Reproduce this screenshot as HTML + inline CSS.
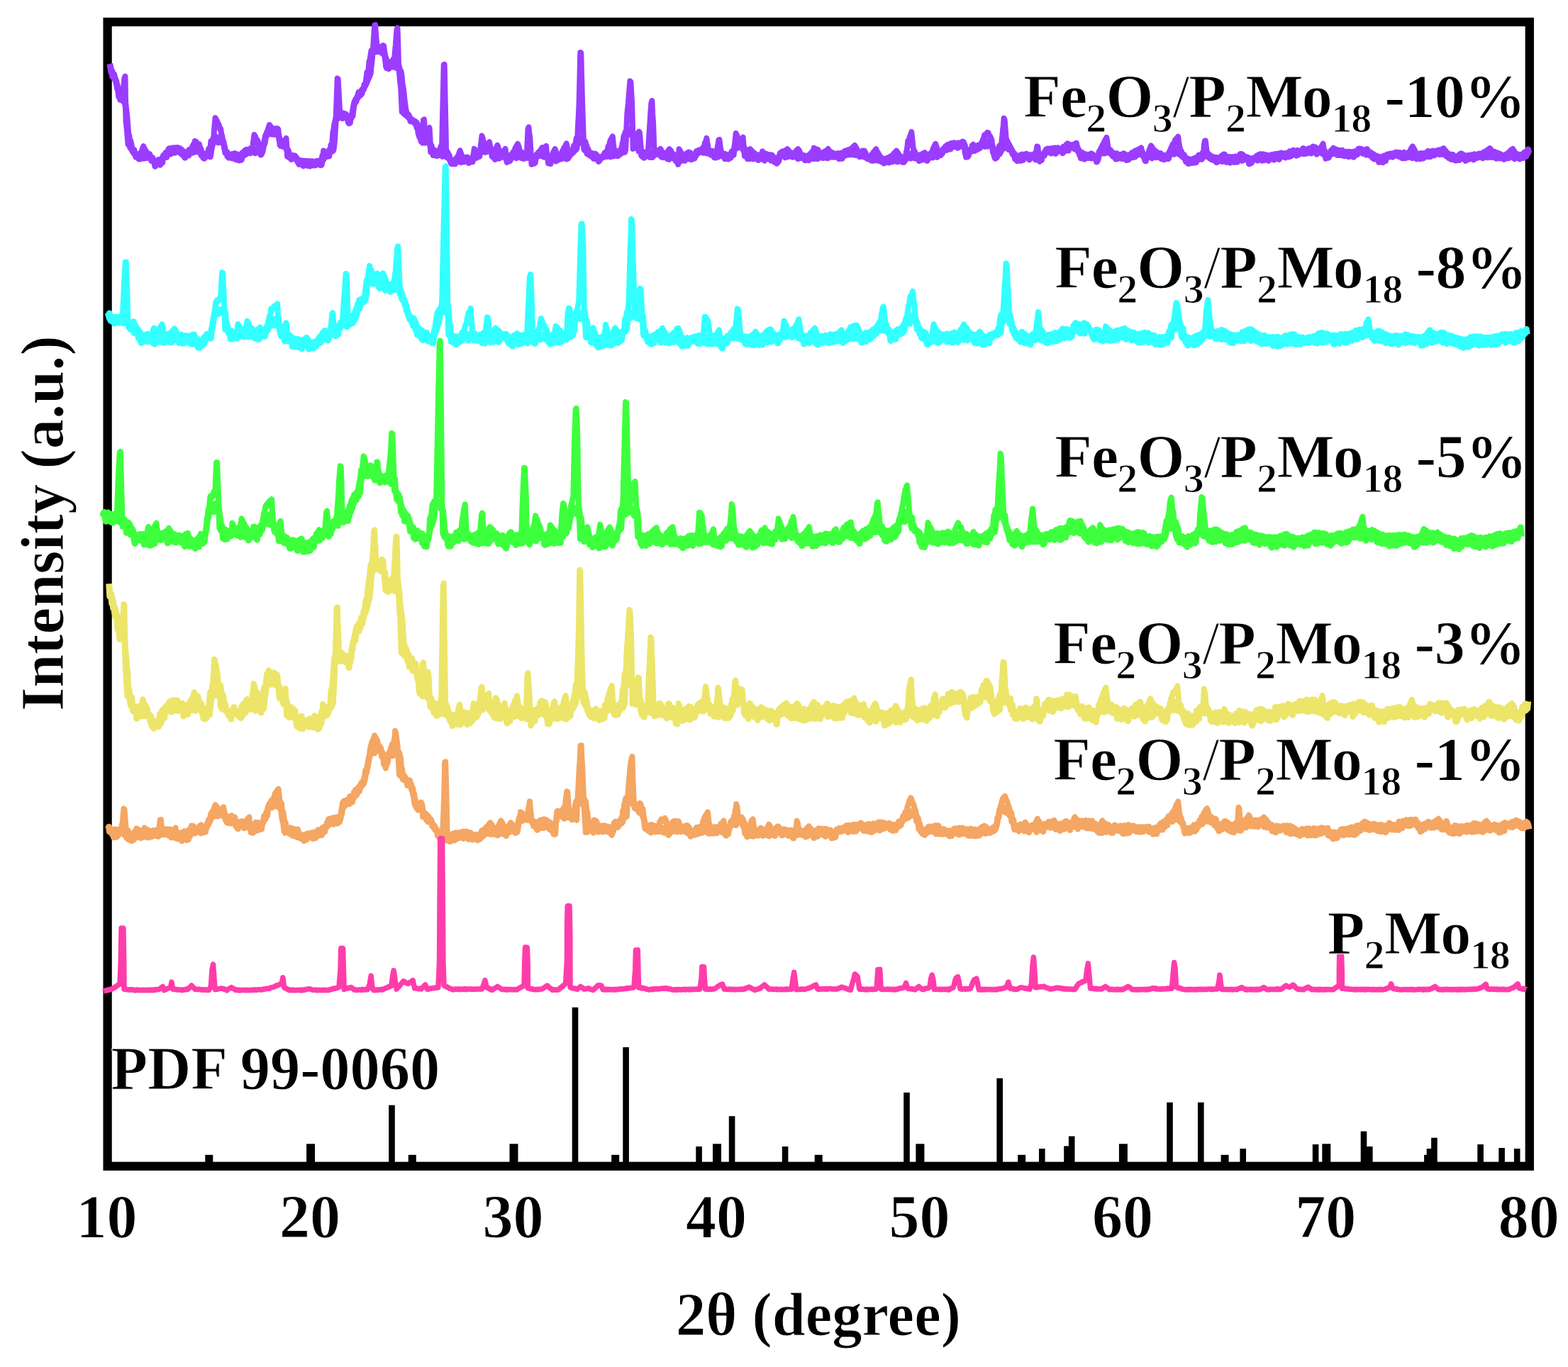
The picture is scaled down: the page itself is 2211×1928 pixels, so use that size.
<!DOCTYPE html>
<html lang="en"><head><meta charset="utf-8"><title>XRD patterns</title>
<style>html,body{margin:0;padding:0;background:#fff}svg{display:block}text{font-family:"Liberation Serif","DejaVu Serif",serif;font-weight:bold;fill:#000;stroke:#fff;stroke-width:1px;stroke-linejoin:round}.s{stroke-width:1.2px}</style></head><body>
<svg width="2211" height="1928" viewBox="0 0 2211 1928">
<rect x="0" y="0" width="2211" height="1928" fill="#fff"/>
<g fill="#000"><rect x="432.1" y="1613.3" width="12" height="30"/><rect x="718.5" y="1613.3" width="12" height="30"/><rect x="1005.0" y="1613.3" width="12" height="30"/><rect x="1291.4" y="1613.3" width="12" height="30"/><rect x="1577.9" y="1613.3" width="12" height="30"/><rect x="1864.3" y="1613.3" width="12" height="30"/><rect x="289.3" y="1628.8" width="11" height="14"/><rect x="575.8" y="1628.8" width="11" height="14"/><rect x="862.2" y="1628.8" width="11" height="14"/><rect x="1148.7" y="1628.8" width="11" height="14"/><rect x="1435.2" y="1628.8" width="11" height="14"/><rect x="1721.6" y="1628.8" width="11" height="14"/><rect x="2008.1" y="1628.8" width="11" height="14"/><rect x="548.2" y="1558.7" width="8.6" height="83.3"/><rect x="806.7" y="1420.8" width="8.6" height="221.2"/><rect x="878.3" y="1477.0" width="8.6" height="165.0"/><rect x="981.3" y="1617.0" width="8.6" height="25.0"/><rect x="1027.8" y="1574.2" width="8.6" height="67.8"/><rect x="1102.8" y="1617.0" width="8.6" height="25.0"/><rect x="1274.2" y="1540.9" width="8.6" height="101.1"/><rect x="1405.4" y="1520.7" width="8.6" height="121.3"/><rect x="1465.0" y="1620.0" width="8.6" height="22.0"/><rect x="1500.2" y="1616.4" width="8.6" height="25.6"/><rect x="1506.9" y="1602.5" width="8.6" height="39.5"/><rect x="1645.2" y="1554.8" width="8.6" height="87.2"/><rect x="1689.0" y="1554.8" width="8.6" height="87.2"/><rect x="1748.4" y="1620.0" width="8.6" height="22.0"/><rect x="1850.8" y="1614.0" width="8.6" height="28.0"/><rect x="1918.7" y="1595.6" width="8.6" height="46.4"/><rect x="1927.0" y="1617.0" width="8.6" height="25.0"/><rect x="2011.7" y="1620.0" width="8.6" height="22.0"/><rect x="2018.1" y="1604.7" width="8.6" height="37.3"/><rect x="2083.3" y="1614.0" width="8.6" height="28.0"/><rect x="2113.3" y="1619.0" width="8.6" height="23.0"/><rect x="2134.9" y="1620.0" width="8.6" height="22.0"/></g>
<rect x="151.6" y="31.0" width="2005.2" height="1613.8" fill="none" stroke="#000" stroke-width="12.3"/>
<polyline points="154.8,90.0 155.8,94.6 156.8,101.9 157.8,99.8 158.8,108.2 159.8,105.3 160.8,105.2 161.8,111.6 162.8,112.4 163.8,114.5 164.8,120.4 165.8,125.7 166.8,127.3 167.8,136.6 168.8,135.0 169.8,140.6 170.8,139.1 171.8,137.7 172.8,140.5 173.8,142.6 174.8,141.0 175.8,144.9 176.8,146.9 177.8,154.8 178.8,163.7 179.8,177.1 180.8,189.2 181.8,191.4 182.8,200.4 183.8,198.8 184.8,203.3 185.8,209.7 186.8,212.6 187.8,214.6 188.8,211.2 189.8,216.5 190.8,215.7 191.8,221.2 192.8,220.5 193.8,221.8 194.8,222.5 195.8,224.0 196.8,219.6 197.8,224.0 198.8,218.1 199.8,223.0 200.8,216.5 201.8,221.7 202.8,223.2 203.8,220.3 204.8,218.7 205.8,222.6 206.8,222.5 207.8,221.7 208.8,219.0 209.8,221.0 210.8,217.5 211.8,223.0 212.8,222.4 213.8,226.7 214.8,222.5 215.8,227.3 216.8,225.7 217.8,228.4 218.8,234.3 219.8,232.6 220.8,231.5 221.8,228.8 222.8,226.3 223.8,225.4 224.8,229.2 225.8,232.3 226.8,229.3 227.8,224.0 228.8,229.2 229.8,221.7 230.8,219.0 231.8,221.7 232.8,220.0 233.8,215.6 234.8,221.5 235.8,215.0 236.8,214.8 237.8,210.8 238.8,209.8 239.8,217.1 240.8,216.9 241.8,213.9 242.8,209.0 243.8,209.8 244.8,209.8 245.8,208.7 246.8,215.3 247.8,212.4 248.8,208.9 249.8,210.9 250.8,212.5 251.8,213.0 252.8,213.0 253.8,209.9 254.8,216.1 255.8,211.1 256.8,215.1 257.8,218.6 258.8,214.3 259.8,214.1 260.8,222.3 261.8,219.7 262.8,215.3 263.8,219.0 264.8,213.9 265.8,219.2 266.9,211.5 267.9,211.1 268.9,211.0 269.9,213.6 270.9,215.3 271.9,210.0 272.9,214.5 273.9,211.4 274.9,211.8 275.9,213.7 276.9,210.0 277.9,213.9 278.9,210.9 279.9,209.3 280.9,213.4 281.9,212.7 282.9,209.8 283.9,219.0 284.9,219.3 285.9,218.4 286.9,222.7 287.9,223.2 288.9,217.2 289.9,217.4 290.9,220.7 291.9,219.1 292.9,219.6 293.9,213.0 294.9,209.9 295.9,208.8 296.9,210.5 297.9,199.2 298.9,204.5 299.9,199.5 300.9,196.2 301.9,193.6 302.9,196.5 303.9,196.5 304.9,193.3 305.9,196.2 306.9,200.6 307.9,200.8 308.9,198.7 309.9,196.1 310.9,200.1 311.9,193.2 312.9,199.8 313.9,201.6 314.9,199.9 315.9,205.1 316.9,209.3 317.9,215.4 318.9,215.9 319.9,214.5 320.9,220.5 321.9,218.8 322.9,222.2 323.9,219.3 324.9,219.5 325.9,219.6 326.9,218.2 327.9,223.2 328.9,222.3 329.9,220.1 330.9,221.9 331.9,222.6 332.9,224.9 333.9,218.1 334.9,218.1 335.9,225.1 336.9,226.1 337.9,224.4 338.9,222.6 339.9,225.4 340.9,223.8 341.9,215.8 342.9,219.5 343.9,219.1 344.9,213.5 345.9,217.0 346.9,217.1 347.9,213.0 348.9,212.0 349.9,213.0 350.9,214.7 351.9,213.1 352.9,215.8 353.9,211.6 354.9,210.2 355.9,208.7 356.9,213.5 357.9,212.1 358.9,212.6 359.9,215.8 360.9,214.7 361.9,213.8 362.9,212.7 363.9,209.7 364.9,211.9 365.9,211.3 366.9,213.7 367.9,218.2 368.9,214.0 369.9,214.2 370.9,209.1 371.9,203.3 372.9,202.9 373.9,197.1 374.9,191.2 375.9,189.1 376.9,189.3 377.9,189.8 378.9,182.3 379.9,182.3 380.9,187.0 381.9,184.0 382.9,182.9 383.9,189.1 384.9,186.7 385.9,183.0 386.9,189.4 387.9,185.3 388.9,181.8 389.9,181.9 390.9,183.2 391.9,190.5 392.9,191.3 393.9,196.0 394.9,199.0 395.9,203.3 396.9,202.3 397.9,204.2 398.9,204.6 399.9,206.9 400.9,203.9 401.9,207.1 402.9,203.5 403.9,208.4 404.9,212.3 405.9,211.7 406.9,214.9 407.9,221.9 408.9,218.3 409.9,220.7 410.9,224.5 411.9,222.1 412.9,222.4 413.9,222.3 414.9,220.0 415.9,220.1 416.9,222.0 417.9,222.6 418.9,224.2 419.9,228.1 420.9,229.4 421.9,231.5 422.9,230.3 423.9,226.7 424.9,229.0 425.9,228.8 426.9,226.9 427.9,233.8 428.9,227.5 429.9,231.7 430.9,227.2 431.9,229.8 432.9,227.5 433.9,233.4 434.9,231.6 435.9,232.7 436.9,234.1 437.9,228.3 438.9,229.4 439.9,230.2 440.9,231.7 441.9,233.0 442.9,230.2 443.9,229.1 444.9,233.0 445.9,227.6 446.9,230.2 447.9,227.2 448.9,231.2 449.9,229.9 450.9,226.7 451.9,232.7 452.9,232.5 453.9,226.0 454.9,219.7 455.9,224.9 456.9,217.6 457.9,219.4 458.9,214.4 459.9,219.0 460.9,220.7 461.9,216.0 462.9,216.0 463.9,219.9 464.9,211.3 465.9,212.6 466.9,205.1 467.9,203.4 468.9,200.9 469.9,186.7 470.9,182.2 471.9,175.1 472.9,171.4 473.9,167.1 474.9,164.9 475.9,164.5 476.9,166.4 477.9,164.9 478.9,161.0 479.9,159.1 480.9,164.5 481.9,163.0 482.9,166.7 483.9,160.0 484.9,161.4 485.9,164.6 486.9,162.3 487.9,163.0 489.0,164.5 490.0,165.1 491.0,171.1 492.0,173.7 493.0,168.4 494.0,167.5 495.0,163.5 496.0,163.5 497.0,163.7 498.0,154.4 499.0,148.2 500.0,143.9 501.0,142.0 502.0,143.2 503.0,139.4 504.0,138.3 505.0,136.9 506.0,130.5 507.0,133.0 508.0,134.2 509.0,132.7 510.0,131.9 511.0,126.3 512.0,125.6 513.0,125.1 514.0,119.2 515.0,120.1 516.0,117.1 517.0,110.0 518.0,101.9 519.0,101.0 520.0,98.8 521.0,86.5 522.0,85.4 523.0,77.9 524.0,71.7 525.0,75.8 526.0,70.6 527.0,73.8 528.0,67.3 529.0,68.2 530.0,69.5 531.0,72.5 532.0,66.9 533.0,72.6 534.0,67.5 535.0,67.0 536.0,67.2 537.0,71.1 538.0,73.9 539.0,75.0 540.0,67.7 541.0,71.0 542.0,75.0 543.0,79.3 544.0,82.4 545.0,85.0 546.0,87.5 547.0,89.8 548.0,96.7 549.0,94.9 550.0,94.6 551.0,87.8 552.0,90.5 553.0,92.8 554.0,94.3 555.0,90.9 556.0,92.3 557.0,92.2 558.0,93.1 559.0,95.5 560.0,92.9 561.0,94.5 562.0,92.5 563.0,96.3 564.0,100.9 565.0,100.4 566.0,106.8 567.0,117.6 568.0,122.9 569.0,129.7 570.0,140.8 571.0,149.0 572.0,155.0 573.0,158.6 574.0,161.4 575.0,162.3 576.0,162.2 577.0,165.1 578.0,166.7 579.0,170.9 580.0,169.5 581.0,169.7 582.0,171.2 583.0,170.3 584.0,172.4 585.0,171.7 586.0,174.8 587.0,174.7 588.0,180.0 589.0,176.3 590.0,187.1 591.0,190.9 592.0,193.8 593.0,191.1 594.0,199.1 595.0,196.8 596.0,201.2 597.0,196.9 598.0,199.2 599.0,201.2 600.0,197.8 601.0,196.8 602.0,195.0 603.0,199.7 604.0,196.7 605.0,197.0 606.0,201.8 607.0,206.4 608.0,205.1 609.0,209.9 610.0,213.0 611.0,218.8 612.0,211.7 613.0,215.7 614.0,217.0 615.0,214.9 616.0,219.5 617.0,219.5 618.0,217.1 619.0,215.5 620.0,215.7 621.0,213.8 622.0,219.0 623.0,214.5 624.0,220.4 625.0,213.6 626.0,218.2 627.0,214.3 628.0,216.5 629.0,218.5 630.0,221.5 631.0,215.0 632.0,218.3 633.0,218.7 634.0,223.2 635.0,226.5 636.0,229.3 637.0,230.9 638.0,230.7 639.0,227.3 640.0,230.2 641.0,230.9 642.0,230.6 643.0,226.0 644.0,223.0 645.0,227.8 646.0,223.2 647.0,222.9 648.0,223.8 649.0,225.8 650.0,228.7 651.0,222.6 652.0,226.1 653.0,228.1 654.0,228.0 655.0,224.9 656.0,225.1 657.0,222.9 658.0,223.1 659.0,225.8 660.0,225.0 661.0,229.6 662.0,228.7 663.0,226.2 664.0,225.4 665.0,224.1 666.0,226.6 667.0,224.0 668.0,218.2 669.0,218.7 670.0,218.6 671.0,219.7 672.0,222.4 673.0,219.1 674.0,216.1 675.0,214.1 676.0,212.5 677.0,212.8 678.0,211.9 679.0,212.4 680.0,208.3 681.0,213.2 682.0,214.1 683.0,210.2 684.0,207.3 685.0,214.4 686.0,212.3 687.0,209.1 688.0,212.9 689.0,209.9 690.0,207.4 691.0,212.9 692.0,212.6 693.0,210.1 694.0,212.0 695.0,217.0 696.0,217.8 697.0,220.2 698.0,224.5 699.0,216.5 700.0,217.9 701.0,216.5 702.0,216.4 703.0,220.9 704.0,223.2 705.0,220.2 706.0,220.9 707.0,221.0 708.0,216.6 709.0,218.6 710.0,219.2 711.1,221.4 712.1,216.5 713.1,218.8 714.1,224.7 715.1,225.9 716.1,223.2 717.1,224.3 718.1,226.9 719.1,226.4 720.1,223.4 721.1,219.0 722.1,222.3 723.1,221.5 724.1,218.5 725.1,221.5 726.1,221.3 727.1,216.0 728.1,222.7 729.1,219.1 730.1,217.0 731.1,220.0 732.1,215.9 733.1,219.1 734.1,216.9 735.1,222.6 736.1,215.4 737.1,222.4 738.1,223.6 739.1,220.6 740.1,222.8 741.1,221.9 742.1,222.6 743.1,218.6 744.1,221.7 745.1,221.3 746.1,222.2 747.1,219.7 748.1,219.6 749.1,224.7 750.1,222.7 751.1,227.1 752.1,229.7 753.1,230.2 754.1,229.5 755.1,224.9 756.1,220.2 757.1,218.3 758.1,217.2 759.1,216.7 760.1,217.9 761.1,215.4 762.1,219.6 763.1,216.0 764.1,215.1 765.1,215.2 766.1,213.8 767.1,221.1 768.1,218.1 769.1,221.5 770.1,221.5 771.1,216.9 772.1,222.0 773.1,225.0 774.1,225.7 775.1,223.5 776.1,230.6 777.1,222.7 778.1,226.7 779.1,222.7 780.1,221.9 781.1,219.1 782.1,225.0 783.1,220.7 784.1,227.0 785.1,226.2 786.1,224.7 787.1,222.1 788.1,224.8 789.1,223.1 790.1,223.0 791.1,224.0 792.1,222.2 793.1,221.8 794.1,218.9 795.1,218.3 796.1,221.9 797.1,223.2 798.1,222.3 799.1,224.0 800.1,222.1 801.1,223.1 802.1,216.7 803.1,217.4 804.1,217.5 805.1,216.2 806.1,213.9 807.1,213.4 808.1,211.7 809.1,206.8 810.1,205.1 811.1,204.8 812.1,202.8 813.1,195.1 814.1,198.7 815.1,197.0 816.1,198.9 817.1,195.7 818.1,201.4 819.1,197.6 820.1,196.6 821.1,198.3 822.1,196.7 823.1,201.2 824.1,199.3 825.1,200.2 826.1,205.8 827.1,206.2 828.1,216.7 829.1,210.6 830.1,217.9 831.1,214.6 832.1,217.0 833.1,220.1 834.1,216.2 835.1,220.3 836.1,219.4 837.1,223.4 838.1,221.6 839.1,217.1 840.1,220.5 841.1,218.7 842.1,224.4 843.1,224.4 844.1,227.4 845.1,225.7 846.1,223.3 847.1,221.7 848.1,222.6 849.1,221.9 850.1,221.6 851.1,219.3 852.1,218.1 853.1,215.5 854.1,217.5 855.1,218.4 856.1,220.6 857.1,220.1 858.1,214.5 859.1,215.2 860.1,214.1 861.1,220.9 862.1,217.8 863.1,214.6 864.1,213.0 865.1,220.0 866.1,218.1 867.1,213.6 868.1,213.6 869.1,217.4 870.1,213.7 871.1,219.8 872.1,217.5 873.1,218.3 874.1,215.1 875.1,216.6 876.1,209.8 877.1,209.7 878.1,202.0 879.1,199.4 880.1,191.6 881.1,191.3 882.1,186.6 883.1,188.4 884.1,188.2 885.1,189.5 886.1,182.2 887.1,185.0 888.1,189.5 889.1,183.8 890.1,182.7 891.1,186.0 892.1,187.5 893.1,187.8 894.1,192.6 895.1,198.5 896.1,207.8 897.1,208.1 898.1,209.1 899.1,208.8 900.1,208.1 901.1,213.3 902.1,212.7 903.1,214.0 904.1,215.7 905.1,218.7 906.1,216.7 907.1,214.3 908.1,222.3 909.1,215.6 910.1,220.4 911.1,216.4 912.1,220.0 913.1,218.8 914.1,216.3 915.1,214.2 916.1,221.4 917.1,221.1 918.1,221.6 919.1,221.2 920.1,221.4 921.1,220.0 922.1,218.3 923.1,217.5 924.1,218.0 925.1,214.9 926.1,214.3 927.1,216.8 928.1,214.4 929.1,217.5 930.1,218.0 931.1,215.8 932.1,220.5 933.2,216.7 934.2,221.8 935.2,218.8 936.2,220.4 937.2,216.9 938.2,217.6 939.2,220.6 940.2,222.7 941.2,223.7 942.2,217.5 943.2,224.5 944.2,219.5 945.2,220.9 946.2,219.8 947.2,221.0 948.2,222.4 949.2,217.3 950.2,220.9 951.2,224.3 952.2,221.8 953.2,227.1 954.2,227.4 955.2,226.1 956.2,226.5 957.2,224.3 958.2,227.1 959.2,227.4 960.2,220.4 961.2,221.1 962.2,224.4 963.2,224.5 964.2,220.8 965.2,226.4 966.2,217.8 967.2,223.8 968.2,218.1 969.2,217.5 970.2,223.6 971.2,218.9 972.2,219.4 973.2,219.0 974.2,224.7 975.2,224.5 976.2,221.5 977.2,223.2 978.2,223.4 979.2,223.2 980.2,220.2 981.2,219.3 982.2,213.6 983.2,215.3 984.2,215.9 985.2,212.0 986.2,212.7 987.2,214.6 988.2,212.9 989.2,214.0 990.2,211.8 991.2,214.9 992.2,215.3 993.2,208.9 994.2,211.3 995.2,214.5 996.2,215.9 997.2,210.1 998.2,213.4 999.2,211.5 1000.2,215.6 1001.2,217.1 1002.2,218.1 1003.2,216.6 1004.2,213.2 1005.2,214.9 1006.2,219.8 1007.2,221.7 1008.2,218.0 1009.2,222.1 1010.2,220.2 1011.2,217.3 1012.2,221.2 1013.2,218.8 1014.2,216.7 1015.2,218.3 1016.2,215.5 1017.2,218.2 1018.2,220.0 1019.2,218.5 1020.2,216.9 1021.2,220.4 1022.2,223.7 1023.2,217.6 1024.2,221.0 1025.2,223.3 1026.2,222.6 1027.2,223.9 1028.2,220.5 1029.2,221.4 1030.2,222.2 1031.2,216.1 1032.2,213.7 1033.2,217.3 1034.2,215.4 1035.2,212.5 1036.2,206.8 1037.2,202.9 1038.2,208.6 1039.2,202.3 1040.2,208.2 1041.2,204.1 1042.2,202.3 1043.2,202.5 1044.2,205.2 1045.2,204.8 1046.2,204.5 1047.2,205.1 1048.2,211.6 1049.2,211.2 1050.2,209.7 1051.2,217.1 1052.2,219.7 1053.2,216.0 1054.2,223.7 1055.2,216.8 1056.2,222.3 1057.2,223.7 1058.2,217.5 1059.2,223.1 1060.2,223.0 1061.2,216.8 1062.2,223.9 1063.2,218.0 1064.2,223.4 1065.2,221.0 1066.2,223.0 1067.2,219.6 1068.2,219.9 1069.2,225.5 1070.2,222.7 1071.2,221.6 1072.2,218.2 1073.2,218.1 1074.2,224.1 1075.2,218.5 1076.2,224.4 1077.2,223.2 1078.2,226.2 1079.2,223.7 1080.2,220.9 1081.2,218.6 1082.2,219.5 1083.2,218.9 1084.2,224.1 1085.2,218.6 1086.2,221.9 1087.2,226.2 1088.2,219.0 1089.2,222.8 1090.2,221.3 1091.2,224.4 1092.2,228.5 1093.2,225.2 1094.2,224.5 1095.2,230.2 1096.2,226.0 1097.2,228.2 1098.2,225.7 1099.2,221.0 1100.2,216.7 1101.2,217.4 1102.2,218.9 1103.2,214.0 1104.2,217.6 1105.2,219.9 1106.2,218.3 1107.2,221.7 1108.2,221.2 1109.2,217.4 1110.2,220.0 1111.2,220.8 1112.2,213.8 1113.2,216.4 1114.2,217.8 1115.2,219.4 1116.2,216.0 1117.2,220.9 1118.2,216.3 1119.2,216.9 1120.2,218.0 1121.2,221.0 1122.2,217.4 1123.2,221.1 1124.2,216.9 1125.2,223.6 1126.2,218.5 1127.2,217.6 1128.2,222.6 1129.2,217.3 1130.2,222.4 1131.2,222.1 1132.2,220.4 1133.2,222.2 1134.2,219.9 1135.2,225.7 1136.2,225.8 1137.2,224.5 1138.2,222.5 1139.2,223.0 1140.2,225.8 1141.2,218.5 1142.2,221.4 1143.2,221.5 1144.2,220.9 1145.2,219.4 1146.2,223.8 1147.2,217.2 1148.2,218.5 1149.2,216.0 1150.2,223.5 1151.2,218.9 1152.2,222.6 1153.2,223.6 1154.2,216.1 1155.2,217.9 1156.3,221.4 1157.3,220.2 1158.3,217.9 1159.3,218.3 1160.3,222.6 1161.3,215.1 1162.3,221.8 1163.3,216.9 1164.3,222.4 1165.3,221.9 1166.3,218.3 1167.3,222.8 1168.3,219.9 1169.3,221.5 1170.3,218.6 1171.3,217.8 1172.3,217.2 1173.3,221.1 1174.3,215.8 1175.3,221.2 1176.3,221.3 1177.3,221.1 1178.3,217.9 1179.3,221.2 1180.3,218.2 1181.3,216.6 1182.3,220.2 1183.3,223.7 1184.3,219.8 1185.3,219.0 1186.3,215.9 1187.3,223.4 1188.3,219.7 1189.3,218.8 1190.3,217.8 1191.3,213.3 1192.3,219.0 1193.3,216.4 1194.3,214.1 1195.3,211.9 1196.3,217.7 1197.3,217.9 1198.3,211.8 1199.3,213.2 1200.3,214.7 1201.3,217.6 1202.3,212.7 1203.3,211.5 1204.3,214.0 1205.3,218.4 1206.3,215.3 1207.3,213.0 1208.3,211.6 1209.3,218.5 1210.3,219.4 1211.3,215.2 1212.3,220.8 1213.3,218.2 1214.3,218.2 1215.3,216.1 1216.3,216.9 1217.3,218.1 1218.3,220.9 1219.3,220.7 1220.3,219.3 1221.3,219.5 1222.3,222.7 1223.3,223.8 1224.3,220.9 1225.3,222.9 1226.3,221.0 1227.3,223.8 1228.3,226.0 1229.3,220.9 1230.3,226.4 1231.3,223.7 1232.3,220.0 1233.3,221.2 1234.3,226.1 1235.3,219.9 1236.3,221.6 1237.3,225.1 1238.3,223.0 1239.3,226.5 1240.3,220.1 1241.3,224.2 1242.3,227.6 1243.3,226.1 1244.3,226.2 1245.3,224.7 1246.3,229.9 1247.3,229.6 1248.3,228.1 1249.3,224.1 1250.3,224.5 1251.3,223.1 1252.3,228.3 1253.3,229.1 1254.3,223.2 1255.3,221.2 1256.3,221.7 1257.3,227.6 1258.3,227.9 1259.3,220.9 1260.3,221.4 1261.3,224.2 1262.3,223.4 1263.3,227.2 1264.3,222.3 1265.3,227.9 1266.3,219.8 1267.3,224.9 1268.3,226.7 1269.3,222.4 1270.3,223.7 1271.3,222.5 1272.3,228.3 1273.3,224.6 1274.3,228.6 1275.3,224.7 1276.3,226.2 1277.3,222.3 1278.3,219.1 1279.3,221.4 1280.3,216.9 1281.3,218.8 1282.3,222.4 1283.3,222.7 1284.3,223.1 1285.3,219.4 1286.3,216.4 1287.3,215.0 1288.3,215.4 1289.3,219.2 1290.3,223.1 1291.3,221.2 1292.3,219.0 1293.3,218.9 1294.3,221.4 1295.3,219.0 1296.3,226.8 1297.3,224.0 1298.3,218.6 1299.3,218.8 1300.3,225.2 1301.3,218.9 1302.3,221.5 1303.3,220.4 1304.3,224.8 1305.3,221.2 1306.3,225.0 1307.3,226.5 1308.3,219.0 1309.3,223.7 1310.3,217.8 1311.3,218.6 1312.3,216.5 1313.3,216.2 1314.3,214.7 1315.3,222.0 1316.3,219.6 1317.3,217.7 1318.3,215.3 1319.3,219.6 1320.3,215.5 1321.3,221.4 1322.3,217.0 1323.3,218.0 1324.3,213.7 1325.3,218.3 1326.3,218.8 1327.3,213.6 1328.3,216.6 1329.3,213.1 1330.3,212.8 1331.3,209.9 1332.3,211.3 1333.3,206.7 1334.3,211.6 1335.3,205.4 1336.3,204.6 1337.3,209.1 1338.3,210.3 1339.3,203.5 1340.3,209.8 1341.3,202.4 1342.3,203.8 1343.3,205.2 1344.3,206.5 1345.3,201.8 1346.3,206.6 1347.3,202.2 1348.3,205.8 1349.3,205.0 1350.3,208.3 1351.3,207.1 1352.3,207.1 1353.3,204.5 1354.3,205.8 1355.3,205.3 1356.3,201.7 1357.3,200.0 1358.3,200.7 1359.3,203.3 1360.3,205.2 1361.3,215.4 1362.3,217.7 1363.3,214.9 1364.3,220.8 1365.3,219.6 1366.3,215.5 1367.3,213.9 1368.3,212.6 1369.3,213.3 1370.3,213.1 1371.3,211.5 1372.3,205.3 1373.3,209.3 1374.3,212.5 1375.3,209.4 1376.3,209.6 1377.3,211.1 1378.4,209.0 1379.4,205.1 1380.4,206.8 1381.4,207.6 1382.4,204.3 1383.4,203.6 1384.4,202.1 1385.4,199.6 1386.4,199.3 1387.4,200.3 1388.4,206.4 1389.4,199.0 1390.4,202.8 1391.4,201.9 1392.4,206.3 1393.4,199.5 1394.4,204.6 1395.4,200.9 1396.4,205.4 1397.4,205.0 1398.4,205.4 1399.4,206.4 1400.4,214.6 1401.4,212.7 1402.4,219.0 1403.4,223.3 1404.4,221.4 1405.4,222.0 1406.4,215.7 1407.4,210.8 1408.4,210.0 1409.4,205.8 1410.4,206.7 1411.4,209.7 1412.4,208.6 1413.4,202.3 1414.4,209.6 1415.4,209.2 1416.4,203.9 1417.4,202.9 1418.4,207.7 1419.4,203.2 1420.4,207.7 1421.4,204.1 1422.4,210.7 1423.4,211.0 1424.4,211.3 1425.4,210.4 1426.4,212.2 1427.4,215.3 1428.4,217.8 1429.4,218.3 1430.4,216.9 1431.4,223.8 1432.4,223.8 1433.4,222.8 1434.4,226.8 1435.4,221.9 1436.4,220.2 1437.4,220.8 1438.4,219.2 1439.4,226.4 1440.4,218.6 1441.4,218.1 1442.4,225.6 1443.4,219.6 1444.4,220.8 1445.4,219.7 1446.4,218.7 1447.4,217.3 1448.4,220.2 1449.4,218.9 1450.4,221.5 1451.4,224.9 1452.4,223.3 1453.4,222.8 1454.4,220.5 1455.4,219.3 1456.4,219.9 1457.4,220.5 1458.4,219.2 1459.4,217.7 1460.4,224.9 1461.4,217.1 1462.4,222.8 1463.4,217.6 1464.4,221.6 1465.4,220.9 1466.4,223.9 1467.4,222.4 1468.4,225.8 1469.4,219.4 1470.4,220.3 1471.4,217.1 1472.4,219.3 1473.4,214.0 1474.4,215.3 1475.4,210.7 1476.4,212.2 1477.4,210.1 1478.4,214.6 1479.4,215.1 1480.4,210.0 1481.4,213.2 1482.4,216.1 1483.4,212.4 1484.4,212.5 1485.4,212.8 1486.4,209.1 1487.4,209.6 1488.4,216.4 1489.4,210.4 1490.4,213.4 1491.4,208.7 1492.4,211.2 1493.4,210.5 1494.4,212.9 1495.4,213.2 1496.4,213.9 1497.4,212.0 1498.4,215.7 1499.4,207.3 1500.4,207.0 1501.4,207.4 1502.4,212.5 1503.4,208.3 1504.4,207.0 1505.4,211.8 1506.4,211.9 1507.4,204.4 1508.4,206.3 1509.4,204.4 1510.4,208.0 1511.4,205.6 1512.4,207.4 1513.4,204.2 1514.4,207.1 1515.4,210.1 1516.4,207.2 1517.4,208.5 1518.4,210.8 1519.4,211.7 1520.4,213.7 1521.4,213.5 1522.4,217.9 1523.4,218.0 1524.4,223.0 1525.4,215.2 1526.4,222.8 1527.4,223.0 1528.4,221.9 1529.4,224.2 1530.4,217.6 1531.4,218.3 1532.4,222.4 1533.4,222.3 1534.4,222.4 1535.4,218.2 1536.4,220.1 1537.4,222.7 1538.4,222.8 1539.4,223.1 1540.4,217.9 1541.4,221.8 1542.4,220.4 1543.4,219.9 1544.4,221.6 1545.4,221.1 1546.4,228.1 1547.4,226.8 1548.4,223.5 1549.4,218.5 1550.4,213.4 1551.4,214.9 1552.4,214.2 1553.4,209.7 1554.4,211.5 1555.4,211.1 1556.4,216.1 1557.4,216.1 1558.4,214.9 1559.4,212.1 1560.4,212.4 1561.4,214.8 1562.4,210.8 1563.4,215.2 1564.4,214.6 1565.4,211.5 1566.4,216.7 1567.4,216.6 1568.4,214.9 1569.4,220.4 1570.4,217.4 1571.4,219.0 1572.4,220.5 1573.4,224.2 1574.4,216.8 1575.4,221.2 1576.4,223.4 1577.4,219.0 1578.4,221.0 1579.4,221.1 1580.4,218.7 1581.4,218.2 1582.4,223.8 1583.4,218.6 1584.4,218.2 1585.4,223.2 1586.4,219.7 1587.4,219.6 1588.4,225.5 1589.4,222.0 1590.4,220.6 1591.4,224.9 1592.4,218.4 1593.4,220.3 1594.4,221.6 1595.4,220.0 1596.4,215.5 1597.4,221.8 1598.4,217.8 1599.4,220.8 1600.5,221.0 1601.5,215.2 1602.5,219.1 1603.5,218.5 1604.5,215.8 1605.5,215.7 1606.5,214.5 1607.5,215.3 1608.5,214.1 1609.5,218.2 1610.5,215.7 1611.5,216.7 1612.5,220.8 1613.5,220.4 1614.5,225.4 1615.5,226.9 1616.5,218.6 1617.5,221.6 1618.5,217.6 1619.5,218.1 1620.5,219.2 1621.5,218.7 1622.5,221.6 1623.5,215.0 1624.5,222.9 1625.5,216.7 1626.5,215.3 1627.5,216.0 1628.5,220.8 1629.5,220.8 1630.5,221.8 1631.5,215.4 1632.5,216.4 1633.5,216.1 1634.5,217.3 1635.5,218.8 1636.5,216.6 1637.5,223.7 1638.5,218.9 1639.5,220.4 1640.5,223.9 1641.5,224.8 1642.5,219.3 1643.5,223.0 1644.5,222.3 1645.5,223.5 1646.5,221.4 1647.5,223.6 1648.5,215.6 1649.5,219.1 1650.5,211.5 1651.5,210.7 1652.5,210.8 1653.5,215.6 1654.5,210.6 1655.5,217.2 1656.5,212.4 1657.5,212.0 1658.5,210.7 1659.5,209.8 1660.5,215.4 1661.5,216.5 1662.5,217.2 1663.5,209.3 1664.5,214.1 1665.5,213.9 1666.5,217.3 1667.5,219.7 1668.5,221.8 1669.5,218.5 1670.5,221.1 1671.5,224.9 1672.5,227.9 1673.5,224.9 1674.5,226.6 1675.5,230.5 1676.5,225.5 1677.5,230.3 1678.5,227.9 1679.5,225.3 1680.5,227.4 1681.5,224.7 1682.5,229.5 1683.5,228.1 1684.5,223.4 1685.5,223.9 1686.5,228.9 1687.5,223.9 1688.5,224.4 1689.5,220.9 1690.5,219.0 1691.5,224.4 1692.5,219.7 1693.5,222.4 1694.5,224.3 1695.5,218.7 1696.5,220.4 1697.5,217.7 1698.5,218.4 1699.5,218.2 1700.5,220.4 1701.5,217.6 1702.5,216.2 1703.5,218.9 1704.5,218.0 1705.5,222.7 1706.5,221.2 1707.5,224.2 1708.5,224.7 1709.5,221.0 1710.5,221.7 1711.5,222.6 1712.5,225.7 1713.5,222.4 1714.5,227.4 1715.5,228.7 1716.5,222.6 1717.5,227.8 1718.5,222.6 1719.5,223.5 1720.5,225.4 1721.5,222.4 1722.5,225.2 1723.5,227.5 1724.5,223.1 1725.5,222.3 1726.5,224.9 1727.5,225.1 1728.5,221.5 1729.5,228.4 1730.5,221.6 1731.5,226.0 1732.5,226.1 1733.5,221.4 1734.5,229.2 1735.5,227.5 1736.5,222.3 1737.5,226.4 1738.5,221.6 1739.5,224.2 1740.5,228.6 1741.5,227.0 1742.5,221.0 1743.5,227.2 1744.5,228.2 1745.5,225.8 1746.5,225.4 1747.5,222.0 1748.5,224.4 1749.5,222.8 1750.5,225.6 1751.5,226.4 1752.5,221.7 1753.5,224.9 1754.5,220.3 1755.5,224.8 1756.5,222.3 1757.5,223.8 1758.5,221.7 1759.5,222.5 1760.5,223.1 1761.5,230.9 1762.5,223.5 1763.5,229.5 1764.5,229.5 1765.5,225.2 1766.5,223.6 1767.5,225.5 1768.5,223.7 1769.5,224.6 1770.5,222.6 1771.5,224.0 1772.5,222.4 1773.5,226.1 1774.5,221.5 1775.5,218.3 1776.5,222.5 1777.5,219.6 1778.5,220.7 1779.5,226.3 1780.5,225.0 1781.5,221.7 1782.5,225.8 1783.5,219.6 1784.5,223.8 1785.5,223.4 1786.5,219.1 1787.5,221.1 1788.5,226.4 1789.5,225.5 1790.5,221.1 1791.5,221.2 1792.5,218.7 1793.5,221.7 1794.5,218.4 1795.5,218.3 1796.5,225.1 1797.5,222.0 1798.5,217.5 1799.5,219.0 1800.5,221.7 1801.5,220.1 1802.5,216.9 1803.5,224.5 1804.5,218.8 1805.5,219.7 1806.5,215.9 1807.5,220.6 1808.5,216.7 1809.5,218.5 1810.5,217.3 1811.5,220.2 1812.5,222.0 1813.5,217.0 1814.5,217.0 1815.5,220.4 1816.5,218.0 1817.5,220.9 1818.5,213.8 1819.5,215.3 1820.5,219.9 1821.5,217.2 1822.6,217.2 1823.6,212.2 1824.6,216.2 1825.6,214.2 1826.6,216.7 1827.6,219.2 1828.6,217.4 1829.6,212.3 1830.6,218.1 1831.6,217.6 1832.6,216.2 1833.6,213.4 1834.6,214.9 1835.6,215.6 1836.6,212.4 1837.6,209.6 1838.6,216.8 1839.6,215.9 1840.6,212.7 1841.6,215.3 1842.6,216.2 1843.6,215.6 1844.6,210.8 1845.6,209.8 1846.6,211.1 1847.6,213.9 1848.6,216.1 1849.6,210.1 1850.6,214.3 1851.6,212.1 1852.6,211.3 1853.6,213.4 1854.6,211.3 1855.6,214.2 1856.6,217.2 1857.6,210.2 1858.6,211.4 1859.6,214.6 1860.6,214.6 1861.6,211.9 1862.6,212.6 1863.6,211.7 1864.6,216.4 1865.6,215.5 1866.6,217.8 1867.6,213.3 1868.6,214.3 1869.6,217.5 1870.6,220.4 1871.6,217.3 1872.6,216.9 1873.6,222.2 1874.6,217.2 1875.6,215.6 1876.6,214.3 1877.6,212.1 1878.6,216.9 1879.6,214.2 1880.6,212.8 1881.6,212.6 1882.6,212.9 1883.6,215.9 1884.6,215.6 1885.6,218.6 1886.6,217.8 1887.6,216.7 1888.6,212.4 1889.6,218.5 1890.6,213.5 1891.6,217.0 1892.6,212.2 1893.6,214.0 1894.6,219.6 1895.6,217.5 1896.6,219.8 1897.6,216.5 1898.6,218.6 1899.6,215.3 1900.6,215.7 1901.6,220.7 1902.6,214.2 1903.6,214.5 1904.6,220.0 1905.6,219.4 1906.6,215.4 1907.6,214.5 1908.6,221.2 1909.6,215.4 1910.6,214.0 1911.6,214.4 1912.6,218.1 1913.6,217.9 1914.6,212.8 1915.6,211.2 1916.6,210.4 1917.6,210.0 1918.6,213.4 1919.6,212.4 1920.6,213.0 1921.6,216.2 1922.6,213.8 1923.6,212.0 1924.6,216.1 1925.6,213.9 1926.6,218.2 1927.6,210.6 1928.6,216.9 1929.6,216.9 1930.6,215.4 1931.6,219.2 1932.6,215.1 1933.6,219.5 1934.6,217.7 1935.6,222.5 1936.6,219.5 1937.6,224.0 1938.6,219.5 1939.6,223.1 1940.6,224.3 1941.6,220.2 1942.6,224.8 1943.6,223.7 1944.6,228.5 1945.6,226.8 1946.6,221.6 1947.6,225.9 1948.6,224.4 1949.6,228.8 1950.6,221.3 1951.6,220.1 1952.6,219.8 1953.6,226.6 1954.6,219.2 1955.6,218.8 1956.6,217.9 1957.6,219.4 1958.6,219.3 1959.6,220.8 1960.6,217.0 1961.6,219.5 1962.6,217.2 1963.6,221.2 1964.6,217.8 1965.6,216.9 1966.6,219.2 1967.6,215.3 1968.6,215.1 1969.6,218.4 1970.6,215.9 1971.6,220.3 1972.6,219.5 1973.6,215.4 1974.6,219.5 1975.6,218.0 1976.6,222.5 1977.6,222.8 1978.6,219.8 1979.6,215.2 1980.6,215.8 1981.6,222.7 1982.6,222.2 1983.6,219.7 1984.6,218.1 1985.6,220.4 1986.6,221.6 1987.6,215.6 1988.6,221.5 1989.6,221.4 1990.6,215.3 1991.6,222.7 1992.6,219.8 1993.6,219.8 1994.6,219.8 1995.6,222.5 1996.6,217.9 1997.6,223.9 1998.6,220.4 1999.6,218.2 2000.6,221.9 2001.6,223.7 2002.6,220.4 2003.6,216.4 2004.6,222.4 2005.6,223.2 2006.6,220.7 2007.6,222.6 2008.6,218.0 2009.6,220.8 2010.6,218.6 2011.6,215.4 2012.6,214.6 2013.6,213.6 2014.6,220.8 2015.6,214.4 2016.6,216.9 2017.6,220.4 2018.6,213.7 2019.6,217.0 2020.6,213.0 2021.6,214.7 2022.6,218.9 2023.6,215.6 2024.6,213.7 2025.6,216.1 2026.6,214.8 2027.6,216.4 2028.6,212.3 2029.6,217.6 2030.6,217.4 2031.6,214.1 2032.6,212.6 2033.6,217.4 2034.6,211.0 2035.6,216.5 2036.6,216.9 2037.6,217.5 2038.6,213.3 2039.6,220.2 2040.6,218.4 2041.6,217.4 2042.6,222.0 2043.6,223.0 2044.7,217.9 2045.7,223.9 2046.7,224.4 2047.7,222.9 2048.7,218.5 2049.7,220.7 2050.7,225.2 2051.7,222.0 2052.7,226.1 2053.7,226.1 2054.7,222.7 2055.7,223.5 2056.7,219.4 2057.7,225.5 2058.7,219.5 2059.7,223.8 2060.7,221.0 2061.7,223.3 2062.7,223.5 2063.7,221.2 2064.7,219.8 2065.7,222.7 2066.7,226.5 2067.7,223.3 2068.7,222.5 2069.7,219.6 2070.7,224.6 2071.7,219.6 2072.7,219.5 2073.7,222.9 2074.7,218.7 2075.7,223.4 2076.7,218.7 2077.7,224.9 2078.7,217.8 2079.7,223.6 2080.7,219.5 2081.7,221.9 2082.7,217.9 2083.7,222.2 2084.7,220.0 2085.7,217.1 2086.7,221.0 2087.7,220.3 2088.7,217.0 2089.7,219.2 2090.7,222.8 2091.7,215.4 2092.7,214.7 2093.7,221.6 2094.7,217.3 2095.7,220.4 2096.7,220.5 2097.7,221.8 2098.7,221.0 2099.7,217.9 2100.7,221.1 2101.7,221.1 2102.7,221.6 2103.7,215.2 2104.7,218.7 2105.7,217.8 2106.7,221.6 2107.7,214.5 2108.7,216.8 2109.7,223.2 2110.7,218.6 2111.7,216.0 2112.7,220.6 2113.7,222.6 2114.7,222.9 2115.7,217.6 2116.7,219.7 2117.7,218.8 2118.7,220.8 2119.7,223.6 2120.7,224.4 2121.7,223.0 2122.7,220.3 2123.7,218.5 2124.7,218.1 2125.7,222.9 2126.7,218.4 2127.7,222.6 2128.7,217.4 2129.7,216.0 2130.7,218.7 2131.7,218.3 2132.7,217.5 2133.7,221.1 2134.7,221.8 2135.7,223.7 2136.7,216.9 2137.7,219.7 2138.7,221.2 2139.7,221.0 2140.7,218.0 2141.7,221.4 2142.7,224.0 2143.7,219.2 2144.7,218.2 2145.7,219.3 2146.7,222.6 2147.7,222.5 2148.7,217.5 2149.7,215.1 2150.7,220.0 2151.7,220.6 2152.7,215.5 2153.7,217.2 2154.7,210.9 2155.7,215.9" fill="none" stroke="#9a3dff" stroke-width="9.0" stroke-linejoin="round" stroke-linecap="butt"/>
<polyline points="154.8,92.5 155.6,95.4 156.4,98.2 157.1,99.7 157.9,101.5 158.7,102.1 159.4,105.2 160.2,105.9 161.0,106.0 161.8,109.7 162.6,110.5 163.4,116.0 164.2,118.4 165.0,118.6 165.8,120.8 166.7,124.8 167.5,125.1 168.3,127.3 169.1,129.7 169.9,132.6 170.7,135.9 171.5,139.4 172.3,139.1 173.1,133.9 173.9,124.6 174.7,118.1 175.5,109.9 176.5,107.6 177.5,170.6 178.2,176.9 179.0,184.6 179.8,194.1 180.5,203.6 181.3,204.0 182.1,203.8 182.9,207.3 183.6,208.8 184.4,207.5 185.2,209.4 186.0,211.3 186.8,213.4 187.6,211.8 188.4,214.5 189.2,217.1 189.9,217.0 190.7,218.5 191.5,219.9 192.3,220.1 193.1,218.9 194.0,219.6 194.8,219.0 195.6,217.9 196.5,219.3 197.3,217.1 198.1,215.7 199.0,214.7 199.8,212.8 200.6,210.8 201.5,208.4 202.3,206.2 203.1,208.1 203.9,209.8 204.6,211.0 205.4,212.7 206.2,213.4 206.9,214.8 207.7,216.5 208.5,216.3 209.3,219.3 210.2,221.0 211.0,219.5 211.8,222.7 212.7,223.6 213.5,222.5 214.3,223.3 215.2,226.3 216.0,226.0 216.8,227.3 217.7,229.5 218.5,230.6 219.3,230.7 220.2,229.8 221.0,228.7 221.8,227.2 222.7,227.3 223.5,227.3 224.3,228.2 225.2,228.7 226.0,226.6 226.8,226.3 227.6,227.3 228.3,224.4 229.1,224.6 229.9,223.3 230.7,222.6 231.5,221.0 232.2,220.3 233.0,219.9 233.8,217.0 234.6,218.4 235.4,217.7 236.2,213.8 236.9,213.4 237.7,212.6 238.5,211.1 239.3,211.0 240.2,212.6 241.0,210.4 241.8,209.9 242.7,212.8 243.5,210.6 244.3,210.8 245.2,210.3 246.0,209.5 246.8,209.8 247.7,208.7 248.5,210.0 249.4,208.6 250.2,208.1 251.1,208.2 251.9,208.8 252.8,210.5 253.6,209.2 254.4,212.0 255.3,211.4 256.1,212.3 256.9,215.4 257.8,215.0 258.6,219.4 259.4,217.1 260.3,216.5 261.1,216.3 261.9,216.3 262.8,218.4 263.6,218.5 264.4,216.8 265.3,215.5 266.1,214.5 266.9,213.3 267.7,212.6 268.5,212.4 269.3,210.9 270.1,210.2 270.8,208.6 271.6,205.5 272.4,205.1 273.2,202.8 274.0,202.4 274.8,199.0 275.6,202.4 276.4,199.6 277.2,202.4 278.0,202.1 278.7,204.3 279.5,202.6 280.3,205.9 281.1,203.3 281.9,208.4 282.8,210.8 283.6,212.6 284.4,213.9 285.3,217.2 286.1,219.9 286.9,219.1 287.7,218.9 288.6,221.3 289.4,220.3 290.2,219.3 291.0,220.6 291.9,220.6 292.7,218.8 293.5,220.4 294.3,220.4 295.2,218.7 296.0,219.4 296.8,221.4 297.6,216.4 298.3,211.1 299.1,207.7 299.8,204.0 300.6,200.8 301.4,192.9 302.1,182.1 302.9,174.0 303.6,166.3 304.4,167.6 305.3,169.4 306.1,170.9 306.9,172.5 307.8,175.7 308.6,175.8 309.4,179.2 310.3,182.5 311.1,181.3 311.9,187.3 312.7,190.4 313.4,192.7 314.2,199.2 315.0,202.2 315.8,204.7 316.5,210.2 317.3,211.2 318.1,214.7 318.9,215.7 319.7,214.0 320.5,217.8 321.2,218.3 322.0,219.7 322.8,218.4 323.6,221.0 324.4,220.8 325.3,219.0 326.1,217.6 326.9,217.2 327.8,218.7 328.6,218.6 329.4,216.8 330.3,218.3 331.1,216.0 331.9,218.1 332.8,218.7 333.6,218.2 334.4,218.2 335.3,221.8 336.1,222.2 336.9,221.8 337.8,220.4 338.6,222.7 339.4,223.2 340.3,221.3 341.1,219.9 341.9,216.5 342.8,217.3 343.6,215.0 344.4,216.6 345.3,212.0 346.1,211.6 346.9,213.8 347.7,210.8 348.5,211.3 349.3,211.1 350.1,212.9 350.9,212.1 351.6,212.7 352.4,209.8 353.2,209.2 354.0,210.0 354.8,211.3 355.6,210.5 356.4,206.7 357.1,200.7 357.9,194.4 358.6,190.0 359.4,191.4 360.3,193.0 361.1,195.6 361.9,196.6 362.8,199.4 363.6,198.4 364.4,204.5 365.3,204.7 366.1,209.7 366.9,213.0 367.8,213.0 368.6,217.8 369.4,215.6 370.3,208.3 371.1,206.3 371.9,202.3 372.8,198.4 373.6,194.0 374.4,191.6 375.2,189.6 376.0,187.1 376.8,185.1 377.5,184.2 378.3,181.7 379.1,178.4 379.9,176.0 380.7,177.1 381.4,179.1 382.2,178.9 383.0,181.1 383.8,180.5 384.6,182.4 385.3,182.8 386.1,185.5 386.9,184.3 387.7,185.5 388.5,184.2 389.2,183.5 390.0,181.8 390.8,184.4 391.6,181.3 392.4,182.6 393.1,191.9 393.9,198.6 394.6,204.6 395.4,205.7 396.2,202.4 397.1,202.7 397.9,201.7 398.7,201.2 399.5,199.1 400.3,198.5 401.1,197.5 402.0,197.5 402.8,196.2 403.6,195.0 404.4,208.3 405.1,220.5 405.9,219.2 406.7,220.1 407.6,218.7 408.4,219.1 409.2,218.6 410.0,218.6 410.8,220.5 411.6,221.3 412.4,221.3 413.3,219.1 414.1,221.7 414.9,219.5 415.7,221.9 416.4,222.6 417.2,223.3 418.0,225.2 418.8,227.0 419.6,227.4 420.3,227.8 421.1,230.2 421.9,229.8 422.7,228.4 423.4,230.6 424.2,228.6 425.0,227.2 425.8,230.6 426.6,230.5 427.4,229.0 428.1,229.8 428.9,229.6 429.7,227.5 430.5,230.0 431.3,229.4 432.0,230.6 432.8,228.8 433.6,228.1 434.4,229.9 435.2,229.1 435.9,230.2 436.7,227.3 437.5,229.6 438.3,230.4 439.1,227.8 439.9,227.4 440.6,228.9 441.4,229.5 442.2,229.4 443.0,229.0 443.8,228.3 444.5,229.7 445.3,230.7 446.1,228.9 446.9,228.6 447.6,230.8 448.4,228.1 449.2,229.6 450.0,230.7 450.7,230.6 451.5,230.6 452.3,230.4 453.1,229.7 453.8,231.7 454.6,228.3 455.4,221.1 456.2,212.4 457.0,214.0 457.8,213.1 458.5,213.4 459.3,214.9 460.1,216.2 460.8,216.5 461.6,218.3 462.4,217.5 463.2,215.9 463.9,216.7 464.7,215.2 465.5,213.2 466.3,213.8 467.0,212.1 467.8,213.3 468.6,213.6 469.4,212.3 470.1,212.4 470.9,208.8 471.7,201.3 472.4,191.0 473.2,179.2 474.0,157.1 474.9,133.1 475.7,110.6 476.7,111.4 477.5,127.2 478.4,143.4 479.2,160.9 480.0,160.9 480.8,159.1 481.6,161.0 482.4,161.9 483.2,159.5 483.9,162.2 484.7,159.8 485.5,161.5 486.3,161.6 487.1,160.5 487.9,160.9 488.7,163.2 489.5,163.4 490.4,166.0 491.2,166.4 492.0,169.7 492.9,172.5 493.7,173.5 494.5,168.5 495.4,167.0 496.2,161.2 497.0,157.4 497.9,154.3 498.7,152.7 499.5,146.9 500.4,143.0 501.2,140.3 502.0,138.9 502.9,137.7 503.7,135.9 504.5,134.1 505.4,131.4 506.2,129.9 507.0,131.5 507.8,129.5 508.5,130.1 509.3,128.3 510.1,126.8 510.8,127.8 511.6,128.0 512.4,127.2 513.2,124.6 514.0,122.5 514.8,120.2 515.6,120.6 516.4,118.0 517.2,117.2 517.9,115.4 518.7,113.1 519.5,111.3 520.3,109.7 521.1,107.9 521.9,105.6 522.7,103.9 523.5,94.5 524.2,89.3 525.0,81.4 525.7,73.6 526.5,61.3 527.4,48.4 528.2,35.3 529.2,35.1 530.0,48.2 530.9,57.6 531.7,70.5 532.5,71.1 533.3,68.3 534.1,67.5 534.9,67.7 535.7,67.7 536.5,67.5 537.2,66.1 538.0,65.7 538.8,65.0 539.6,65.7 540.4,64.1 541.2,64.5 542.0,71.3 542.7,80.5 543.5,87.9 544.2,94.0 545.0,96.0 545.8,92.6 546.6,94.0 547.4,90.9 548.2,91.1 549.0,90.3 549.8,89.4 550.6,87.8 551.4,88.5 552.2,87.1 553.0,86.1 553.8,84.9 554.6,83.4 555.4,83.0 556.2,83.3 557.0,72.6 557.9,63.0 558.7,51.4 559.5,41.8 560.5,39.4 561.4,66.7 562.2,96.8 563.0,102.3 563.7,110.3 564.5,118.9 565.2,123.8 566.0,140.0 566.7,157.5 567.5,157.2 568.3,157.4 569.1,160.4 569.9,160.6 570.7,160.9 571.5,162.3 572.3,161.8 573.1,162.8 574.0,163.3 574.8,165.1 575.6,165.1 576.4,166.2 577.2,166.8 578.0,167.6 578.8,166.4 579.6,169.7 580.4,170.9 581.2,168.6 582.0,171.5 582.9,171.5 583.7,172.6 584.5,170.6 585.4,171.2 586.2,173.6 587.0,174.2 587.9,173.1 588.7,176.1 589.5,176.8 590.3,182.8 591.1,185.5 592.0,188.4 592.8,192.0 593.6,193.1 594.4,197.4 595.2,198.4 596.1,186.0 597.0,169.0 598.0,168.5 598.9,183.5 599.7,193.5 600.5,193.1 601.3,191.8 602.1,187.7 602.9,185.3 603.7,183.5 604.5,181.0 605.5,180.1 606.4,194.7 607.2,214.3 608.0,213.9 608.8,213.4 609.7,214.6 610.5,213.5 611.3,213.9 612.1,213.7 612.9,215.4 613.7,216.5 614.6,215.3 615.4,216.0 616.2,217.2 617.0,214.4 617.8,215.9 618.5,212.2 619.3,213.5 620.1,210.9 620.9,208.6 621.6,206.3 622.4,207.0 623.2,203.5 624.0,166.1 624.9,130.2 625.7,91.2 626.7,90.8 627.5,132.8 628.4,175.5 629.2,218.5 630.0,220.1 630.8,218.4 631.5,222.4 632.3,223.8 633.1,223.5 633.9,223.7 634.6,223.8 635.4,225.9 636.2,225.9 637.0,228.0 637.9,227.4 638.7,227.6 639.5,227.8 640.4,225.5 641.2,226.8 642.0,226.5 642.9,225.6 643.7,223.5 644.5,224.3 645.4,221.1 646.2,218.8 647.0,217.5 647.9,214.2 648.7,212.3 649.5,214.9 650.4,217.2 651.2,218.9 652.0,221.1 652.9,224.0 653.7,226.3 654.5,225.3 655.3,225.3 656.1,224.2 656.9,222.6 657.6,224.6 658.4,221.6 659.2,221.7 660.0,222.9 660.8,222.7 661.6,225.2 662.4,223.8 663.2,225.1 664.1,224.6 664.9,227.6 665.7,226.5 666.5,228.4 667.3,222.6 668.0,215.8 668.8,209.9 669.6,211.7 670.5,211.6 671.3,214.1 672.1,213.7 673.0,215.4 673.8,216.6 674.6,217.6 675.5,219.3 676.3,220.7 677.1,213.9 677.9,204.8 678.7,199.0 679.5,191.5 680.5,194.3 681.3,198.6 682.2,206.0 683.0,209.1 683.8,209.7 684.6,208.0 685.3,206.2 686.1,204.7 686.9,204.8 687.7,204.2 688.4,202.3 689.2,201.2 690.0,200.3 690.8,204.3 691.5,208.8 692.3,214.8 693.0,216.6 693.8,220.9 694.6,221.2 695.5,218.6 696.3,218.2 697.1,215.0 698.0,212.3 698.8,211.3 699.6,208.9 700.5,207.2 701.3,204.9 702.1,206.5 702.8,209.5 703.6,211.5 704.4,211.6 705.2,213.2 706.0,217.5 706.7,219.0 707.5,219.9 708.3,219.7 709.2,217.9 710.0,216.0 710.8,214.3 711.7,212.2 712.5,209.8 713.3,216.2 714.0,220.4 714.8,229.0 715.6,227.8 716.3,226.0 717.1,224.4 717.9,224.3 718.6,221.9 719.4,222.3 720.2,222.3 721.0,217.9 721.7,218.2 722.5,218.7 723.3,214.8 724.2,213.7 725.0,213.7 725.8,211.1 726.7,208.7 727.5,207.4 728.3,205.7 729.2,204.3 730.0,202.9 730.8,204.8 731.7,207.2 732.5,211.2 733.3,212.6 734.2,215.6 735.0,218.9 735.8,216.4 736.6,216.9 737.3,217.1 738.1,217.4 738.9,217.3 739.7,218.2 740.5,220.8 741.2,221.0 742.0,220.5 742.8,220.2 743.6,201.0 744.5,181.7 745.5,179.3 746.4,188.4 747.3,193.8 748.0,206.8 748.8,219.4 749.5,231.9 750.3,229.0 751.1,228.3 751.9,226.1 752.7,225.4 753.5,225.6 754.3,222.2 755.1,221.1 755.9,220.7 756.7,217.9 757.5,219.0 758.3,216.0 759.1,215.0 759.9,214.1 760.6,213.7 761.4,212.7 762.2,211.6 763.0,210.7 763.8,209.0 764.6,208.2 765.4,210.8 766.2,210.4 767.0,209.7 767.7,208.5 768.5,209.9 769.3,206.6 770.1,206.0 770.9,214.8 771.6,219.0 772.4,224.6 773.1,230.2 773.9,229.2 774.7,227.4 775.5,226.0 776.3,223.5 777.1,222.7 777.9,220.5 778.6,219.2 779.4,217.3 780.2,214.5 781.0,213.4 781.8,211.9 782.6,210.2 783.4,212.1 784.3,214.5 785.1,217.4 785.9,217.5 786.8,219.7 787.6,221.9 788.4,220.1 789.3,220.5 790.1,219.2 790.9,219.4 791.8,216.5 792.6,214.2 793.4,212.1 794.1,212.3 794.9,209.2 795.7,207.8 796.5,207.2 797.2,206.2 798.0,203.9 798.8,202.5 799.5,206.2 800.3,212.6 801.0,216.8 801.8,220.2 802.6,217.9 803.4,220.4 804.2,218.5 804.9,218.2 805.7,217.4 806.5,216.3 807.3,215.1 808.1,215.7 808.9,212.6 809.7,212.6 810.5,213.0 811.2,212.0 812.0,211.4 812.8,211.0 813.6,208.7 814.4,192.7 815.1,175.8 815.9,161.9 816.6,145.6 817.5,108.3 818.3,73.9 819.3,74.4 820.2,111.1 821.1,146.0 821.8,165.6 822.6,188.3 823.3,210.4 824.1,211.8 824.8,210.2 825.6,210.9 826.4,213.6 827.2,213.9 828.0,213.1 828.7,213.6 829.5,214.9 830.3,214.1 831.0,216.8 831.8,218.0 832.6,216.6 833.4,219.2 834.3,219.4 835.1,216.8 835.9,219.6 836.8,220.0 837.6,219.6 838.4,218.6 839.3,219.7 840.1,221.7 840.9,221.1 841.6,223.0 842.4,223.1 843.2,223.0 844.0,224.4 844.8,223.7 845.5,223.2 846.3,225.3 847.1,223.2 848.0,222.7 848.8,221.1 849.6,221.9 850.5,221.9 851.3,221.9 852.1,220.2 853.0,219.2 853.8,218.5 854.6,214.4 855.4,213.6 856.2,212.5 857.0,209.4 857.7,206.3 858.5,205.3 859.3,203.7 860.1,199.8 860.8,197.6 861.6,196.6 862.3,196.1 863.1,193.7 863.8,192.4 864.6,201.0 865.3,206.0 866.1,213.7 866.9,216.5 867.7,216.3 868.5,217.4 869.4,217.9 870.2,215.5 871.0,217.8 871.8,216.5 872.6,218.2 873.4,215.6 874.2,217.7 875.0,215.3 875.8,216.5 876.6,215.4 877.4,215.7 878.1,214.3 878.9,212.6 879.7,213.1 880.5,212.6 881.3,214.8 882.1,211.0 882.9,196.1 883.6,176.3 884.4,159.5 885.1,153.4 885.9,145.3 886.6,135.9 887.5,125.5 888.4,114.3 889.4,115.5 890.2,130.1 891.1,144.9 891.9,175.8 892.6,209.9 893.4,207.5 894.3,203.8 895.1,202.8 895.9,198.8 896.8,197.2 897.6,193.8 898.4,192.1 899.2,188.6 900.1,187.8 900.9,185.5 901.9,186.7 902.7,196.1 903.6,207.0 904.4,219.8 905.2,220.7 905.9,218.7 906.7,221.1 907.5,218.4 908.2,219.6 909.0,217.4 909.8,218.9 910.5,219.4 911.3,218.2 912.1,217.2 912.8,218.1 913.6,219.4 914.4,204.9 915.1,194.7 915.9,182.1 916.6,171.9 917.5,156.1 918.4,145.1 919.4,142.1 920.2,161.0 921.1,173.5 921.9,195.7 922.6,216.6 923.4,216.1 924.2,217.6 925.0,214.5 925.8,215.1 926.6,214.5 927.4,212.4 928.2,213.4 929.0,213.0 929.8,211.5 930.6,210.5 931.4,210.0 932.2,211.4 933.0,213.4 933.7,214.4 934.5,214.5 935.3,215.2 936.0,218.4 936.8,218.8 937.6,219.5 938.4,220.0 939.2,216.9 940.0,217.2 940.8,215.8 941.5,214.5 942.3,212.2 943.1,211.3 943.9,210.3 944.7,211.1 945.5,211.9 946.2,212.9 947.0,215.5 947.8,216.3 948.5,218.4 949.3,220.4 950.1,220.4 950.9,221.1 951.6,224.0 952.4,224.5 953.1,223.5 953.9,225.5 954.6,228.0 955.4,227.8 956.1,231.9 956.9,218.9 957.6,210.3 958.4,212.1 959.2,213.0 960.0,214.5 960.8,216.6 961.5,217.1 962.3,221.3 963.1,221.6 963.9,222.7 964.7,220.9 965.6,221.2 966.4,220.5 967.2,220.1 968.1,219.3 968.9,218.4 969.7,215.3 970.6,215.9 971.4,214.7 972.2,216.7 973.1,215.2 973.9,216.1 974.7,216.5 975.6,217.2 976.4,220.0 977.2,220.4 978.1,221.3 978.9,219.6 979.7,219.0 980.5,216.6 981.3,217.8 982.0,216.2 982.8,214.9 983.6,215.8 984.4,215.3 985.2,213.2 986.0,213.2 986.8,212.7 987.5,212.8 988.3,211.6 989.1,212.6 989.9,209.6 990.6,210.9 991.4,210.0 992.2,206.9 993.1,205.8 993.9,201.4 994.7,200.9 995.6,198.0 996.4,194.9 997.1,200.1 997.9,203.4 998.6,209.0 999.4,211.0 1000.2,214.1 1000.9,214.2 1001.7,213.3 1002.5,213.6 1003.3,214.4 1004.0,213.4 1004.8,216.8 1005.6,215.5 1006.3,216.2 1007.1,216.4 1007.9,215.3 1008.7,217.6 1009.4,218.9 1010.2,219.4 1011.0,212.1 1011.8,206.8 1012.6,203.4 1013.4,197.3 1014.4,196.9 1015.2,203.2 1016.1,210.2 1016.9,214.4 1017.7,215.3 1018.6,216.0 1019.4,216.2 1020.2,218.5 1021.0,217.1 1021.9,220.0 1022.7,219.6 1023.5,220.8 1024.4,220.6 1025.2,223.8 1026.0,221.1 1026.8,220.1 1027.6,222.5 1028.4,219.3 1029.2,219.8 1030.0,221.9 1030.7,218.5 1031.5,219.4 1032.3,219.6 1033.1,218.6 1033.9,218.1 1034.7,218.5 1035.5,208.5 1036.2,202.1 1037.0,194.6 1037.7,187.9 1038.5,190.2 1039.4,191.2 1040.2,194.0 1041.0,196.7 1041.9,198.2 1042.7,201.0 1043.5,200.2 1044.4,196.8 1045.2,196.2 1046.0,195.8 1046.9,194.9 1047.7,193.7 1048.4,202.7 1049.2,211.5 1049.9,219.9 1050.7,217.9 1051.5,218.3 1052.2,217.6 1053.0,215.4 1053.8,216.4 1054.6,214.5 1055.4,213.9 1056.1,212.1 1056.9,211.4 1057.7,210.2 1058.5,211.5 1059.2,211.7 1060.0,212.7 1060.8,215.0 1061.6,214.0 1062.4,215.4 1063.1,215.8 1063.9,216.0 1064.7,219.9 1065.5,217.1 1066.3,219.7 1067.1,220.2 1067.8,222.0 1068.6,223.1 1069.4,222.8 1070.2,222.6 1071.0,222.8 1071.9,219.0 1072.7,219.3 1073.5,216.9 1074.4,217.9 1075.2,213.5 1076.0,216.0 1076.9,215.4 1077.7,218.4 1078.5,216.2 1079.4,218.7 1080.2,216.7 1081.0,218.1 1081.9,219.1 1082.7,220.6 1083.5,221.4 1084.4,220.5 1085.2,219.6 1086.0,220.6 1086.9,220.1 1087.7,223.0 1088.5,221.8 1089.4,222.2 1090.2,223.4 1091.0,223.9 1091.9,224.3 1092.7,224.8 1093.5,226.3 1094.4,225.1 1095.2,228.4 1096.0,225.1 1096.9,223.5 1097.7,221.0 1098.5,222.6 1099.4,219.0 1100.2,215.9 1101.0,218.7 1101.9,217.4 1102.7,216.9 1103.5,213.8 1104.4,213.6 1105.2,214.5 1106.0,213.4 1106.9,213.1 1107.7,212.3 1108.5,211.6 1109.4,211.1 1110.2,210.3 1111.0,211.4 1111.9,211.8 1112.7,213.5 1113.5,214.6 1114.4,215.5 1115.2,218.3 1116.0,218.0 1116.9,220.3 1117.7,221.5 1118.5,220.0 1119.4,216.4 1120.2,217.2 1121.0,215.2 1121.9,215.1 1122.7,212.6 1123.5,211.6 1124.4,211.4 1125.2,210.2 1126.0,211.5 1126.8,212.0 1127.6,214.2 1128.3,216.2 1129.1,217.5 1129.9,217.8 1130.7,218.3 1131.5,221.5 1132.3,221.9 1133.1,221.6 1133.9,220.6 1134.7,219.6 1135.5,220.9 1136.2,222.4 1137.0,220.7 1137.8,221.5 1138.6,221.6 1139.4,223.4 1140.2,221.9 1141.0,221.4 1141.9,219.0 1142.7,220.0 1143.5,216.0 1144.4,216.9 1145.2,213.9 1146.0,213.7 1146.9,213.1 1147.7,208.7 1148.5,209.4 1149.3,209.6 1150.1,210.0 1150.8,212.2 1151.6,210.9 1152.4,212.1 1153.2,210.9 1154.0,212.6 1154.7,213.4 1155.5,216.4 1156.2,216.6 1157.0,217.2 1157.7,220.0 1158.5,218.4 1159.4,216.7 1160.2,217.5 1161.0,217.2 1161.9,216.7 1162.7,215.7 1163.5,213.2 1164.4,213.2 1165.2,212.3 1166.0,212.2 1166.9,211.1 1167.7,210.0 1168.5,211.1 1169.3,212.5 1170.1,213.3 1170.8,214.2 1171.6,215.0 1172.4,217.5 1173.2,218.1 1174.0,217.4 1174.8,219.5 1175.7,219.3 1176.5,217.9 1177.3,218.2 1178.2,217.0 1179.0,220.0 1179.8,217.6 1180.7,218.6 1181.5,220.9 1182.3,221.2 1183.2,218.8 1184.0,220.3 1184.8,219.1 1185.7,220.1 1186.5,218.8 1187.3,219.0 1188.2,218.7 1189.0,219.4 1189.8,216.6 1190.7,215.0 1191.5,215.6 1192.3,214.2 1193.2,213.9 1194.0,213.4 1194.8,213.5 1195.6,214.0 1196.4,211.6 1197.2,212.0 1198.0,212.5 1198.8,211.0 1199.7,209.7 1200.5,209.9 1201.3,209.5 1202.1,208.7 1202.9,207.1 1203.7,206.8 1204.5,206.0 1205.3,205.0 1206.1,206.3 1206.8,208.5 1207.6,208.8 1208.4,210.1 1209.2,214.5 1210.0,214.6 1210.7,215.6 1211.5,217.6 1212.3,216.0 1213.2,215.3 1214.0,215.6 1214.8,216.2 1215.7,216.1 1216.5,212.6 1217.3,213.2 1218.2,214.1 1219.0,212.7 1219.8,215.6 1220.6,215.4 1221.4,217.9 1222.2,220.2 1222.9,220.4 1223.7,220.6 1224.5,221.9 1225.3,223.7 1226.1,224.2 1227.0,224.2 1227.8,220.2 1228.6,219.8 1229.5,217.5 1230.3,217.0 1231.1,215.8 1232.0,214.1 1232.8,214.2 1233.6,213.0 1234.5,211.2 1235.3,210.3 1236.1,212.1 1236.8,213.8 1237.6,215.1 1238.4,215.8 1239.2,218.9 1240.0,218.9 1240.7,222.8 1241.5,224.1 1242.3,222.3 1243.2,225.1 1244.0,222.8 1244.8,224.1 1245.7,224.9 1246.5,227.3 1247.3,227.3 1248.2,227.6 1249.0,228.5 1249.8,227.0 1250.7,225.7 1251.5,224.6 1252.3,226.3 1253.2,224.4 1254.0,224.0 1254.8,222.6 1255.7,224.9 1256.5,221.5 1257.3,219.7 1258.2,219.8 1259.0,218.4 1259.8,217.5 1260.7,216.0 1261.5,216.6 1262.3,214.8 1263.2,214.0 1264.0,212.7 1264.8,213.4 1265.6,215.6 1266.4,215.9 1267.2,218.4 1267.9,218.5 1268.7,219.4 1269.5,219.7 1270.3,221.1 1271.1,221.6 1271.8,223.3 1272.6,224.8 1273.4,222.4 1274.2,225.5 1275.0,223.9 1275.7,226.1 1276.5,224.5 1277.3,218.9 1278.0,214.0 1278.8,211.5 1279.5,206.2 1280.3,198.5 1281.1,197.7 1282.0,196.0 1282.8,193.2 1283.6,191.0 1284.5,188.8 1285.3,186.1 1286.1,193.4 1286.8,200.5 1287.6,208.5 1288.4,211.1 1289.2,213.1 1290.0,213.6 1290.8,216.9 1291.7,218.1 1292.5,219.6 1293.3,221.9 1294.1,224.4 1294.9,220.7 1295.8,223.0 1296.6,220.0 1297.4,220.6 1298.3,219.2 1299.1,220.0 1299.9,219.3 1300.8,216.9 1301.6,216.2 1302.4,216.4 1303.3,215.6 1304.1,215.2 1304.9,216.2 1305.6,217.5 1306.4,218.4 1307.2,219.3 1308.0,218.3 1308.8,220.7 1309.5,222.5 1310.3,223.2 1311.1,221.7 1311.9,219.3 1312.7,218.8 1313.5,215.9 1314.3,214.8 1315.1,212.6 1315.9,209.0 1316.7,208.8 1317.5,205.7 1318.3,204.6 1319.1,202.8 1319.9,204.8 1320.8,207.9 1321.6,210.3 1322.4,213.7 1323.3,216.2 1324.1,216.6 1324.9,215.5 1325.8,217.0 1326.6,213.7 1327.4,215.7 1328.3,211.7 1329.1,212.7 1329.9,212.8 1330.8,209.5 1331.6,209.9 1332.4,209.3 1333.3,207.8 1334.1,207.9 1334.9,206.2 1335.7,205.4 1336.4,205.6 1337.2,207.3 1338.0,207.4 1338.8,204.9 1339.6,203.8 1340.3,204.6 1341.1,205.3 1341.9,206.3 1342.7,203.6 1343.5,203.7 1344.3,204.6 1345.0,201.8 1345.8,204.4 1346.6,204.2 1347.4,203.8 1348.2,202.1 1348.9,203.3 1349.7,202.9 1350.5,203.2 1351.3,201.4 1352.1,203.3 1352.8,202.8 1353.6,201.7 1354.4,202.8 1355.2,201.2 1356.0,203.0 1356.8,202.7 1357.5,202.0 1358.3,201.7 1359.1,201.2 1359.8,207.2 1360.6,212.0 1361.3,216.9 1362.1,221.7 1362.9,221.3 1363.7,219.9 1364.5,218.1 1365.3,215.0 1366.1,213.6 1366.8,215.3 1367.6,214.0 1368.4,210.3 1369.2,210.7 1370.0,208.7 1370.8,205.2 1371.6,204.8 1372.4,203.8 1373.3,205.0 1374.1,206.1 1374.9,206.7 1375.8,207.4 1376.6,206.7 1377.4,208.2 1378.3,206.5 1379.1,207.3 1379.9,208.4 1380.8,206.6 1381.6,209.4 1382.4,204.3 1383.3,204.3 1384.1,201.8 1384.9,200.9 1385.8,197.6 1386.6,195.3 1387.4,194.0 1388.3,190.3 1389.1,191.5 1389.9,190.7 1390.6,190.0 1391.4,188.5 1392.1,186.9 1392.9,189.3 1393.7,187.3 1394.6,191.3 1395.4,191.8 1396.2,192.1 1397.1,195.3 1397.9,195.6 1398.6,198.4 1399.4,206.6 1400.1,211.7 1400.9,215.7 1401.6,219.2 1402.4,218.8 1403.2,218.7 1404.0,217.8 1404.8,218.1 1405.6,216.5 1406.4,218.0 1407.2,218.4 1408.0,216.1 1408.8,215.3 1409.6,217.5 1410.4,214.2 1411.2,214.8 1411.9,206.6 1412.7,196.8 1413.4,190.9 1414.1,183.0 1414.9,176.1 1415.6,166.8 1416.6,168.9 1417.3,177.4 1418.0,186.8 1418.7,195.1 1419.5,197.5 1420.4,198.8 1421.2,200.2 1422.1,204.4 1422.9,203.6 1423.7,205.5 1424.6,207.0 1425.4,208.5 1426.2,210.4 1427.0,214.0 1427.8,212.5 1428.6,215.9 1429.4,216.2 1430.1,216.4 1430.9,217.6 1431.7,219.5 1432.5,219.9 1433.3,223.2 1434.1,223.1 1434.9,220.7 1435.8,220.9 1436.6,223.3 1437.4,220.1 1438.3,220.2 1439.1,221.0 1439.9,222.7 1440.8,220.4 1441.6,220.3 1442.4,221.5 1443.3,220.9 1444.1,221.1 1444.9,219.5 1445.8,219.1 1446.6,221.3 1447.4,219.2 1448.3,220.9 1449.1,221.2 1449.9,219.5 1450.8,220.3 1451.6,219.2 1452.4,220.3 1453.2,218.2 1454.1,218.9 1454.9,219.5 1455.7,219.6 1456.5,219.0 1457.3,218.8 1458.1,218.6 1459.0,216.4 1459.8,218.9 1460.6,219.4 1461.5,212.2 1462.4,206.5 1463.4,206.8 1464.2,215.3 1465.1,226.8 1465.9,227.7 1466.7,223.1 1467.6,223.1 1468.4,221.3 1469.2,220.6 1470.0,218.9 1470.8,217.8 1471.6,217.9 1472.5,216.0 1473.3,214.8 1474.1,214.0 1474.9,212.7 1475.7,210.8 1476.5,212.3 1477.2,212.7 1478.0,210.1 1478.8,210.8 1479.6,212.8 1480.4,211.5 1481.2,210.2 1482.0,210.4 1482.8,210.9 1483.5,212.1 1484.3,209.0 1485.1,210.4 1485.9,209.2 1486.7,208.8 1487.5,208.6 1488.4,210.6 1489.2,210.3 1490.0,212.2 1490.9,209.7 1491.7,210.1 1492.5,210.6 1493.4,211.7 1494.2,211.6 1495.0,212.4 1495.9,213.3 1496.7,213.9 1497.5,212.1 1498.3,211.6 1499.1,210.9 1499.9,209.4 1500.7,209.6 1501.4,207.6 1502.2,207.9 1503.0,205.3 1503.8,203.5 1504.6,204.8 1505.4,202.3 1506.2,202.8 1507.0,204.0 1507.8,205.0 1508.6,205.1 1509.3,206.6 1510.1,206.1 1510.9,208.2 1511.7,206.6 1512.5,205.9 1513.2,207.9 1514.0,205.1 1514.8,204.3 1515.6,204.3 1516.4,202.1 1517.1,202.0 1517.9,201.8 1518.7,206.7 1519.6,207.6 1520.4,210.2 1521.2,211.0 1522.1,215.0 1522.9,217.9 1523.7,218.1 1524.5,216.6 1525.3,219.6 1526.1,219.2 1526.9,219.9 1527.7,218.0 1528.5,220.2 1529.3,218.0 1530.1,218.4 1530.9,220.0 1531.7,218.3 1532.5,220.8 1533.3,218.7 1534.1,220.1 1534.9,219.8 1535.7,220.6 1536.4,217.9 1537.2,220.3 1538.0,218.4 1538.8,216.4 1539.6,219.4 1540.4,217.9 1541.2,220.0 1542.0,219.8 1542.8,221.2 1543.6,221.3 1544.3,223.8 1545.1,224.3 1545.9,224.3 1546.7,225.5 1547.5,221.9 1548.4,219.7 1549.2,220.0 1550.0,215.5 1550.9,213.0 1551.7,211.0 1552.5,208.9 1553.4,208.3 1554.2,205.5 1555.0,204.2 1555.8,203.8 1556.5,201.0 1557.3,199.8 1558.1,198.1 1558.9,196.5 1559.6,195.6 1560.4,193.8 1561.2,198.9 1561.9,204.4 1562.7,208.7 1563.4,213.0 1564.2,213.5 1565.1,212.4 1565.9,213.7 1566.7,216.5 1567.6,216.8 1568.4,216.6 1569.2,216.1 1570.0,217.9 1570.9,216.4 1571.7,218.8 1572.5,220.5 1573.4,221.2 1574.2,221.3 1575.0,218.9 1575.9,219.6 1576.7,218.6 1577.5,220.8 1578.4,220.0 1579.2,220.6 1580.0,218.0 1580.9,218.2 1581.7,219.5 1582.5,218.2 1583.4,216.9 1584.2,216.2 1585.0,216.5 1585.9,216.9 1586.7,218.1 1587.5,219.2 1588.4,220.7 1589.2,222.7 1590.0,219.9 1590.9,220.4 1591.7,220.9 1592.5,222.7 1593.4,221.6 1594.2,219.7 1595.0,219.3 1595.9,219.7 1596.7,216.5 1597.5,218.2 1598.4,214.8 1599.2,216.1 1600.0,216.2 1600.9,212.7 1601.7,213.0 1602.5,212.8 1603.4,214.6 1604.2,211.3 1605.0,213.7 1605.9,211.8 1606.7,209.9 1607.5,212.0 1608.4,209.7 1609.2,208.4 1610.0,212.7 1610.8,213.7 1611.6,217.3 1612.3,219.2 1613.1,220.8 1613.9,219.7 1614.7,222.9 1615.5,226.6 1616.3,223.4 1617.2,220.6 1618.0,218.6 1618.8,217.5 1619.7,215.1 1620.5,211.5 1621.3,210.3 1622.2,207.4 1623.0,205.4 1623.8,206.3 1624.6,208.0 1625.4,208.9 1626.2,210.6 1627.0,210.9 1627.7,211.8 1628.5,213.3 1629.3,213.1 1630.1,217.1 1630.9,214.9 1631.7,217.5 1632.5,216.4 1633.4,219.3 1634.2,218.0 1635.0,218.6 1635.9,218.2 1636.7,220.3 1637.5,221.0 1638.4,221.4 1639.2,221.1 1640.0,219.3 1640.9,222.0 1641.7,220.2 1642.5,219.8 1643.4,220.5 1644.2,220.2 1645.0,221.3 1645.9,221.1 1646.7,221.8 1647.5,220.3 1648.4,217.2 1649.2,214.5 1650.0,214.6 1650.9,211.9 1651.7,207.8 1652.5,208.2 1653.4,203.8 1654.2,204.0 1655.0,202.9 1655.8,200.8 1656.5,199.7 1657.3,196.7 1658.1,196.4 1658.9,195.2 1659.6,195.2 1660.4,193.6 1661.2,192.7 1662.0,199.5 1662.8,203.7 1663.7,211.9 1664.5,217.3 1665.3,219.0 1666.1,220.3 1666.9,220.3 1667.7,221.0 1668.5,219.8 1669.3,220.4 1670.2,222.0 1671.0,223.5 1671.8,222.6 1672.6,224.8 1673.4,225.8 1674.2,226.6 1675.0,226.8 1675.9,223.9 1676.7,226.6 1677.5,226.4 1678.4,227.5 1679.2,227.2 1680.0,226.0 1680.9,228.9 1681.7,227.1 1682.5,228.5 1683.3,225.3 1684.1,226.5 1684.8,226.0 1685.6,222.8 1686.4,224.2 1687.2,222.3 1688.0,221.5 1688.8,221.5 1689.6,221.3 1690.5,221.2 1691.3,219.6 1692.1,219.8 1692.9,220.2 1693.7,218.4 1694.5,217.3 1695.4,215.8 1696.2,217.2 1697.0,215.9 1697.9,205.0 1698.8,198.8 1699.8,198.4 1700.6,205.1 1701.5,212.3 1702.3,215.8 1703.1,219.1 1703.9,219.0 1704.7,218.8 1705.5,218.3 1706.3,219.5 1707.0,220.3 1707.8,220.8 1708.6,221.9 1709.4,223.7 1710.2,225.5 1711.0,223.2 1711.8,224.6 1712.6,224.4 1713.4,225.1 1714.2,223.8 1715.0,223.7 1715.8,223.6 1716.5,223.3 1717.3,223.5 1718.1,225.1 1718.9,222.9 1719.7,223.3 1720.5,222.8 1721.3,222.0 1722.1,219.8 1722.9,221.2 1723.7,219.1 1724.4,218.8 1725.2,217.7 1726.0,218.7 1726.8,217.7 1727.6,219.1 1728.4,220.6 1729.2,220.3 1730.0,221.0 1730.8,221.0 1731.5,223.4 1732.3,221.9 1733.1,222.4 1733.9,224.8 1734.7,226.1 1735.5,224.5 1736.3,226.5 1737.2,225.2 1738.0,224.2 1738.8,224.6 1739.7,226.1 1740.5,223.4 1741.3,224.1 1742.2,224.4 1743.0,225.2 1743.8,222.5 1744.6,222.6 1745.4,222.3 1746.2,221.4 1746.9,221.0 1747.7,218.9 1748.5,217.2 1749.3,216.9 1750.1,217.0 1751.0,219.1 1751.8,217.5 1752.6,218.3 1753.5,219.5 1754.3,222.2 1755.1,222.1 1756.0,221.7 1756.8,224.0 1757.6,223.2 1758.5,223.5 1759.3,223.5 1760.1,224.3 1761.0,224.5 1761.8,226.7 1762.6,225.1 1763.5,227.4 1764.3,226.9 1765.1,226.6 1765.9,224.5 1766.7,226.6 1767.5,223.3 1768.3,224.1 1769.0,222.1 1769.8,224.1 1770.6,222.8 1771.4,221.0 1772.2,219.6 1773.0,220.2 1773.8,220.1 1774.7,220.9 1775.5,219.3 1776.3,219.4 1777.2,219.6 1778.0,217.2 1778.8,219.2 1779.7,218.5 1780.5,218.3 1781.3,217.4 1782.2,220.2 1783.0,217.9 1783.8,221.0 1784.7,221.9 1785.5,220.1 1786.3,222.5 1787.2,220.4 1788.0,223.8 1788.8,224.0 1789.6,221.4 1790.3,220.5 1791.1,222.6 1791.9,223.2 1792.7,221.9 1793.4,220.2 1794.2,221.8 1795.0,222.6 1795.8,219.5 1796.5,221.6 1797.3,219.5 1798.1,220.4 1798.9,219.2 1799.8,219.5 1800.6,219.3 1801.4,221.0 1802.3,220.0 1803.1,219.9 1803.9,218.5 1804.8,219.2 1805.6,220.1 1806.4,220.8 1807.3,218.5 1808.1,219.7 1808.9,219.3 1809.8,217.9 1810.6,216.6 1811.4,218.0 1812.3,219.0 1813.1,216.0 1813.9,217.4 1814.8,216.8 1815.6,217.3 1816.4,217.4 1817.3,215.6 1818.1,216.8 1818.9,215.3 1819.8,216.4 1820.6,217.3 1821.4,214.9 1822.3,213.7 1823.1,214.4 1823.9,215.8 1824.8,213.7 1825.6,214.0 1826.4,215.8 1827.3,215.0 1828.1,213.1 1828.9,214.0 1829.8,214.7 1830.6,214.8 1831.4,213.2 1832.3,214.7 1833.1,213.0 1833.9,214.6 1834.8,214.1 1835.6,212.6 1836.4,214.5 1837.3,214.3 1838.1,213.3 1838.9,212.7 1839.8,211.6 1840.6,210.8 1841.4,211.3 1842.3,212.9 1843.1,212.3 1843.9,210.5 1844.8,211.2 1845.6,213.1 1846.4,213.0 1847.3,211.1 1848.1,211.7 1848.9,211.5 1849.8,208.0 1850.6,208.9 1851.4,206.5 1852.3,207.6 1853.1,207.0 1853.9,207.4 1854.6,209.1 1855.4,207.8 1856.2,212.1 1857.0,211.2 1857.8,213.3 1858.5,213.5 1859.3,213.8 1860.1,215.2 1860.9,213.5 1861.7,210.8 1862.4,208.4 1863.2,206.7 1864.0,205.8 1864.8,204.2 1865.6,202.8 1866.3,207.2 1867.1,211.4 1867.8,215.6 1868.6,219.2 1869.3,223.7 1870.1,222.5 1871.0,220.9 1871.8,218.0 1872.6,217.5 1873.5,218.4 1874.3,218.0 1875.1,214.7 1876.0,214.6 1876.8,212.7 1877.6,211.4 1878.5,211.1 1879.3,210.6 1880.1,208.7 1880.9,211.4 1881.7,212.2 1882.5,210.6 1883.3,210.4 1884.1,212.7 1884.9,213.3 1885.7,211.1 1886.5,213.6 1887.3,212.2 1888.1,213.7 1888.9,213.7 1889.8,214.1 1890.6,215.7 1891.4,212.9 1892.3,213.0 1893.1,213.7 1893.9,213.6 1894.8,216.3 1895.6,214.5 1896.4,216.3 1897.3,216.6 1898.1,214.0 1898.9,214.6 1899.8,214.0 1900.6,214.9 1901.4,216.6 1902.3,215.3 1903.1,215.4 1903.9,217.2 1904.8,217.9 1905.6,218.6 1906.4,218.5 1907.3,216.8 1908.1,218.7 1908.9,216.4 1909.8,215.5 1910.6,214.5 1911.4,213.2 1912.3,214.5 1913.1,213.6 1913.9,212.3 1914.8,212.6 1915.6,209.9 1916.4,211.9 1917.3,212.2 1918.1,211.1 1918.9,210.5 1919.8,212.9 1920.6,210.4 1921.4,211.7 1922.3,212.3 1923.1,212.5 1923.9,212.0 1924.8,213.9 1925.6,213.0 1926.4,212.6 1927.3,214.0 1928.1,214.6 1928.9,213.6 1929.8,214.6 1930.6,215.8 1931.4,214.1 1932.3,216.4 1933.1,215.3 1933.9,216.0 1934.8,217.1 1935.6,219.0 1936.4,216.9 1937.3,217.7 1938.1,221.0 1938.9,221.2 1939.8,221.2 1940.6,220.4 1941.4,220.9 1942.3,221.6 1943.1,221.8 1943.9,223.2 1944.8,222.9 1945.6,223.7 1946.4,223.3 1947.3,225.1 1948.1,223.7 1948.9,223.2 1949.8,225.4 1950.6,224.9 1951.4,223.9 1952.3,223.0 1953.1,221.8 1953.9,220.4 1954.8,220.8 1955.6,220.1 1956.4,219.7 1957.3,220.4 1958.1,220.9 1958.9,221.2 1959.8,218.6 1960.6,217.7 1961.4,218.4 1962.3,217.6 1963.1,217.8 1963.9,218.0 1964.7,216.2 1965.4,216.5 1966.2,215.9 1967.0,216.2 1967.8,217.8 1968.6,218.4 1969.3,218.4 1970.1,216.0 1970.9,216.4 1971.7,216.6 1972.5,219.3 1973.3,217.4 1974.0,218.4 1974.8,217.5 1975.6,218.5 1976.4,217.5 1977.3,216.8 1978.1,215.9 1978.9,217.6 1979.8,218.8 1980.6,216.3 1981.4,219.0 1982.3,219.2 1983.1,215.9 1983.9,215.9 1984.8,216.9 1985.6,219.0 1986.4,217.6 1987.2,214.9 1988.0,212.6 1988.8,211.7 1989.5,210.4 1990.3,208.4 1991.1,208.1 1991.9,206.3 1992.7,208.6 1993.5,209.1 1994.3,210.6 1995.1,212.7 1995.8,214.3 1996.6,215.1 1997.4,216.9 1998.2,221.0 1999.0,220.8 1999.9,218.9 2000.7,219.5 2001.5,220.5 2002.4,218.4 2003.2,219.6 2004.0,218.8 2004.9,219.2 2005.7,217.3 2006.5,219.8 2007.4,216.9 2008.2,215.9 2009.0,218.8 2009.9,217.6 2010.7,217.9 2011.5,216.1 2012.4,215.2 2013.2,216.9 2014.0,216.7 2014.9,217.5 2015.7,214.8 2016.5,214.2 2017.4,213.8 2018.2,213.4 2019.0,213.3 2019.9,216.2 2020.7,213.4 2021.5,214.1 2022.4,215.7 2023.2,215.1 2024.0,213.7 2024.9,213.9 2025.7,215.4 2026.5,212.2 2027.4,213.6 2028.2,213.2 2029.0,211.3 2029.9,213.9 2030.7,211.7 2031.5,211.8 2032.4,212.7 2033.2,211.8 2034.0,210.2 2034.9,211.5 2035.7,209.2 2036.5,210.4 2037.4,213.8 2038.2,214.0 2039.0,214.8 2039.9,216.4 2040.7,215.4 2041.5,217.9 2042.4,217.7 2043.2,217.5 2044.0,218.9 2044.9,217.8 2045.7,220.2 2046.5,221.8 2047.4,218.9 2048.2,219.6 2049.0,220.6 2049.9,220.8 2050.7,222.8 2051.5,221.5 2052.4,224.0 2053.2,221.9 2054.0,222.5 2054.9,221.0 2055.7,221.1 2056.5,221.1 2057.4,219.9 2058.2,217.6 2059.0,217.0 2059.9,219.2 2060.7,216.3 2061.5,218.3 2062.4,217.8 2063.2,218.3 2064.0,218.3 2064.9,218.8 2065.7,221.5 2066.5,221.2 2067.4,222.5 2068.2,222.5 2069.0,221.7 2069.9,222.0 2070.7,222.7 2071.5,221.8 2072.4,221.0 2073.2,221.7 2074.0,220.9 2074.9,222.3 2075.7,222.2 2076.5,221.0 2077.4,220.9 2078.2,219.1 2079.0,220.7 2079.9,219.2 2080.7,218.9 2081.5,218.8 2082.4,220.2 2083.2,220.2 2084.0,221.5 2084.9,218.2 2085.7,221.2 2086.5,220.5 2087.4,218.7 2088.2,218.5 2089.0,219.6 2089.9,218.6 2090.7,218.6 2091.5,218.8 2092.4,216.5 2093.2,216.7 2094.0,216.1 2094.9,216.0 2095.7,213.3 2096.5,212.0 2097.4,211.6 2098.2,211.6 2099.0,210.7 2099.9,209.8 2100.7,209.1 2101.5,209.6 2102.4,211.3 2103.2,211.8 2104.0,213.6 2104.9,213.6 2105.7,215.8 2106.5,214.8 2107.4,218.3 2108.2,218.0 2109.0,216.4 2109.9,219.3 2110.7,217.4 2111.5,218.7 2112.4,217.5 2113.2,221.0 2114.0,219.5 2114.9,219.6 2115.7,221.4 2116.5,219.7 2117.4,222.5 2118.2,220.2 2119.0,219.7 2119.9,221.0 2120.7,221.2 2121.5,220.0 2122.4,218.6 2123.2,220.2 2124.0,217.2 2124.9,217.3 2125.7,217.6 2126.5,215.9 2127.4,214.7 2128.2,214.8 2129.0,213.8 2129.9,212.3 2130.7,212.9 2131.5,211.1 2132.4,210.6 2133.2,210.0 2134.0,211.6 2134.9,212.7 2135.7,214.5 2136.5,215.3 2137.4,216.3 2138.2,217.7 2139.0,219.4 2139.9,220.3 2140.7,221.3 2141.5,220.9 2142.4,221.6 2143.2,220.5 2144.0,221.4 2144.9,219.7 2145.7,220.6 2146.5,217.8 2147.4,219.3 2148.2,216.7 2149.0,218.9 2149.9,218.5 2150.7,214.6 2151.5,215.2 2152.4,213.8 2153.2,215.2 2154.0,214.2 2154.9,215.2 2155.7,213.8" fill="none" stroke="#9a3dff" stroke-width="8" stroke-linejoin="round" stroke-linecap="butt"/>
<polyline points="152.3,441.2 153.3,445.1 154.3,441.9 155.3,446.0 156.3,452.3 157.3,452.2 158.3,450.1 159.3,454.0 160.3,450.9 161.3,456.3 162.3,453.6 163.3,448.2 164.3,453.5 165.3,452.6 166.3,453.5 167.3,449.6 168.3,455.3 169.3,449.1 170.3,450.4 171.3,449.7 172.3,450.0 173.3,449.0 174.3,455.9 175.3,454.8 176.3,447.2 177.3,453.7 178.3,447.8 179.3,454.5 180.3,451.7 181.3,455.7 182.3,460.8 183.3,463.4 184.3,464.6 185.3,462.3 186.3,459.9 187.3,465.8 188.3,465.2 189.3,469.5 190.3,469.7 191.3,461.9 192.3,465.5 193.3,470.4 194.3,468.5 195.3,476.9 196.3,467.3 197.3,474.1 198.3,481.0 199.3,483.6 200.3,479.1 201.3,476.4 202.3,480.4 203.3,476.8 204.3,481.2 205.3,476.8 206.3,474.9 207.3,479.6 208.3,481.8 209.3,478.5 210.3,479.7 211.3,479.4 212.3,478.9 213.3,472.7 214.3,477.1 215.3,483.1 216.3,478.7 217.3,482.0 218.3,485.2 219.3,474.9 220.3,483.2 221.3,480.1 222.3,474.1 223.3,475.4 224.3,477.7 225.3,477.1 226.3,482.0 227.3,475.9 228.3,481.0 229.3,476.5 230.3,482.9 231.3,483.3 232.3,473.4 233.3,481.2 234.3,472.6 235.3,475.2 236.3,481.7 237.3,476.2 238.3,471.2 239.3,471.0 240.3,482.8 241.3,481.3 242.3,482.5 243.3,475.0 244.3,474.6 245.3,479.2 246.3,471.5 247.3,478.1 248.3,472.8 249.3,473.3 250.3,480.3 251.3,474.3 252.3,483.6 253.3,480.0 254.3,479.4 255.3,480.0 256.3,475.4 257.3,484.2 258.3,473.4 259.3,484.1 260.3,479.9 261.3,481.0 262.3,480.7 263.3,479.1 264.4,476.8 265.4,479.2 266.4,482.8 267.4,478.9 268.4,484.7 269.4,483.5 270.4,475.6 271.4,476.3 272.4,485.4 273.4,481.6 274.4,477.0 275.4,482.1 276.4,483.1 277.4,485.8 278.4,483.9 279.4,490.1 280.4,479.6 281.4,490.3 282.4,488.4 283.4,484.4 284.4,480.9 285.4,480.7 286.4,486.5 287.4,484.8 288.4,481.8 289.4,475.1 290.4,474.3 291.4,478.1 292.4,473.1 293.4,475.1 294.4,471.9 295.4,474.2 296.4,476.7 297.4,477.0 298.4,463.5 299.4,461.6 300.4,455.6 301.4,447.9 302.4,445.1 303.4,436.5 304.4,436.3 305.4,436.0 306.4,443.1 307.4,436.4 308.4,441.1 309.4,442.0 310.4,441.1 311.4,438.0 312.4,436.6 313.4,439.1 314.4,437.1 315.4,436.5 316.4,438.4 317.4,439.4 318.4,452.2 319.4,456.1 320.4,458.5 321.4,467.3 322.4,465.9 323.4,471.5 324.4,472.5 325.4,478.1 326.4,468.8 327.4,474.6 328.4,477.9 329.4,472.2 330.4,475.4 331.4,476.6 332.4,469.9 333.4,472.8 334.4,476.9 335.4,475.5 336.4,475.0 337.4,464.3 338.4,472.1 339.4,473.0 340.4,467.9 341.4,467.0 342.4,472.2 343.4,468.3 344.4,475.1 345.4,467.9 346.4,474.5 347.4,472.5 348.4,468.7 349.4,472.7 350.4,474.9 351.4,472.8 352.4,467.5 353.4,465.5 354.4,471.5 355.4,474.1 356.4,473.1 357.4,469.7 358.4,475.9 359.4,477.1 360.4,473.3 361.4,476.6 362.4,475.7 363.4,478.5 364.4,466.9 365.4,478.0 366.4,475.3 367.4,468.2 368.4,468.6 369.4,471.1 370.4,474.0 371.4,473.2 372.4,470.4 373.4,474.5 374.4,468.9 375.4,467.8 376.4,466.6 377.4,465.5 378.4,454.9 379.4,452.0 380.4,455.0 381.4,458.6 382.4,459.3 383.4,455.1 384.4,450.4 385.4,456.3 386.4,458.8 387.4,457.6 388.4,450.7 389.4,449.2 390.4,454.2 391.4,451.4 392.4,453.4 393.4,460.5 394.4,463.8 395.4,465.6 396.4,473.8 397.4,474.4 398.4,469.9 399.4,473.9 400.4,472.7 401.4,480.9 402.4,474.2 403.4,472.3 404.4,479.3 405.4,481.0 406.4,474.7 407.4,474.7 408.4,476.2 409.4,474.2 410.4,482.4 411.4,476.0 412.4,488.5 413.4,487.1 414.4,482.4 415.4,485.2 416.4,488.4 417.4,479.9 418.4,486.8 419.4,489.1 420.4,485.2 421.4,489.7 422.4,482.3 423.4,479.5 424.4,482.4 425.4,491.8 426.4,484.1 427.4,484.1 428.4,481.1 429.4,485.0 430.4,483.3 431.4,486.3 432.4,480.8 433.4,481.7 434.4,480.9 435.4,492.3 436.4,490.9 437.4,484.6 438.4,486.0 439.4,485.4 440.4,488.4 441.4,488.4 442.4,490.8 443.4,489.4 444.4,482.3 445.4,488.4 446.4,481.1 447.4,485.0 448.4,479.5 449.4,482.0 450.4,478.3 451.4,483.5 452.4,478.5 453.4,481.3 454.4,471.8 455.4,472.8 456.4,475.2 457.4,474.7 458.4,470.3 459.4,476.6 460.4,475.7 461.4,479.1 462.4,479.9 463.4,476.2 464.4,469.1 465.4,472.3 466.4,469.0 467.4,463.4 468.4,470.3 469.4,466.2 470.4,465.7 471.4,470.6 472.4,465.7 473.4,473.9 474.4,472.9 475.4,463.3 476.4,471.7 477.4,459.6 478.4,462.5 479.4,463.5 480.4,454.8 481.4,458.7 482.4,454.9 483.4,451.7 484.4,458.8 485.4,455.1 486.5,458.3 487.5,459.9 488.5,454.0 489.5,460.9 490.5,458.0 491.5,457.5 492.5,455.2 493.5,457.5 494.5,449.0 495.5,448.4 496.5,455.6 497.5,455.5 498.5,451.5 499.5,452.0 500.5,450.2 501.5,447.6 502.5,445.0 503.5,436.2 504.5,429.4 505.5,431.2 506.5,435.3 507.5,431.7 508.5,424.9 509.5,425.6 510.5,427.1 511.5,421.2 512.5,426.2 513.5,419.5 514.5,419.4 515.5,410.9 516.5,401.9 517.5,394.8 518.5,397.2 519.5,400.9 520.5,398.1 521.5,391.1 522.5,390.6 523.5,390.8 524.5,395.2 525.5,389.9 526.5,399.9 527.5,394.9 528.5,395.4 529.5,396.9 530.5,393.9 531.5,396.4 532.5,390.7 533.5,402.9 534.5,405.3 535.5,406.6 536.5,402.3 537.5,398.7 538.5,399.3 539.5,404.6 540.5,402.9 541.5,404.4 542.5,407.6 543.5,409.6 544.5,407.1 545.5,408.7 546.5,407.3 547.5,407.1 548.5,404.9 549.5,403.6 550.5,411.4 551.5,408.7 552.5,407.4 553.5,400.0 554.5,409.0 555.5,403.3 556.5,403.8 557.5,404.4 558.5,408.6 559.5,402.0 560.5,406.2 561.5,400.4 562.5,408.4 563.5,402.9 564.5,413.3 565.5,410.7 566.5,417.7 567.5,416.1 568.5,423.1 569.5,422.2 570.5,426.2 571.5,431.4 572.5,429.9 573.5,438.8 574.5,438.5 575.5,444.3 576.5,443.3 577.5,449.9 578.5,450.3 579.5,451.4 580.5,453.9 581.5,449.0 582.5,459.4 583.5,452.5 584.5,451.7 585.5,462.4 586.5,466.0 587.5,463.6 588.5,472.1 589.5,469.0 590.5,466.2 591.5,464.9 592.5,473.9 593.5,474.6 594.5,477.8 595.5,470.5 596.5,479.7 597.5,478.5 598.5,474.2 599.5,473.0 600.5,471.5 601.5,477.2 602.5,476.2 603.5,481.0 604.5,473.9 605.5,479.5 606.5,480.6 607.5,476.3 608.5,476.6 609.5,483.6 610.5,483.9 611.5,475.1 612.5,465.5 613.5,469.5 614.5,456.4 615.5,450.6 616.5,444.0 617.5,440.1 618.5,441.0 619.5,436.6 620.5,437.7 621.5,437.5 622.5,438.1 623.5,433.2 624.5,439.7 625.5,430.0 626.5,433.6 627.5,436.5 628.5,440.8 629.5,439.4 630.5,441.5 631.5,430.7 632.5,440.4 633.5,454.0 634.5,459.8 635.5,469.0 636.5,481.8 637.5,482.1 638.5,475.7 639.5,474.5 640.5,480.7 641.5,484.8 642.5,479.2 643.5,485.9 644.5,478.3 645.5,476.3 646.5,478.3 647.5,475.5 648.5,481.9 649.5,480.5 650.5,476.1 651.5,480.0 652.5,477.4 653.5,468.7 654.5,473.1 655.5,470.2 656.5,471.1 657.5,471.3 658.5,471.7 659.5,476.5 660.5,480.1 661.5,471.3 662.5,474.8 663.5,474.8 664.5,473.9 665.5,473.9 666.5,473.1 667.5,475.7 668.5,479.8 669.5,472.0 670.5,471.3 671.5,474.9 672.5,480.3 673.5,474.3 674.5,479.6 675.5,478.3 676.5,474.9 677.5,481.4 678.5,482.1 679.5,483.5 680.5,479.0 681.5,480.1 682.5,478.7 683.5,484.3 684.5,476.4 685.5,476.4 686.5,478.9 687.5,479.3 688.5,473.1 689.5,475.9 690.5,481.3 691.5,482.4 692.5,477.6 693.5,474.6 694.5,477.0 695.5,482.1 696.5,479.3 697.5,475.6 698.5,475.5 699.5,478.3 700.5,476.9 701.5,472.0 702.5,482.3 703.5,472.6 704.5,480.3 705.5,475.4 706.5,475.8 707.5,476.0 708.6,471.9 709.6,473.2 710.6,475.8 711.6,473.3 712.6,472.6 713.6,471.9 714.6,475.8 715.6,481.3 716.6,474.1 717.6,484.3 718.6,485.1 719.6,478.8 720.6,483.7 721.6,480.0 722.6,488.2 723.6,475.8 724.6,480.5 725.6,475.6 726.6,483.4 727.6,476.2 728.6,474.5 729.6,475.4 730.6,485.5 731.6,473.8 732.6,481.6 733.6,481.1 734.6,477.2 735.6,484.5 736.6,480.2 737.6,479.5 738.6,473.0 739.6,478.6 740.6,474.7 741.6,477.8 742.6,473.1 743.6,484.1 744.6,481.9 745.6,476.0 746.6,476.8 747.6,474.8 748.6,473.8 749.6,477.5 750.6,476.9 751.6,476.1 752.6,483.2 753.6,482.5 754.6,484.3 755.6,480.3 756.6,477.5 757.6,472.2 758.6,477.7 759.6,474.8 760.6,476.1 761.6,479.1 762.6,472.8 763.6,475.3 764.6,472.0 765.6,472.6 766.6,477.0 767.6,471.6 768.6,476.1 769.6,478.7 770.6,472.1 771.6,479.8 772.6,479.4 773.6,482.7 774.6,479.9 775.6,485.2 776.6,482.0 777.6,483.5 778.6,483.6 779.6,473.3 780.6,474.5 781.6,483.7 782.6,480.5 783.6,482.9 784.6,474.8 785.6,481.6 786.6,473.4 787.6,483.0 788.6,472.9 789.6,480.5 790.6,472.8 791.6,481.8 792.6,481.0 793.6,475.3 794.6,475.3 795.6,478.5 796.6,478.6 797.6,473.2 798.6,476.2 799.6,472.4 800.6,467.5 801.6,471.3 802.6,471.1 803.6,466.8 804.6,475.0 805.6,472.0 806.6,464.2 807.6,472.3 808.6,462.4 809.6,466.7 810.6,451.1 811.6,450.9 812.6,443.3 813.6,441.0 814.6,442.8 815.6,445.9 816.6,443.4 817.6,449.9 818.6,445.9 819.6,444.6 820.6,440.7 821.6,441.0 822.6,445.8 823.6,444.6 824.6,440.0 825.6,452.5 826.6,453.4 827.6,452.5 828.6,467.2 829.6,470.8 830.6,475.7 831.6,476.4 832.6,474.0 833.6,482.7 834.6,480.6 835.6,474.8 836.6,483.0 837.6,481.2 838.6,480.9 839.6,477.6 840.6,479.7 841.6,487.4 842.6,479.2 843.6,489.7 844.6,484.3 845.6,481.8 846.6,484.9 847.6,485.7 848.6,484.1 849.6,487.7 850.6,487.5 851.6,481.0 852.6,480.1 853.6,483.1 854.6,477.9 855.6,483.8 856.6,479.2 857.6,486.3 858.6,486.0 859.6,482.4 860.6,481.9 861.6,487.1 862.6,482.9 863.6,481.4 864.6,479.0 865.6,484.3 866.6,474.3 867.6,479.8 868.6,482.1 869.6,482.7 870.6,480.6 871.6,483.5 872.6,475.7 873.6,479.6 874.6,481.0 875.6,472.1 876.6,479.2 877.6,467.3 878.6,466.6 879.6,467.1 880.6,463.0 881.6,450.9 882.6,449.0 883.6,444.4 884.6,439.7 885.6,446.1 886.6,448.0 887.6,440.6 888.6,448.6 889.6,442.3 890.6,442.2 891.6,442.3 892.6,445.9 893.6,441.7 894.6,445.4 895.6,441.5 896.6,441.6 897.6,448.6 898.6,438.5 899.6,447.9 900.6,443.8 901.6,450.1 902.6,439.8 903.6,447.9 904.6,444.3 905.6,443.9 906.6,447.6 907.6,463.0 908.6,469.8 909.6,466.2 910.6,473.5 911.6,474.6 912.6,479.5 913.6,482.1 914.6,480.7 915.6,479.0 916.6,476.6 917.6,485.1 918.6,477.0 919.6,485.0 920.6,476.8 921.6,484.0 922.6,482.0 923.6,472.0 924.6,472.7 925.6,478.1 926.6,475.8 927.6,472.3 928.6,475.4 929.6,472.5 930.7,477.9 931.7,482.8 932.7,476.4 933.7,471.3 934.7,475.6 935.7,480.1 936.7,474.0 937.7,477.3 938.7,483.1 939.7,475.4 940.7,479.2 941.7,482.6 942.7,477.4 943.7,484.0 944.7,480.5 945.7,477.1 946.7,481.0 947.7,482.1 948.7,480.8 949.7,481.5 950.7,482.2 951.7,480.5 952.7,478.0 953.7,480.1 954.7,475.5 955.7,478.7 956.7,478.7 957.7,481.4 958.7,484.4 959.7,480.8 960.7,475.3 961.7,488.3 962.7,482.6 963.7,487.0 964.7,484.1 965.7,481.4 966.7,487.4 967.7,485.0 968.7,478.4 969.7,487.2 970.7,485.9 971.7,480.5 972.7,482.5 973.7,479.8 974.7,476.7 975.7,480.9 976.7,481.3 977.7,478.0 978.7,477.1 979.7,477.4 980.7,480.5 981.7,474.4 982.7,476.8 983.7,484.2 984.7,477.4 985.7,483.2 986.7,484.8 987.7,479.9 988.7,477.7 989.7,481.3 990.7,476.9 991.7,475.1 992.7,477.3 993.7,483.5 994.7,479.5 995.7,475.3 996.7,476.0 997.7,485.1 998.7,475.4 999.7,480.4 1000.7,484.2 1001.7,479.7 1002.7,485.1 1003.7,482.7 1004.7,482.8 1005.7,484.7 1006.7,475.3 1007.7,474.9 1008.7,475.4 1009.7,484.2 1010.7,483.8 1011.7,477.4 1012.7,481.2 1013.7,475.6 1014.7,486.4 1015.7,476.2 1016.7,483.7 1017.7,490.2 1018.7,491.2 1019.7,481.9 1020.7,481.8 1021.7,481.9 1022.7,482.5 1023.7,477.9 1024.7,483.9 1025.7,479.4 1026.7,480.6 1027.7,472.9 1028.7,473.9 1029.7,472.0 1030.7,471.3 1031.7,468.3 1032.7,474.1 1033.7,477.0 1034.7,469.9 1035.7,467.4 1036.7,469.8 1037.7,475.0 1038.7,467.5 1039.7,477.0 1040.7,471.8 1041.7,474.6 1042.7,472.6 1043.7,478.2 1044.7,471.6 1045.7,475.0 1046.7,479.7 1047.7,478.5 1048.7,477.7 1049.7,477.7 1050.7,484.3 1051.7,483.9 1052.7,485.5 1053.7,483.4 1054.7,482.5 1055.7,477.4 1056.7,484.9 1057.7,481.6 1058.7,478.0 1059.7,486.1 1060.7,478.7 1061.7,476.8 1062.7,486.8 1063.7,479.6 1064.7,481.9 1065.7,482.6 1066.7,485.2 1067.7,484.0 1068.7,482.7 1069.7,483.6 1070.7,486.5 1071.7,477.1 1072.7,477.4 1073.7,484.4 1074.7,486.3 1075.7,476.0 1076.7,474.7 1077.7,476.6 1078.7,481.2 1079.7,477.7 1080.7,480.7 1081.7,482.8 1082.7,478.0 1083.7,475.1 1084.7,480.1 1085.7,478.0 1086.7,477.3 1087.7,481.9 1088.7,474.4 1089.7,477.0 1090.7,471.7 1091.7,479.3 1092.7,478.7 1093.7,475.2 1094.7,476.7 1095.7,475.5 1096.7,483.9 1097.7,479.5 1098.7,475.7 1099.7,479.5 1100.7,477.0 1101.7,474.2 1102.7,474.3 1103.7,470.9 1104.7,468.1 1105.7,474.4 1106.7,472.5 1107.7,475.3 1108.7,475.0 1109.7,471.8 1110.7,468.7 1111.7,469.0 1112.7,473.5 1113.7,468.6 1114.7,473.1 1115.7,470.5 1116.7,475.4 1117.7,468.7 1118.7,466.5 1119.7,466.4 1120.7,470.6 1121.7,470.1 1122.7,467.5 1123.7,471.6 1124.7,471.5 1125.7,476.8 1126.7,471.5 1127.7,467.8 1128.7,470.0 1129.7,478.4 1130.7,477.3 1131.7,475.4 1132.7,477.8 1133.7,485.0 1134.7,478.8 1135.7,481.9 1136.7,476.6 1137.7,477.6 1138.7,474.4 1139.7,476.7 1140.7,483.7 1141.7,478.8 1142.7,480.5 1143.7,475.5 1144.7,479.8 1145.7,478.3 1146.7,481.5 1147.7,478.5 1148.7,476.2 1149.7,474.6 1150.7,484.5 1151.7,480.4 1152.8,486.2 1153.8,480.2 1154.8,480.5 1155.8,477.5 1156.8,478.4 1157.8,478.4 1158.8,482.6 1159.8,483.6 1160.8,476.9 1161.8,475.6 1162.8,482.1 1163.8,479.9 1164.8,476.6 1165.8,478.9 1166.8,480.2 1167.8,474.2 1168.8,483.8 1169.8,477.1 1170.8,480.4 1171.8,482.2 1172.8,475.9 1173.8,477.7 1174.8,473.1 1175.8,482.3 1176.8,475.5 1177.8,476.3 1178.8,480.4 1179.8,481.3 1180.8,478.4 1181.8,476.2 1182.8,477.0 1183.8,480.2 1184.8,473.1 1185.8,473.0 1186.8,478.4 1187.8,479.4 1188.8,483.4 1189.8,478.7 1190.8,476.1 1191.8,480.8 1192.8,474.5 1193.8,475.4 1194.8,470.4 1195.8,478.7 1196.8,471.6 1197.8,470.4 1198.8,466.9 1199.8,466.1 1200.8,466.2 1201.8,471.0 1202.8,478.0 1203.8,469.9 1204.8,470.0 1205.8,470.3 1206.8,466.7 1207.8,475.0 1208.8,477.4 1209.8,468.9 1210.8,474.7 1211.8,472.7 1212.8,477.8 1213.8,477.4 1214.8,482.9 1215.8,473.3 1216.8,475.2 1217.8,473.9 1218.8,475.2 1219.8,479.0 1220.8,481.8 1221.8,472.2 1222.8,470.1 1223.8,476.6 1224.8,469.9 1225.8,475.1 1226.8,478.5 1227.8,469.5 1228.8,474.8 1229.8,469.0 1230.8,474.1 1231.8,466.1 1232.8,472.7 1233.8,465.9 1234.8,470.5 1235.8,469.3 1236.8,460.5 1237.8,463.0 1238.8,462.1 1239.8,459.4 1240.8,459.1 1241.8,465.6 1242.8,460.8 1243.8,459.8 1244.8,459.3 1245.8,465.8 1246.8,466.6 1247.8,460.3 1248.8,459.4 1249.8,466.4 1250.8,467.0 1251.8,464.5 1252.8,470.3 1253.8,465.2 1254.8,469.2 1255.8,480.4 1256.8,471.8 1257.8,475.7 1258.8,474.6 1259.8,478.0 1260.8,471.9 1261.8,472.9 1262.8,478.3 1263.8,468.8 1264.8,471.0 1265.8,466.4 1266.8,472.2 1267.8,471.5 1268.8,467.5 1269.8,471.2 1270.8,463.5 1271.8,467.1 1272.8,469.2 1273.8,459.1 1274.8,466.6 1275.8,457.1 1276.8,458.9 1277.8,453.0 1278.8,454.4 1279.8,447.9 1280.8,452.4 1281.8,447.1 1282.8,456.3 1283.8,446.0 1284.8,445.1 1285.8,452.8 1286.8,450.0 1287.8,445.1 1288.8,451.1 1289.8,448.5 1290.8,451.5 1291.8,452.9 1292.8,454.1 1293.8,457.7 1294.8,461.5 1295.8,464.5 1296.8,470.6 1297.8,471.1 1298.8,473.4 1299.8,476.7 1300.8,469.4 1301.8,467.9 1302.8,477.7 1303.8,478.7 1304.8,476.2 1305.8,478.4 1306.8,484.3 1307.8,485.9 1308.8,479.9 1309.8,480.6 1310.8,478.2 1311.8,481.3 1312.8,477.3 1313.8,477.3 1314.8,481.6 1315.8,475.4 1316.8,474.2 1317.8,475.8 1318.8,478.1 1319.8,478.6 1320.8,474.0 1321.8,483.3 1322.8,483.2 1323.8,473.9 1324.8,482.1 1325.8,481.1 1326.8,476.7 1327.8,476.7 1328.8,473.0 1329.8,475.6 1330.8,473.8 1331.8,473.9 1332.8,475.3 1333.8,480.3 1334.8,472.0 1335.8,482.0 1336.8,471.3 1337.8,479.3 1338.8,479.7 1339.8,479.5 1340.8,480.6 1341.8,476.3 1342.8,483.1 1343.8,471.4 1344.8,481.6 1345.8,481.7 1346.8,475.0 1347.8,476.7 1348.8,475.5 1349.8,479.9 1350.8,482.5 1351.8,471.9 1352.8,473.7 1353.8,476.6 1354.8,475.6 1355.8,472.8 1356.8,475.4 1357.8,478.5 1358.8,479.2 1359.8,474.4 1360.8,470.4 1361.8,470.9 1362.8,479.1 1363.8,480.1 1364.8,471.3 1365.8,475.3 1366.8,473.0 1367.8,471.6 1368.8,471.1 1369.8,477.0 1370.8,476.2 1371.8,477.6 1372.8,480.5 1373.8,474.5 1374.8,483.8 1375.9,476.8 1376.9,476.1 1377.9,484.2 1378.9,480.0 1379.9,482.1 1380.9,474.0 1381.9,480.5 1382.9,477.1 1383.9,483.8 1384.9,482.2 1385.9,486.0 1386.9,477.7 1387.9,485.8 1388.9,478.3 1389.9,479.5 1390.9,475.9 1391.9,481.4 1392.9,478.5 1393.9,482.2 1394.9,483.9 1395.9,475.7 1396.9,477.2 1397.9,474.9 1398.9,476.1 1399.9,473.2 1400.9,471.4 1401.9,470.5 1402.9,471.6 1403.9,470.9 1404.9,472.8 1405.9,471.8 1406.9,472.4 1407.9,463.0 1408.9,463.6 1409.9,455.8 1410.9,447.4 1411.9,443.8 1412.9,452.2 1413.9,446.8 1414.9,442.3 1415.9,452.3 1416.9,447.6 1417.9,447.4 1418.9,448.7 1419.9,442.1 1420.9,446.9 1421.9,452.6 1422.9,451.0 1423.9,444.0 1424.9,452.1 1425.9,452.1 1426.9,461.8 1427.9,466.9 1428.9,462.7 1429.9,470.2 1430.9,472.4 1431.9,470.8 1432.9,476.5 1433.9,473.3 1434.9,477.3 1435.9,478.8 1436.9,473.6 1437.9,480.1 1438.9,482.0 1439.9,474.2 1440.9,479.6 1441.9,481.5 1442.9,482.0 1443.9,478.2 1444.9,483.7 1445.9,474.7 1446.9,481.3 1447.9,481.9 1448.9,478.4 1449.9,484.3 1450.9,475.5 1451.9,478.3 1452.9,486.0 1453.9,473.7 1454.9,474.0 1455.9,471.8 1456.9,476.0 1457.9,470.8 1458.9,479.9 1459.9,476.0 1460.9,470.5 1461.9,478.2 1462.9,474.8 1463.9,472.8 1464.9,472.9 1465.9,474.0 1466.9,475.0 1467.9,479.8 1468.9,474.4 1469.9,477.9 1470.9,479.3 1471.9,480.8 1472.9,474.6 1473.9,481.6 1474.9,482.8 1475.9,479.4 1476.9,483.8 1477.9,477.4 1478.9,482.7 1479.9,474.4 1480.9,478.0 1481.9,472.6 1482.9,480.5 1483.9,481.7 1484.9,482.1 1485.9,473.1 1486.9,472.5 1487.9,476.1 1488.9,478.0 1489.9,480.7 1490.9,478.6 1491.9,480.0 1492.9,469.7 1493.9,477.9 1494.9,478.3 1495.9,470.7 1496.9,473.4 1497.9,466.8 1498.9,469.7 1499.9,475.5 1500.9,476.7 1501.9,470.4 1502.9,471.9 1503.9,467.9 1504.9,473.3 1505.9,475.2 1506.9,472.0 1507.9,476.3 1508.9,466.8 1509.9,473.3 1510.9,474.7 1511.9,472.6 1512.9,463.5 1513.9,468.1 1514.9,464.6 1515.9,459.8 1516.9,462.1 1517.9,459.8 1518.9,461.5 1519.9,463.4 1520.9,467.1 1521.9,468.9 1522.9,470.0 1523.9,469.5 1524.9,460.4 1525.9,468.5 1526.9,459.6 1527.9,465.8 1528.9,470.2 1529.9,459.0 1530.9,464.8 1531.9,462.4 1532.9,464.6 1533.9,460.0 1534.9,464.0 1535.9,463.2 1536.9,466.2 1537.9,466.6 1538.9,469.0 1539.9,471.1 1540.9,475.5 1541.9,468.7 1542.9,478.6 1543.9,476.4 1544.9,477.1 1545.9,474.5 1546.9,475.8 1547.9,469.6 1548.9,470.4 1549.9,478.6 1550.9,479.6 1551.9,473.9 1552.9,476.8 1553.9,474.4 1554.9,480.8 1555.9,479.7 1556.9,473.8 1557.9,471.8 1558.9,470.8 1559.9,469.6 1560.9,469.9 1561.9,479.4 1562.9,473.4 1563.9,475.8 1564.9,472.6 1565.9,480.5 1566.9,471.5 1567.9,472.3 1568.9,471.5 1569.9,469.7 1570.9,479.7 1571.9,471.7 1572.9,472.3 1573.9,469.0 1574.9,474.1 1575.9,478.6 1576.9,476.1 1577.9,472.0 1578.9,468.2 1579.9,466.6 1580.9,472.1 1581.9,472.9 1582.9,474.3 1583.9,475.9 1584.9,471.9 1585.9,476.5 1586.9,473.6 1587.9,478.4 1588.9,472.3 1589.9,468.6 1590.9,472.0 1591.9,471.0 1592.9,473.0 1593.9,475.5 1594.9,471.2 1595.9,480.0 1596.9,476.8 1598.0,475.1 1599.0,473.3 1600.0,476.5 1601.0,475.6 1602.0,477.6 1603.0,480.3 1604.0,482.2 1605.0,471.6 1606.0,483.0 1607.0,473.6 1608.0,482.6 1609.0,474.4 1610.0,478.8 1611.0,482.5 1612.0,472.6 1613.0,476.5 1614.0,480.3 1615.0,471.7 1616.0,477.6 1617.0,473.7 1618.0,473.4 1619.0,476.2 1620.0,482.9 1621.0,472.6 1622.0,476.6 1623.0,475.0 1624.0,473.8 1625.0,481.9 1626.0,474.3 1627.0,480.7 1628.0,476.4 1629.0,485.5 1630.0,476.7 1631.0,480.6 1632.0,483.4 1633.0,484.3 1634.0,483.3 1635.0,485.2 1636.0,482.3 1637.0,482.0 1638.0,486.0 1639.0,483.0 1640.0,480.0 1641.0,482.3 1642.0,484.5 1643.0,475.4 1644.0,480.9 1645.0,482.2 1646.0,483.2 1647.0,477.7 1648.0,470.4 1649.0,466.8 1650.0,470.2 1651.0,462.7 1652.0,457.9 1653.0,462.1 1654.0,460.6 1655.0,461.9 1656.0,462.2 1657.0,460.3 1658.0,463.9 1659.0,458.2 1660.0,454.0 1661.0,460.6 1662.0,458.9 1663.0,458.0 1664.0,456.0 1665.0,460.5 1666.0,464.7 1667.0,463.2 1668.0,463.0 1669.0,474.8 1670.0,473.2 1671.0,479.0 1672.0,482.4 1673.0,483.8 1674.0,477.2 1675.0,486.9 1676.0,481.5 1677.0,482.5 1678.0,484.1 1679.0,480.2 1680.0,480.0 1681.0,478.7 1682.0,477.5 1683.0,481.3 1684.0,486.9 1685.0,485.4 1686.0,482.2 1687.0,474.4 1688.0,485.3 1689.0,476.9 1690.0,474.9 1691.0,479.4 1692.0,482.5 1693.0,476.7 1694.0,475.5 1695.0,478.6 1696.0,470.7 1697.0,474.5 1698.0,475.0 1699.0,470.5 1700.0,467.8 1701.0,472.1 1702.0,465.5 1703.0,463.5 1704.0,467.0 1705.0,469.8 1706.0,474.5 1707.0,473.6 1708.0,473.5 1709.0,466.9 1710.0,471.6 1711.0,467.1 1712.0,471.2 1713.0,474.3 1714.0,477.4 1715.0,477.6 1716.0,477.4 1717.0,470.7 1718.0,476.4 1719.0,476.5 1720.0,475.9 1721.0,471.0 1722.0,478.5 1723.0,470.2 1724.0,477.4 1725.0,475.7 1726.0,478.1 1727.0,477.7 1728.0,471.8 1729.0,478.7 1730.0,472.8 1731.0,471.3 1732.0,475.7 1733.0,477.0 1734.0,482.5 1735.0,477.2 1736.0,472.5 1737.0,483.4 1738.0,478.7 1739.0,483.8 1740.0,475.0 1741.0,480.3 1742.0,479.3 1743.0,480.4 1744.0,475.4 1745.0,475.7 1746.0,480.1 1747.0,477.0 1748.0,478.1 1749.0,480.7 1750.0,473.5 1751.0,476.9 1752.0,472.6 1753.0,479.2 1754.0,480.7 1755.0,470.8 1756.0,469.7 1757.0,475.8 1758.0,469.8 1759.0,469.1 1760.0,478.0 1761.0,472.2 1762.0,477.2 1763.0,473.3 1764.0,480.3 1765.0,472.9 1766.0,472.8 1767.0,473.8 1768.0,469.3 1769.0,476.5 1770.0,478.9 1771.0,476.8 1772.0,481.1 1773.0,473.0 1774.0,479.5 1775.0,482.5 1776.0,476.7 1777.0,473.6 1778.0,480.4 1779.0,484.9 1780.0,474.4 1781.0,479.1 1782.0,478.0 1783.0,479.7 1784.0,478.1 1785.0,484.6 1786.0,475.0 1787.0,477.4 1788.0,476.9 1789.0,478.6 1790.0,484.1 1791.0,478.2 1792.0,476.3 1793.0,483.3 1794.0,476.7 1795.0,487.4 1796.0,485.7 1797.0,477.2 1798.0,480.1 1799.0,480.9 1800.0,476.3 1801.0,488.0 1802.0,478.2 1803.0,479.2 1804.0,486.2 1805.0,485.3 1806.0,487.5 1807.0,478.2 1808.0,481.8 1809.0,481.7 1810.0,479.6 1811.0,475.6 1812.0,484.6 1813.0,484.0 1814.0,483.9 1815.0,485.2 1816.0,482.9 1817.0,479.6 1818.0,484.5 1819.0,483.3 1820.1,478.7 1821.1,483.6 1822.1,480.1 1823.1,477.8 1824.1,477.8 1825.1,485.2 1826.1,484.5 1827.1,485.4 1828.1,483.3 1829.1,479.0 1830.1,480.9 1831.1,479.9 1832.1,476.8 1833.1,482.4 1834.1,485.4 1835.1,476.6 1836.1,478.9 1837.1,478.8 1838.1,482.4 1839.1,483.0 1840.1,481.4 1841.1,479.6 1842.1,483.1 1843.1,477.0 1844.1,476.4 1845.1,483.4 1846.1,478.2 1847.1,477.8 1848.1,478.3 1849.1,478.0 1850.1,478.1 1851.1,477.7 1852.1,477.7 1853.1,477.8 1854.1,483.3 1855.1,475.5 1856.1,473.1 1857.1,484.0 1858.1,473.2 1859.1,477.7 1860.1,476.7 1861.1,474.8 1862.1,476.4 1863.1,473.2 1864.1,482.7 1865.1,474.9 1866.1,482.6 1867.1,478.6 1868.1,479.2 1869.1,481.9 1870.1,480.0 1871.1,481.8 1872.1,476.0 1873.1,478.6 1874.1,475.6 1875.1,476.2 1876.1,474.5 1877.1,478.3 1878.1,480.7 1879.1,476.6 1880.1,474.9 1881.1,485.4 1882.1,475.1 1883.1,480.7 1884.1,475.2 1885.1,482.9 1886.1,477.2 1887.1,481.8 1888.1,483.1 1889.1,484.2 1890.1,475.9 1891.1,480.0 1892.1,480.9 1893.1,473.3 1894.1,476.4 1895.1,477.4 1896.1,482.7 1897.1,483.3 1898.1,473.6 1899.1,483.2 1900.1,482.9 1901.1,480.7 1902.1,474.0 1903.1,472.4 1904.1,476.1 1905.1,471.1 1906.1,480.2 1907.1,473.9 1908.1,476.6 1909.1,476.4 1910.1,470.0 1911.1,475.0 1912.1,474.7 1913.1,478.5 1914.1,469.4 1915.1,474.8 1916.1,471.0 1917.1,474.8 1918.1,472.1 1919.1,470.2 1920.1,473.9 1921.1,475.4 1922.1,474.8 1923.1,467.4 1924.1,468.5 1925.1,465.6 1926.1,472.9 1927.1,472.0 1928.1,468.5 1929.1,469.9 1930.1,471.7 1931.1,469.4 1932.1,471.9 1933.1,470.1 1934.1,468.8 1935.1,476.9 1936.1,474.2 1937.1,470.0 1938.1,480.4 1939.1,478.3 1940.1,471.0 1941.1,478.9 1942.1,470.6 1943.1,469.7 1944.1,470.8 1945.1,477.0 1946.1,480.2 1947.1,476.1 1948.1,471.0 1949.1,480.9 1950.1,477.3 1951.1,474.8 1952.1,471.3 1953.1,480.0 1954.1,483.6 1955.1,473.1 1956.1,477.7 1957.1,478.5 1958.1,479.2 1959.1,476.6 1960.1,476.8 1961.1,483.5 1962.1,485.1 1963.1,475.0 1964.1,484.2 1965.1,475.5 1966.1,475.9 1967.1,481.0 1968.1,482.0 1969.1,482.0 1970.1,479.0 1971.1,483.8 1972.1,486.0 1973.1,484.3 1974.1,483.0 1975.1,478.5 1976.1,482.4 1977.1,481.7 1978.1,477.5 1979.1,474.9 1980.1,482.1 1981.1,481.4 1982.1,483.6 1983.1,478.0 1984.1,479.3 1985.1,481.6 1986.1,477.1 1987.1,475.0 1988.1,478.9 1989.1,482.2 1990.1,479.0 1991.1,482.4 1992.1,474.7 1993.1,480.2 1994.1,483.6 1995.1,475.9 1996.1,480.6 1997.1,476.1 1998.1,479.4 1999.1,477.9 2000.1,476.9 2001.1,478.4 2002.1,482.7 2003.1,482.0 2004.1,487.2 2005.1,481.5 2006.1,487.0 2007.1,480.9 2008.1,477.9 2009.1,485.9 2010.1,484.9 2011.1,485.0 2012.1,475.3 2013.1,475.7 2014.1,477.2 2015.1,476.7 2016.1,473.6 2017.1,482.0 2018.1,482.4 2019.1,481.5 2020.1,482.7 2021.1,479.7 2022.1,472.7 2023.1,480.6 2024.1,473.0 2025.1,475.0 2026.1,481.3 2027.1,477.3 2028.1,472.9 2029.1,475.8 2030.1,472.8 2031.1,476.5 2032.1,472.5 2033.1,476.5 2034.1,482.6 2035.1,483.2 2036.1,479.1 2037.1,482.1 2038.1,481.2 2039.1,481.5 2040.1,484.6 2041.1,483.4 2042.2,476.5 2043.2,477.8 2044.2,476.1 2045.2,479.5 2046.2,483.7 2047.2,477.8 2048.2,477.7 2049.2,475.6 2050.2,479.0 2051.2,485.4 2052.2,480.1 2053.2,482.7 2054.2,477.5 2055.2,482.5 2056.2,486.6 2057.2,482.8 2058.2,479.7 2059.2,488.4 2060.2,478.4 2061.2,480.8 2062.2,483.1 2063.2,490.2 2064.2,482.5 2065.2,480.2 2066.2,485.1 2067.2,489.4 2068.2,483.3 2069.2,484.8 2070.2,486.9 2071.2,489.0 2072.2,479.1 2073.2,478.9 2074.2,486.7 2075.2,482.1 2076.2,476.5 2077.2,485.2 2078.2,478.0 2079.2,478.7 2080.2,477.1 2081.2,483.4 2082.2,478.8 2083.2,481.5 2084.2,482.5 2085.2,487.1 2086.2,484.8 2087.2,481.6 2088.2,478.1 2089.2,482.6 2090.2,486.3 2091.2,477.1 2092.2,482.2 2093.2,485.4 2094.2,476.8 2095.2,486.3 2096.2,478.0 2097.2,484.2 2098.2,484.0 2099.2,484.9 2100.2,478.9 2101.2,482.6 2102.2,486.4 2103.2,485.6 2104.2,479.1 2105.2,482.6 2106.2,485.7 2107.2,482.1 2108.2,479.4 2109.2,475.5 2110.2,485.2 2111.2,480.3 2112.2,485.0 2113.2,484.4 2114.2,475.0 2115.2,474.1 2116.2,481.3 2117.2,479.2 2118.2,478.2 2119.2,475.9 2120.2,479.3 2121.2,475.5 2122.2,480.9 2123.2,483.2 2124.2,472.2 2125.2,481.1 2126.2,481.3 2127.2,478.2 2128.2,474.7 2129.2,472.5 2130.2,472.1 2131.2,480.2 2132.2,480.9 2133.2,473.2 2134.2,483.0 2135.2,478.5 2136.2,477.2 2137.2,482.2 2138.2,475.2 2139.2,473.6 2140.2,480.2 2141.2,480.6 2142.2,478.7 2143.2,471.3 2144.2,477.4 2145.2,467.2 2146.2,475.6 2147.2,467.9 2148.2,471.0 2149.2,471.5 2150.2,470.0 2151.2,469.3 2152.2,464.5 2153.2,471.5" fill="none" stroke="#33ffff" stroke-width="9.0" stroke-linejoin="round" stroke-linecap="butt"/>
<polyline points="152.3,446.8 153.1,445.2 153.9,449.1 154.7,449.1 155.5,447.2 156.3,448.3 157.0,446.4 157.8,446.7 158.6,447.2 159.4,449.4 160.2,447.3 161.0,451.2 161.8,446.8 162.6,447.3 163.4,446.7 164.1,449.8 164.9,447.8 165.7,448.2 166.5,447.5 167.3,448.9 168.1,447.7 168.9,446.6 169.7,447.6 170.4,446.9 171.2,445.9 172.0,449.2 172.8,448.5 173.5,432.6 174.3,417.8 175.0,399.6 175.9,384.5 176.8,369.7 177.8,369.6 178.5,392.2 179.2,410.2 179.9,436.2 180.7,460.3 181.5,458.9 182.3,456.8 183.0,459.6 183.8,455.7 184.6,457.9 185.4,455.4 186.2,454.4 186.9,454.6 187.7,453.5 188.5,453.4 189.3,457.2 190.1,458.7 190.9,458.2 191.7,460.8 192.4,461.2 193.2,462.6 194.0,465.7 194.8,464.2 195.6,468.5 196.5,469.4 197.3,471.0 198.1,469.4 199.0,471.4 199.8,472.9 200.6,474.1 201.5,476.7 202.3,476.1 203.1,475.6 204.0,471.9 204.8,474.4 205.6,474.5 206.5,474.4 207.3,474.0 208.1,470.9 208.9,471.1 209.6,474.0 210.4,473.7 211.2,474.5 211.9,472.3 212.7,474.5 213.5,470.9 214.3,472.8 215.0,470.2 215.8,466.1 216.5,463.8 217.3,462.6 218.2,472.0 219.2,479.4 220.0,475.8 220.8,474.8 221.6,475.2 222.4,469.6 223.2,471.5 224.0,466.0 224.8,463.7 225.5,461.7 226.3,464.1 227.0,461.8 227.8,458.8 228.5,457.3 229.3,463.0 230.0,469.4 230.8,470.3 231.6,473.1 232.4,474.1 233.3,472.1 234.1,472.5 234.9,473.5 235.7,470.7 236.5,470.7 237.3,472.5 238.2,471.9 239.0,471.7 239.8,470.6 240.6,472.6 241.4,468.5 242.1,469.4 242.9,469.1 243.7,466.4 244.4,464.8 245.2,464.4 246.0,463.6 246.8,464.8 247.7,465.8 248.6,467.7 249.4,469.1 250.2,470.9 251.1,473.4 251.9,473.6 252.8,473.8 253.6,472.4 254.4,474.0 255.3,473.6 256.1,471.7 256.9,473.8 257.8,472.9 258.6,474.7 259.4,475.3 260.3,473.2 261.1,474.4 261.9,474.8 262.8,474.3 263.6,473.4 264.4,473.7 265.3,478.5 266.1,477.6 266.9,475.5 267.7,475.9 268.4,473.4 269.2,474.9 270.0,475.4 270.8,474.0 271.5,471.9 272.3,473.7 273.1,474.5 273.9,471.5 274.7,474.2 275.5,475.5 276.2,475.8 277.0,478.5 277.8,477.3 278.6,481.3 279.4,482.0 280.2,478.3 280.9,481.5 281.7,479.6 282.5,481.6 283.2,482.0 284.0,483.5 284.8,482.8 285.6,479.5 286.4,480.3 287.2,476.4 288.0,478.0 288.7,475.5 289.5,473.7 290.3,472.4 291.1,471.2 291.9,474.0 292.7,470.7 293.4,471.3 294.2,471.1 295.0,471.0 295.8,473.7 296.5,473.0 297.3,473.4 298.1,469.5 298.8,462.4 299.6,455.4 300.3,451.1 301.1,447.7 301.8,444.1 302.6,440.6 303.3,434.2 304.1,428.3 304.8,425.5 305.6,426.6 306.4,423.0 307.2,425.3 308.1,424.5 308.9,422.3 309.7,421.3 310.5,418.9 311.3,418.2 312.2,399.7 313.1,384.3 314.1,384.8 315.0,404.3 315.8,420.6 316.6,445.0 317.3,464.6 318.1,463.6 318.9,463.4 319.7,464.8 320.5,466.2 321.3,468.6 322.1,465.5 322.9,465.4 323.7,468.0 324.5,466.6 325.3,467.7 326.1,465.9 326.9,469.9 327.8,470.7 328.6,470.5 329.4,471.9 330.3,469.6 331.1,468.7 331.9,470.6 332.8,474.0 333.6,472.5 334.6,464.0 335.6,457.3 336.4,458.5 337.3,460.4 338.1,463.9 339.0,465.4 339.8,466.3 340.6,466.3 341.4,463.6 342.2,466.4 343.1,463.8 343.9,465.2 344.7,462.9 345.5,467.0 346.3,463.3 347.1,461.4 347.8,457.2 348.6,452.7 349.4,454.6 350.3,455.6 351.1,458.7 351.9,461.3 352.8,461.5 353.6,464.9 354.4,465.4 355.2,462.7 356.0,466.7 356.8,465.0 357.5,468.9 358.3,468.6 359.1,472.0 359.9,469.2 360.7,472.4 361.4,467.0 362.2,466.0 363.0,464.6 363.8,464.1 364.6,467.1 365.3,465.3 366.1,464.6 366.9,461.7 367.7,464.8 368.5,465.9 369.2,466.2 370.0,464.6 370.8,468.6 371.6,468.1 372.4,468.5 373.2,464.9 374.1,463.8 374.9,463.8 375.7,461.0 376.6,459.2 377.4,459.6 378.2,453.9 379.1,452.7 379.9,445.4 380.7,444.4 381.6,442.0 382.4,435.3 383.2,437.7 384.0,435.0 384.8,435.8 385.6,434.9 386.4,432.2 387.1,434.3 387.9,431.3 388.7,430.4 389.5,430.3 390.3,429.1 391.1,428.5 391.9,440.4 392.6,448.2 393.4,457.0 394.1,465.3 394.9,469.9 395.7,470.2 396.5,469.0 397.3,464.4 398.1,462.8 398.9,464.4 399.6,463.2 400.4,461.6 401.2,459.7 402.0,457.8 402.8,457.0 403.6,455.3 404.4,461.6 405.1,468.7 405.9,470.5 406.7,474.4 407.4,474.3 408.2,472.2 409.0,473.9 409.8,476.8 410.5,476.5 411.3,477.3 412.1,476.6 412.8,478.6 413.6,480.7 414.4,481.3 415.3,479.4 416.1,480.4 416.9,477.5 417.8,477.8 418.6,480.0 419.4,481.4 420.3,478.1 421.1,478.4 421.9,480.2 422.8,479.5 423.6,478.8 424.4,479.0 425.3,480.5 426.1,482.4 426.9,479.5 427.8,482.7 428.6,479.4 429.4,479.4 430.1,480.7 430.9,476.8 431.6,477.5 432.4,475.9 433.2,477.4 434.1,481.6 434.9,479.1 435.7,482.9 436.6,484.8 437.4,482.7 438.2,485.5 439.0,482.8 439.8,484.9 440.6,483.8 441.4,482.6 442.1,485.0 442.9,484.0 443.7,482.1 444.5,483.2 445.3,481.7 446.1,481.6 446.9,483.8 447.7,483.0 448.5,478.1 449.2,480.8 450.0,478.9 450.8,474.6 451.6,474.2 452.4,474.8 453.2,475.5 453.9,473.9 454.7,469.4 455.4,468.8 456.2,469.6 457.0,466.4 457.8,466.1 458.6,467.8 459.4,469.3 460.2,470.4 460.9,470.7 461.7,466.7 462.5,467.7 463.3,467.7 464.1,470.1 464.9,469.4 465.7,472.1 466.5,461.5 467.4,452.3 468.2,443.5 469.2,441.2 470.0,452.0 470.9,459.3 471.7,466.6 472.5,465.9 473.2,462.5 474.0,461.3 474.8,462.3 475.6,463.5 476.3,460.4 477.1,463.1 477.9,462.5 478.6,461.2 479.4,459.7 480.2,457.5 481.0,460.2 481.7,456.6 482.5,457.6 483.2,448.2 484.0,437.0 484.8,424.5 485.5,416.9 486.2,404.6 487.0,395.5 487.7,386.0 488.7,387.3 489.4,403.5 490.0,425.8 490.7,450.0 491.5,451.0 492.3,448.5 493.1,448.9 493.9,450.3 494.7,445.5 495.5,448.5 496.3,446.4 497.1,445.1 497.9,444.5 498.7,443.7 499.5,444.5 500.4,439.2 501.2,440.7 502.0,436.3 502.9,433.0 503.7,433.1 504.5,429.9 505.4,429.2 506.2,423.4 507.0,425.8 507.8,422.4 508.6,423.0 509.4,423.9 510.2,423.2 511.0,422.8 511.9,424.0 512.7,424.6 513.5,422.8 514.3,423.1 515.1,424.2 515.9,421.3 516.6,416.9 517.4,404.1 518.1,397.6 518.9,391.7 519.7,383.9 520.4,379.6 521.2,374.9 522.0,378.4 522.9,381.1 523.7,381.1 524.5,385.3 525.4,385.9 526.2,387.8 527.0,388.4 527.8,390.4 528.5,389.3 529.3,387.8 530.1,388.9 530.9,386.2 531.6,387.2 532.4,385.7 533.2,393.3 533.9,395.4 534.7,401.1 535.6,396.8 536.4,394.7 537.3,392.9 538.2,389.5 539.0,387.7 539.9,385.3 540.7,386.7 541.5,388.8 542.3,390.3 543.0,393.8 543.8,394.3 544.6,398.3 545.4,398.8 546.2,402.7 547.0,401.3 547.8,403.3 548.6,403.4 549.4,403.9 550.2,401.3 551.0,403.1 551.8,402.7 552.6,400.0 553.4,402.9 554.2,402.5 555.0,398.5 555.8,396.3 556.5,391.0 557.2,385.7 558.0,381.1 558.7,368.6 559.5,360.8 560.2,349.9 561.2,347.3 562.0,366.7 562.8,381.2 563.4,396.7 564.0,415.4 564.8,416.8 565.6,420.0 566.4,421.2 567.2,423.0 568.0,423.6 568.8,421.2 569.6,422.0 570.4,422.3 571.2,424.6 572.0,428.1 572.9,431.2 573.7,436.6 574.5,439.0 575.4,443.2 576.2,446.8 577.0,446.9 577.9,446.3 578.7,446.3 579.5,447.5 580.4,447.7 581.2,449.2 582.0,450.7 582.9,450.4 583.7,448.9 584.5,452.5 585.4,454.1 586.2,454.5 587.0,456.5 587.9,460.3 588.7,464.7 589.5,464.4 590.4,462.1 591.2,467.1 592.0,467.0 592.9,467.3 593.7,465.2 594.5,467.0 595.4,467.4 596.2,468.5 597.0,467.1 597.9,469.8 598.7,470.0 599.5,470.5 600.4,470.1 601.2,470.7 602.0,468.9 602.9,472.7 603.7,473.2 604.5,474.2 605.3,474.9 606.1,473.4 606.9,474.8 607.6,474.7 608.4,479.3 609.2,480.7 610.0,482.2 610.8,478.3 611.6,476.9 612.4,474.8 613.2,469.0 614.0,466.5 614.8,468.1 615.5,466.2 616.3,462.7 617.1,459.9 617.9,456.5 618.7,456.4 619.5,451.4 620.3,448.0 621.0,444.7 621.8,434.2 622.5,430.5 623.3,423.3 624.0,388.2 624.8,357.2 625.5,323.9 626.2,296.9 627.0,267.2 627.7,235.5 628.7,234.6 629.4,279.9 630.0,324.7 630.6,375.6 631.2,427.2 632.3,471.7 633.1,471.2 633.8,473.7 634.6,473.0 635.4,474.8 636.1,474.6 636.9,474.3 637.7,475.9 638.5,473.1 639.2,476.2 640.0,473.6 640.8,475.3 641.5,476.0 642.3,476.2 643.1,474.5 643.9,476.5 644.7,475.9 645.4,476.2 646.2,477.2 647.0,476.1 647.9,474.0 648.7,475.2 649.5,475.2 650.4,474.2 651.2,469.4 652.0,468.5 652.9,468.3 653.7,468.1 654.5,465.7 655.3,462.4 656.1,459.1 656.9,458.7 657.6,455.8 658.4,452.2 659.2,446.7 660.0,446.4 660.8,440.9 661.5,443.0 662.3,439.7 663.0,437.9 663.8,435.0 664.5,447.3 665.3,457.3 666.0,472.1 666.8,469.0 667.6,468.7 668.5,470.4 669.3,472.7 670.1,472.6 670.9,474.3 671.7,474.2 672.5,475.1 673.4,476.3 674.2,472.6 675.0,473.2 675.8,473.7 676.6,472.5 677.4,474.1 678.2,474.5 679.0,471.5 679.8,472.6 680.5,471.0 681.3,469.4 682.1,470.2 682.9,469.8 683.7,471.4 684.5,472.4 685.3,460.5 686.2,455.1 687.0,447.4 688.0,448.2 688.8,455.1 689.7,468.1 690.5,474.0 691.3,474.2 692.2,472.2 693.0,471.6 693.8,471.7 694.6,469.3 695.5,467.1 696.3,467.5 697.1,464.5 698.0,464.4 698.8,462.7 699.6,463.2 700.4,465.3 701.2,466.2 702.0,466.3 702.8,468.2 703.5,466.5 704.3,468.0 705.1,469.8 705.9,472.9 706.7,471.1 707.5,475.0 708.3,473.0 709.2,473.6 710.0,474.0 710.8,470.8 711.7,474.6 712.5,473.0 713.3,470.8 714.2,470.9 715.0,474.0 715.8,473.8 716.6,476.5 717.4,477.1 718.1,476.6 718.9,476.9 719.7,479.5 720.5,481.5 721.3,479.2 722.1,478.9 722.8,475.8 723.6,474.2 724.4,473.0 725.2,473.2 726.0,473.2 726.7,473.1 727.5,471.3 728.3,472.9 729.2,470.0 730.0,473.5 730.8,471.5 731.7,472.3 732.5,473.6 733.3,476.4 734.2,474.4 735.0,473.0 735.8,474.2 736.6,474.9 737.4,475.2 738.2,472.4 739.0,472.8 739.8,472.0 740.6,473.4 741.4,472.6 742.2,472.0 743.0,472.6 743.8,458.0 744.5,441.5 745.3,426.2 746.1,406.5 747.0,390.8 748.0,387.0 748.9,404.9 749.8,423.2 750.8,480.0 751.6,477.8 752.4,475.7 753.2,473.4 754.0,475.6 754.8,470.7 755.6,472.0 756.5,472.1 757.3,467.2 758.1,467.4 758.9,467.4 759.7,463.8 760.5,464.6 761.4,455.9 762.2,453.7 763.1,449.1 763.9,450.8 764.7,453.6 765.5,456.3 766.4,458.1 767.2,458.6 768.0,461.6 768.8,464.4 769.6,465.3 770.5,464.6 771.3,467.4 772.1,471.5 773.0,471.2 773.8,473.5 774.6,477.1 775.4,474.6 776.1,476.7 776.9,475.7 777.7,475.2 778.5,473.2 779.3,472.1 780.0,471.0 780.8,471.5 781.6,472.6 782.3,468.9 783.1,463.3 783.8,460.1 784.6,460.8 785.4,462.8 786.2,462.3 787.0,465.1 787.7,465.4 788.5,467.8 789.3,465.6 790.1,466.5 790.9,468.7 791.7,468.7 792.5,471.5 793.3,474.3 794.1,473.4 794.8,472.9 795.6,473.4 796.4,477.3 797.2,477.6 798.0,476.6 798.8,479.5 799.5,464.0 800.3,445.7 801.2,438.1 802.1,434.8 803.1,434.9 803.9,438.5 804.7,447.5 805.5,457.5 806.3,464.3 807.1,460.4 808.0,459.9 808.8,457.0 809.6,451.7 810.5,450.7 811.3,445.5 812.1,442.4 813.0,438.5 813.8,436.5 814.6,433.7 815.5,428.4 816.3,425.0 817.3,389.0 818.3,351.7 819.0,334.6 819.6,315.9 820.6,315.7 821.5,333.1 822.3,347.9 823.0,393.1 823.8,436.9 824.6,448.3 825.3,460.9 826.1,475.8 826.9,476.0 827.7,471.8 828.5,473.3 829.2,470.8 830.0,468.2 830.8,471.0 831.6,467.0 832.4,467.4 833.2,465.2 833.9,465.0 834.7,464.3 835.5,463.4 836.3,462.6 837.1,465.5 837.9,467.2 838.7,469.0 839.5,472.6 840.2,473.3 841.0,476.7 841.8,477.7 842.6,481.3 843.4,477.7 844.1,477.7 844.9,479.8 845.7,479.6 846.5,477.3 847.2,475.4 848.0,477.7 848.8,474.9 849.6,475.8 850.4,477.4 851.1,477.0 851.9,476.6 852.6,468.2 853.4,466.2 854.1,457.8 855.1,462.4 856.0,467.9 857.0,474.7 857.9,481.8 858.7,480.2 859.5,478.4 860.3,477.8 861.1,472.3 861.9,471.1 862.8,472.1 863.6,468.7 864.4,469.2 865.2,466.8 866.0,465.9 866.8,463.6 867.6,462.6 868.4,464.5 869.2,466.2 870.0,466.4 870.8,467.9 871.5,471.9 872.3,473.4 873.1,473.6 873.9,472.8 874.7,475.2 875.5,474.4 876.3,472.9 877.1,473.5 877.9,470.9 878.7,470.8 879.5,467.2 880.3,466.4 881.1,468.7 881.9,467.9 882.7,462.6 883.5,464.2 884.3,463.5 885.1,450.6 885.8,437.1 886.6,424.4 887.3,402.1 888.1,373.4 888.8,348.1 889.5,331.9 890.1,309.0 891.1,310.7 892.0,343.5 893.0,376.0 893.9,406.4 894.8,440.8 895.6,437.5 896.4,434.9 897.1,429.8 897.9,428.7 898.7,423.0 899.5,421.8 900.3,415.9 901.0,414.2 901.8,408.7 902.6,406.9 903.6,407.5 904.3,418.8 905.1,436.8 905.8,448.1 906.5,464.0 907.3,473.4 908.1,473.9 908.9,474.2 909.7,474.0 910.5,475.6 911.3,474.4 912.1,476.6 912.9,474.5 913.7,476.4 914.5,474.2 915.3,475.2 916.1,475.5 916.9,474.4 917.7,476.5 918.5,475.7 919.3,475.4 920.1,475.9 920.9,473.2 921.8,473.1 922.6,475.2 923.4,473.8 924.3,472.2 925.1,474.2 925.9,473.3 926.8,471.7 927.6,468.3 928.4,469.0 929.2,468.3 930.0,468.5 930.8,466.6 931.5,466.8 932.3,468.2 933.1,463.9 933.9,463.1 934.7,466.4 935.5,465.1 936.3,467.9 937.1,468.4 937.9,472.1 938.6,470.4 939.4,473.2 940.2,476.0 941.0,476.2 941.8,475.9 942.6,476.1 943.4,478.9 944.3,477.2 945.1,476.0 945.9,473.1 946.8,472.2 947.6,474.4 948.4,473.4 949.3,472.5 950.1,469.2 950.9,470.2 951.7,469.7 952.5,469.0 953.2,467.1 954.0,464.1 954.8,463.5 955.6,463.2 956.4,462.8 957.2,464.6 958.0,466.0 958.7,469.1 959.5,470.1 960.3,473.2 961.0,476.7 961.8,477.9 962.6,480.3 963.4,480.0 964.2,481.9 964.9,481.6 965.7,479.4 966.5,477.3 967.3,479.9 968.0,477.0 968.8,476.2 969.6,476.4 970.4,477.9 971.1,479.7 971.9,477.8 972.7,478.9 973.5,477.5 974.4,478.3 975.2,477.1 976.0,477.9 976.9,475.9 977.7,475.2 978.5,477.6 979.4,477.3 980.2,477.1 981.0,476.4 981.9,476.7 982.7,475.5 983.5,475.9 984.3,476.0 985.2,474.6 986.0,472.9 986.8,476.9 987.6,476.9 988.4,474.3 989.2,474.8 990.1,473.2 990.9,477.2 991.7,473.1 992.4,464.8 993.2,452.8 993.9,446.8 994.7,447.0 995.4,448.4 996.2,448.5 996.9,450.0 997.7,452.0 998.4,453.1 999.2,459.0 999.9,463.2 1000.7,470.0 1001.4,473.0 1002.2,475.8 1003.1,475.6 1003.9,476.2 1004.7,476.7 1005.6,473.0 1006.4,472.9 1007.2,474.8 1008.1,475.2 1008.9,476.1 1009.7,472.6 1010.6,473.8 1011.4,470.2 1012.2,468.4 1013.1,467.1 1013.9,465.4 1014.7,471.6 1015.4,478.6 1016.2,481.1 1017.0,480.1 1017.8,479.2 1018.6,481.3 1019.3,481.4 1020.1,478.3 1020.9,479.6 1021.7,477.2 1022.5,478.4 1023.3,479.7 1024.0,478.6 1024.8,475.2 1025.6,473.6 1026.4,473.9 1027.2,474.3 1028.1,472.4 1028.9,472.0 1029.7,471.3 1030.6,472.3 1031.4,468.6 1032.2,467.9 1033.0,466.6 1033.9,466.7 1034.7,463.8 1035.5,464.6 1036.4,463.6 1037.2,464.0 1038.0,454.1 1038.9,447.2 1039.7,435.6 1040.7,436.3 1041.5,444.4 1042.4,451.5 1043.2,463.7 1043.9,467.7 1044.7,473.2 1045.4,472.9 1046.2,477.0 1047.0,476.7 1047.9,477.5 1048.7,474.1 1049.5,474.8 1050.3,477.2 1051.1,477.1 1052.0,474.5 1052.8,474.4 1053.6,479.0 1054.4,478.0 1055.2,476.5 1056.1,477.1 1056.9,475.8 1057.7,476.6 1058.5,478.7 1059.4,473.4 1060.2,476.3 1061.0,474.2 1061.9,471.6 1062.7,471.6 1063.5,469.9 1064.4,468.9 1065.2,467.7 1066.0,468.6 1066.9,470.7 1067.7,471.6 1068.5,471.7 1069.4,473.3 1070.2,473.3 1071.0,473.6 1071.9,475.4 1072.7,479.3 1073.5,475.5 1074.4,474.8 1075.2,472.9 1076.0,476.6 1076.9,472.3 1077.7,471.1 1078.5,472.8 1079.4,469.0 1080.2,471.6 1081.0,470.5 1081.8,466.6 1082.6,469.6 1083.3,466.2 1084.1,465.0 1084.9,467.6 1085.7,467.8 1086.5,464.4 1087.3,465.0 1088.1,466.9 1088.9,469.2 1089.7,471.0 1090.5,470.5 1091.2,470.0 1092.0,471.3 1092.8,474.1 1093.6,472.2 1094.4,473.6 1095.2,473.6 1096.0,476.9 1096.8,475.5 1097.6,472.3 1098.4,474.4 1099.2,474.7 1100.0,471.2 1100.8,470.8 1101.6,470.1 1102.4,472.3 1103.2,469.9 1104.0,465.9 1104.9,458.1 1105.7,452.8 1106.5,455.4 1107.4,456.9 1108.2,458.0 1109.0,462.7 1109.8,465.5 1110.7,465.0 1111.5,469.4 1112.3,469.7 1113.1,469.4 1113.9,468.8 1114.7,466.5 1115.5,465.6 1116.2,465.0 1117.0,464.8 1117.8,464.7 1118.6,463.9 1119.4,462.9 1120.2,464.2 1121.0,461.4 1121.8,462.6 1122.6,459.1 1123.3,459.4 1124.1,456.3 1124.9,453.3 1125.7,452.2 1126.5,450.2 1127.2,456.0 1128.0,460.7 1128.7,464.1 1129.5,468.5 1130.2,474.7 1131.0,474.3 1131.9,473.8 1132.7,476.5 1133.5,474.2 1134.4,475.2 1135.2,474.4 1136.0,475.8 1136.9,473.5 1137.7,474.4 1138.5,474.0 1139.4,475.5 1140.2,475.4 1141.0,475.7 1141.8,473.6 1142.6,469.3 1143.4,471.7 1144.2,470.8 1145.0,469.7 1145.8,466.4 1146.6,466.2 1147.4,464.3 1148.2,463.9 1149.0,462.8 1149.8,465.7 1150.7,467.7 1151.5,470.3 1152.3,471.7 1153.2,473.2 1154.0,477.2 1154.8,475.8 1155.6,478.0 1156.4,475.7 1157.2,476.1 1158.0,474.1 1158.7,475.3 1159.5,477.7 1160.3,473.9 1161.1,475.6 1161.9,476.5 1162.7,477.2 1163.5,475.6 1164.3,472.6 1165.1,475.8 1165.9,476.1 1166.7,475.9 1167.5,475.4 1168.3,474.9 1169.2,474.9 1170.0,473.2 1170.8,471.2 1171.6,471.8 1172.4,472.8 1173.2,472.8 1174.0,475.0 1174.8,472.0 1175.7,472.3 1176.5,473.8 1177.3,471.6 1178.2,472.0 1179.0,471.0 1179.8,472.5 1180.7,470.9 1181.5,473.1 1182.3,471.1 1183.2,468.7 1184.0,468.0 1184.8,467.8 1185.7,466.0 1186.5,465.4 1187.3,468.0 1188.2,469.0 1189.0,472.0 1189.8,472.3 1190.7,473.9 1191.5,479.0 1192.3,478.0 1193.2,473.0 1194.0,471.7 1194.8,471.5 1195.7,467.6 1196.5,466.2 1197.3,465.9 1198.2,464.0 1199.0,461.5 1199.8,462.1 1200.6,460.6 1201.4,460.8 1202.2,462.1 1203.0,460.8 1203.8,459.6 1204.6,459.2 1205.4,461.2 1206.2,460.8 1207.0,459.9 1207.8,458.8 1208.6,459.5 1209.3,462.1 1210.1,462.4 1210.9,468.5 1211.7,467.0 1212.5,468.7 1213.2,473.5 1214.0,473.2 1214.8,475.9 1215.7,473.3 1216.5,475.0 1217.3,473.7 1218.2,471.3 1219.0,472.7 1219.8,473.0 1220.7,469.4 1221.5,469.6 1222.3,470.3 1223.2,471.0 1224.0,469.7 1224.8,469.2 1225.7,470.1 1226.5,467.6 1227.3,467.5 1228.2,467.9 1229.0,469.7 1229.8,466.7 1230.7,464.7 1231.5,465.1 1232.3,466.0 1233.2,467.8 1234.0,465.8 1234.8,463.8 1235.7,460.8 1236.5,459.8 1237.3,460.9 1238.2,459.9 1239.0,455.5 1239.8,455.3 1240.6,454.0 1241.5,452.7 1242.3,449.1 1243.1,443.4 1244.0,438.7 1244.8,433.8 1245.8,432.6 1246.6,438.7 1247.5,450.0 1248.3,454.4 1249.1,456.8 1249.9,457.6 1250.8,462.5 1251.6,462.8 1252.4,465.6 1253.2,464.3 1254.0,468.6 1254.9,468.8 1255.7,469.6 1256.5,473.3 1257.3,470.1 1258.2,473.7 1259.0,469.2 1259.8,471.8 1260.7,469.5 1261.5,467.5 1262.3,470.0 1263.2,466.1 1264.0,469.1 1264.8,465.8 1265.6,465.6 1266.4,464.0 1267.2,463.8 1268.0,467.1 1268.8,466.3 1269.6,464.2 1270.4,465.5 1271.2,462.5 1272.0,462.7 1272.8,462.1 1273.6,459.7 1274.4,458.3 1275.2,456.0 1275.9,454.9 1276.7,452.9 1277.5,448.9 1278.3,447.0 1279.1,445.4 1279.8,439.3 1280.6,434.7 1281.3,430.4 1282.1,429.7 1282.8,422.6 1283.6,418.2 1284.5,419.1 1285.3,416.3 1286.2,413.4 1287.1,411.0 1288.0,421.1 1288.9,427.6 1289.8,435.8 1290.5,445.0 1291.3,448.8 1292.0,458.6 1292.8,464.5 1293.6,462.8 1294.4,465.0 1295.2,462.6 1296.0,465.6 1296.8,464.4 1297.6,464.3 1298.4,467.4 1299.3,469.0 1300.1,467.6 1300.9,469.3 1301.7,467.9 1302.5,468.3 1303.3,470.6 1304.1,470.9 1304.9,468.9 1305.7,471.0 1306.5,474.4 1307.3,474.7 1308.1,474.1 1308.8,476.2 1309.6,480.1 1310.4,477.4 1311.2,477.9 1312.0,479.4 1312.8,482.9 1313.6,479.8 1314.3,474.6 1315.1,467.8 1315.8,461.9 1316.6,457.3 1317.4,459.8 1318.3,461.5 1319.1,462.9 1319.9,465.8 1320.8,466.1 1321.6,468.7 1322.4,468.8 1323.3,468.5 1324.1,474.5 1324.9,472.4 1325.8,470.5 1326.6,474.1 1327.4,470.8 1328.3,471.5 1329.1,474.2 1329.9,473.5 1330.8,474.7 1331.6,474.4 1332.4,471.8 1333.3,472.0 1334.1,471.0 1334.9,473.8 1335.8,473.9 1336.6,471.6 1337.4,473.2 1338.3,473.9 1339.1,472.1 1339.9,471.1 1340.8,471.8 1341.6,470.9 1342.4,469.9 1343.3,470.3 1344.1,471.8 1344.9,469.3 1345.8,468.7 1346.6,473.1 1347.4,469.6 1348.3,470.0 1349.1,470.8 1349.9,474.3 1350.8,472.6 1351.6,474.2 1352.4,472.0 1353.3,470.8 1354.1,465.4 1354.9,464.4 1355.8,464.7 1356.6,463.3 1357.4,461.5 1358.3,459.1 1359.1,457.5 1359.9,459.5 1360.8,460.9 1361.6,461.3 1362.4,463.9 1363.3,462.9 1364.1,467.2 1364.9,466.3 1365.8,467.0 1366.6,470.6 1367.4,470.8 1368.3,471.6 1369.1,470.5 1369.9,474.0 1370.8,473.6 1371.6,471.2 1372.4,476.3 1373.3,473.3 1374.1,473.1 1374.9,475.3 1375.8,474.4 1376.6,471.6 1377.4,471.5 1378.3,471.7 1379.1,473.5 1379.9,469.6 1380.8,469.3 1381.6,467.8 1382.4,470.2 1383.3,469.7 1384.1,472.4 1384.9,473.2 1385.8,472.9 1386.6,474.4 1387.4,476.2 1388.3,477.7 1389.1,479.6 1389.9,475.4 1390.8,478.6 1391.6,476.0 1392.4,474.3 1393.3,474.7 1394.1,473.9 1394.9,476.4 1395.8,471.9 1396.6,472.5 1397.4,473.6 1398.3,471.7 1399.1,474.3 1399.9,470.3 1400.7,474.0 1401.4,472.5 1402.2,473.1 1403.0,471.0 1403.8,468.6 1404.6,471.9 1405.3,469.5 1406.1,470.1 1406.9,470.7 1407.7,467.4 1408.5,467.6 1409.3,467.7 1410.0,466.6 1410.8,469.7 1411.6,468.3 1412.3,459.3 1413.1,453.8 1413.8,446.4 1414.6,436.7 1415.4,426.3 1416.1,413.8 1416.9,401.5 1417.8,388.5 1418.6,371.5 1419.6,373.3 1420.5,392.8 1421.4,412.3 1422.1,429.1 1422.9,441.4 1423.6,457.0 1424.4,456.2 1425.2,457.8 1426.0,458.7 1426.8,461.9 1427.6,464.3 1428.4,465.4 1429.3,463.6 1430.1,466.6 1430.9,466.6 1431.7,469.5 1432.5,470.6 1433.3,472.2 1434.1,473.4 1434.9,472.8 1435.8,475.6 1436.6,470.5 1437.4,472.9 1438.3,472.0 1439.1,470.9 1439.9,468.5 1440.8,469.0 1441.6,467.9 1442.4,469.1 1443.3,470.7 1444.1,470.4 1444.9,473.0 1445.8,472.9 1446.6,472.1 1447.4,475.6 1448.3,474.6 1449.1,479.4 1449.9,478.3 1450.7,476.9 1451.5,478.2 1452.3,478.1 1453.1,474.6 1453.9,475.7 1454.8,476.2 1455.6,472.3 1456.4,472.8 1457.2,476.0 1458.0,473.2 1458.8,475.0 1459.6,472.7 1460.3,468.9 1461.1,463.3 1461.8,456.8 1462.6,451.7 1463.3,446.4 1464.1,440.1 1464.9,447.1 1465.6,456.3 1466.4,464.6 1467.2,465.5 1467.9,465.6 1468.7,465.4 1469.5,468.8 1470.2,467.1 1471.0,468.4 1471.8,472.4 1472.6,471.5 1473.3,475.2 1474.1,476.2 1474.9,474.0 1475.7,477.0 1476.4,473.2 1477.2,474.0 1478.0,475.1 1478.8,471.7 1479.5,473.6 1480.3,473.9 1481.1,475.3 1481.9,475.2 1482.6,471.5 1483.4,471.6 1484.2,471.8 1485.0,471.0 1485.9,469.9 1486.7,472.3 1487.5,472.5 1488.4,469.0 1489.2,472.9 1490.0,471.3 1490.9,471.3 1491.7,469.6 1492.5,471.3 1493.4,470.4 1494.2,467.9 1495.0,468.1 1495.9,469.2 1496.7,467.3 1497.5,464.1 1498.4,463.4 1499.2,466.8 1500.0,466.3 1500.9,465.4 1501.7,466.1 1502.5,465.7 1503.4,464.0 1504.2,467.2 1505.0,464.4 1505.9,465.5 1506.7,466.9 1507.5,466.7 1508.4,468.0 1509.2,469.1 1510.0,466.0 1510.9,464.9 1511.7,463.8 1512.5,462.9 1513.4,459.4 1514.2,458.5 1515.0,459.6 1515.9,455.8 1516.7,455.3 1517.5,457.4 1518.4,456.6 1519.2,458.8 1520.0,457.2 1520.9,456.9 1521.7,458.4 1522.5,458.7 1523.4,460.0 1524.2,462.1 1525.0,461.2 1525.9,458.7 1526.7,457.6 1527.5,455.9 1528.4,455.3 1529.2,458.3 1530.0,456.1 1530.9,456.5 1531.7,457.4 1532.5,457.1 1533.4,460.1 1534.2,459.9 1535.0,460.4 1535.9,464.6 1536.7,464.7 1537.5,465.2 1538.4,470.0 1539.2,472.1 1540.0,468.4 1540.9,470.2 1541.7,469.9 1542.5,467.9 1543.4,467.6 1544.2,469.5 1545.0,465.0 1545.9,465.7 1546.7,466.5 1547.5,464.6 1548.4,467.0 1549.2,467.3 1550.0,466.0 1550.8,467.7 1551.5,471.5 1552.3,471.3 1553.1,472.7 1553.9,473.1 1554.6,475.5 1555.4,475.8 1556.2,478.9 1557.0,471.4 1557.7,470.3 1558.5,464.7 1559.2,460.4 1560.0,461.2 1560.9,462.9 1561.7,463.1 1562.5,466.1 1563.4,464.3 1564.2,465.6 1565.0,470.0 1565.9,467.3 1566.7,468.4 1567.5,471.4 1568.4,471.4 1569.2,470.5 1570.0,468.1 1570.9,467.8 1571.7,469.8 1572.5,470.6 1573.4,466.6 1574.2,467.9 1575.0,465.8 1575.9,470.1 1576.7,465.6 1577.5,469.0 1578.4,468.0 1579.2,465.5 1580.0,466.5 1580.9,467.9 1581.7,466.0 1582.5,463.9 1583.4,467.4 1584.2,465.1 1585.0,463.5 1585.9,463.0 1586.7,465.3 1587.5,466.0 1588.4,465.0 1589.2,467.8 1590.0,467.5 1590.9,467.8 1591.7,466.8 1592.5,470.2 1593.4,470.2 1594.2,468.9 1595.0,468.2 1595.9,471.0 1596.7,471.0 1597.5,468.7 1598.4,472.0 1599.2,468.8 1600.0,471.4 1600.9,470.7 1601.7,473.2 1602.5,472.4 1603.4,473.5 1604.2,473.4 1605.0,471.8 1605.9,472.8 1606.7,471.0 1607.5,472.6 1608.4,470.9 1609.2,473.1 1610.0,469.9 1610.9,469.6 1611.7,473.1 1612.5,470.1 1613.4,468.9 1614.2,468.7 1615.0,471.6 1615.9,472.4 1616.7,469.5 1617.5,471.4 1618.4,472.9 1619.2,469.5 1620.0,472.1 1620.9,474.0 1621.7,474.2 1622.5,471.8 1623.4,473.0 1624.2,472.7 1625.0,474.8 1625.9,473.7 1626.7,477.2 1627.5,476.4 1628.4,473.2 1629.2,476.1 1630.0,476.6 1630.9,477.1 1631.7,476.1 1632.5,478.3 1633.4,476.4 1634.2,476.3 1635.0,474.9 1635.9,475.0 1636.7,477.6 1637.5,478.0 1638.3,477.6 1639.1,479.1 1639.9,475.2 1640.6,476.4 1641.4,476.2 1642.2,478.6 1643.0,476.8 1643.8,474.5 1644.6,477.2 1645.4,474.8 1646.2,474.2 1647.0,478.2 1647.8,474.5 1648.5,473.8 1649.3,477.1 1650.1,474.7 1650.9,475.1 1651.7,476.5 1652.5,471.3 1653.2,467.2 1654.0,462.2 1654.7,456.9 1655.5,448.8 1656.3,445.4 1657.1,436.8 1657.9,431.9 1658.7,427.0 1659.7,428.9 1660.5,430.9 1661.3,437.3 1662.2,446.2 1663.0,447.9 1663.8,457.3 1664.5,460.9 1665.2,470.7 1666.0,475.3 1666.8,476.7 1667.6,473.9 1668.3,475.9 1669.1,477.7 1669.9,474.9 1670.7,477.2 1671.4,478.0 1672.2,474.5 1673.0,478.7 1673.8,477.2 1674.5,475.3 1675.3,478.6 1676.1,476.3 1676.9,479.5 1677.6,477.3 1678.4,476.5 1679.2,476.8 1680.0,477.1 1680.8,478.0 1681.6,479.2 1682.4,476.0 1683.2,475.3 1684.0,475.4 1684.8,477.6 1685.6,474.3 1686.4,475.2 1687.2,473.2 1688.0,476.0 1688.8,475.5 1689.6,475.3 1690.4,472.3 1691.2,473.2 1692.0,471.6 1692.8,475.0 1693.7,473.2 1694.5,473.6 1695.3,473.6 1696.1,468.9 1696.9,472.4 1697.7,469.5 1698.5,467.9 1699.3,461.3 1700.0,452.2 1700.8,438.2 1701.7,434.5 1702.5,427.0 1703.5,423.2 1704.3,432.5 1705.2,442.0 1706.0,450.7 1706.8,454.4 1707.5,460.5 1708.2,464.6 1709.0,473.7 1709.8,471.0 1710.6,470.9 1711.3,472.7 1712.1,470.4 1712.9,468.6 1713.7,468.4 1714.4,469.2 1715.2,468.9 1716.0,469.4 1716.8,468.3 1717.6,466.6 1718.3,467.2 1719.1,467.8 1719.9,467.5 1720.7,466.4 1721.4,466.4 1722.2,465.0 1723.0,464.9 1723.8,466.0 1724.7,466.8 1725.5,466.4 1726.3,466.6 1727.2,467.5 1728.0,467.1 1728.8,468.6 1729.7,470.3 1730.5,469.3 1731.3,470.9 1732.2,471.9 1733.0,473.1 1733.8,470.6 1734.7,471.7 1735.5,474.1 1736.3,474.2 1737.2,474.2 1738.0,472.3 1738.8,472.5 1739.7,472.3 1740.5,473.4 1741.3,476.9 1742.2,472.7 1743.0,474.0 1743.8,475.8 1744.7,473.7 1745.5,472.5 1746.3,472.1 1747.2,472.4 1748.0,473.9 1748.8,472.9 1749.7,473.8 1750.5,472.9 1751.3,472.8 1752.2,468.1 1753.0,471.6 1753.8,471.7 1754.7,468.0 1755.5,466.9 1756.3,468.0 1757.2,466.5 1758.0,465.7 1758.8,469.2 1759.7,468.7 1760.5,464.5 1761.3,464.9 1762.2,465.9 1763.0,464.1 1763.8,465.9 1764.7,467.1 1765.5,465.0 1766.3,465.4 1767.2,467.4 1768.0,470.8 1768.8,467.3 1769.7,472.2 1770.5,472.2 1771.3,471.7 1772.2,469.6 1773.0,472.0 1773.8,471.7 1774.7,472.6 1775.5,471.4 1776.3,474.1 1777.2,472.8 1778.0,472.8 1778.8,473.3 1779.7,476.0 1780.5,474.2 1781.3,475.8 1782.2,473.6 1783.0,472.8 1783.8,476.5 1784.6,476.1 1785.3,475.4 1786.1,477.6 1786.9,475.0 1787.7,476.0 1788.4,477.2 1789.2,476.2 1790.0,477.5 1790.8,475.4 1791.5,477.3 1792.3,476.1 1793.1,478.0 1793.9,476.6 1794.8,475.2 1795.6,478.4 1796.4,478.8 1797.3,477.8 1798.1,475.8 1798.9,476.0 1799.8,475.2 1800.6,477.5 1801.4,476.9 1802.3,475.3 1803.1,477.8 1803.9,476.5 1804.8,477.7 1805.6,477.5 1806.4,477.5 1807.3,476.8 1808.1,476.0 1808.9,478.0 1809.8,475.4 1810.6,475.4 1811.4,477.4 1812.3,473.2 1813.1,473.9 1813.9,475.5 1814.8,473.2 1815.6,476.6 1816.4,475.9 1817.3,475.0 1818.1,474.9 1818.9,474.0 1819.8,471.4 1820.6,474.0 1821.4,472.4 1822.3,471.7 1823.1,471.1 1823.9,472.0 1824.8,474.9 1825.6,471.5 1826.4,474.6 1827.3,473.7 1828.1,474.8 1828.9,476.2 1829.8,478.1 1830.6,476.4 1831.4,475.3 1832.3,476.3 1833.1,479.4 1833.9,478.7 1834.8,478.1 1835.6,475.7 1836.4,475.3 1837.3,477.6 1838.1,476.8 1838.9,476.6 1839.8,479.1 1840.6,478.5 1841.4,478.5 1842.3,477.1 1843.1,479.2 1843.9,476.4 1844.8,478.6 1845.6,475.2 1846.4,479.1 1847.3,475.6 1848.1,477.8 1848.9,478.2 1849.8,474.8 1850.6,476.5 1851.4,475.7 1852.3,474.3 1853.1,476.4 1853.9,474.4 1854.8,476.3 1855.6,474.9 1856.4,473.9 1857.3,473.6 1858.1,473.2 1858.9,470.3 1859.8,472.9 1860.6,473.2 1861.4,469.8 1862.3,470.9 1863.1,470.1 1863.9,468.9 1864.8,472.6 1865.6,472.7 1866.4,472.1 1867.3,470.4 1868.1,473.3 1868.9,470.4 1869.8,471.3 1870.6,472.9 1871.4,470.3 1872.3,473.8 1873.1,473.8 1873.9,473.2 1874.8,475.0 1875.6,475.0 1876.4,472.5 1877.3,472.8 1878.1,473.3 1878.9,475.7 1879.8,473.9 1880.6,475.5 1881.4,472.6 1882.3,475.2 1883.1,472.7 1883.9,474.0 1884.8,475.8 1885.6,476.3 1886.4,474.3 1887.3,474.9 1888.1,472.7 1888.9,474.3 1889.8,471.9 1890.6,471.1 1891.4,475.0 1892.3,474.5 1893.1,472.4 1893.9,471.8 1894.8,474.9 1895.6,471.9 1896.4,471.1 1897.3,472.5 1898.1,471.2 1898.9,471.4 1899.8,473.4 1900.6,473.8 1901.4,470.8 1902.3,472.1 1903.1,473.6 1903.9,474.3 1904.8,469.9 1905.6,473.3 1906.4,469.2 1907.3,471.7 1908.1,469.3 1908.9,469.7 1909.8,471.0 1910.6,467.1 1911.4,466.1 1912.3,467.8 1913.1,466.4 1913.9,468.7 1914.8,468.3 1915.6,465.3 1916.4,464.8 1917.3,468.1 1918.1,464.8 1918.9,465.0 1919.8,467.1 1920.6,465.6 1921.4,465.5 1922.3,464.0 1923.1,464.3 1923.9,463.9 1924.7,463.2 1925.5,461.1 1926.2,458.6 1927.0,454.3 1927.8,453.9 1928.6,452.7 1929.4,450.4 1930.2,454.5 1930.9,459.3 1931.7,463.6 1932.4,471.3 1933.2,468.1 1934.0,469.2 1934.9,468.9 1935.7,470.0 1936.5,469.3 1937.3,471.3 1938.2,471.1 1939.0,470.4 1939.8,470.2 1940.6,469.7 1941.5,469.8 1942.3,467.2 1943.1,466.6 1943.9,469.9 1944.8,466.8 1945.6,468.2 1946.4,467.5 1947.3,468.8 1948.1,472.4 1948.9,468.4 1949.8,471.8 1950.6,472.4 1951.4,472.8 1952.3,472.7 1953.1,474.4 1953.9,470.8 1954.8,473.5 1955.6,472.7 1956.4,472.7 1957.3,472.5 1958.1,474.4 1958.9,476.3 1959.8,475.7 1960.6,474.6 1961.4,474.4 1962.3,473.5 1963.1,474.0 1963.9,474.2 1964.8,475.8 1965.6,475.3 1966.4,475.5 1967.3,475.6 1968.1,473.1 1968.9,474.2 1969.8,475.9 1970.6,475.0 1971.4,473.4 1972.3,473.6 1973.1,475.2 1973.9,476.3 1974.8,476.2 1975.6,474.0 1976.4,475.9 1977.3,473.8 1978.1,473.3 1978.9,475.2 1979.8,473.2 1980.6,472.4 1981.4,471.4 1982.3,472.0 1983.1,472.2 1983.9,472.7 1984.8,472.1 1985.6,473.8 1986.4,472.9 1987.3,475.6 1988.1,474.9 1988.9,475.7 1989.8,474.4 1990.6,473.9 1991.4,476.7 1992.3,475.5 1993.1,476.5 1993.9,475.6 1994.7,474.8 1995.4,476.6 1996.2,477.6 1997.0,476.3 1997.8,475.3 1998.5,477.5 1999.3,477.4 2000.1,478.2 2000.9,475.1 2001.6,476.2 2002.4,475.8 2003.2,477.0 2004.0,476.5 2004.9,477.3 2005.7,475.0 2006.5,477.7 2007.4,474.0 2008.2,477.9 2009.0,476.2 2009.9,476.5 2010.7,473.3 2011.5,471.4 2012.4,472.1 2013.2,468.4 2014.0,467.8 2014.9,466.9 2015.7,465.4 2016.5,465.3 2017.4,467.5 2018.2,468.8 2019.0,468.4 2019.9,470.2 2020.7,469.8 2021.5,469.5 2022.4,472.6 2023.2,470.9 2024.0,470.9 2024.9,473.1 2025.7,471.1 2026.5,471.0 2027.4,471.6 2028.2,471.6 2029.0,470.2 2029.9,470.6 2030.7,471.3 2031.5,468.7 2032.4,468.9 2033.2,472.1 2034.0,470.6 2034.9,471.1 2035.7,469.0 2036.5,473.0 2037.4,470.4 2038.2,474.0 2039.0,472.4 2039.9,474.3 2040.7,473.5 2041.5,472.1 2042.4,477.0 2043.2,476.6 2044.0,474.9 2044.9,475.9 2045.7,473.4 2046.5,476.4 2047.4,473.8 2048.2,474.3 2049.0,477.2 2049.9,475.1 2050.7,477.5 2051.5,476.0 2052.4,479.4 2053.2,476.0 2054.0,480.2 2054.9,477.7 2055.7,479.3 2056.5,480.3 2057.4,477.0 2058.2,480.0 2059.0,477.4 2059.9,480.0 2060.7,481.1 2061.5,479.7 2062.4,479.5 2063.2,478.8 2064.0,480.6 2064.9,480.7 2065.7,478.7 2066.5,480.7 2067.4,480.6 2068.2,478.9 2069.0,479.5 2069.9,478.0 2070.7,480.3 2071.5,479.3 2072.4,476.0 2073.2,477.8 2074.0,475.1 2074.9,476.5 2075.7,477.5 2076.5,474.8 2077.4,476.6 2078.2,476.4 2079.0,477.9 2079.9,474.3 2080.7,474.8 2081.5,477.2 2082.4,474.4 2083.2,477.0 2084.0,475.4 2084.9,476.8 2085.7,474.5 2086.5,474.7 2087.4,474.3 2088.2,475.0 2089.0,476.8 2089.9,478.0 2090.7,476.5 2091.5,479.4 2092.4,475.6 2093.2,477.2 2094.0,476.9 2094.9,478.6 2095.7,477.3 2096.5,479.3 2097.4,475.8 2098.2,475.7 2099.0,478.4 2099.9,476.7 2100.7,477.1 2101.5,476.5 2102.4,478.0 2103.2,475.3 2104.0,477.2 2104.9,478.1 2105.7,475.1 2106.5,475.1 2107.4,474.2 2108.2,476.8 2109.0,477.4 2109.9,474.4 2110.7,473.7 2111.5,476.6 2112.4,475.4 2113.2,476.3 2114.0,474.4 2114.9,474.2 2115.7,473.0 2116.5,476.4 2117.4,471.8 2118.2,474.0 2119.0,471.3 2119.9,471.9 2120.7,474.9 2121.5,473.1 2122.4,470.8 2123.2,472.7 2124.0,472.7 2124.9,473.8 2125.7,472.3 2126.5,473.1 2127.4,473.8 2128.2,473.1 2129.0,470.8 2129.9,472.2 2130.7,473.8 2131.5,471.4 2132.4,473.2 2133.2,471.6 2134.0,473.7 2134.9,473.2 2135.7,472.0 2136.5,471.6 2137.4,469.2 2138.2,470.4 2139.0,472.4 2139.9,472.7 2140.7,469.0 2141.5,472.3 2142.4,472.5 2143.2,471.0 2144.0,472.3 2144.9,471.8 2145.7,468.7 2146.5,469.5 2147.4,471.6 2148.2,470.6 2149.0,471.6 2149.9,468.1 2150.7,467.1 2151.5,469.1 2152.4,468.9 2153.2,468.9" fill="none" stroke="#33ffff" stroke-width="8" stroke-linejoin="round" stroke-linecap="butt"/>
<polyline points="144.3,728.6 145.3,727.6 146.3,724.9 147.3,722.4 148.3,730.3 149.3,735.3 150.3,727.8 151.3,734.8 152.3,723.1 153.3,730.9 154.3,726.3 155.3,731.0 156.3,732.9 157.3,736.7 158.3,731.9 159.3,737.0 160.3,728.8 161.3,725.7 162.3,730.7 163.3,734.5 164.3,734.4 165.3,724.3 166.3,727.5 167.3,727.6 168.3,730.8 169.3,736.7 170.3,727.8 171.3,724.4 172.3,737.2 173.3,739.6 174.3,740.8 175.3,732.6 176.3,738.7 177.3,740.2 178.3,751.3 179.3,739.4 180.3,739.5 181.3,740.9 182.3,749.7 183.3,741.5 184.3,754.3 185.3,745.6 186.3,752.7 187.3,747.9 188.3,751.5 189.3,762.4 190.3,766.4 191.3,756.5 192.3,759.1 193.3,755.1 194.3,757.0 195.3,759.6 196.3,761.4 197.3,762.0 198.3,758.6 199.3,755.7 200.3,761.7 201.3,758.6 202.3,758.5 203.3,767.9 204.3,762.2 205.3,753.6 206.3,767.7 207.3,767.9 208.3,759.2 209.3,768.1 210.3,756.3 211.3,769.3 212.3,758.1 213.3,768.3 214.3,765.2 215.3,767.9 216.3,757.0 217.3,762.0 218.3,766.3 219.3,754.1 220.3,755.0 221.3,760.5 222.3,754.2 223.3,753.0 224.3,752.3 225.3,757.2 226.3,761.6 227.3,758.7 228.3,760.7 229.3,751.9 230.3,753.0 231.3,760.0 232.3,753.9 233.3,751.7 234.3,752.4 235.3,761.3 236.3,765.9 237.3,758.9 238.3,751.6 239.3,754.4 240.3,761.7 241.3,763.5 242.3,754.9 243.3,759.1 244.3,752.9 245.3,760.8 246.3,764.2 247.3,760.5 248.3,765.0 249.3,757.0 250.3,763.7 251.3,761.1 252.3,763.4 253.3,755.9 254.3,762.0 255.3,764.8 256.4,759.4 257.4,764.4 258.4,756.6 259.4,762.6 260.4,770.5 261.4,766.1 262.4,764.0 263.4,769.4 264.4,766.8 265.4,764.0 266.4,762.2 267.4,770.2 268.4,766.4 269.4,766.2 270.4,765.4 271.4,763.0 272.4,764.1 273.4,770.6 274.4,769.9 275.4,773.5 276.4,768.2 277.4,766.6 278.4,768.0 279.4,762.0 280.4,771.1 281.4,764.6 282.4,758.4 283.4,760.4 284.4,765.1 285.4,766.5 286.4,762.7 287.4,765.3 288.4,762.6 289.4,752.9 290.4,749.0 291.4,743.6 292.4,730.0 293.4,730.8 294.4,724.4 295.4,723.6 296.4,714.1 297.4,722.3 298.4,718.7 299.4,716.3 300.4,711.0 301.4,721.6 302.4,717.9 303.4,717.1 304.4,710.5 305.4,710.6 306.4,710.6 307.4,721.4 308.4,715.6 309.4,724.9 310.4,732.0 311.4,741.1 312.4,740.7 313.4,745.6 314.4,759.2 315.4,747.4 316.4,760.7 317.4,752.3 318.4,747.3 319.4,752.3 320.4,760.1 321.4,755.6 322.4,752.4 323.4,751.1 324.4,749.5 325.4,756.0 326.4,751.3 327.4,754.4 328.4,745.5 329.4,747.9 330.4,751.9 331.4,748.5 332.4,754.0 333.4,747.5 334.4,754.9 335.4,753.6 336.4,749.8 337.4,754.2 338.4,748.8 339.4,757.4 340.4,754.7 341.4,747.9 342.4,756.4 343.4,753.0 344.4,756.6 345.4,754.3 346.4,757.6 347.4,752.7 348.4,750.7 349.4,757.9 350.4,762.0 351.4,756.7 352.4,759.5 353.4,757.5 354.4,752.7 355.4,750.0 356.4,755.9 357.4,749.0 358.4,753.2 359.4,758.1 360.4,752.2 361.4,753.0 362.4,761.0 363.4,754.9 364.4,753.2 365.4,746.6 366.4,753.1 367.4,745.1 368.4,747.6 369.4,747.9 370.4,743.3 371.4,731.9 372.4,740.6 373.4,735.8 374.4,728.4 375.4,726.4 376.4,729.5 377.4,734.6 378.4,733.1 379.4,725.9 380.4,740.0 381.4,726.8 382.4,738.4 383.4,733.2 384.4,738.9 385.4,741.4 386.4,743.2 387.4,743.1 388.4,749.9 389.4,748.8 390.4,752.1 391.4,749.7 392.4,754.8 393.4,762.9 394.4,760.2 395.4,750.3 396.4,754.5 397.4,756.5 398.4,758.6 399.4,759.4 400.4,765.6 401.4,757.5 402.4,765.4 403.4,766.6 404.4,758.2 405.4,761.0 406.4,761.2 407.4,769.1 408.4,772.9 409.4,773.4 410.4,773.0 411.4,768.8 412.4,770.1 413.4,770.9 414.4,765.6 415.4,768.6 416.4,763.6 417.4,766.7 418.4,767.5 419.4,776.5 420.4,765.4 421.4,769.7 422.4,763.3 423.4,763.3 424.4,770.1 425.4,771.2 426.4,770.5 427.4,778.0 428.4,770.9 429.4,773.6 430.4,777.9 431.4,766.8 432.4,776.2 433.4,766.5 434.4,777.5 435.4,775.6 436.4,775.6 437.4,776.3 438.4,763.4 439.4,763.0 440.4,766.8 441.4,760.1 442.4,771.4 443.4,758.9 444.4,758.0 445.4,763.7 446.4,753.0 447.4,763.1 448.4,754.8 449.4,757.3 450.4,761.8 451.4,750.4 452.4,753.1 453.4,755.0 454.4,759.0 455.4,751.4 456.4,751.9 457.4,747.3 458.4,751.6 459.4,748.6 460.4,752.0 461.4,742.4 462.4,750.7 463.4,756.5 464.4,745.9 465.4,745.5 466.4,752.9 467.4,742.5 468.4,746.5 469.4,742.1 470.4,735.6 471.4,735.5 472.4,740.4 473.4,736.1 474.4,730.1 475.4,735.2 476.4,741.3 477.4,728.7 478.5,737.3 479.5,728.4 480.5,730.2 481.5,728.2 482.5,735.1 483.5,736.0 484.5,736.5 485.5,734.1 486.5,733.5 487.5,726.4 488.5,726.6 489.5,723.4 490.5,734.5 491.5,719.0 492.5,727.8 493.5,717.9 494.5,721.9 495.5,712.6 496.5,717.2 497.5,711.7 498.5,710.4 499.5,698.1 500.5,706.7 501.5,696.5 502.5,704.6 503.5,699.4 504.5,692.4 505.5,692.6 506.5,684.0 507.5,679.0 508.5,675.3 509.5,663.3 510.5,665.7 511.5,663.6 512.5,670.9 513.5,671.3 514.5,661.3 515.5,662.7 516.5,664.1 517.5,662.0 518.5,671.5 519.5,670.2 520.5,659.9 521.5,669.7 522.5,669.9 523.5,670.5 524.5,664.8 525.5,660.6 526.5,672.8 527.5,667.2 528.5,677.1 529.5,669.1 530.5,676.1 531.5,669.0 532.5,676.5 533.5,671.1 534.5,668.5 535.5,680.7 536.5,680.0 537.5,679.1 538.5,675.2 539.5,676.5 540.5,678.9 541.5,673.3 542.5,679.9 543.5,671.0 544.5,671.7 545.5,673.8 546.5,676.9 547.5,678.2 548.5,680.0 549.5,677.9 550.5,675.7 551.5,682.3 552.5,677.2 553.5,676.6 554.5,672.6 555.5,681.3 556.5,675.0 557.5,690.6 558.5,693.3 559.5,703.4 560.5,705.7 561.5,702.5 562.5,707.6 563.5,706.2 564.5,708.4 565.5,722.1 566.5,718.5 567.5,726.9 568.5,719.1 569.5,722.5 570.5,735.0 571.5,732.7 572.5,735.1 573.5,733.8 574.5,728.2 575.5,734.7 576.5,737.0 577.5,740.2 578.5,749.2 579.5,743.7 580.5,749.8 581.5,751.0 582.5,744.2 583.5,758.5 584.5,751.2 585.5,760.3 586.5,759.7 587.5,751.8 588.5,756.7 589.5,758.0 590.5,759.3 591.5,753.1 592.5,752.3 593.5,753.0 594.5,756.0 595.5,765.8 596.5,758.8 597.5,763.6 598.5,770.3 599.5,759.3 600.5,763.6 601.5,770.9 602.5,759.5 603.5,761.2 604.5,755.3 605.5,751.4 606.5,731.5 607.5,728.8 608.5,730.0 609.5,716.7 610.5,710.8 611.5,717.0 612.5,707.2 613.5,714.1 614.5,716.2 615.5,715.7 616.5,714.9 617.5,708.5 618.5,712.8 619.5,713.1 620.5,708.3 621.5,715.8 622.5,717.6 623.5,718.7 624.5,719.1 625.5,731.7 626.5,745.3 627.5,749.1 628.5,756.5 629.5,758.3 630.5,755.2 631.5,767.7 632.5,770.3 633.5,764.0 634.5,768.3 635.5,770.2 636.5,757.8 637.5,762.7 638.5,764.7 639.5,764.9 640.5,756.8 641.5,759.7 642.5,756.5 643.5,751.0 644.5,760.1 645.5,760.1 646.5,762.6 647.5,758.3 648.5,760.3 649.5,758.2 650.5,751.5 651.5,753.1 652.5,751.2 653.5,756.0 654.5,760.4 655.5,756.6 656.5,748.8 657.5,749.7 658.5,759.0 659.5,758.6 660.5,759.0 661.5,755.0 662.5,754.7 663.5,763.0 664.5,756.9 665.5,760.3 666.5,765.1 667.5,755.6 668.5,765.5 669.5,757.1 670.5,766.1 671.5,765.0 672.5,764.2 673.5,767.0 674.5,767.4 675.5,765.4 676.5,755.9 677.5,765.4 678.5,754.9 679.5,756.1 680.5,765.9 681.5,758.9 682.5,765.2 683.5,756.9 684.5,755.0 685.5,753.8 686.5,766.1 687.5,765.3 688.5,766.6 689.5,759.8 690.5,763.7 691.5,757.9 692.5,754.4 693.5,755.9 694.5,760.5 695.5,760.0 696.5,753.1 697.5,759.7 698.5,757.6 699.5,752.5 700.6,753.0 701.6,757.6 702.6,767.0 703.6,763.4 704.6,756.8 705.6,761.4 706.6,767.2 707.6,760.8 708.6,755.3 709.6,768.0 710.6,767.4 711.6,770.7 712.6,771.2 713.6,773.3 714.6,769.7 715.6,760.7 716.6,756.4 717.6,758.7 718.6,761.2 719.6,759.0 720.6,761.9 721.6,758.8 722.6,764.6 723.6,758.6 724.6,761.8 725.6,756.3 726.6,763.5 727.6,768.6 728.6,766.2 729.6,758.9 730.6,766.2 731.6,765.6 732.6,759.7 733.6,766.4 734.6,754.9 735.6,754.9 736.6,765.9 737.6,757.9 738.6,755.7 739.6,764.0 740.6,757.9 741.6,754.8 742.6,758.2 743.6,759.2 744.6,763.8 745.6,756.7 746.6,767.7 747.6,761.2 748.6,754.7 749.6,755.9 750.6,762.1 751.6,749.0 752.6,753.0 753.6,751.7 754.6,757.4 755.6,763.0 756.6,756.3 757.6,756.6 758.6,749.2 759.6,758.7 760.6,750.1 761.6,751.5 762.6,758.6 763.6,758.7 764.6,753.6 765.6,756.2 766.6,755.0 767.6,768.0 768.6,768.5 769.6,760.1 770.6,764.2 771.6,766.9 772.6,767.0 773.6,753.1 774.6,755.7 775.6,764.4 776.6,765.6 777.6,757.4 778.6,753.8 779.6,757.8 780.6,761.2 781.6,766.5 782.6,753.5 783.6,758.1 784.6,756.7 785.6,757.5 786.6,761.0 787.6,765.6 788.6,756.5 789.6,750.2 790.6,759.3 791.6,742.7 792.6,746.6 793.6,756.8 794.6,748.8 795.6,745.8 796.6,752.6 797.6,747.6 798.6,751.5 799.6,745.5 800.6,743.5 801.6,744.3 802.6,738.7 803.6,731.9 804.6,729.0 805.6,720.5 806.6,718.9 807.6,717.2 808.6,720.0 809.6,723.9 810.6,717.3 811.6,716.1 812.6,721.2 813.6,721.2 814.6,721.6 815.6,727.0 816.6,718.4 817.6,728.4 818.6,728.8 819.6,733.2 820.6,751.3 821.6,750.5 822.6,757.3 823.6,763.7 824.6,755.9 825.6,763.3 826.6,754.3 827.6,759.0 828.6,760.2 829.6,760.0 830.6,755.2 831.6,768.2 832.6,758.8 833.6,767.8 834.6,759.8 835.6,771.7 836.6,769.0 837.6,763.3 838.6,765.4 839.6,767.1 840.6,759.0 841.6,765.8 842.6,762.2 843.6,764.2 844.6,773.0 845.6,759.7 846.6,764.2 847.6,760.4 848.6,771.1 849.6,766.0 850.6,764.9 851.6,770.0 852.6,770.2 853.6,770.9 854.6,769.3 855.6,756.8 856.6,761.8 857.6,762.4 858.6,765.1 859.6,758.9 860.6,756.8 861.6,761.7 862.6,767.5 863.6,769.2 864.6,764.5 865.6,753.9 866.6,762.6 867.6,757.4 868.6,760.9 869.6,760.2 870.6,751.1 871.6,750.4 872.6,743.3 873.6,739.7 874.6,733.3 875.6,719.7 876.6,717.5 877.6,725.3 878.6,726.2 879.6,716.8 880.6,726.2 881.6,720.4 882.6,713.1 883.6,724.5 884.6,723.5 885.6,723.2 886.6,720.4 887.6,716.7 888.6,715.7 889.6,719.1 890.6,718.0 891.6,720.5 892.6,717.7 893.6,725.2 894.6,727.4 895.6,723.2 896.6,722.2 897.6,717.7 898.6,722.1 899.6,731.7 900.6,749.7 901.6,757.9 902.6,757.0 903.6,766.5 904.6,767.0 905.6,769.6 906.6,765.5 907.6,768.1 908.6,760.6 909.6,756.7 910.6,769.4 911.6,756.3 912.6,754.5 913.6,760.3 914.6,766.3 915.6,767.0 916.6,759.1 917.6,755.4 918.6,754.8 919.6,763.6 920.6,758.1 921.6,754.5 922.7,758.7 923.7,755.8 924.7,765.4 925.7,766.0 926.7,766.1 927.7,761.5 928.7,762.5 929.7,756.5 930.7,762.5 931.7,757.5 932.7,757.2 933.7,767.7 934.7,761.8 935.7,763.0 936.7,760.0 937.7,761.0 938.7,757.2 939.7,764.4 940.7,758.0 941.7,755.0 942.7,760.6 943.7,760.3 944.7,759.0 945.7,767.4 946.7,763.0 947.7,762.1 948.7,756.6 949.7,758.9 950.7,767.6 951.7,757.6 952.7,765.2 953.7,761.7 954.7,762.2 955.7,767.8 956.7,767.0 957.7,764.8 958.7,769.3 959.7,764.5 960.7,759.8 961.7,763.2 962.7,772.8 963.7,762.8 964.7,763.5 965.7,765.3 966.7,765.0 967.7,769.6 968.7,763.7 969.7,760.5 970.7,769.0 971.7,760.4 972.7,759.5 973.7,756.0 974.7,762.1 975.7,756.4 976.7,769.4 977.7,765.0 978.7,761.3 979.7,756.9 980.7,755.3 981.7,761.0 982.7,761.3 983.7,759.2 984.7,760.7 985.7,767.1 986.7,761.0 987.7,763.9 988.7,766.4 989.7,757.8 990.7,757.0 991.7,763.2 992.7,755.9 993.7,763.9 994.7,762.4 995.7,764.5 996.7,762.6 997.7,756.2 998.7,763.0 999.7,764.0 1000.7,757.6 1001.7,759.8 1002.7,757.6 1003.7,765.9 1004.7,761.1 1005.7,767.8 1006.7,758.5 1007.7,762.7 1008.7,766.4 1009.7,769.0 1010.7,765.4 1011.7,768.3 1012.7,766.6 1013.7,770.1 1014.7,761.2 1015.7,771.0 1016.7,761.6 1017.7,769.5 1018.7,758.9 1019.7,762.5 1020.7,754.3 1021.7,753.8 1022.7,762.0 1023.7,762.4 1024.7,754.6 1025.7,747.3 1026.7,758.2 1027.7,756.1 1028.7,748.0 1029.7,747.3 1030.7,759.3 1031.7,746.5 1032.7,752.3 1033.7,750.3 1034.7,748.7 1035.7,747.0 1036.7,760.7 1037.7,754.5 1038.7,763.7 1039.7,762.3 1040.7,766.1 1041.7,768.3 1042.7,760.6 1043.7,760.0 1044.7,756.7 1045.7,767.9 1046.7,765.1 1047.7,757.7 1048.7,758.8 1049.7,760.9 1050.7,768.0 1051.7,771.1 1052.7,771.3 1053.7,767.2 1054.7,766.5 1055.7,767.5 1056.7,758.2 1057.7,765.0 1058.7,761.9 1059.7,767.8 1060.7,769.4 1061.7,772.1 1062.7,764.9 1063.7,763.6 1064.7,770.9 1065.7,768.5 1066.7,765.7 1067.7,768.3 1068.7,765.8 1069.7,756.7 1070.7,760.0 1071.7,762.3 1072.7,757.3 1073.7,760.3 1074.7,758.5 1075.7,753.9 1076.7,765.8 1077.7,759.7 1078.7,751.9 1079.7,764.8 1080.7,755.3 1081.7,754.9 1082.7,757.7 1083.7,753.3 1084.7,766.2 1085.7,761.2 1086.7,754.0 1087.7,763.3 1088.7,767.1 1089.7,755.6 1090.7,756.3 1091.7,751.9 1092.7,761.0 1093.7,749.5 1094.7,753.2 1095.7,754.1 1096.7,754.2 1097.7,755.5 1098.7,752.6 1099.7,755.6 1100.7,748.0 1101.7,756.4 1102.7,760.3 1103.7,752.7 1104.7,747.4 1105.7,758.0 1106.7,759.8 1107.7,750.5 1108.7,756.6 1109.7,753.8 1110.7,748.7 1111.7,751.4 1112.7,754.1 1113.7,745.1 1114.7,748.2 1115.7,750.0 1116.7,758.6 1117.7,755.7 1118.7,754.0 1119.7,746.1 1120.7,750.3 1121.7,752.0 1122.7,755.0 1123.7,757.1 1124.7,762.8 1125.7,762.1 1126.7,765.1 1127.7,763.2 1128.7,763.3 1129.7,755.7 1130.7,769.7 1131.7,769.3 1132.7,760.1 1133.7,763.1 1134.7,765.9 1135.7,757.1 1136.7,759.0 1137.7,766.1 1138.7,755.8 1139.7,765.9 1140.7,760.5 1141.7,757.9 1142.7,762.0 1143.7,764.7 1144.8,763.3 1145.8,770.3 1146.8,766.7 1147.8,764.3 1148.8,767.9 1149.8,757.4 1150.8,769.6 1151.8,768.5 1152.8,766.1 1153.8,760.2 1154.8,760.3 1155.8,765.5 1156.8,758.2 1157.8,761.2 1158.8,761.9 1159.8,760.2 1160.8,765.2 1161.8,760.2 1162.8,754.9 1163.8,766.0 1164.8,764.9 1165.8,759.1 1166.8,754.7 1167.8,759.4 1168.8,755.0 1169.8,759.5 1170.8,757.5 1171.8,761.4 1172.8,754.0 1173.8,765.6 1174.8,754.0 1175.8,755.6 1176.8,761.6 1177.8,760.0 1178.8,755.3 1179.8,756.2 1180.8,754.3 1181.8,764.1 1182.8,762.7 1183.8,764.3 1184.8,760.8 1185.8,756.2 1186.8,753.9 1187.8,759.8 1188.8,749.5 1189.8,746.5 1190.8,747.1 1191.8,756.4 1192.8,750.6 1193.8,751.5 1194.8,747.9 1195.8,752.7 1196.8,756.4 1197.8,753.8 1198.8,750.0 1199.8,758.4 1200.8,748.2 1201.8,747.5 1202.8,757.3 1203.8,749.4 1204.8,758.6 1205.8,752.8 1206.8,758.2 1207.8,761.9 1208.8,761.7 1209.8,761.2 1210.8,763.3 1211.8,766.5 1212.8,761.8 1213.8,755.0 1214.8,758.4 1215.8,752.4 1216.8,749.2 1217.8,756.2 1218.8,759.8 1219.8,760.0 1220.8,754.9 1221.8,747.1 1222.8,758.0 1223.8,748.8 1224.8,752.4 1225.8,748.3 1226.8,755.4 1227.8,748.6 1228.8,745.9 1229.8,748.4 1230.8,748.8 1231.8,737.6 1232.8,747.3 1233.8,750.6 1234.8,745.2 1235.8,738.4 1236.8,748.6 1237.8,736.6 1238.8,743.2 1239.8,750.8 1240.8,746.4 1241.8,742.8 1242.8,742.2 1243.8,743.2 1244.8,755.4 1245.8,746.6 1246.8,749.3 1247.8,762.4 1248.8,755.0 1249.8,763.4 1250.8,754.5 1251.8,752.6 1252.8,761.0 1253.8,758.3 1254.8,751.4 1255.8,760.7 1256.8,760.4 1257.8,753.9 1258.8,748.3 1259.8,745.1 1260.8,754.5 1261.8,757.0 1262.8,755.3 1263.8,741.7 1264.8,751.9 1265.8,750.1 1266.8,749.0 1267.8,733.5 1268.8,732.4 1269.8,733.0 1270.8,724.1 1271.8,722.3 1272.8,735.2 1273.8,725.3 1274.8,721.6 1275.8,735.8 1276.8,734.1 1277.8,732.8 1278.8,732.8 1279.8,728.6 1280.8,729.2 1281.8,727.1 1282.8,728.7 1283.8,728.9 1284.8,738.9 1285.8,730.3 1286.8,741.8 1287.8,740.2 1288.8,742.7 1289.8,746.8 1290.8,749.5 1291.8,750.0 1292.8,749.3 1293.8,751.8 1294.8,756.0 1295.8,754.2 1296.8,765.2 1297.8,760.5 1298.8,758.6 1299.8,770.9 1300.8,763.5 1301.8,761.7 1302.8,769.7 1303.8,771.6 1304.8,756.9 1305.8,755.0 1306.8,761.8 1307.8,761.2 1308.8,764.0 1309.8,752.4 1310.8,760.6 1311.8,763.1 1312.8,763.4 1313.8,760.1 1314.8,764.8 1315.8,752.4 1316.8,758.2 1317.8,754.3 1318.8,765.4 1319.8,760.3 1320.8,760.7 1321.8,756.0 1322.8,767.1 1323.8,764.1 1324.8,755.6 1325.8,764.7 1326.8,760.2 1327.8,762.0 1328.8,758.2 1329.8,761.9 1330.8,754.1 1331.8,764.9 1332.8,755.2 1333.8,757.1 1334.8,761.1 1335.8,756.9 1336.8,761.3 1337.8,757.2 1338.8,766.0 1339.8,752.2 1340.8,764.9 1341.8,754.5 1342.8,753.4 1343.8,765.7 1344.8,753.9 1345.8,759.8 1346.8,761.4 1347.8,763.5 1348.8,754.1 1349.8,752.5 1350.8,754.3 1351.8,753.3 1352.8,754.8 1353.8,761.4 1354.8,755.7 1355.8,759.4 1356.8,757.9 1357.8,757.9 1358.8,762.6 1359.8,763.1 1360.8,757.2 1361.8,756.6 1362.8,766.6 1363.8,766.8 1364.8,758.2 1365.8,760.5 1366.8,763.3 1367.9,760.1 1368.9,764.9 1369.9,764.7 1370.9,756.4 1371.9,766.8 1372.9,767.8 1373.9,765.7 1374.9,756.2 1375.9,759.9 1376.9,767.3 1377.9,768.0 1378.9,758.6 1379.9,769.2 1380.9,756.9 1381.9,757.9 1382.9,761.8 1383.9,761.2 1384.9,757.3 1385.9,763.3 1386.9,763.0 1387.9,762.4 1388.9,764.3 1389.9,759.2 1390.9,763.5 1391.9,764.7 1392.9,754.2 1393.9,753.5 1394.9,749.8 1395.9,759.5 1396.9,750.4 1397.9,746.2 1398.9,745.5 1399.9,747.9 1400.9,737.9 1401.9,726.7 1402.9,733.3 1403.9,718.8 1404.9,718.0 1405.9,726.0 1406.9,728.5 1407.9,729.0 1408.9,729.7 1409.9,727.4 1410.9,722.4 1411.9,725.3 1412.9,728.0 1413.9,718.5 1414.9,729.4 1415.9,728.2 1416.9,726.7 1417.9,739.2 1418.9,742.5 1419.9,747.1 1420.9,749.5 1421.9,752.1 1422.9,756.7 1423.9,761.8 1424.9,756.2 1425.9,754.7 1426.9,756.3 1427.9,767.5 1428.9,759.2 1429.9,767.2 1430.9,769.2 1431.9,759.4 1432.9,760.0 1433.9,756.2 1434.9,762.5 1435.9,757.3 1436.9,766.8 1437.9,755.6 1438.9,765.1 1439.9,759.6 1440.9,770.8 1441.9,761.3 1442.9,763.8 1443.9,760.6 1444.9,765.5 1445.9,760.2 1446.9,762.3 1447.9,756.4 1448.9,754.3 1449.9,760.7 1450.9,764.3 1451.9,763.8 1452.9,758.4 1453.9,751.8 1454.9,759.5 1455.9,763.9 1456.9,754.3 1457.9,755.2 1458.9,760.4 1459.9,764.1 1460.9,763.8 1461.9,760.1 1462.9,752.0 1463.9,763.5 1464.9,757.1 1465.9,759.7 1466.9,762.2 1467.9,756.8 1468.9,757.5 1469.9,759.5 1470.9,767.8 1471.9,757.5 1472.9,765.5 1473.9,757.4 1474.9,753.8 1475.9,756.1 1476.9,757.2 1477.9,759.2 1478.9,759.9 1479.9,760.7 1480.9,759.0 1481.9,756.7 1482.9,755.8 1483.9,757.5 1484.9,751.9 1485.9,753.9 1486.9,761.3 1487.9,753.8 1488.9,747.7 1489.9,756.1 1490.9,749.8 1491.9,750.9 1492.9,755.1 1493.9,750.6 1494.9,761.2 1495.9,760.9 1496.9,760.4 1497.9,747.5 1498.9,749.9 1499.9,751.1 1500.9,755.4 1501.9,746.9 1502.9,757.9 1503.9,747.4 1504.9,743.0 1505.9,746.1 1506.9,751.2 1507.9,748.5 1508.9,748.0 1509.9,742.6 1510.9,748.4 1511.9,746.0 1512.9,739.3 1513.9,751.6 1514.9,742.3 1515.9,745.1 1516.9,749.1 1517.9,750.2 1518.9,744.9 1519.9,742.9 1520.9,744.1 1521.9,740.5 1522.9,752.2 1523.9,746.0 1524.9,748.5 1525.9,751.5 1526.9,750.4 1527.9,749.2 1528.9,756.6 1529.9,757.9 1530.9,759.0 1531.9,752.0 1532.9,758.6 1533.9,761.5 1534.9,764.0 1535.9,758.9 1536.9,761.3 1537.9,762.2 1538.9,757.6 1539.9,751.4 1540.9,750.5 1541.9,762.5 1542.9,763.4 1543.9,764.8 1544.9,765.4 1545.9,759.0 1546.9,765.9 1547.9,761.9 1548.9,759.9 1549.9,756.0 1550.9,752.6 1551.9,764.1 1552.9,763.8 1553.9,760.9 1554.9,756.3 1555.9,755.7 1556.9,751.8 1557.9,756.1 1558.9,760.3 1559.9,760.0 1560.9,753.2 1561.9,759.8 1562.9,761.3 1563.9,760.3 1564.9,760.9 1565.9,752.3 1566.9,761.8 1567.9,755.6 1568.9,749.1 1569.9,755.2 1570.9,758.8 1571.9,755.5 1572.9,749.6 1573.9,749.2 1574.9,755.4 1575.9,760.8 1576.9,749.1 1577.9,759.1 1578.9,753.7 1579.9,751.5 1580.9,751.6 1581.9,748.7 1582.9,749.4 1583.9,751.3 1584.9,749.1 1585.9,751.1 1586.9,762.6 1587.9,761.8 1588.9,750.6 1590.0,759.2 1591.0,764.4 1592.0,764.3 1593.0,760.5 1594.0,754.9 1595.0,752.9 1596.0,755.5 1597.0,756.4 1598.0,765.7 1599.0,764.3 1600.0,765.4 1601.0,764.7 1602.0,759.5 1603.0,766.7 1604.0,763.3 1605.0,764.9 1606.0,766.3 1607.0,760.8 1608.0,766.7 1609.0,755.2 1610.0,763.6 1611.0,761.1 1612.0,763.5 1613.0,752.4 1614.0,766.3 1615.0,759.1 1616.0,758.9 1617.0,767.4 1618.0,766.1 1619.0,767.4 1620.0,761.4 1621.0,762.2 1622.0,759.8 1623.0,760.3 1624.0,770.1 1625.0,768.5 1626.0,760.9 1627.0,759.1 1628.0,763.8 1629.0,769.9 1630.0,764.8 1631.0,770.7 1632.0,757.1 1633.0,768.4 1634.0,765.3 1635.0,763.2 1636.0,758.7 1637.0,758.0 1638.0,763.9 1639.0,759.9 1640.0,755.9 1641.0,758.1 1642.0,754.8 1643.0,745.5 1644.0,741.6 1645.0,734.9 1646.0,745.1 1647.0,739.1 1648.0,741.3 1649.0,736.5 1650.0,735.1 1651.0,737.6 1652.0,745.6 1653.0,739.9 1654.0,732.0 1655.0,735.2 1656.0,743.0 1657.0,745.8 1658.0,736.4 1659.0,743.9 1660.0,742.6 1661.0,746.3 1662.0,758.6 1663.0,765.2 1664.0,764.5 1665.0,764.8 1666.0,756.7 1667.0,756.6 1668.0,764.5 1669.0,758.5 1670.0,767.4 1671.0,767.0 1672.0,758.4 1673.0,768.5 1674.0,771.2 1675.0,763.7 1676.0,763.1 1677.0,760.4 1678.0,768.2 1679.0,764.0 1680.0,757.7 1681.0,764.5 1682.0,763.6 1683.0,754.1 1684.0,762.9 1685.0,766.1 1686.0,764.4 1687.0,752.4 1688.0,750.2 1689.0,747.5 1690.0,745.8 1691.0,748.7 1692.0,751.1 1693.0,752.9 1694.0,745.6 1695.0,745.2 1696.0,752.0 1697.0,755.8 1698.0,744.8 1699.0,756.4 1700.0,751.9 1701.0,752.6 1702.0,756.2 1703.0,759.1 1704.0,749.1 1705.0,762.2 1706.0,762.5 1707.0,756.9 1708.0,752.1 1709.0,764.3 1710.0,757.0 1711.0,753.9 1712.0,750.7 1713.0,750.5 1714.0,763.8 1715.0,756.1 1716.0,750.0 1717.0,757.4 1718.0,753.9 1719.0,760.9 1720.0,762.2 1721.0,758.4 1722.0,755.3 1723.0,757.6 1724.0,757.9 1725.0,756.8 1726.0,759.6 1727.0,753.4 1728.0,765.7 1729.0,763.2 1730.0,755.9 1731.0,764.3 1732.0,767.8 1733.0,766.5 1734.0,764.2 1735.0,765.7 1736.0,761.2 1737.0,767.6 1738.0,757.9 1739.0,765.4 1740.0,764.5 1741.0,757.6 1742.0,765.1 1743.0,757.2 1744.0,751.9 1745.0,751.6 1746.0,764.1 1747.0,759.9 1748.0,753.7 1749.0,749.9 1750.0,754.2 1751.0,754.6 1752.0,761.8 1753.0,758.7 1754.0,753.6 1755.0,762.4 1756.0,752.1 1757.0,759.5 1758.0,752.3 1759.0,751.4 1760.0,759.3 1761.0,754.0 1762.0,760.9 1763.0,751.2 1764.0,759.0 1765.0,759.5 1766.0,758.6 1767.0,765.1 1768.0,760.8 1769.0,765.6 1770.0,754.2 1771.0,757.1 1772.0,761.0 1773.0,755.6 1774.0,757.6 1775.0,765.0 1776.0,768.1 1777.0,763.7 1778.0,757.7 1779.0,761.6 1780.0,764.5 1781.0,760.9 1782.0,762.8 1783.0,761.5 1784.0,766.7 1785.0,761.6 1786.0,758.8 1787.0,759.2 1788.0,763.8 1789.0,758.2 1790.0,757.4 1791.0,766.9 1792.0,770.8 1793.0,772.1 1794.0,762.2 1795.0,761.9 1796.0,770.6 1797.0,757.8 1798.0,763.8 1799.0,762.9 1800.0,771.2 1801.0,768.3 1802.0,762.0 1803.0,762.6 1804.0,767.9 1805.0,758.4 1806.0,768.0 1807.0,760.0 1808.0,757.0 1809.0,767.8 1810.0,755.9 1811.0,769.3 1812.1,765.2 1813.1,761.2 1814.1,763.3 1815.1,760.6 1816.1,763.5 1817.1,766.1 1818.1,768.7 1819.1,765.7 1820.1,761.6 1821.1,759.9 1822.1,758.5 1823.1,770.3 1824.1,771.3 1825.1,766.3 1826.1,765.9 1827.1,766.9 1828.1,767.8 1829.1,761.6 1830.1,759.9 1831.1,764.2 1832.1,762.8 1833.1,765.5 1834.1,768.0 1835.1,763.3 1836.1,766.1 1837.1,767.8 1838.1,767.6 1839.1,770.0 1840.1,763.2 1841.1,758.5 1842.1,762.9 1843.1,760.3 1844.1,769.3 1845.1,767.4 1846.1,759.8 1847.1,763.1 1848.1,755.0 1849.1,753.9 1850.1,753.5 1851.1,763.0 1852.1,755.5 1853.1,760.4 1854.1,760.6 1855.1,766.8 1856.1,756.8 1857.1,764.1 1858.1,766.3 1859.1,757.4 1860.1,758.2 1861.1,753.0 1862.1,758.5 1863.1,764.1 1864.1,765.2 1865.1,764.8 1866.1,752.6 1867.1,758.7 1868.1,758.7 1869.1,753.5 1870.1,764.8 1871.1,767.3 1872.1,758.5 1873.1,758.4 1874.1,758.3 1875.1,757.3 1876.1,769.2 1877.1,760.0 1878.1,764.3 1879.1,766.2 1880.1,764.0 1881.1,760.5 1882.1,762.0 1883.1,762.7 1884.1,756.4 1885.1,760.8 1886.1,761.6 1887.1,752.6 1888.1,763.7 1889.1,755.9 1890.1,752.2 1891.1,766.3 1892.1,758.4 1893.1,765.5 1894.1,759.5 1895.1,758.2 1896.1,755.6 1897.1,755.5 1898.1,760.5 1899.1,764.9 1900.1,762.5 1901.1,763.0 1902.1,761.4 1903.1,750.9 1904.1,755.0 1905.1,754.7 1906.1,751.0 1907.1,749.3 1908.1,757.4 1909.1,756.4 1910.1,750.7 1911.1,758.0 1912.1,756.0 1913.1,747.7 1914.1,753.6 1915.1,748.8 1916.1,752.7 1917.1,746.0 1918.1,759.4 1919.1,756.1 1920.1,751.2 1921.1,755.6 1922.1,748.8 1923.1,759.8 1924.1,755.9 1925.1,756.7 1926.1,762.2 1927.1,753.8 1928.1,751.7 1929.1,757.6 1930.1,749.6 1931.1,749.4 1932.1,756.8 1933.1,751.8 1934.1,760.7 1935.1,754.8 1936.1,757.5 1937.1,750.2 1938.1,760.5 1939.1,753.5 1940.1,761.4 1941.1,758.9 1942.1,764.6 1943.1,761.4 1944.1,756.1 1945.1,762.7 1946.1,760.1 1947.1,765.8 1948.1,757.0 1949.1,766.7 1950.1,764.0 1951.1,762.4 1952.1,760.5 1953.1,766.7 1954.1,755.8 1955.1,763.9 1956.1,763.2 1957.1,768.3 1958.1,765.4 1959.1,769.9 1960.1,762.6 1961.1,756.4 1962.1,761.6 1963.1,769.1 1964.1,755.6 1965.1,768.8 1966.1,765.2 1967.1,759.0 1968.1,769.4 1969.1,762.5 1970.1,769.0 1971.1,761.1 1972.1,767.2 1973.1,754.5 1974.1,764.9 1975.1,764.3 1976.1,766.4 1977.1,765.1 1978.1,758.5 1979.1,757.3 1980.1,765.1 1981.1,757.7 1982.1,760.4 1983.1,758.1 1984.1,756.0 1985.1,756.2 1986.1,758.5 1987.1,765.7 1988.1,758.9 1989.1,757.6 1990.1,761.3 1991.1,766.5 1992.1,767.4 1993.1,765.4 1994.1,771.1 1995.1,762.7 1996.1,765.0 1997.1,769.5 1998.1,768.1 1999.1,764.8 2000.1,764.0 2001.1,764.7 2002.1,761.5 2003.1,759.9 2004.1,764.7 2005.1,756.2 2006.1,762.9 2007.1,764.7 2008.1,762.1 2009.1,757.2 2010.1,759.7 2011.1,765.4 2012.1,764.0 2013.1,754.1 2014.1,755.8 2015.1,763.9 2016.1,757.5 2017.1,760.2 2018.1,760.2 2019.1,753.4 2020.1,757.7 2021.1,764.9 2022.1,753.2 2023.1,757.9 2024.1,753.3 2025.1,762.4 2026.1,759.3 2027.1,761.2 2028.1,761.8 2029.1,755.8 2030.1,757.1 2031.1,759.8 2032.1,758.0 2033.1,764.2 2034.2,758.5 2035.2,760.7 2036.2,757.2 2037.2,759.2 2038.2,759.3 2039.2,768.5 2040.2,759.8 2041.2,763.4 2042.2,767.8 2043.2,768.6 2044.2,769.7 2045.2,765.6 2046.2,764.3 2047.2,767.4 2048.2,767.0 2049.2,769.7 2050.2,773.6 2051.2,762.7 2052.2,767.7 2053.2,772.1 2054.2,769.1 2055.2,763.5 2056.2,767.7 2057.2,774.3 2058.2,766.4 2059.2,767.5 2060.2,765.3 2061.2,770.8 2062.2,765.7 2063.2,767.7 2064.2,762.7 2065.2,765.2 2066.2,760.6 2067.2,760.2 2068.2,767.0 2069.2,767.5 2070.2,759.6 2071.2,760.5 2072.2,758.3 2073.2,761.4 2074.2,757.1 2075.2,759.1 2076.2,768.9 2077.2,758.3 2078.2,757.5 2079.2,770.5 2080.2,767.2 2081.2,768.7 2082.2,763.5 2083.2,760.8 2084.2,771.5 2085.2,759.5 2086.2,772.4 2087.2,762.3 2088.2,761.1 2089.2,765.1 2090.2,763.3 2091.2,760.4 2092.2,768.0 2093.2,763.3 2094.2,764.5 2095.2,771.0 2096.2,769.9 2097.2,763.5 2098.2,765.4 2099.2,766.4 2100.2,763.7 2101.2,760.0 2102.2,768.6 2103.2,767.3 2104.2,770.2 2105.2,756.3 2106.2,762.5 2107.2,769.0 2108.2,765.6 2109.2,764.7 2110.2,767.9 2111.2,753.6 2112.2,759.7 2113.2,753.5 2114.2,764.7 2115.2,766.6 2116.2,761.6 2117.2,756.3 2118.2,755.4 2119.2,766.0 2120.2,765.9 2121.2,757.1 2122.2,757.8 2123.2,758.0 2124.2,762.1 2125.2,760.3 2126.2,760.7 2127.2,760.6 2128.2,751.6 2129.2,763.2 2130.2,755.1 2131.2,763.5 2132.2,752.1 2133.2,758.3 2134.2,759.7 2135.2,755.8 2136.2,759.7 2137.2,758.5 2138.2,754.7 2139.2,754.1 2140.2,758.6 2141.2,749.7 2142.2,748.2 2143.2,749.2 2144.2,743.9 2145.2,756.7" fill="none" stroke="#3dff3d" stroke-width="9.0" stroke-linejoin="round" stroke-linecap="butt"/>
<polyline points="144.3,722.6 145.1,725.5 145.9,723.3 146.7,726.6 147.5,726.3 148.3,725.3 149.0,726.8 149.8,726.8 150.6,724.2 151.4,727.1 152.2,727.9 153.0,727.6 153.8,729.5 154.6,728.6 155.4,726.5 156.1,725.6 156.9,724.9 157.7,728.6 158.5,727.9 159.3,727.3 160.1,726.3 160.9,726.5 161.7,724.8 162.4,726.5 163.2,724.2 164.0,726.8 164.8,726.7 165.5,708.8 166.3,688.2 167.0,669.1 167.9,653.2 168.8,638.0 169.8,637.0 170.5,662.7 171.2,685.3 171.9,712.5 172.7,742.7 173.5,738.0 174.3,737.6 175.0,739.2 175.8,738.8 176.6,737.1 177.4,737.2 178.2,736.0 178.9,736.7 179.7,737.4 180.5,736.4 181.3,736.8 182.1,737.3 182.9,741.4 183.7,740.1 184.4,742.5 185.2,745.3 186.0,745.7 186.8,745.5 187.6,749.4 188.5,750.5 189.3,754.2 190.1,754.5 191.0,755.9 191.8,760.3 192.6,757.4 193.5,756.4 194.3,759.1 195.1,758.8 196.0,754.2 196.8,753.3 197.6,757.3 198.5,757.2 199.3,754.1 200.1,753.3 200.8,755.7 201.6,757.2 202.4,753.1 203.2,754.4 203.9,755.6 204.7,753.1 205.5,754.2 206.2,752.7 207.0,754.6 207.8,749.4 208.5,745.7 209.3,743.1 210.2,751.8 211.2,761.3 212.0,759.0 212.8,758.0 213.6,755.0 214.4,754.8 215.2,750.6 216.0,747.1 216.8,744.4 217.5,743.2 218.3,743.9 219.0,739.9 219.8,739.1 220.5,737.8 221.3,744.3 222.0,748.8 222.8,756.6 223.6,755.4 224.4,752.9 225.3,752.1 226.1,752.4 226.9,755.7 227.7,753.4 228.5,755.8 229.3,756.4 230.2,756.0 231.0,753.3 231.8,750.6 232.6,751.1 233.4,749.7 234.1,750.9 234.9,749.9 235.7,749.4 236.4,747.4 237.2,746.6 238.0,744.8 238.8,746.3 239.7,749.1 240.6,748.7 241.4,752.9 242.2,754.3 243.1,756.8 243.9,752.4 244.8,753.3 245.6,757.7 246.4,753.4 247.3,755.3 248.1,756.3 248.9,755.8 249.8,758.2 250.6,758.8 251.4,755.6 252.3,754.8 253.1,759.5 253.9,757.2 254.8,756.4 255.6,756.1 256.4,755.7 257.3,759.2 258.1,757.9 258.9,758.7 259.7,760.1 260.4,756.9 261.2,758.8 262.0,753.1 262.8,756.3 263.5,755.5 264.3,756.0 265.1,752.0 265.9,755.9 266.7,757.5 267.5,759.0 268.2,759.5 269.0,759.6 269.8,764.4 270.6,765.5 271.4,764.7 272.2,766.3 272.9,764.3 273.7,761.8 274.5,765.4 275.2,762.3 276.0,766.1 276.8,765.7 277.6,762.0 278.4,760.4 279.2,758.7 280.0,758.0 280.7,761.2 281.5,755.7 282.3,758.1 283.1,752.7 283.9,753.8 284.7,754.5 285.4,753.9 286.2,757.3 287.0,753.2 287.8,754.6 288.5,753.0 289.3,752.5 290.1,750.0 290.8,742.3 291.6,737.4 292.3,732.8 293.1,723.7 293.8,718.3 294.6,716.7 295.3,713.2 296.1,702.6 296.8,699.8 297.6,702.2 298.4,700.5 299.2,700.7 300.1,697.4 300.9,699.2 301.7,693.3 302.5,695.0 303.3,696.3 304.2,672.9 305.1,652.3 306.1,652.3 307.0,672.8 307.8,696.2 308.6,722.9 309.3,744.6 310.1,745.4 310.9,748.3 311.7,748.3 312.5,748.9 313.3,748.4 314.1,750.0 314.9,749.9 315.7,749.0 316.5,747.3 317.3,746.4 318.1,751.0 318.9,751.6 319.8,752.5 320.6,749.6 321.4,752.9 322.3,754.6 323.1,751.2 323.9,750.8 324.8,752.2 325.6,753.1 326.6,746.9 327.6,737.8 328.4,739.9 329.3,741.6 330.1,745.0 331.0,747.0 331.8,745.8 332.6,748.5 333.4,747.3 334.2,744.7 335.1,746.6 335.9,744.3 336.7,745.5 337.5,747.9 338.3,743.4 339.1,741.5 339.8,736.3 340.6,731.5 341.4,732.8 342.3,735.6 343.1,736.7 343.9,737.2 344.8,740.7 345.6,744.2 346.4,742.1 347.2,747.3 348.0,744.7 348.8,748.1 349.5,748.8 350.3,752.9 351.1,754.3 351.9,754.7 352.7,751.0 353.4,749.9 354.2,751.4 355.0,748.4 355.8,747.8 356.6,747.0 357.3,742.7 358.1,742.6 358.9,746.5 359.7,743.7 360.5,747.3 361.2,744.2 362.0,744.1 362.8,747.6 363.6,747.1 364.4,749.5 365.2,748.6 366.1,742.6 366.9,743.2 367.7,740.6 368.6,741.7 369.4,739.4 370.2,735.8 371.1,731.2 371.9,725.1 372.7,722.8 373.6,718.6 374.4,713.8 375.2,712.4 376.0,713.5 376.8,714.0 377.6,709.5 378.4,709.3 379.1,707.6 379.9,707.6 380.7,706.9 381.5,705.4 382.3,705.5 383.1,704.3 383.9,718.0 384.6,727.5 385.4,737.9 386.1,746.9 386.9,750.0 387.7,749.6 388.5,751.4 389.3,746.6 390.1,744.7 390.9,742.5 391.6,743.8 392.4,740.3 393.2,740.3 394.0,737.9 394.8,735.7 395.6,735.0 396.4,742.5 397.1,749.3 397.9,755.3 398.7,756.9 399.4,758.7 400.2,755.2 401.0,756.2 401.8,759.8 402.5,758.6 403.3,762.5 404.1,762.4 404.8,761.4 405.6,760.1 406.4,762.8 407.3,762.9 408.1,762.9 408.9,764.2 409.8,762.7 410.6,765.1 411.4,763.6 412.3,761.3 413.1,765.2 413.9,761.7 414.8,766.0 415.6,766.3 416.4,762.4 417.3,762.6 418.1,765.5 418.9,764.3 419.8,764.0 420.6,766.3 421.4,763.1 422.1,761.1 422.9,762.5 423.6,763.5 424.4,763.1 425.2,759.5 426.1,764.3 426.9,763.1 427.7,767.9 428.6,765.9 429.4,765.5 430.2,766.6 431.0,767.5 431.8,765.5 432.6,768.7 433.4,766.1 434.1,768.2 434.9,765.2 435.7,766.6 436.5,767.4 437.3,764.7 438.1,765.0 438.9,767.0 439.7,763.5 440.5,762.1 441.2,762.6 442.0,761.9 442.8,761.8 443.6,759.0 444.4,759.6 445.2,758.1 445.9,756.6 446.7,754.8 447.4,751.8 448.2,750.1 449.0,748.6 449.8,747.3 450.6,752.1 451.4,749.5 452.2,749.3 452.9,750.7 453.7,752.1 454.5,752.8 455.3,749.0 456.1,753.0 456.9,754.1 457.7,754.6 458.5,743.8 459.4,731.2 460.2,722.4 461.2,720.7 462.0,730.8 462.9,740.2 463.7,745.4 464.5,743.4 465.2,746.3 466.0,746.7 466.8,745.9 467.6,742.8 468.3,742.1 469.1,739.7 469.9,743.2 470.6,739.3 471.4,737.8 472.2,737.1 473.0,741.1 473.7,737.6 474.5,739.1 475.2,722.9 476.0,712.9 476.8,702.2 477.5,690.1 478.2,675.8 479.0,666.4 479.7,657.3 480.7,657.8 481.4,675.5 482.0,700.6 482.7,731.1 483.5,729.0 484.3,729.3 485.1,726.0 485.9,726.5 486.7,723.3 487.5,727.1 488.3,725.2 489.1,722.5 489.9,726.2 490.7,721.5 491.5,717.9 492.4,719.2 493.2,713.1 494.0,713.8 494.9,708.3 495.7,705.1 496.5,706.5 497.4,703.3 498.2,701.0 499.0,701.0 499.8,700.8 500.6,697.6 501.4,698.7 502.2,699.4 503.0,700.7 503.9,699.2 504.7,698.1 505.5,699.7 506.3,699.6 507.1,696.0 507.9,695.4 508.6,685.1 509.4,680.6 510.1,667.6 510.9,660.3 511.8,651.4 512.7,643.5 513.7,645.1 514.5,649.2 515.4,652.3 516.2,659.5 517.0,657.8 517.8,658.7 518.7,660.4 519.5,659.6 520.3,659.2 521.1,660.2 521.9,660.7 522.8,656.2 523.6,658.4 524.4,657.8 525.2,659.2 525.9,669.4 526.7,670.8 527.5,669.5 528.3,664.1 529.0,662.3 529.8,657.7 530.6,659.6 531.4,651.5 532.4,651.7 533.2,660.4 534.0,664.6 534.9,668.2 535.7,676.7 536.5,675.1 537.3,673.5 538.1,674.8 538.9,675.8 539.7,675.3 540.5,672.2 541.4,674.3 542.2,671.0 543.0,671.8 543.8,675.0 544.6,673.3 545.4,671.2 546.2,671.8 547.0,671.0 547.8,666.8 548.5,660.0 549.2,653.9 550.0,647.9 550.7,638.5 551.5,626.1 552.2,611.0 553.2,611.8 554.0,632.6 554.8,649.7 555.4,670.5 556.0,692.2 556.8,690.8 557.6,693.8 558.4,695.7 559.2,695.0 560.0,695.8 560.8,696.8 561.6,698.7 562.4,697.6 563.2,701.9 564.0,701.5 564.9,709.3 565.7,711.7 566.5,714.0 567.4,717.9 568.2,721.8 569.0,721.9 569.9,727.1 570.7,723.8 571.5,723.3 572.4,727.2 573.2,729.6 574.0,726.4 574.9,726.8 575.7,729.4 576.5,730.3 577.4,733.4 578.2,736.5 579.0,741.2 579.9,740.1 580.7,742.4 581.5,745.3 582.4,745.5 583.2,748.2 584.0,746.7 584.9,748.8 585.7,749.1 586.5,749.9 587.4,749.7 588.2,748.2 589.0,748.4 589.9,750.3 590.7,754.0 591.5,751.6 592.4,751.9 593.2,752.0 594.0,754.2 594.9,752.2 595.7,752.8 596.5,753.7 597.3,756.3 598.1,757.0 598.9,759.0 599.6,762.1 600.4,760.0 601.2,762.8 602.0,766.2 602.8,762.1 603.6,760.0 604.4,757.2 605.2,751.1 606.0,750.9 606.8,746.6 607.5,744.0 608.3,740.1 609.1,741.1 609.9,739.2 610.7,736.2 611.5,731.2 612.3,731.2 613.0,722.7 613.8,713.7 614.5,706.8 615.3,698.8 616.0,657.1 616.8,623.1 617.5,585.8 618.2,550.2 619.0,518.7 619.7,484.3 620.7,480.7 621.4,533.4 622.0,582.2 622.6,641.8 623.2,697.9 624.3,751.9 625.1,753.9 625.8,756.5 626.6,753.8 627.4,758.5 628.1,754.4 628.9,758.3 629.7,755.4 630.5,759.1 631.2,757.3 632.0,759.5 632.8,757.7 633.5,757.1 634.3,760.8 635.1,756.4 635.9,757.3 636.7,757.8 637.4,760.5 638.2,762.0 639.0,758.3 639.8,759.3 640.7,760.0 641.5,754.4 642.3,757.9 643.1,753.5 644.0,752.1 644.8,753.9 645.6,752.5 646.4,751.7 647.2,752.2 648.1,747.9 648.9,750.4 649.7,747.0 650.5,746.3 651.2,738.5 652.0,731.9 652.7,728.4 653.5,722.6 654.3,717.0 655.0,716.2 655.8,711.5 656.5,726.1 657.3,739.9 658.0,753.7 658.8,755.0 659.6,751.8 660.5,753.8 661.3,754.4 662.1,755.2 662.9,756.4 663.7,757.0 664.5,756.9 665.4,757.1 666.2,757.3 667.0,755.6 667.8,755.8 668.6,754.5 669.4,756.7 670.2,756.3 671.0,753.7 671.8,754.1 672.5,756.3 673.3,751.9 674.1,753.5 674.9,752.9 675.7,752.2 676.5,750.7 677.3,745.8 678.2,735.0 679.0,726.0 680.0,723.6 680.8,733.9 681.7,746.9 682.5,756.3 683.3,757.2 684.2,755.9 685.0,750.8 685.8,751.2 686.6,749.6 687.5,749.5 688.3,747.7 689.1,746.9 690.0,743.9 690.8,743.2 691.6,744.6 692.4,744.6 693.2,745.1 694.0,747.2 694.8,747.4 695.5,747.4 696.3,752.3 697.1,752.9 697.9,753.6 698.7,755.7 699.5,756.0 700.3,754.4 701.2,756.2 702.0,757.1 702.8,757.2 703.7,756.8 704.5,756.3 705.3,757.3 706.2,757.2 707.0,755.4 707.8,755.3 708.6,758.0 709.4,760.6 710.1,756.8 710.9,759.8 711.7,759.2 712.5,760.1 713.3,763.8 714.1,760.2 714.8,758.3 715.6,759.5 716.4,758.0 717.2,756.2 718.0,752.1 718.7,751.3 719.5,752.1 720.3,750.1 721.2,751.0 722.0,752.9 722.8,756.9 723.7,756.6 724.5,757.9 725.3,757.9 726.2,754.7 727.0,758.8 727.8,758.3 728.6,759.4 729.4,754.3 730.2,754.6 731.0,754.1 731.8,755.4 732.6,754.7 733.4,754.0 734.2,756.5 735.0,757.1 735.8,739.0 736.5,715.9 737.3,698.2 738.1,679.0 739.0,659.9 740.0,659.9 740.9,681.1 741.8,698.0 742.8,763.7 743.6,759.2 744.4,761.1 745.2,760.2 746.0,755.6 746.8,754.3 747.6,750.9 748.5,753.7 749.3,749.0 750.1,747.0 750.9,745.9 751.7,743.0 752.5,745.9 753.4,740.3 754.2,732.9 755.1,727.4 755.9,729.7 756.7,733.2 757.5,732.5 758.4,735.1 759.2,739.7 760.0,739.9 760.8,743.2 761.6,743.3 762.5,747.6 763.3,752.8 764.1,753.9 765.0,755.7 765.8,759.6 766.6,755.5 767.4,758.2 768.1,759.3 768.9,755.7 769.7,753.4 770.5,756.5 771.3,757.9 772.0,753.1 772.8,753.7 773.6,755.8 774.3,750.1 775.1,746.7 775.8,740.4 776.6,741.2 777.4,742.2 778.2,743.6 779.0,745.9 779.7,747.1 780.5,746.5 781.3,747.2 782.1,749.6 782.9,748.5 783.7,751.5 784.5,752.1 785.3,751.5 786.1,756.6 786.8,754.5 787.6,757.0 788.4,760.0 789.2,762.8 790.0,762.9 790.8,766.0 791.5,740.6 792.3,724.8 793.2,717.2 794.1,709.9 795.1,711.3 795.9,715.6 796.7,725.1 797.5,739.3 798.3,748.3 799.1,740.1 800.0,738.2 800.8,736.7 801.6,731.3 802.5,724.3 803.3,721.5 804.1,721.1 805.0,713.5 805.8,710.4 806.6,709.6 807.5,702.2 808.3,700.6 809.3,655.2 810.3,612.0 811.0,595.4 811.6,578.0 812.6,575.8 813.5,593.7 814.3,615.1 815.0,665.4 815.8,711.8 816.6,729.8 817.3,743.4 818.1,760.3 818.9,757.1 819.7,756.0 820.5,751.9 821.2,753.1 822.0,749.8 822.8,749.5 823.6,749.9 824.4,750.0 825.2,749.0 825.9,747.3 826.7,745.4 827.5,744.2 828.3,743.4 829.1,746.9 829.8,749.6 830.6,756.5 831.3,761.9 832.1,765.6 832.9,763.8 833.7,764.3 834.5,760.6 835.2,760.4 836.0,763.5 836.8,761.2 837.6,759.2 838.4,761.1 839.2,761.2 840.0,761.7 840.8,757.0 841.5,757.6 842.3,758.4 843.1,759.9 843.9,760.3 844.6,749.6 845.4,745.2 846.1,739.9 847.1,742.8 848.0,748.9 849.0,754.7 849.9,763.8 850.7,760.0 851.5,762.1 852.3,757.9 853.1,757.0 853.9,756.4 854.8,753.4 855.6,750.0 856.4,749.5 857.2,747.0 858.0,746.4 858.8,745.6 859.6,743.4 860.4,745.8 861.2,745.9 862.0,749.2 862.8,751.6 863.5,751.9 864.3,755.8 865.1,753.6 865.9,759.9 866.7,759.1 867.5,753.7 868.3,751.9 869.1,755.2 869.9,752.5 870.7,753.7 871.5,750.1 872.3,747.2 873.1,746.3 873.9,747.4 874.7,744.5 875.5,747.0 876.3,744.7 877.1,729.3 877.8,716.5 878.6,701.8 879.3,670.7 880.1,643.2 880.8,613.5 881.5,589.0 882.1,567.0 883.1,567.9 884.0,603.3 885.0,644.7 885.9,680.0 886.8,716.0 887.6,711.2 888.4,710.6 889.1,705.3 889.9,703.9 890.7,698.6 891.5,691.8 892.3,692.8 893.0,688.4 893.8,681.6 894.6,680.2 895.6,679.2 896.3,693.1 897.1,710.6 897.8,727.9 898.5,743.6 899.3,757.6 900.1,758.0 900.9,755.0 901.7,756.8 902.5,755.5 903.3,756.9 904.1,760.4 904.9,755.4 905.7,754.9 906.5,757.1 907.3,756.9 908.1,755.3 908.9,759.6 909.7,759.3 910.5,759.4 911.3,758.4 912.1,757.7 912.9,757.3 913.8,754.5 914.6,753.0 915.4,757.6 916.3,756.7 917.1,752.6 917.9,753.3 918.8,750.4 919.6,753.7 920.4,753.4 921.2,753.1 922.0,747.4 922.8,751.7 923.5,746.1 924.3,749.0 925.1,749.4 925.9,744.3 926.7,747.9 927.5,750.4 928.3,751.7 929.1,753.1 929.9,753.6 930.6,754.0 931.4,755.5 932.2,758.0 933.0,759.3 933.8,760.1 934.6,762.6 935.4,758.3 936.3,757.7 937.1,757.1 937.9,755.3 938.8,756.9 939.6,752.0 940.4,756.3 941.3,750.9 942.1,752.8 942.9,752.2 943.7,748.5 944.5,746.3 945.2,749.6 946.0,747.9 946.8,745.4 947.6,743.8 948.4,743.2 949.1,747.5 949.9,749.9 950.6,755.9 951.4,760.5 952.1,761.8 952.9,762.4 953.7,762.4 954.5,761.6 955.2,762.3 956.0,760.4 956.8,761.4 957.6,764.2 958.4,762.9 959.2,761.5 960.0,759.5 960.8,760.5 961.6,762.4 962.3,760.9 963.1,762.3 963.9,761.8 964.7,760.5 965.5,761.3 966.4,760.0 967.2,758.9 968.0,762.3 968.9,760.6 969.7,758.4 970.5,756.1 971.4,758.4 972.2,757.4 973.0,760.2 973.9,760.4 974.7,758.8 975.5,755.0 976.3,758.6 977.2,755.9 978.0,757.9 978.8,759.4 979.6,755.2 980.4,760.2 981.2,759.5 982.1,757.2 982.9,757.8 983.7,756.7 984.4,748.0 985.2,737.2 985.9,722.9 986.7,725.9 987.4,723.2 988.2,724.6 988.9,730.1 989.7,727.1 990.4,736.0 991.2,741.7 991.9,743.7 992.7,753.8 993.4,757.9 994.2,757.6 995.1,758.8 995.9,757.1 996.7,759.7 997.6,758.0 998.4,759.1 999.2,757.2 1000.1,757.1 1000.9,756.7 1001.7,753.9 1002.6,755.7 1003.4,752.2 1004.2,751.3 1005.1,748.3 1005.9,746.3 1006.7,753.0 1007.4,759.5 1008.2,768.2 1009.0,763.4 1009.8,765.5 1010.6,761.5 1011.3,761.5 1012.1,765.6 1012.9,759.6 1013.7,763.3 1014.5,763.7 1015.3,761.4 1016.0,762.3 1016.8,757.0 1017.6,759.5 1018.4,758.2 1019.2,756.6 1019.9,753.2 1020.7,752.1 1021.5,755.2 1022.3,750.6 1023.0,752.5 1023.8,748.4 1024.6,750.2 1025.3,745.9 1026.1,749.9 1026.9,747.3 1027.7,743.7 1028.4,746.9 1029.2,741.3 1030.0,733.0 1030.9,723.6 1031.7,711.1 1032.7,714.2 1033.5,721.8 1034.4,734.9 1035.2,745.8 1035.9,750.4 1036.7,750.6 1037.4,757.5 1038.2,758.9 1039.0,755.4 1039.9,755.5 1040.7,759.9 1041.5,759.7 1042.3,757.0 1043.1,760.3 1044.0,760.9 1044.8,758.1 1045.6,759.8 1046.4,761.2 1047.2,757.5 1048.1,761.3 1048.9,762.9 1049.7,763.2 1050.5,762.0 1051.4,759.7 1052.2,759.0 1053.0,754.9 1053.9,753.3 1054.7,753.7 1055.5,750.9 1056.4,749.9 1057.2,749.1 1058.0,750.1 1058.9,752.6 1059.7,751.7 1060.5,753.5 1061.4,757.2 1062.2,755.6 1063.0,759.2 1063.9,759.3 1064.7,763.0 1065.5,757.6 1066.4,758.6 1067.2,756.6 1068.0,757.9 1068.9,758.2 1069.7,755.8 1070.5,756.4 1071.4,754.8 1072.2,751.7 1073.0,749.8 1073.8,747.9 1074.6,749.0 1075.3,748.1 1076.1,748.8 1076.9,750.2 1077.7,747.0 1078.5,744.4 1079.3,749.0 1080.1,747.4 1080.9,750.2 1081.7,751.2 1082.5,752.1 1083.2,750.1 1084.0,751.2 1084.8,755.8 1085.6,755.3 1086.4,757.4 1087.2,759.8 1088.0,756.1 1088.8,755.8 1089.6,757.2 1090.4,753.5 1091.2,754.8 1092.0,751.9 1092.8,755.1 1093.6,751.8 1094.4,750.9 1095.2,751.8 1096.0,746.7 1096.9,738.9 1097.7,731.6 1098.5,733.5 1099.4,736.5 1100.2,737.3 1101.0,741.5 1101.8,741.8 1102.7,747.5 1103.5,751.1 1104.3,748.0 1105.1,751.1 1105.9,748.8 1106.7,747.7 1107.5,748.0 1108.2,749.1 1109.0,748.5 1109.8,749.2 1110.6,749.0 1111.4,744.7 1112.2,748.3 1113.0,746.2 1113.8,741.0 1114.6,740.4 1115.3,737.3 1116.1,734.8 1116.9,733.1 1117.7,731.9 1118.5,728.8 1119.2,733.6 1120.0,741.5 1120.7,744.8 1121.5,749.2 1122.2,756.0 1123.0,755.9 1123.9,758.0 1124.7,755.4 1125.5,759.8 1126.4,758.8 1127.2,760.2 1128.0,759.9 1128.9,759.7 1129.7,760.1 1130.5,756.6 1131.4,759.6 1132.2,757.1 1133.0,758.7 1133.8,752.4 1134.6,754.4 1135.4,752.3 1136.2,752.7 1137.0,748.6 1137.8,749.1 1138.6,746.7 1139.4,746.8 1140.2,744.5 1141.0,743.1 1141.8,748.4 1142.5,752.5 1143.2,757.0 1144.0,761.4 1144.8,760.7 1145.6,761.4 1146.5,761.2 1147.3,760.8 1148.1,756.7 1148.9,760.1 1149.8,761.7 1150.6,759.9 1151.4,758.9 1152.2,756.1 1153.1,758.1 1153.9,757.5 1154.7,755.8 1155.5,756.3 1156.3,756.0 1157.1,754.3 1157.9,756.7 1158.7,758.2 1159.5,757.0 1160.3,758.6 1161.2,758.3 1162.0,756.5 1162.8,753.7 1163.6,752.7 1164.4,755.6 1165.2,752.6 1166.0,755.6 1166.8,756.7 1167.7,753.8 1168.5,753.4 1169.3,753.1 1170.2,757.4 1171.0,754.3 1171.8,753.8 1172.7,755.1 1173.5,755.7 1174.3,752.9 1175.2,752.4 1176.0,748.8 1176.8,747.9 1177.7,747.2 1178.5,746.2 1179.3,748.5 1180.2,750.3 1181.0,752.7 1181.8,753.2 1182.7,759.2 1183.5,762.5 1184.3,759.8 1185.2,758.1 1186.0,753.4 1186.8,751.8 1187.7,750.6 1188.5,747.0 1189.3,744.6 1190.2,746.9 1191.0,743.3 1191.8,744.6 1192.6,743.5 1193.4,741.1 1194.2,739.3 1195.0,739.3 1195.8,740.1 1196.6,740.4 1197.4,738.0 1198.2,737.7 1199.0,736.6 1199.8,736.6 1200.5,740.7 1201.3,745.5 1202.0,747.0 1202.8,755.2 1203.5,759.2 1204.3,757.8 1205.1,758.4 1205.8,756.9 1206.6,756.2 1207.4,758.0 1208.2,757.9 1209.0,757.5 1209.8,757.5 1210.5,753.4 1211.3,753.2 1212.1,755.2 1212.9,752.5 1213.7,752.6 1214.4,752.0 1215.2,753.9 1216.0,750.5 1216.8,748.7 1217.7,753.2 1218.5,751.0 1219.3,752.3 1220.2,748.1 1221.0,746.3 1221.8,746.0 1222.7,747.9 1223.5,746.6 1224.3,745.1 1225.2,749.0 1226.0,748.7 1226.8,742.9 1227.7,744.5 1228.5,743.5 1229.3,739.9 1230.2,736.0 1231.0,733.4 1231.8,733.1 1232.6,729.8 1233.5,732.9 1234.3,729.7 1235.1,723.4 1236.0,718.8 1236.8,709.4 1237.8,708.4 1238.6,719.7 1239.5,725.0 1240.3,734.2 1241.0,741.0 1241.8,745.3 1242.5,745.8 1243.3,749.9 1244.0,754.6 1244.8,753.4 1245.6,751.3 1246.4,751.4 1247.2,752.8 1248.0,752.5 1248.8,754.9 1249.6,749.9 1250.4,749.7 1251.2,748.6 1252.0,749.7 1252.8,748.3 1253.6,750.6 1254.4,748.8 1255.2,751.8 1256.0,747.7 1256.8,748.3 1257.6,747.6 1258.4,748.8 1259.2,745.4 1260.0,743.8 1260.8,747.4 1261.6,743.8 1262.4,745.7 1263.2,745.4 1264.0,744.1 1264.8,744.0 1265.6,739.5 1266.4,740.2 1267.2,734.3 1267.9,735.6 1268.7,729.7 1269.5,728.9 1270.3,725.5 1271.1,721.9 1271.8,716.6 1272.6,713.6 1273.3,711.5 1274.1,703.8 1274.8,700.7 1275.6,696.6 1276.5,690.6 1277.3,689.5 1278.2,685.8 1279.1,684.5 1280.0,695.1 1280.9,702.8 1281.8,716.8 1282.5,723.0 1283.3,729.3 1284.0,736.5 1284.8,743.4 1285.6,745.5 1286.4,743.9 1287.2,744.3 1288.0,744.9 1288.8,744.1 1289.6,749.1 1290.4,746.2 1291.3,746.2 1292.1,748.3 1292.9,748.1 1293.7,752.1 1294.5,748.7 1295.3,752.8 1296.1,752.6 1296.9,750.7 1297.7,753.4 1298.5,757.5 1299.3,757.7 1300.1,758.3 1300.8,760.7 1301.6,763.6 1302.4,764.9 1303.2,762.8 1304.0,763.3 1304.8,767.4 1305.6,760.7 1306.3,756.7 1307.1,750.4 1307.8,744.0 1308.6,737.1 1309.4,739.1 1310.3,742.2 1311.1,744.5 1311.9,743.6 1312.8,744.8 1313.6,751.4 1314.4,748.6 1315.3,754.0 1316.1,756.7 1316.9,755.8 1317.8,754.1 1318.6,754.5 1319.4,753.0 1320.3,752.2 1321.1,752.1 1321.9,752.5 1322.8,757.1 1323.6,752.5 1324.4,756.9 1325.3,753.5 1326.1,755.6 1326.9,755.4 1327.8,752.5 1328.6,751.4 1329.4,752.0 1330.3,754.9 1331.1,753.1 1331.9,751.4 1332.8,752.1 1333.6,752.5 1334.4,755.1 1335.3,752.1 1336.1,753.2 1336.9,749.5 1337.8,754.7 1338.6,752.9 1339.4,752.2 1340.3,755.5 1341.1,751.8 1341.9,751.6 1342.8,756.5 1343.6,756.9 1344.4,751.5 1345.3,749.8 1346.1,749.9 1346.9,746.0 1347.8,745.2 1348.6,742.2 1349.4,742.2 1350.3,739.0 1351.1,737.5 1351.9,739.6 1352.8,741.5 1353.6,742.8 1354.4,742.9 1355.3,743.6 1356.1,747.5 1356.9,749.1 1357.8,751.6 1358.6,751.9 1359.4,753.0 1360.3,753.7 1361.1,755.9 1361.9,756.5 1362.8,752.6 1363.6,758.0 1364.4,755.6 1365.3,755.0 1366.1,755.1 1366.9,755.6 1367.8,756.0 1368.6,755.2 1369.4,755.6 1370.3,756.3 1371.1,755.9 1371.9,751.2 1372.8,750.1 1373.6,753.1 1374.4,754.1 1375.3,755.1 1376.1,753.6 1376.9,755.1 1377.8,758.9 1378.6,757.3 1379.4,757.9 1380.3,760.0 1381.1,762.2 1381.9,758.8 1382.8,759.3 1383.6,760.9 1384.4,759.5 1385.3,755.9 1386.1,758.2 1386.9,757.0 1387.8,756.3 1388.6,756.5 1389.4,753.4 1390.3,756.3 1391.1,752.0 1391.9,752.9 1392.7,754.0 1393.4,751.6 1394.2,753.1 1395.0,750.4 1395.8,752.9 1396.6,754.9 1397.3,749.3 1398.1,754.2 1398.9,752.1 1399.7,752.2 1400.5,748.3 1401.3,748.4 1402.0,750.0 1402.8,750.8 1403.6,746.7 1404.3,737.8 1405.1,734.2 1405.8,724.6 1406.6,716.2 1407.4,697.3 1408.1,683.6 1408.9,672.0 1409.8,658.4 1410.6,639.6 1411.6,642.5 1412.5,664.6 1413.4,686.2 1414.1,702.5 1414.9,718.1 1415.6,734.9 1416.4,737.0 1417.2,737.1 1418.0,740.6 1418.8,743.8 1419.6,741.5 1420.4,743.3 1421.3,749.1 1422.1,750.4 1422.9,749.0 1423.7,750.7 1424.5,756.3 1425.3,754.2 1426.1,755.0 1426.9,754.6 1427.8,753.9 1428.6,757.4 1429.4,755.8 1430.3,752.6 1431.1,752.1 1431.9,752.0 1432.8,749.3 1433.6,748.8 1434.4,750.0 1435.3,752.4 1436.1,753.8 1436.9,755.5 1437.8,757.0 1438.6,754.4 1439.4,757.6 1440.3,758.4 1441.1,757.7 1441.9,762.7 1442.7,758.3 1443.5,757.3 1444.3,758.7 1445.1,755.7 1445.9,758.1 1446.8,757.4 1447.6,759.1 1448.4,755.7 1449.2,753.4 1450.0,755.5 1450.8,757.2 1451.6,755.6 1452.3,749.6 1453.1,741.6 1453.8,734.3 1454.6,728.5 1455.3,723.6 1456.1,717.5 1456.9,725.4 1457.6,735.8 1458.4,743.1 1459.2,746.7 1459.9,748.2 1460.7,747.4 1461.5,747.9 1462.2,750.7 1463.0,751.1 1463.8,753.9 1464.6,753.9 1465.3,754.5 1466.1,755.3 1466.9,755.7 1467.7,754.7 1468.4,756.2 1469.2,757.9 1470.0,754.6 1470.8,758.8 1471.5,756.0 1472.3,757.4 1473.1,758.3 1473.9,757.1 1474.6,755.9 1475.4,753.1 1476.2,754.9 1477.0,754.8 1477.9,755.3 1478.7,756.3 1479.5,752.4 1480.4,752.8 1481.2,755.2 1482.0,753.9 1482.9,750.1 1483.7,750.5 1484.5,751.8 1485.4,753.2 1486.2,750.7 1487.0,749.4 1487.9,750.9 1488.7,750.0 1489.5,749.8 1490.4,747.2 1491.2,747.0 1492.0,746.7 1492.9,745.7 1493.7,746.5 1494.5,744.8 1495.4,748.9 1496.2,748.9 1497.0,746.6 1497.9,745.3 1498.7,748.9 1499.5,747.1 1500.4,746.8 1501.2,746.5 1502.0,746.4 1502.9,743.4 1503.7,743.4 1504.5,744.5 1505.4,742.7 1506.2,741.4 1507.0,739.5 1507.9,735.9 1508.7,734.0 1509.5,737.6 1510.4,735.5 1511.2,737.1 1512.0,734.6 1512.9,738.2 1513.7,736.0 1514.5,740.3 1515.4,740.2 1516.2,740.6 1517.0,740.2 1517.9,738.4 1518.7,737.8 1519.5,735.7 1520.4,737.7 1521.2,738.9 1522.0,735.6 1522.9,736.6 1523.7,734.7 1524.5,736.6 1525.4,740.4 1526.2,739.8 1527.0,741.2 1527.9,746.8 1528.7,745.3 1529.5,747.5 1530.4,749.3 1531.2,751.3 1532.0,750.3 1532.9,751.6 1533.7,752.6 1534.5,752.0 1535.4,752.2 1536.2,751.7 1537.0,749.9 1537.9,746.8 1538.7,748.6 1539.5,747.2 1540.4,746.8 1541.2,744.2 1542.0,747.3 1542.8,748.6 1543.5,750.5 1544.3,753.6 1545.1,753.5 1545.9,754.6 1546.6,756.6 1547.4,759.8 1548.2,757.7 1549.0,753.7 1549.7,751.6 1550.5,744.6 1551.2,740.3 1552.0,741.7 1552.9,743.0 1553.7,744.8 1554.5,745.4 1555.4,746.7 1556.2,747.1 1557.0,748.0 1557.9,747.9 1558.7,749.5 1559.5,749.8 1560.4,748.6 1561.2,753.4 1562.0,752.2 1562.9,751.3 1563.7,750.4 1564.5,747.4 1565.4,748.1 1566.2,750.7 1567.0,750.9 1567.9,749.2 1568.7,750.8 1569.5,746.4 1570.4,748.7 1571.2,746.5 1572.0,749.3 1572.9,748.4 1573.7,747.2 1574.5,745.2 1575.4,744.8 1576.2,746.1 1577.0,745.7 1577.9,744.8 1578.7,744.9 1579.5,748.7 1580.4,748.3 1581.2,750.0 1582.0,749.4 1582.9,745.9 1583.7,747.1 1584.5,748.0 1585.4,749.1 1586.2,752.2 1587.0,750.6 1587.9,754.1 1588.7,752.8 1589.5,753.6 1590.4,753.9 1591.2,750.8 1592.0,754.7 1592.9,755.7 1593.7,752.8 1594.5,755.0 1595.4,756.4 1596.2,756.4 1597.0,754.4 1597.9,754.2 1598.7,756.0 1599.5,752.1 1600.4,752.7 1601.2,752.3 1602.0,753.4 1602.9,750.9 1603.7,755.3 1604.5,755.2 1605.4,750.1 1606.2,751.6 1607.0,751.1 1607.9,752.9 1608.7,751.0 1609.5,751.4 1610.4,752.2 1611.2,754.9 1612.0,751.1 1612.9,753.3 1613.7,753.1 1614.5,756.4 1615.4,758.0 1616.2,755.5 1617.0,756.4 1617.9,758.7 1618.7,758.6 1619.5,759.8 1620.4,757.2 1621.2,756.1 1622.0,759.1 1622.9,757.3 1623.7,761.4 1624.5,762.0 1625.4,758.0 1626.2,759.5 1627.0,757.2 1627.9,762.6 1628.7,761.8 1629.5,760.1 1630.3,761.1 1631.1,760.5 1631.9,760.1 1632.6,761.7 1633.4,761.3 1634.2,759.2 1635.0,757.4 1635.8,756.7 1636.6,758.6 1637.4,759.5 1638.2,757.9 1639.0,757.5 1639.8,759.6 1640.5,757.3 1641.3,756.8 1642.1,760.5 1642.9,755.4 1643.7,756.4 1644.5,752.6 1645.2,744.8 1646.0,742.7 1646.7,733.4 1647.5,727.4 1648.3,722.0 1649.1,715.6 1649.9,707.4 1650.7,703.3 1651.7,701.7 1652.5,710.5 1653.3,718.6 1654.2,720.6 1655.0,728.0 1655.8,737.9 1656.5,742.1 1657.2,750.4 1658.0,756.2 1658.8,757.1 1659.6,760.6 1660.3,757.5 1661.1,756.5 1661.9,758.4 1662.7,756.3 1663.4,759.6 1664.2,760.5 1665.0,756.5 1665.8,758.2 1666.5,757.2 1667.3,757.2 1668.1,757.3 1668.9,758.3 1669.6,758.6 1670.4,759.2 1671.2,758.6 1672.0,759.4 1672.8,759.2 1673.6,762.0 1674.4,762.0 1675.2,761.9 1676.0,756.1 1676.8,756.8 1677.6,758.9 1678.4,760.5 1679.2,760.5 1680.0,759.9 1680.8,755.1 1681.6,754.6 1682.4,755.0 1683.2,757.8 1684.0,757.1 1684.8,755.7 1685.7,754.7 1686.5,752.9 1687.3,751.4 1688.1,753.7 1688.9,753.2 1689.7,753.6 1690.5,749.8 1691.3,742.0 1692.0,726.3 1692.8,718.4 1693.7,708.0 1694.5,701.0 1695.5,702.2 1696.3,710.9 1697.2,720.6 1698.0,730.1 1698.8,734.9 1699.5,740.8 1700.2,749.5 1701.0,752.2 1701.8,756.1 1702.6,751.6 1703.3,753.3 1704.1,754.5 1704.9,751.2 1705.7,753.5 1706.4,751.5 1707.2,749.2 1708.0,749.8 1708.8,751.0 1709.6,747.8 1710.3,748.5 1711.1,749.4 1711.9,747.0 1712.7,747.7 1713.4,746.4 1714.2,747.1 1715.0,746.4 1715.8,746.6 1716.7,746.9 1717.5,748.5 1718.3,750.0 1719.2,749.8 1720.0,749.2 1720.8,750.1 1721.7,752.0 1722.5,751.0 1723.3,751.4 1724.2,753.3 1725.0,752.6 1725.8,754.0 1726.7,754.5 1727.5,755.1 1728.3,756.2 1729.2,753.2 1730.0,757.2 1730.8,753.6 1731.7,755.6 1732.5,757.9 1733.3,757.9 1734.2,755.6 1735.0,755.9 1735.8,758.8 1736.7,757.2 1737.5,754.1 1738.3,755.3 1739.2,754.3 1740.0,756.2 1740.8,755.9 1741.7,752.7 1742.5,753.0 1743.3,750.1 1744.2,754.0 1745.0,750.3 1745.8,750.5 1746.7,748.9 1747.5,749.5 1748.3,751.3 1749.2,750.9 1750.0,748.5 1750.8,746.7 1751.7,750.8 1752.5,746.0 1753.3,745.0 1754.2,748.2 1755.0,745.3 1755.8,744.4 1756.7,746.5 1757.5,750.1 1758.3,751.8 1759.2,751.6 1760.0,752.7 1760.8,753.8 1761.7,752.8 1762.5,753.3 1763.3,750.7 1764.2,752.9 1765.0,755.8 1765.8,753.5 1766.7,754.5 1767.5,752.8 1768.3,755.5 1769.2,758.4 1770.0,755.6 1770.8,758.4 1771.7,754.3 1772.5,754.3 1773.3,755.0 1774.2,756.3 1775.0,758.0 1775.8,757.1 1776.6,758.9 1777.3,755.2 1778.1,756.9 1778.9,757.5 1779.7,760.4 1780.4,755.6 1781.2,758.5 1782.0,757.6 1782.8,759.1 1783.5,758.6 1784.3,756.9 1785.1,757.2 1785.9,760.4 1786.8,757.5 1787.6,760.1 1788.4,758.4 1789.3,761.4 1790.1,758.0 1790.9,761.0 1791.8,759.8 1792.6,759.9 1793.4,761.4 1794.3,758.4 1795.1,763.2 1795.9,762.5 1796.8,759.9 1797.6,760.3 1798.4,762.3 1799.3,758.0 1800.1,759.5 1800.9,759.0 1801.8,757.6 1802.6,759.1 1803.4,756.7 1804.3,760.5 1805.1,758.7 1805.9,755.5 1806.8,758.3 1807.6,759.1 1808.4,757.5 1809.3,755.4 1810.1,757.2 1810.9,753.5 1811.8,754.9 1812.6,754.5 1813.4,757.7 1814.3,752.9 1815.1,753.2 1815.9,754.0 1816.8,758.4 1817.6,757.9 1818.4,758.3 1819.3,756.5 1820.1,759.8 1820.9,757.3 1821.8,757.3 1822.6,756.9 1823.4,758.7 1824.3,757.6 1825.1,762.6 1825.9,761.4 1826.8,761.8 1827.6,760.0 1828.4,759.7 1829.3,759.0 1830.1,762.4 1830.9,762.8 1831.8,758.7 1832.6,763.0 1833.4,759.6 1834.3,762.8 1835.1,762.2 1835.9,761.2 1836.8,757.6 1837.6,758.9 1838.4,760.6 1839.3,760.0 1840.1,761.0 1840.9,760.3 1841.8,757.2 1842.6,758.2 1843.4,755.9 1844.3,755.3 1845.1,757.6 1845.9,759.4 1846.8,757.7 1847.6,758.2 1848.4,757.7 1849.3,754.4 1850.1,754.7 1850.9,754.6 1851.8,754.1 1852.6,753.3 1853.4,750.6 1854.3,753.3 1855.1,750.5 1855.9,754.8 1856.8,752.3 1857.6,751.4 1858.4,751.4 1859.3,754.7 1860.1,751.1 1860.9,751.4 1861.8,756.0 1862.6,755.9 1863.4,756.4 1864.3,756.8 1865.1,757.3 1865.9,753.1 1866.8,755.0 1867.6,752.7 1868.4,757.1 1869.3,758.7 1870.1,755.2 1870.9,754.5 1871.8,757.0 1872.6,757.1 1873.4,756.8 1874.3,759.7 1875.1,759.8 1875.9,758.3 1876.8,756.5 1877.6,754.8 1878.4,758.2 1879.3,755.0 1880.1,756.5 1880.9,755.4 1881.8,755.9 1882.6,755.7 1883.4,753.8 1884.3,756.6 1885.1,753.2 1885.9,753.6 1886.8,756.8 1887.6,756.5 1888.4,756.0 1889.3,756.4 1890.1,753.5 1890.9,755.0 1891.8,756.4 1892.6,755.2 1893.4,753.0 1894.3,757.2 1895.1,752.9 1895.9,754.8 1896.8,753.2 1897.6,752.3 1898.4,750.4 1899.3,751.6 1900.1,753.6 1900.9,749.8 1901.8,750.8 1902.6,749.2 1903.4,750.3 1904.3,750.4 1905.1,750.6 1905.9,749.3 1906.8,750.4 1907.6,746.7 1908.4,750.3 1909.3,746.8 1910.1,750.1 1910.9,748.0 1911.8,747.9 1912.6,747.6 1913.4,745.3 1914.3,749.0 1915.1,748.0 1915.9,742.9 1916.7,741.4 1917.5,740.3 1918.2,738.3 1919.0,734.8 1919.8,734.1 1920.6,730.3 1921.4,728.8 1922.2,735.7 1922.9,742.0 1923.7,743.9 1924.4,754.3 1925.2,753.1 1926.0,749.1 1926.9,751.5 1927.7,748.7 1928.5,753.3 1929.3,748.4 1930.2,753.0 1931.0,751.4 1931.8,749.6 1932.6,751.5 1933.5,750.2 1934.3,750.9 1935.1,747.1 1935.9,751.4 1936.8,750.5 1937.6,748.0 1938.4,751.6 1939.3,752.5 1940.1,754.6 1940.9,750.3 1941.8,752.3 1942.6,753.6 1943.4,751.5 1944.3,753.1 1945.1,756.3 1945.9,755.4 1946.8,755.9 1947.6,755.7 1948.4,757.3 1949.3,753.3 1950.1,756.2 1950.9,756.7 1951.8,757.7 1952.6,756.9 1953.4,756.3 1954.3,758.4 1955.1,759.7 1955.9,757.1 1956.8,756.4 1957.6,757.3 1958.4,758.4 1959.3,754.9 1960.1,758.1 1960.9,757.4 1961.8,757.7 1962.6,758.8 1963.4,759.4 1964.3,755.2 1965.1,755.5 1965.9,756.8 1966.8,757.4 1967.6,755.1 1968.4,758.7 1969.3,757.7 1970.1,758.7 1970.9,754.4 1971.8,754.3 1972.6,756.4 1973.4,755.6 1974.3,756.4 1975.1,755.1 1975.9,757.3 1976.8,755.6 1977.6,755.4 1978.4,754.2 1979.3,755.0 1980.1,755.6 1980.9,753.9 1981.8,756.7 1982.6,757.1 1983.4,754.8 1984.3,758.9 1985.1,759.1 1985.9,756.3 1986.7,755.3 1987.4,761.0 1988.2,756.6 1989.0,760.2 1989.8,761.3 1990.5,760.5 1991.3,758.7 1992.1,757.1 1992.9,760.4 1993.6,761.2 1994.4,759.2 1995.2,761.5 1996.0,761.3 1996.9,757.3 1997.7,756.9 1998.5,761.0 1999.4,761.2 2000.2,758.8 2001.0,757.2 2001.9,760.5 2002.7,757.8 2003.5,754.5 2004.4,755.7 2005.2,754.0 2006.0,750.1 2006.9,747.8 2007.7,746.0 2008.5,747.0 2009.4,748.7 2010.2,747.6 2011.0,750.5 2011.9,748.8 2012.7,749.5 2013.5,752.2 2014.4,755.3 2015.2,753.8 2016.0,755.2 2016.9,752.9 2017.7,751.3 2018.5,754.3 2019.4,751.4 2020.2,755.6 2021.0,754.9 2021.9,751.4 2022.7,754.4 2023.5,754.6 2024.4,752.0 2025.2,753.0 2026.0,751.4 2026.9,750.5 2027.7,753.6 2028.5,755.2 2029.4,753.5 2030.2,753.1 2031.0,754.7 2031.9,756.3 2032.7,754.7 2033.5,756.9 2034.4,756.2 2035.2,760.2 2036.0,759.7 2036.9,759.8 2037.7,759.8 2038.5,759.1 2039.4,757.7 2040.2,761.6 2041.0,761.3 2041.9,760.9 2042.7,760.8 2043.5,758.0 2044.4,759.8 2045.2,759.5 2046.0,762.4 2046.9,760.8 2047.7,759.9 2048.5,759.4 2049.4,759.7 2050.2,762.4 2051.0,759.7 2051.9,764.9 2052.7,764.6 2053.5,763.9 2054.4,763.9 2055.2,761.7 2056.0,765.1 2056.9,763.3 2057.7,763.2 2058.5,761.6 2059.4,761.9 2060.2,759.2 2061.0,763.7 2061.9,760.2 2062.7,763.7 2063.5,760.1 2064.4,758.7 2065.2,759.0 2066.0,759.6 2066.9,759.9 2067.7,759.6 2068.5,757.9 2069.4,757.4 2070.2,757.9 2071.0,757.4 2071.9,756.9 2072.7,760.3 2073.5,756.9 2074.4,755.2 2075.2,756.3 2076.0,755.3 2076.9,755.6 2077.7,757.8 2078.5,758.7 2079.4,761.0 2080.2,757.2 2081.0,758.2 2081.9,760.8 2082.7,761.4 2083.5,758.6 2084.4,758.5 2085.2,759.5 2086.0,761.9 2086.9,760.6 2087.7,763.2 2088.5,757.9 2089.4,763.2 2090.2,760.7 2091.0,759.3 2091.9,763.1 2092.7,759.7 2093.5,758.7 2094.4,758.1 2095.2,757.8 2096.0,760.6 2096.9,762.4 2097.7,759.9 2098.5,760.5 2099.4,757.7 2100.2,756.3 2101.0,761.4 2101.9,759.8 2102.7,759.8 2103.5,757.7 2104.4,757.3 2105.2,757.3 2106.0,756.1 2106.9,755.7 2107.7,755.7 2108.5,754.3 2109.4,756.9 2110.2,758.2 2111.0,755.1 2111.9,753.5 2112.7,754.7 2113.5,757.8 2114.4,755.5 2115.2,752.2 2116.0,754.8 2116.9,754.2 2117.7,754.3 2118.5,754.5 2119.4,755.0 2120.2,753.7 2121.0,754.1 2121.9,755.2 2122.7,753.1 2123.5,752.1 2124.4,753.8 2125.2,756.1 2126.0,755.5 2126.9,754.7 2127.7,751.8 2128.5,754.6 2129.4,755.9 2130.2,753.7 2131.0,754.6 2131.9,751.6 2132.7,752.2 2133.5,750.4 2134.4,749.7 2135.2,751.3 2136.0,753.1 2136.9,750.6 2137.7,752.9 2138.5,749.0 2139.4,753.8 2140.2,750.1 2141.0,753.0 2141.9,751.2 2142.7,751.2 2143.5,750.2 2144.4,752.6 2145.2,750.5" fill="none" stroke="#3dff3d" stroke-width="8" stroke-linejoin="round" stroke-linecap="butt"/>
<polyline points="153.8,823.2 154.8,841.3 155.8,841.1 156.8,837.8 157.8,851.3 158.8,850.8 159.8,857.8 160.8,857.8 161.8,864.0 162.8,869.6 163.8,867.0 164.8,867.7 165.8,887.4 166.8,878.5 167.8,890.6 168.8,901.5 169.8,892.0 170.8,891.4 171.8,893.5 172.8,890.3 173.8,900.2 174.8,895.7 175.8,900.5 176.8,920.6 177.8,927.0 178.8,939.9 179.8,949.4 180.8,972.8 181.8,971.9 182.8,982.0 183.8,984.7 184.8,995.3 185.8,983.6 186.8,996.6 187.8,1002.9 188.8,995.7 189.8,1000.9 190.8,1000.8 191.8,1001.6 192.8,1013.3 193.8,1000.3 194.8,1009.2 195.8,996.6 196.8,1009.9 197.8,997.2 198.8,1010.0 199.8,997.0 200.8,999.7 201.8,1000.5 202.8,1000.9 203.8,1009.8 204.8,1004.9 205.8,996.6 206.8,999.2 207.8,1003.9 208.8,1010.0 209.8,1009.9 210.8,1008.5 211.8,1016.1 212.8,1020.3 213.8,1022.1 214.8,1024.6 215.8,1024.9 216.8,1027.3 217.8,1023.1 218.8,1022.9 219.8,1020.8 220.8,1016.9 221.8,1024.4 222.8,1015.8 223.8,1024.5 224.8,1015.3 225.8,1006.6 226.8,1020.1 227.8,1011.9 228.8,1001.6 229.8,1014.6 230.8,1012.5 231.8,1012.3 232.8,1003.2 233.8,996.2 234.8,995.4 235.8,999.6 236.8,1000.7 237.8,997.5 238.8,991.1 239.8,989.0 240.8,1003.7 241.8,1004.0 242.8,1003.0 243.8,995.4 244.8,987.4 245.8,990.0 246.8,996.0 247.8,1001.7 248.8,998.6 249.8,988.0 250.8,1002.5 251.8,997.6 252.8,994.0 253.8,1000.9 254.8,995.7 255.8,999.6 256.8,991.9 257.8,994.1 258.8,1010.1 259.8,1001.2 260.8,1007.6 261.8,999.8 262.8,999.9 263.8,994.2 264.8,1007.3 265.9,994.2 266.9,1002.0 267.9,989.9 268.9,991.2 269.9,986.8 270.9,997.7 271.9,1001.7 272.9,996.5 273.9,996.8 274.9,989.7 275.9,1002.3 276.9,987.2 277.9,989.7 278.9,995.4 279.9,996.7 280.9,991.0 281.9,997.8 282.9,991.5 283.9,992.8 284.9,1002.1 285.9,1006.7 286.9,1013.2 287.9,1005.9 288.9,1014.3 289.9,1010.8 290.9,1013.1 291.9,1006.1 292.9,997.9 293.9,997.7 294.9,994.2 295.9,981.8 296.9,975.9 297.9,975.0 298.9,976.3 299.9,965.7 300.9,970.6 301.9,966.8 302.9,981.0 303.9,972.3 304.9,974.4 305.9,966.7 306.9,972.3 307.9,981.5 308.9,979.2 309.9,980.6 310.9,967.1 311.9,981.0 312.9,982.7 313.9,979.0 314.9,983.2 315.9,998.5 316.9,991.6 317.9,994.0 318.9,1002.9 319.9,1002.1 320.9,1002.4 321.9,1003.4 322.9,1009.5 323.9,1010.2 324.9,1005.5 325.9,1014.3 326.9,1002.2 327.9,1002.4 328.9,1004.4 329.9,997.4 330.9,1006.5 331.9,1006.0 332.9,1002.4 333.9,1006.2 334.9,1007.2 335.9,1009.7 336.9,1009.3 337.9,1005.3 338.9,1004.8 339.9,1012.4 340.9,996.1 341.9,1009.1 342.9,993.6 343.9,992.7 344.9,996.0 345.9,1004.9 346.9,990.3 347.9,986.7 348.9,999.1 349.9,994.2 350.9,987.1 351.9,1000.6 352.9,995.0 353.9,996.7 354.9,986.5 355.9,995.5 356.9,985.3 357.9,989.1 358.9,994.7 359.9,1002.3 360.9,1001.2 361.9,987.9 362.9,1000.8 363.9,1000.9 364.9,987.7 365.9,988.5 366.9,991.5 367.9,1004.9 368.9,989.1 369.9,989.5 370.9,985.6 371.9,975.5 372.9,968.8 373.9,968.0 374.9,968.6 375.9,955.5 376.9,950.3 377.9,956.8 378.9,965.8 379.9,964.0 380.9,950.0 381.9,961.7 382.9,964.9 383.9,963.6 384.9,949.1 385.9,948.8 386.9,956.8 387.9,965.7 388.9,965.0 389.9,954.2 390.9,967.9 391.9,969.0 392.9,967.3 393.9,968.3 394.9,972.5 395.9,979.8 396.9,976.7 397.9,984.3 398.9,986.2 399.9,992.8 400.9,976.6 401.9,978.1 402.9,991.2 403.9,987.6 404.9,992.0 405.9,1004.3 406.9,1009.5 407.9,1011.4 408.9,1004.1 409.9,1000.0 410.9,997.7 411.9,1011.7 412.9,1011.0 413.9,1000.2 414.9,1010.2 415.9,1002.4 416.9,1011.7 417.9,1020.4 418.9,1024.5 419.9,1018.8 420.9,1024.7 421.9,1018.5 422.9,1027.1 423.9,1013.9 424.9,1010.0 425.9,1018.4 426.9,1027.5 427.9,1021.2 428.9,1022.0 429.9,1023.7 430.9,1022.4 431.9,1023.0 432.9,1015.9 433.9,1015.8 434.9,1025.3 435.9,1014.3 436.9,1019.1 437.9,1013.9 438.9,1021.4 439.9,1018.1 440.9,1025.9 441.9,1015.4 442.9,1012.9 443.9,1009.9 444.9,1010.2 445.9,1014.5 446.9,1025.1 447.9,1028.3 448.9,1012.9 449.9,1027.3 450.9,1011.9 451.9,1022.2 452.9,1011.8 453.9,1003.1 454.9,1003.2 455.9,1011.4 456.9,1007.0 457.9,1004.4 458.9,1006.8 459.9,1009.1 460.9,1001.7 461.9,1007.6 462.9,1005.5 463.9,1000.8 464.9,995.1 465.9,996.5 466.9,975.3 467.9,970.8 468.9,967.8 469.9,953.7 470.9,938.9 471.9,926.8 472.9,931.5 473.9,919.0 474.9,931.1 475.9,929.0 476.9,918.1 477.9,922.6 478.9,932.6 479.9,925.2 480.9,929.8 481.9,928.0 482.9,922.7 483.9,928.2 484.9,927.0 485.9,932.2 486.9,933.7 488.0,925.9 489.0,925.0 490.0,934.5 491.0,928.6 492.0,941.6 493.0,934.9 494.0,925.6 495.0,928.8 496.0,914.3 497.0,915.1 498.0,905.0 499.0,904.6 500.0,904.6 501.0,903.1 502.0,890.3 503.0,883.9 504.0,885.7 505.0,888.2 506.0,890.0 507.0,884.2 508.0,886.4 509.0,877.8 510.0,870.7 511.0,879.1 512.0,871.3 513.0,863.0 514.0,860.0 515.0,855.9 516.0,846.6 517.0,844.7 518.0,841.6 519.0,829.9 520.0,821.5 521.0,816.5 522.0,807.8 523.0,796.7 524.0,802.2 525.0,790.1 526.0,805.3 527.0,803.2 528.0,790.9 529.0,800.4 530.0,797.4 531.0,799.6 532.0,797.9 533.0,803.0 534.0,797.2 535.0,803.6 536.0,804.9 537.0,791.2 538.0,790.3 539.0,791.5 540.0,793.5 541.0,807.8 542.0,809.4 543.0,808.1 544.0,821.2 545.0,826.3 546.0,833.9 547.0,834.4 548.0,823.7 549.0,824.6 550.0,818.5 551.0,832.7 552.0,824.8 553.0,827.7 554.0,818.6 555.0,825.7 556.0,828.2 557.0,833.8 558.0,821.2 559.0,829.9 560.0,828.4 561.0,819.7 562.0,828.9 563.0,835.8 564.0,851.8 565.0,860.0 566.0,866.9 567.0,873.3 568.0,890.7 569.0,905.8 570.0,909.3 571.0,922.0 572.0,913.9 573.0,917.0 574.0,923.8 575.0,932.6 576.0,923.3 577.0,940.3 578.0,939.1 579.0,927.8 580.0,928.3 581.0,929.3 582.0,946.1 583.0,943.4 584.0,935.8 585.0,938.9 586.0,936.1 587.0,942.1 588.0,953.0 589.0,958.4 590.0,955.8 591.0,973.2 592.0,978.2 593.0,967.3 594.0,976.4 595.0,972.0 596.0,982.0 597.0,972.5 598.0,980.5 599.0,975.3 600.0,979.7 601.0,979.9 602.0,978.2 603.0,984.5 604.0,976.5 605.0,979.8 606.0,989.5 607.0,987.2 608.0,984.9 609.0,991.5 610.0,999.4 611.0,993.2 612.0,1005.3 613.0,1002.1 614.0,992.3 615.0,1007.8 616.0,1009.8 617.0,993.3 618.0,1007.5 619.0,1004.1 620.0,1006.1 621.0,1003.9 622.0,1004.5 623.0,1006.7 624.0,1004.7 625.0,996.5 626.0,1005.2 627.0,995.4 628.0,1007.7 629.0,994.1 630.0,995.6 631.0,998.7 632.0,1002.4 633.0,1009.7 634.0,1014.9 635.0,1007.3 636.0,1015.4 637.0,1017.3 638.0,1023.6 639.0,1014.6 640.0,1020.4 641.0,1010.4 642.0,1008.1 643.0,1008.8 644.0,1007.3 645.0,1021.6 646.0,1020.6 647.0,1013.9 648.0,1004.2 649.0,1022.1 650.0,1020.4 651.0,1018.7 652.0,1013.5 653.0,1019.1 654.0,1004.6 655.0,1012.5 656.0,1008.6 657.0,1012.4 658.0,1007.1 659.0,1021.7 660.0,1019.1 661.0,1020.2 662.0,1020.2 663.0,1005.4 664.0,1007.5 665.0,1017.5 666.0,1010.5 667.0,1014.7 668.0,996.7 669.0,996.3 670.0,1006.9 671.0,999.0 672.0,1011.3 673.0,1008.8 674.0,996.6 675.0,1004.6 676.0,989.8 677.0,997.5 678.0,987.5 679.0,991.0 680.0,996.9 681.0,1000.7 682.0,986.6 683.0,984.8 684.0,984.1 685.0,992.3 686.0,987.7 687.0,990.8 688.0,998.1 689.0,992.7 690.0,1001.3 691.0,1000.6 692.0,992.7 693.0,1004.7 694.0,999.3 695.0,1005.0 696.0,999.7 697.0,1011.7 698.0,1005.3 699.0,1006.6 700.0,1012.8 701.0,999.9 702.0,999.1 703.0,1003.3 704.0,1013.1 705.0,1013.9 706.0,1001.9 707.0,1009.0 708.0,1010.9 709.0,1003.6 710.1,1002.6 711.1,1009.2 712.1,999.3 713.1,1010.3 714.1,1014.7 715.1,1020.0 716.1,1014.8 717.1,1009.5 718.1,1017.3 719.1,1016.9 720.1,1001.7 721.1,1007.9 722.1,1001.4 723.1,997.7 724.1,996.1 725.1,1010.6 726.1,996.1 727.1,997.0 728.1,999.7 729.1,1005.1 730.1,1004.2 731.1,997.9 732.1,1010.4 733.1,1002.6 734.1,998.2 735.1,1012.8 736.1,1001.2 737.1,1008.8 738.1,1003.0 739.1,1011.7 740.1,1003.0 741.1,1011.6 742.1,1010.4 743.1,1014.0 744.1,1000.8 745.1,1003.8 746.1,998.9 747.1,997.9 748.1,999.9 749.1,1015.4 750.1,1008.6 751.1,1007.7 752.1,1011.1 753.1,1011.5 754.1,1017.0 755.1,1002.0 756.1,1006.8 757.1,1003.8 758.1,1004.5 759.1,1008.5 760.1,1007.7 761.1,996.0 762.1,1001.9 763.1,1002.8 764.1,1003.9 765.1,1004.2 766.1,1002.6 767.1,1007.8 768.1,1005.0 769.1,1001.2 770.1,1010.8 771.1,1005.2 772.1,1002.5 773.1,1012.5 774.1,1021.1 775.1,1018.8 776.1,1009.2 777.1,1007.4 778.1,1009.6 779.1,1004.3 780.1,1001.0 781.1,1007.9 782.1,1013.4 783.1,1010.8 784.1,1012.2 785.1,1006.0 786.1,1013.6 787.1,1001.0 788.1,1012.3 789.1,1012.2 790.1,1000.0 791.1,1010.1 792.1,1004.3 793.1,1008.6 794.1,1008.2 795.1,1012.9 796.1,1006.1 797.1,1008.6 798.1,1014.3 799.1,997.4 800.1,1002.9 801.1,1001.3 802.1,1011.2 803.1,1010.0 804.1,1009.7 805.1,1002.9 806.1,993.2 807.1,999.4 808.1,987.5 809.1,991.6 810.1,979.8 811.1,980.1 812.1,965.8 813.1,978.5 814.1,972.4 815.1,972.1 816.1,979.6 817.1,968.9 818.1,979.7 819.1,978.0 820.1,982.4 821.1,974.1 822.1,982.5 823.1,975.5 824.1,976.2 825.1,980.3 826.1,987.9 827.1,987.9 828.1,999.5 829.1,1003.5 830.1,1002.9 831.1,1008.1 832.1,1006.2 833.1,1010.6 834.1,1004.5 835.1,1004.2 836.1,1011.9 837.1,1012.7 838.1,1005.4 839.1,1001.6 840.1,999.9 841.1,1004.0 842.1,1004.6 843.1,1013.5 844.1,1009.2 845.1,1015.6 846.1,1003.1 847.1,1005.3 848.1,1008.0 849.1,1009.7 850.1,1013.7 851.1,1003.5 852.1,1012.5 853.1,994.8 854.1,994.3 855.1,1002.6 856.1,1001.5 857.1,1002.2 858.1,996.8 859.1,992.9 860.1,996.8 861.1,997.0 862.1,993.4 863.1,999.8 864.1,1002.8 865.1,999.3 866.1,1007.4 867.1,997.2 868.1,1008.6 869.1,995.3 870.1,1006.6 871.1,1007.8 872.1,994.4 873.1,996.9 874.1,995.0 875.1,992.9 876.1,989.2 877.1,987.2 878.1,974.9 879.1,969.9 880.1,967.1 881.1,950.2 882.1,957.7 883.1,956.8 884.1,963.5 885.1,957.3 886.1,965.0 887.1,956.0 888.1,962.1 889.1,952.7 890.1,963.5 891.1,956.4 892.1,968.5 893.1,969.3 894.1,979.8 895.1,984.3 896.1,993.4 897.1,990.1 898.1,993.5 899.1,986.5 900.1,984.7 901.1,989.5 902.1,991.5 903.1,987.4 904.1,1001.4 905.1,1007.9 906.1,995.4 907.1,1002.0 908.1,1011.2 909.1,996.3 910.1,1000.7 911.1,1002.7 912.1,997.5 913.1,1004.6 914.1,1002.2 915.1,1004.2 916.1,994.3 917.1,1001.5 918.1,1005.2 919.1,996.5 920.1,999.8 921.1,1004.1 922.1,1004.9 923.1,1009.9 924.1,995.6 925.1,1009.1 926.1,1004.4 927.1,1000.2 928.1,1003.2 929.1,1007.0 930.1,999.6 931.1,1008.1 932.2,995.2 933.2,1000.5 934.2,1002.8 935.2,1005.8 936.2,1005.7 937.2,1000.2 938.2,1010.6 939.2,1005.3 940.2,1013.0 941.2,1004.8 942.2,1009.5 943.2,998.1 944.2,1010.0 945.2,1008.9 946.2,1000.6 947.2,1007.4 948.2,998.2 949.2,1012.5 950.2,1005.7 951.2,1013.7 952.2,1008.4 953.2,1020.5 954.2,1008.6 955.2,1006.8 956.2,1004.5 957.2,1015.3 958.2,1002.7 959.2,1000.7 960.2,1001.9 961.2,1016.7 962.2,1009.2 963.2,1013.3 964.2,1004.9 965.2,1015.2 966.2,1004.6 967.2,1000.3 968.2,999.0 969.2,1005.5 970.2,999.6 971.2,1000.2 972.2,1014.5 973.2,1014.9 974.2,997.5 975.2,1001.6 976.2,1000.9 977.2,1012.1 978.2,1005.0 979.2,1011.8 980.2,1008.4 981.2,1000.7 982.2,1004.8 983.2,997.5 984.2,993.5 985.2,1001.8 986.2,994.3 987.2,997.6 988.2,993.0 989.2,990.1 990.2,999.2 991.2,1003.2 992.2,990.1 993.2,997.8 994.2,998.0 995.2,997.7 996.2,990.4 997.2,991.7 998.2,1000.9 999.2,993.8 1000.2,993.9 1001.2,1000.4 1002.2,1006.6 1003.2,999.1 1004.2,1004.8 1005.2,1007.7 1006.2,1003.4 1007.2,1010.5 1008.2,1009.5 1009.2,1006.1 1010.2,996.8 1011.2,1003.9 1012.2,1006.8 1013.2,1011.5 1014.2,993.8 1015.2,998.1 1016.2,996.4 1017.2,1009.8 1018.2,997.0 1019.2,1001.2 1020.2,1000.2 1021.2,1008.7 1022.2,1012.8 1023.2,999.2 1024.2,1005.3 1025.2,1007.4 1026.2,1010.6 1027.2,1012.4 1028.2,999.4 1029.2,1010.2 1030.2,1006.2 1031.2,994.6 1032.2,990.9 1033.2,985.6 1034.2,989.8 1035.2,985.7 1036.2,983.3 1037.2,994.1 1038.2,980.1 1039.2,994.2 1040.2,982.0 1041.2,990.2 1042.2,985.0 1043.2,988.8 1044.2,979.6 1045.2,990.4 1046.2,981.9 1047.2,988.2 1048.2,994.6 1049.2,996.5 1050.2,996.5 1051.2,1009.0 1052.2,997.0 1053.2,1000.6 1054.2,996.3 1055.2,1013.5 1056.2,1001.5 1057.2,999.2 1058.2,1004.9 1059.2,1001.4 1060.2,1007.8 1061.2,997.8 1062.2,999.3 1063.2,1010.7 1064.2,1008.6 1065.2,1000.7 1066.2,1005.4 1067.2,1006.2 1068.2,1015.6 1069.2,1013.1 1070.2,1000.2 1071.2,1004.4 1072.2,1003.0 1073.2,1008.9 1074.2,1010.7 1075.2,1005.2 1076.2,1007.5 1077.2,1004.3 1078.2,1004.0 1079.2,1010.5 1080.2,1009.9 1081.2,1002.0 1082.2,1013.9 1083.2,1012.8 1084.2,1014.1 1085.2,1015.8 1086.2,1009.4 1087.2,1002.8 1088.2,1003.7 1089.2,1010.8 1090.2,1010.0 1091.2,1005.8 1092.2,1008.4 1093.2,1006.1 1094.2,1010.2 1095.2,1021.6 1096.2,1012.1 1097.2,1010.5 1098.2,1001.9 1099.2,999.7 1100.2,1008.0 1101.2,998.7 1102.2,1003.4 1103.2,999.2 1104.2,1000.8 1105.2,994.6 1106.2,1006.5 1107.2,997.7 1108.2,993.3 1109.2,1003.3 1110.2,1002.1 1111.2,1009.0 1112.2,1007.8 1113.2,1005.2 1114.2,1007.2 1115.2,1012.7 1116.2,997.6 1117.2,1010.4 1118.2,1009.0 1119.2,1005.1 1120.2,1012.6 1121.2,1003.3 1122.2,1005.4 1123.2,999.6 1124.2,1007.0 1125.2,1010.4 1126.2,1013.5 1127.2,1000.9 1128.2,1014.3 1129.2,1001.5 1130.2,1009.0 1131.2,1010.8 1132.2,1016.1 1133.2,1000.1 1134.2,1013.7 1135.2,1005.1 1136.2,1015.4 1137.2,1009.8 1138.2,1010.2 1139.2,1005.5 1140.2,1001.8 1141.2,999.7 1142.2,1013.8 1143.2,1010.7 1144.2,1009.7 1145.2,1006.9 1146.2,1007.0 1147.2,1005.2 1148.2,1000.8 1149.2,1013.8 1150.2,1012.3 1151.2,1005.2 1152.2,1003.1 1153.2,1011.4 1154.2,1005.9 1155.3,1001.4 1156.3,1013.7 1157.3,998.8 1158.3,1008.9 1159.3,1001.0 1160.3,1000.0 1161.3,1002.1 1162.3,1003.5 1163.3,1005.0 1164.3,999.5 1165.3,1006.5 1166.3,1007.6 1167.3,1010.8 1168.3,1007.0 1169.3,1008.6 1170.3,1000.8 1171.3,1000.1 1172.3,1007.9 1173.3,1008.5 1174.3,1010.7 1175.3,995.6 1176.3,1008.7 1177.3,1013.3 1178.3,996.6 1179.3,1000.3 1180.3,1002.4 1181.3,1012.9 1182.3,997.7 1183.3,999.3 1184.3,997.8 1185.3,1008.0 1186.3,999.9 1187.3,1012.3 1188.3,995.4 1189.3,1005.7 1190.3,1005.6 1191.3,992.5 1192.3,996.3 1193.3,995.2 1194.3,989.9 1195.3,990.7 1196.3,1000.0 1197.3,989.5 1198.3,1000.3 1199.3,996.3 1200.3,1005.6 1201.3,995.0 1202.3,992.0 1203.3,998.5 1204.3,1002.7 1205.3,1006.4 1206.3,995.7 1207.3,1003.7 1208.3,1001.9 1209.3,1006.5 1210.3,1008.5 1211.3,994.8 1212.3,1003.6 1213.3,1007.9 1214.3,996.6 1215.3,1003.4 1216.3,1002.5 1217.3,998.0 1218.3,1006.9 1219.3,1011.8 1220.3,1012.3 1221.3,1004.2 1222.3,1011.4 1223.3,1015.7 1224.3,1004.2 1225.3,1008.4 1226.3,1019.0 1227.3,1013.8 1228.3,1003.3 1229.3,1011.9 1230.3,1004.7 1231.3,1009.3 1232.3,1002.2 1233.3,1003.3 1234.3,1008.1 1235.3,1017.4 1236.3,1011.6 1237.3,1002.9 1238.3,1006.8 1239.3,1005.6 1240.3,1011.8 1241.3,1008.7 1242.3,1012.4 1243.3,1004.8 1244.3,1006.6 1245.3,1014.9 1246.3,1013.9 1247.3,1022.9 1248.3,1021.9 1249.3,1022.1 1250.3,1006.0 1251.3,1012.2 1252.3,1020.1 1253.3,1020.3 1254.3,1019.0 1255.3,1009.7 1256.3,1002.2 1257.3,1007.3 1258.3,1008.1 1259.3,1013.2 1260.3,1005.4 1261.3,1008.0 1262.3,1017.8 1263.3,1018.8 1264.3,1010.3 1265.3,1011.5 1266.3,1006.4 1267.3,1011.1 1268.3,1004.5 1269.3,1018.7 1270.3,1009.0 1271.3,1013.9 1272.3,1009.4 1273.3,1009.1 1274.3,1006.3 1275.3,1015.0 1276.3,1007.9 1277.3,1003.0 1278.3,1007.5 1279.3,1000.9 1280.3,1002.0 1281.3,999.9 1282.3,1008.8 1283.3,1005.5 1284.3,1008.9 1285.3,1006.3 1286.3,997.9 1287.3,998.7 1288.3,1011.7 1289.3,1000.6 1290.3,999.4 1291.3,1006.2 1292.3,1006.3 1293.3,1015.7 1294.3,1002.0 1295.3,1004.1 1296.3,1008.0 1297.3,1004.1 1298.3,1013.5 1299.3,1014.4 1300.3,999.9 1301.3,1003.5 1302.3,1003.6 1303.3,1005.3 1304.3,1011.8 1305.3,1011.2 1306.3,1016.3 1307.3,1006.0 1308.3,1008.8 1309.3,1009.0 1310.3,1012.7 1311.3,997.8 1312.3,995.7 1313.3,1003.8 1314.3,997.5 1315.3,1005.9 1316.3,1007.5 1317.3,1006.3 1318.3,997.5 1319.3,1002.7 1320.3,994.5 1321.3,1010.0 1322.3,994.1 1323.3,996.1 1324.3,1004.3 1325.3,997.3 1326.3,995.6 1327.3,996.9 1328.3,990.2 1329.3,985.9 1330.3,988.9 1331.3,997.1 1332.3,998.1 1333.3,992.9 1334.3,995.5 1335.3,985.8 1336.3,987.2 1337.3,978.8 1338.3,988.5 1339.3,982.2 1340.3,992.2 1341.3,979.1 1342.3,976.3 1343.3,978.1 1344.3,989.5 1345.3,983.0 1346.3,989.7 1347.3,984.4 1348.3,988.0 1349.3,979.3 1350.3,989.2 1351.3,977.9 1352.3,989.6 1353.3,977.7 1354.3,976.1 1355.3,988.4 1356.3,978.3 1357.3,979.3 1358.3,990.5 1359.3,991.9 1360.3,1001.4 1361.3,993.4 1362.3,1008.6 1363.3,1011.9 1364.3,997.8 1365.3,994.4 1366.3,998.0 1367.3,996.5 1368.3,985.1 1369.3,983.9 1370.3,998.3 1371.3,993.5 1372.3,989.6 1373.3,985.4 1374.3,995.4 1375.3,986.5 1376.3,985.3 1377.4,983.2 1378.4,993.1 1379.4,987.0 1380.4,985.9 1381.4,985.4 1382.4,989.6 1383.4,982.5 1384.4,972.6 1385.4,975.5 1386.4,977.9 1387.4,980.1 1388.4,971.5 1389.4,982.0 1390.4,983.6 1391.4,976.2 1392.4,981.6 1393.4,982.2 1394.4,974.6 1395.4,976.4 1396.4,989.2 1397.4,986.6 1398.4,988.7 1399.4,988.7 1400.4,994.2 1401.4,998.4 1402.4,997.3 1403.4,1002.6 1404.4,1004.7 1405.4,996.3 1406.4,992.3 1407.4,986.6 1408.4,990.0 1409.4,981.7 1410.4,979.1 1411.4,989.4 1412.4,981.0 1413.4,990.7 1414.4,982.6 1415.4,986.7 1416.4,990.5 1417.4,977.9 1418.4,982.5 1419.4,982.2 1420.4,988.7 1421.4,985.1 1422.4,990.6 1423.4,988.7 1424.4,985.2 1425.4,1001.5 1426.4,1001.9 1427.4,994.2 1428.4,1008.1 1429.4,1004.0 1430.4,1002.8 1431.4,1013.3 1432.4,1012.2 1433.4,1007.5 1434.4,1013.6 1435.4,1011.8 1436.4,1008.1 1437.4,1010.7 1438.4,999.5 1439.4,1010.1 1440.4,1008.4 1441.4,1011.2 1442.4,1013.5 1443.4,1008.7 1444.4,1004.9 1445.4,1006.2 1446.4,997.9 1447.4,1011.6 1448.4,999.4 1449.4,1005.3 1450.4,1006.2 1451.4,1008.5 1452.4,1005.1 1453.4,1010.1 1454.4,1001.1 1455.4,1014.2 1456.4,1009.1 1457.4,997.6 1458.4,1005.5 1459.4,1009.5 1460.4,998.0 1461.4,1008.3 1462.4,1006.8 1463.4,1014.8 1464.4,1011.4 1465.4,1014.7 1466.4,1017.3 1467.4,1008.9 1468.4,1007.9 1469.4,1001.6 1470.4,1009.7 1471.4,1003.3 1472.4,998.9 1473.4,999.8 1474.4,1000.1 1475.4,999.7 1476.4,1000.7 1477.4,991.4 1478.4,987.1 1479.4,998.6 1480.4,1002.2 1481.4,997.3 1482.4,988.2 1483.4,990.0 1484.4,1003.5 1485.4,992.0 1486.4,999.2 1487.4,998.5 1488.4,998.1 1489.4,988.2 1490.4,998.1 1491.4,994.4 1492.4,996.0 1493.4,987.6 1494.4,995.8 1495.4,994.9 1496.4,998.9 1497.4,994.5 1498.4,985.8 1499.4,987.4 1500.4,987.4 1501.4,996.0 1502.4,990.9 1503.4,988.4 1504.4,994.6 1505.4,994.2 1506.4,996.9 1507.4,980.3 1508.4,983.4 1509.4,983.2 1510.4,987.3 1511.4,982.3 1512.4,990.5 1513.4,994.8 1514.4,994.8 1515.4,985.9 1516.4,985.5 1517.4,995.4 1518.4,998.0 1519.4,998.6 1520.4,998.5 1521.4,1001.3 1522.4,998.0 1523.4,1006.6 1524.4,1000.9 1525.4,996.2 1526.4,1008.1 1527.4,999.4 1528.4,998.7 1529.4,1013.2 1530.4,1008.0 1531.4,999.1 1532.4,999.7 1533.4,1013.0 1534.4,1007.9 1535.4,997.9 1536.4,1004.8 1537.4,1011.8 1538.4,1008.0 1539.4,1006.4 1540.4,1015.6 1541.4,1007.0 1542.4,1008.1 1543.4,1011.6 1544.4,1012.0 1545.4,1018.4 1546.4,1006.7 1547.4,1009.0 1548.4,1004.0 1549.4,994.6 1550.4,996.4 1551.4,993.0 1552.4,1001.2 1553.4,998.0 1554.4,996.8 1555.4,990.3 1556.4,1004.4 1557.4,995.5 1558.4,993.3 1559.4,1001.0 1560.4,1000.3 1561.4,1000.2 1562.4,1002.9 1563.4,996.0 1564.4,997.5 1565.4,994.4 1566.4,999.2 1567.4,994.1 1568.4,1005.4 1569.4,1000.2 1570.4,997.5 1571.4,1005.9 1572.4,1002.6 1573.4,1006.0 1574.4,997.6 1575.4,1013.5 1576.4,1012.0 1577.4,1008.1 1578.4,1006.8 1579.4,1007.8 1580.4,1012.0 1581.4,1014.5 1582.4,1007.0 1583.4,1003.9 1584.4,999.5 1585.4,1003.0 1586.4,999.7 1587.4,1009.6 1588.4,1014.7 1589.4,1008.8 1590.4,1017.0 1591.4,1014.5 1592.4,1004.5 1593.4,1007.7 1594.4,1006.9 1595.4,1000.3 1596.4,999.9 1597.4,1005.2 1598.4,1007.9 1599.5,1010.4 1600.5,1003.2 1601.5,1003.6 1602.5,1005.7 1603.5,1008.6 1604.5,995.7 1605.5,1001.1 1606.5,998.4 1607.5,998.0 1608.5,1005.0 1609.5,1002.9 1610.5,996.8 1611.5,1012.6 1612.5,1012.5 1613.5,1014.7 1614.5,1017.2 1615.5,1007.6 1616.5,1012.0 1617.5,1004.3 1618.5,1012.5 1619.5,1012.2 1620.5,1008.4 1621.5,1000.3 1622.5,1011.0 1623.5,1008.3 1624.5,1011.4 1625.5,1003.3 1626.5,1007.2 1627.5,1007.7 1628.5,996.6 1629.5,1003.2 1630.5,1004.2 1631.5,997.0 1632.5,999.6 1633.5,999.6 1634.5,1001.2 1635.5,1007.6 1636.5,999.4 1637.5,1003.4 1638.5,1014.6 1639.5,1015.7 1640.5,1010.4 1641.5,1012.3 1642.5,1013.3 1643.5,1017.9 1644.5,1007.7 1645.5,1015.1 1646.5,1000.5 1647.5,1005.2 1648.5,1001.2 1649.5,999.7 1650.5,990.1 1651.5,988.7 1652.5,993.1 1653.5,997.4 1654.5,1001.8 1655.5,991.5 1656.5,990.0 1657.5,993.9 1658.5,990.0 1659.5,1000.3 1660.5,1002.2 1661.5,995.3 1662.5,995.4 1663.5,997.1 1664.5,994.8 1665.5,999.5 1666.5,1006.5 1667.5,1006.9 1668.5,1002.8 1669.5,1012.7 1670.5,1016.2 1671.5,1010.7 1672.5,1020.7 1673.5,1011.5 1674.5,1006.5 1675.5,1022.5 1676.5,1015.0 1677.5,1012.7 1678.5,1009.4 1679.5,1017.1 1680.5,1022.2 1681.5,1022.1 1682.5,1021.4 1683.5,1015.1 1684.5,1009.2 1685.5,1008.6 1686.5,1017.7 1687.5,1002.5 1688.5,1005.7 1689.5,1005.7 1690.5,1013.6 1691.5,999.7 1692.5,997.2 1693.5,1002.3 1694.5,1001.2 1695.5,997.5 1696.5,997.3 1697.5,1002.2 1698.5,1006.0 1699.5,1000.1 1700.5,998.1 1701.5,997.3 1702.5,1000.6 1703.5,1000.0 1704.5,1006.9 1705.5,1004.9 1706.5,1006.0 1707.5,1016.6 1708.5,1017.0 1709.5,1017.8 1710.5,1007.0 1711.5,1007.5 1712.5,1017.9 1713.5,1005.1 1714.5,1008.8 1715.5,1010.6 1716.5,1019.6 1717.5,1011.3 1718.5,1004.8 1719.5,1010.1 1720.5,1007.5 1721.5,1010.4 1722.5,1017.2 1723.5,1017.1 1724.5,1018.1 1725.5,1003.5 1726.5,1005.3 1727.5,1011.1 1728.5,1017.4 1729.5,1006.9 1730.5,1015.4 1731.5,1014.8 1732.5,1019.6 1733.5,1008.5 1734.5,1010.5 1735.5,1016.8 1736.5,1012.1 1737.5,1010.7 1738.5,1011.1 1739.5,1011.3 1740.5,1016.5 1741.5,1019.6 1742.5,1007.4 1743.5,1017.4 1744.5,1009.8 1745.5,1016.0 1746.5,1015.4 1747.5,1018.5 1748.5,1013.1 1749.5,1004.4 1750.5,1009.2 1751.5,1015.7 1752.5,1011.4 1753.5,1017.9 1754.5,1019.0 1755.5,1004.3 1756.5,1010.1 1757.5,1012.6 1758.5,1014.8 1759.5,1007.6 1760.5,1010.6 1761.5,1007.2 1762.5,1016.8 1763.5,1008.9 1764.5,1019.9 1765.5,1023.2 1766.5,1022.0 1767.5,1013.8 1768.5,1011.5 1769.5,1010.0 1770.5,1015.6 1771.5,1009.2 1772.5,1001.4 1773.5,1009.6 1774.5,1008.5 1775.5,1012.8 1776.5,999.9 1777.5,1016.9 1778.5,1016.5 1779.5,1011.3 1780.5,1010.0 1781.5,1010.0 1782.5,1010.2 1783.5,1010.5 1784.5,1007.9 1785.5,1004.1 1786.5,1009.1 1787.5,1015.7 1788.5,1004.1 1789.5,1015.7 1790.5,1010.9 1791.5,1016.7 1792.5,1009.5 1793.5,1013.8 1794.5,1010.0 1795.5,1005.1 1796.5,1004.2 1797.5,1005.5 1798.5,997.5 1799.5,1015.0 1800.5,1012.8 1801.5,1007.6 1802.5,1009.3 1803.5,997.2 1804.5,1006.4 1805.5,1005.0 1806.5,1006.7 1807.5,1005.7 1808.5,995.7 1809.5,1003.4 1810.5,1011.0 1811.5,1004.2 1812.5,1008.4 1813.5,997.2 1814.5,1004.3 1815.5,1005.4 1816.5,993.1 1817.5,996.4 1818.5,995.0 1819.5,1005.6 1820.5,996.5 1821.6,999.6 1822.6,1008.2 1823.6,995.6 1824.6,995.1 1825.6,993.6 1826.6,999.0 1827.6,994.9 1828.6,994.8 1829.6,1001.9 1830.6,1003.0 1831.6,1001.7 1832.6,988.9 1833.6,998.7 1834.6,1002.0 1835.6,994.9 1836.6,999.7 1837.6,989.6 1838.6,997.5 1839.6,989.6 1840.6,1002.8 1841.6,991.5 1842.6,987.1 1843.6,988.4 1844.6,1003.7 1845.6,1003.5 1846.6,1001.2 1847.6,997.5 1848.6,992.4 1849.6,987.2 1850.6,987.0 1851.6,1002.5 1852.6,997.3 1853.6,986.9 1854.6,1003.5 1855.6,999.3 1856.6,996.2 1857.6,995.7 1858.6,1004.3 1859.6,997.3 1860.6,990.5 1861.6,989.9 1862.6,1006.0 1863.6,995.9 1864.6,1004.2 1865.6,1005.6 1866.6,993.7 1867.6,1008.6 1868.6,1006.2 1869.6,1003.6 1870.6,1001.7 1871.6,1012.3 1872.6,1004.9 1873.6,1001.6 1874.6,993.4 1875.6,1006.9 1876.6,1006.3 1877.6,992.1 1878.6,997.0 1879.6,1000.8 1880.6,990.5 1881.6,1003.5 1882.6,998.2 1883.6,994.9 1884.6,997.7 1885.6,1004.4 1886.6,1000.2 1887.6,1001.2 1888.6,1001.5 1889.6,1006.1 1890.6,1004.9 1891.6,999.8 1892.6,1005.4 1893.6,1004.2 1894.6,998.4 1895.6,1006.7 1896.6,1008.5 1897.6,998.9 1898.6,997.3 1899.6,998.4 1900.6,995.5 1901.6,1000.5 1902.6,998.9 1903.6,994.4 1904.6,999.3 1905.6,1005.1 1906.6,1002.8 1907.6,1010.6 1908.6,993.1 1909.6,994.5 1910.6,1006.2 1911.6,998.3 1912.6,997.4 1913.6,1001.0 1914.6,1002.4 1915.6,1001.6 1916.6,997.3 1917.6,990.6 1918.6,990.0 1919.6,1001.8 1920.6,1001.8 1921.6,991.0 1922.6,1004.8 1923.6,993.3 1924.6,993.4 1925.6,997.1 1926.6,1003.4 1927.6,1002.8 1928.6,1004.1 1929.6,1001.9 1930.6,1007.8 1931.6,995.9 1932.6,1008.2 1933.6,995.6 1934.6,994.9 1935.6,998.7 1936.6,1004.8 1937.6,1002.4 1938.6,1012.5 1939.6,1007.5 1940.6,1009.7 1941.6,1011.4 1942.6,1002.6 1943.6,1003.9 1944.6,1018.3 1945.6,1004.6 1946.6,1005.1 1947.6,1004.0 1948.6,1015.0 1949.6,1013.1 1950.6,1003.7 1951.6,1017.7 1952.6,1011.8 1953.6,1013.7 1954.6,1002.7 1955.6,1008.8 1956.6,1000.1 1957.6,1012.3 1958.6,1008.0 1959.6,1004.3 1960.6,1000.3 1961.6,1002.8 1962.6,1003.0 1963.6,1003.9 1964.6,999.0 1965.6,1011.6 1966.6,1009.2 1967.6,1010.9 1968.6,1000.8 1969.6,998.9 1970.6,997.8 1971.6,1009.5 1972.6,1001.2 1973.6,997.3 1974.6,1004.4 1975.6,998.9 1976.6,1010.0 1977.6,1008.0 1978.6,1003.2 1979.6,1004.3 1980.6,1012.0 1981.6,1010.2 1982.6,1008.6 1983.6,1002.4 1984.6,1001.7 1985.6,1011.5 1986.6,1006.7 1987.6,996.0 1988.6,1002.9 1989.6,999.8 1990.6,995.2 1991.6,1002.7 1992.6,997.2 1993.6,994.7 1994.6,1011.6 1995.6,1008.9 1996.6,1005.9 1997.6,997.7 1998.6,1007.3 1999.6,1010.5 2000.6,1004.9 2001.6,1005.4 2002.6,1009.1 2003.6,999.3 2004.6,1004.6 2005.6,999.8 2006.6,1000.7 2007.6,1010.0 2008.6,1011.2 2009.6,1000.0 2010.6,1000.8 2011.6,1006.6 2012.6,1001.0 2013.6,1005.2 2014.6,1006.7 2015.6,998.3 2016.6,993.0 2017.6,995.3 2018.6,1000.3 2019.6,1000.4 2020.6,994.7 2021.6,997.6 2022.6,995.7 2023.6,1002.9 2024.6,1002.6 2025.6,1000.2 2026.6,995.4 2027.6,1002.5 2028.6,991.8 2029.6,992.8 2030.6,996.4 2031.6,993.6 2032.6,1005.5 2033.6,1004.1 2034.6,1000.1 2035.6,997.6 2036.6,995.8 2037.6,995.9 2038.6,992.3 2039.6,991.9 2040.6,999.9 2041.6,1011.3 2042.6,996.7 2043.7,1001.2 2044.7,1001.3 2045.7,1005.4 2046.7,1001.5 2047.7,1002.4 2048.7,1006.3 2049.7,1004.9 2050.7,1006.6 2051.7,1011.8 2052.7,1017.7 2053.7,1017.9 2054.7,1016.9 2055.7,1001.6 2056.7,1006.0 2057.7,1009.3 2058.7,1008.3 2059.7,1002.1 2060.7,1003.4 2061.7,1007.3 2062.7,1004.4 2063.7,1000.3 2064.7,999.9 2065.7,1005.1 2066.7,1003.1 2067.7,1007.9 2068.7,1014.8 2069.7,1012.5 2070.7,1010.4 2071.7,1002.7 2072.7,1007.3 2073.7,1009.5 2074.7,1012.8 2075.7,1007.5 2076.7,1001.1 2077.7,1003.1 2078.7,1000.4 2079.7,1008.8 2080.7,1009.2 2081.7,1002.0 2082.7,1007.8 2083.7,1008.4 2084.7,1008.2 2085.7,1011.0 2086.7,1013.3 2087.7,1004.0 2088.7,1006.9 2089.7,998.4 2090.7,1001.7 2091.7,1008.7 2092.7,1010.8 2093.7,995.9 2094.7,1006.5 2095.7,999.7 2096.7,998.0 2097.7,999.3 2098.7,1001.9 2099.7,995.1 2100.7,1005.9 2101.7,997.2 2102.7,1009.5 2103.7,1004.7 2104.7,1000.4 2105.7,999.0 2106.7,998.6 2107.7,996.7 2108.7,998.4 2109.7,1010.4 2110.7,1005.2 2111.7,998.3 2112.7,1012.7 2113.7,998.0 2114.7,1003.5 2115.7,1009.5 2116.7,998.9 2117.7,1005.8 2118.7,1004.9 2119.7,1004.2 2120.7,1014.3 2121.7,1004.8 2122.7,1009.9 2123.7,1007.3 2124.7,1011.1 2125.7,997.3 2126.7,1001.4 2127.7,998.0 2128.7,1005.3 2129.7,997.6 2130.7,999.1 2131.7,1010.1 2132.7,998.0 2133.7,1001.6 2134.7,1000.3 2135.7,1005.2 2136.7,1007.6 2137.7,1015.0 2138.7,1011.8 2139.7,1012.4 2140.7,1015.4 2141.7,1016.3 2142.7,1008.6 2143.7,1008.6 2144.7,1010.8 2145.7,1009.2 2146.7,997.0 2147.7,998.6 2148.7,998.4 2149.7,1002.6 2150.7,992.9 2151.7,1001.5 2152.7,993.3 2153.7,999.2 2154.7,989.2" fill="none" stroke="#ece56a" stroke-width="9.0" stroke-linejoin="round" stroke-linecap="butt"/>
<polyline points="153.8,833.7 154.6,832.7 155.4,836.8 156.1,839.2 156.9,838.3 157.7,839.8 158.4,845.5 159.2,844.8 160.0,848.8 160.8,855.3 161.6,858.4 162.4,856.8 163.2,859.8 164.0,863.9 164.8,871.0 165.7,869.1 166.5,873.6 167.3,876.1 168.1,879.4 168.9,885.2 169.7,886.2 170.5,890.9 171.3,896.2 172.1,885.3 172.9,872.5 173.7,864.1 174.5,851.9 175.5,853.5 176.5,934.7 177.2,946.7 178.0,959.3 178.8,972.9 179.5,982.1 180.3,982.8 181.1,982.9 181.9,984.7 182.6,985.9 183.4,992.5 184.2,993.5 185.0,995.1 185.8,994.4 186.6,997.2 187.4,996.1 188.2,998.9 188.9,998.4 189.7,1001.8 190.5,1002.3 191.3,1002.9 192.1,1007.8 192.9,1002.2 193.6,1006.4 194.4,1005.3 195.2,1001.0 196.0,1003.1 196.7,1006.0 197.5,1005.6 198.3,1002.5 199.1,999.9 199.8,995.3 200.6,989.7 201.3,986.4 202.1,988.5 202.9,990.0 203.6,993.5 204.4,994.0 205.2,997.7 205.9,995.4 206.7,999.8 207.5,999.2 208.3,1004.5 209.2,1007.4 210.0,1006.7 210.8,1008.3 211.7,1010.1 212.5,1009.0 213.3,1011.5 214.2,1014.1 215.0,1016.0 215.8,1015.7 216.7,1017.8 217.5,1018.3 218.3,1019.4 219.2,1019.7 220.0,1017.1 220.8,1019.0 221.7,1019.7 222.5,1017.3 223.3,1019.8 224.2,1015.1 225.0,1018.6 225.8,1012.6 226.6,1012.4 227.3,1014.0 228.1,1007.7 228.9,1010.1 229.7,1010.5 230.5,1009.6 231.2,1006.7 232.0,1003.2 232.8,1001.8 233.6,1002.4 234.4,997.5 235.2,996.0 235.9,1000.1 236.7,997.2 237.5,992.9 238.3,994.3 239.2,993.0 240.0,996.3 240.8,992.2 241.7,994.6 242.5,994.4 243.3,991.3 244.2,990.5 245.0,991.8 245.8,990.9 246.7,991.9 247.5,990.0 248.4,992.8 249.2,990.2 250.1,988.2 250.9,992.1 251.8,992.6 252.6,991.1 253.4,992.2 254.3,996.3 255.1,998.8 255.9,994.9 256.8,1000.0 257.6,999.0 258.4,1000.8 259.3,1000.0 260.1,1001.3 260.9,1002.4 261.8,1003.4 262.6,999.4 263.4,997.6 264.3,1003.7 265.1,1002.1 265.9,998.6 266.7,993.7 267.5,991.3 268.3,994.9 269.1,990.3 269.8,990.3 270.6,987.8 271.4,985.5 272.2,983.8 273.0,978.3 273.8,976.2 274.6,978.2 275.4,981.2 276.2,982.3 277.0,982.9 277.7,982.6 278.5,982.8 279.3,981.9 280.1,985.8 280.9,989.1 281.8,991.7 282.6,996.6 283.4,1001.6 284.3,1004.9 285.1,1003.0 285.9,1004.1 286.7,1006.2 287.6,1006.7 288.4,1004.1 289.2,1008.3 290.0,1005.2 290.9,1007.2 291.7,1002.6 292.5,1004.1 293.3,1002.4 294.2,1007.4 295.0,1005.6 295.8,1008.4 296.6,1000.6 297.3,993.3 298.1,988.0 298.8,982.5 299.6,975.9 300.4,959.7 301.3,947.6 302.1,929.8 303.1,930.7 303.9,936.9 304.7,938.6 305.5,944.2 306.3,948.0 307.1,952.5 307.8,963.0 308.6,967.6 309.3,977.9 310.1,984.3 310.8,996.2 311.6,994.5 312.4,999.5 313.2,997.1 313.9,998.9 314.7,998.7 315.5,1001.3 316.3,1001.2 317.1,1001.5 317.9,998.3 318.7,999.7 319.5,1004.3 320.2,1002.9 321.0,1007.2 321.8,1005.7 322.6,1007.6 323.4,1006.7 324.3,1007.7 325.1,1005.4 325.9,1006.8 326.8,1003.1 327.6,1001.7 328.4,1000.4 329.3,1000.9 330.1,1004.6 330.9,1003.9 331.8,1000.7 332.6,1001.4 333.4,1004.9 334.3,1006.2 335.1,1005.8 335.9,1004.4 336.8,1006.7 337.6,1011.4 338.4,1008.9 339.3,1007.9 340.1,1002.9 340.9,1003.9 341.8,999.3 342.6,998.5 343.4,1001.1 344.3,994.8 345.1,993.8 345.9,993.0 346.7,996.9 347.5,995.4 348.3,994.5 349.1,995.9 349.9,993.2 350.6,995.8 351.4,994.6 352.2,991.3 353.0,990.6 353.8,992.2 354.6,991.4 355.4,986.6 356.1,978.6 356.9,971.6 357.6,964.1 358.4,965.8 359.3,969.5 360.1,973.2 360.9,974.0 361.8,976.9 362.6,976.1 363.4,977.4 364.2,981.5 365.0,984.5 365.8,987.4 366.6,987.8 367.4,990.2 368.1,989.3 368.9,991.1 369.7,993.6 370.5,996.9 371.3,998.4 372.1,999.8 372.9,993.3 373.6,985.5 374.4,980.8 375.1,973.7 375.9,968.9 376.6,961.8 377.4,953.3 378.1,949.4 378.9,945.4 379.7,946.8 380.4,949.0 381.2,948.3 382.0,949.7 382.8,950.1 383.6,954.1 384.3,954.6 385.1,956.8 385.9,954.3 386.7,953.1 387.5,955.0 388.2,958.0 389.0,955.9 389.8,954.9 390.6,951.2 391.4,953.2 392.1,963.1 392.9,975.2 393.6,984.1 394.4,985.4 395.2,980.7 396.1,982.4 396.9,976.8 397.7,976.6 398.5,978.5 399.3,977.3 400.1,974.1 401.0,972.7 401.8,972.9 402.6,971.0 403.4,986.2 404.1,1008.6 404.9,1005.9 405.7,1004.2 406.6,1005.5 407.4,1004.7 408.2,1006.0 409.0,1004.9 409.8,1004.7 410.6,1007.0 411.4,1004.3 412.3,1007.6 413.1,1007.1 413.9,1008.3 414.7,1004.8 415.4,1010.9 416.2,1011.4 417.0,1009.6 417.8,1015.8 418.6,1014.7 419.3,1014.1 420.1,1015.8 420.9,1020.9 421.7,1019.6 422.4,1016.0 423.2,1020.2 424.0,1014.7 424.8,1019.0 425.6,1018.6 426.4,1020.1 427.1,1020.3 427.9,1019.2 428.7,1019.9 429.5,1017.5 430.3,1020.5 431.0,1017.3 431.8,1019.2 432.6,1019.3 433.4,1017.1 434.2,1019.7 434.9,1019.1 435.7,1015.5 436.5,1018.3 437.3,1017.6 438.1,1018.3 438.9,1014.7 439.6,1019.0 440.4,1017.0 441.2,1019.2 442.0,1016.0 442.8,1014.6 443.5,1017.5 444.3,1018.6 445.1,1019.5 445.9,1018.1 446.6,1020.4 447.4,1016.0 448.2,1015.9 449.0,1017.9 449.7,1019.6 450.5,1020.5 451.3,1016.2 452.1,1019.7 452.8,1018.3 453.6,1019.6 454.4,1004.7 455.2,992.9 456.0,996.9 456.8,995.8 457.5,1000.8 458.3,998.6 459.1,998.5 459.8,998.3 460.6,1001.4 461.4,1002.2 462.2,999.6 462.9,1003.2 463.7,999.3 464.5,1000.1 465.3,998.6 466.0,998.6 466.8,992.9 467.6,997.5 468.4,994.2 469.1,990.5 469.9,992.3 470.7,975.0 471.4,963.5 472.2,947.5 473.0,915.4 473.9,886.2 474.7,857.0 475.7,856.5 476.5,880.1 477.4,901.7 478.2,923.2 479.0,923.3 479.8,925.9 480.6,920.9 481.4,923.7 482.2,924.1 482.9,921.0 483.7,926.8 484.5,925.9 485.3,924.0 486.1,927.2 486.9,925.5 487.7,927.3 488.5,928.5 489.4,932.8 490.2,932.8 491.0,932.5 491.9,939.1 492.7,938.0 493.5,935.2 494.4,932.5 495.2,926.1 496.0,916.9 496.9,916.9 497.7,912.7 498.5,904.5 499.4,898.1 500.2,894.5 501.0,892.6 501.9,887.2 502.7,890.0 503.5,886.4 504.4,882.6 505.2,882.9 506.0,878.4 506.8,882.5 507.5,881.9 508.3,879.0 509.1,876.2 509.8,877.9 510.6,875.3 511.4,877.7 512.2,872.4 513.0,872.2 513.8,868.8 514.6,865.6 515.4,864.5 516.2,861.6 516.9,861.1 517.7,855.6 518.5,853.8 519.3,852.1 520.1,845.8 520.9,845.5 521.7,840.6 522.5,832.2 523.2,821.9 524.0,814.1 524.7,804.1 525.5,782.6 526.4,768.8 527.2,748.4 528.2,747.6 529.0,766.0 529.9,780.2 530.7,800.5 531.5,799.6 532.3,793.5 533.1,799.0 533.9,797.8 534.7,792.4 535.5,795.2 536.2,793.9 537.0,790.8 537.8,793.7 538.6,788.7 539.4,790.3 540.2,790.7 541.0,803.0 541.7,810.9 542.5,820.5 543.2,832.1 544.0,831.4 544.8,829.3 545.6,826.2 546.4,829.8 547.2,824.6 548.0,823.3 548.8,822.4 549.6,826.0 550.4,819.2 551.2,821.5 552.0,820.0 552.8,816.6 553.6,819.0 554.4,814.0 555.2,812.4 556.0,797.2 556.9,786.5 557.7,767.9 558.5,756.8 559.5,757.1 560.4,791.7 561.2,835.3 562.0,840.4 562.7,852.0 563.5,865.4 564.2,872.4 565.0,898.2 565.7,920.3 566.5,921.6 567.3,920.1 568.1,920.4 568.9,922.7 569.7,924.6 570.5,921.7 571.3,923.1 572.1,925.2 573.0,924.8 573.8,930.2 574.6,932.6 575.4,930.6 576.2,930.4 577.0,932.0 577.8,935.8 578.6,935.8 579.4,935.7 580.2,937.2 581.0,939.7 581.9,938.6 582.7,936.7 583.5,941.9 584.4,937.2 585.2,938.6 586.0,939.7 586.9,941.7 587.7,943.7 588.5,949.6 589.3,950.3 590.1,958.6 591.0,963.7 591.8,967.2 592.6,971.2 593.4,973.9 594.2,977.5 595.1,954.9 596.0,935.6 597.0,934.5 597.9,952.7 598.7,968.1 599.5,970.4 600.3,963.4 601.1,957.9 601.9,954.6 602.7,953.2 603.5,947.4 604.5,951.2 605.4,971.4 606.2,996.0 607.0,994.5 607.8,995.3 608.6,998.9 609.5,996.6 610.3,999.9 611.1,998.9 611.9,999.7 612.7,1000.1 613.5,999.4 614.3,998.3 615.1,1001.1 616.0,997.4 616.8,999.2 617.6,1003.2 618.4,1003.9 619.2,999.0 620.0,999.6 620.7,993.1 621.5,987.2 622.2,987.4 623.0,932.1 623.9,876.8 624.7,828.0 625.7,822.5 626.5,885.6 627.4,944.6 628.2,1003.6 629.0,1003.5 629.8,1003.9 630.5,1004.9 631.3,1009.9 632.1,1009.8 632.9,1008.3 633.6,1014.1 634.4,1015.8 635.2,1017.8 636.0,1015.5 636.8,1016.5 637.6,1015.7 638.4,1016.6 639.2,1013.0 640.0,1012.3 640.7,1016.0 641.5,1012.0 642.3,1010.2 643.1,1014.1 643.9,1014.5 644.7,1014.7 645.5,1009.7 646.4,998.1 647.2,997.9 648.2,993.7 649.0,998.5 649.9,1005.2 650.7,1009.8 651.5,1008.9 652.4,1009.5 653.2,1011.7 654.0,1008.2 654.9,1012.4 655.7,1007.2 656.5,1008.2 657.3,1007.5 658.2,1006.9 659.0,1005.8 659.8,1009.9 660.6,1008.0 661.4,1009.1 662.2,1009.3 663.1,1015.4 663.9,1012.0 664.7,1014.5 665.5,1017.7 666.3,1005.7 667.0,999.3 667.8,992.0 668.6,993.5 669.5,993.8 670.3,996.4 671.1,999.3 672.0,999.6 672.8,999.5 673.6,1000.6 674.5,1006.6 675.3,1004.8 676.1,994.0 676.9,985.0 677.7,977.5 678.5,969.7 679.5,968.4 680.3,976.2 681.2,982.6 682.0,990.0 682.8,991.3 683.6,987.7 684.3,985.8 685.1,986.8 685.9,985.8 686.7,983.7 687.4,979.9 688.2,979.8 689.0,977.8 689.8,983.0 690.5,991.5 691.3,996.8 692.0,1002.6 692.8,1006.2 693.6,1006.7 694.4,1003.5 695.1,1003.0 695.9,1000.8 696.7,993.1 697.5,995.4 698.2,989.4 699.0,984.3 699.8,986.3 700.8,986.7 701.6,991.8 702.4,992.9 703.2,1001.8 704.0,1008.3 704.8,1006.9 705.7,1001.5 706.5,1003.0 707.3,997.3 708.2,999.5 709.0,996.6 709.8,995.2 710.7,993.7 711.5,991.5 712.3,998.8 713.0,1005.2 713.8,1017.3 714.6,1011.5 715.3,1010.1 716.1,1012.7 716.9,1010.4 717.6,1012.2 718.4,1005.3 719.2,1006.4 720.0,1002.9 720.7,1005.4 721.5,1005.0 722.3,1002.8 723.2,995.0 724.0,996.6 724.8,993.1 725.7,988.8 726.5,988.0 727.3,986.5 728.2,984.0 729.0,981.3 729.8,985.3 730.5,991.1 731.2,995.8 732.0,1001.1 732.8,1005.3 733.6,1003.4 734.5,1003.8 735.3,1000.0 736.1,1002.5 736.9,1005.5 737.7,1001.9 738.5,1001.3 739.3,1003.3 740.2,1002.6 741.0,1005.7 741.8,1004.4 742.6,979.9 743.5,951.9 744.5,949.3 745.4,963.2 746.3,973.3 747.0,990.5 747.8,1007.4 748.5,1023.7 749.3,1022.1 750.1,1017.1 750.9,1018.6 751.7,1012.1 752.5,1012.7 753.3,1006.7 754.1,1011.0 754.9,1007.1 755.7,1001.1 756.5,1005.1 757.3,1001.7 758.1,998.9 758.9,998.2 759.6,999.9 760.4,998.3 761.2,991.9 762.0,991.3 762.8,989.6 763.6,988.3 764.4,988.5 765.2,990.9 766.0,990.9 766.7,991.3 767.5,991.2 768.3,989.9 769.1,991.0 769.9,992.9 770.6,1006.8 771.4,1011.2 772.1,1021.1 772.9,1017.5 773.7,1016.1 774.6,1012.9 775.4,1007.1 776.2,1007.0 777.0,1001.4 777.8,1004.2 778.6,1000.8 779.5,995.5 780.3,993.1 781.1,990.6 782.1,989.3 782.9,997.7 783.8,1004.5 784.6,1008.0 785.4,1007.4 786.2,1009.0 786.9,1006.8 787.7,1002.1 788.5,1001.5 789.3,1004.6 790.0,1001.8 790.8,997.5 791.6,998.4 792.4,995.6 793.1,995.0 793.9,994.2 794.7,991.4 795.5,987.0 796.2,984.9 797.0,982.7 797.8,981.1 798.5,987.8 799.3,994.2 800.0,999.6 800.8,1007.1 801.6,1002.0 802.4,1001.5 803.2,1000.6 803.9,1003.2 804.7,1001.9 805.5,999.2 806.3,1001.4 807.1,996.7 807.9,999.9 808.7,998.9 809.5,993.3 810.2,995.6 811.0,994.4 811.8,991.0 812.6,990.1 813.4,966.8 814.1,946.0 814.9,925.9 815.6,900.6 816.5,854.9 817.3,803.7 818.3,805.8 819.2,852.1 820.1,902.3 820.8,932.6 821.6,961.6 822.3,990.3 823.1,989.9 823.8,991.3 824.6,994.8 825.4,995.3 826.2,993.2 827.0,998.2 827.7,995.1 828.5,996.4 829.3,1001.9 830.0,999.8 830.8,1000.7 831.6,1003.0 832.4,1002.4 833.3,1001.7 834.1,1006.2 834.9,1004.6 835.8,1004.0 836.6,1004.0 837.4,1005.3 838.3,1007.2 839.1,1004.8 839.9,1004.6 840.6,1004.7 841.4,1010.6 842.2,1012.1 843.0,1011.8 843.8,1011.3 844.5,1012.5 845.3,1013.3 846.1,1008.4 847.0,1008.9 847.8,1008.2 848.6,1005.9 849.5,1006.9 850.3,1008.3 851.1,1006.1 852.0,1002.3 852.8,1001.8 853.6,1001.6 854.4,996.4 855.2,991.6 856.0,990.7 856.7,984.8 857.5,985.8 858.3,980.1 859.1,977.0 859.8,977.7 860.6,971.7 861.3,971.5 862.1,968.5 862.8,967.3 863.6,977.3 864.3,991.1 865.1,1000.2 865.9,997.2 866.7,997.2 867.5,997.8 868.4,1000.0 869.2,1001.8 870.0,1003.8 870.8,1001.6 871.6,999.9 872.4,998.8 873.2,1001.5 874.0,1001.6 874.8,1001.9 875.6,996.9 876.4,995.9 877.1,995.5 877.9,997.4 878.7,998.7 879.5,995.3 880.3,994.0 881.1,992.8 881.9,970.8 882.6,945.2 883.4,923.4 884.1,911.8 884.9,902.6 885.6,889.1 886.5,876.1 887.4,860.1 888.4,861.1 889.2,879.3 890.1,899.4 890.9,944.7 891.6,992.6 892.4,990.7 893.3,985.0 894.1,981.5 894.9,977.9 895.8,977.1 896.6,969.8 897.4,964.4 898.2,963.0 899.1,959.1 899.9,955.1 900.9,956.1 901.7,974.5 902.6,992.5 903.4,1002.3 904.2,1003.0 904.9,1003.2 905.7,1006.2 906.5,1003.1 907.2,1002.9 908.0,1004.2 908.8,1001.5 909.5,1003.3 910.3,999.9 911.1,1001.2 911.8,1004.7 912.6,1002.2 913.4,986.5 914.1,967.8 914.9,950.5 915.6,938.4 916.5,918.0 917.4,898.7 918.4,900.3 919.2,923.3 920.1,944.7 920.9,971.0 921.6,1004.7 922.4,1000.5 923.2,999.1 924.0,996.8 924.8,1001.0 925.6,997.6 926.4,996.7 927.2,997.1 928.0,993.2 928.8,993.1 929.6,991.9 930.4,991.7 931.2,992.5 932.0,996.4 932.7,996.9 933.5,1000.2 934.3,1002.4 935.0,1004.7 935.8,1002.5 936.6,1006.4 937.4,1004.8 938.2,1004.8 939.0,999.1 939.8,999.4 940.5,998.0 941.3,995.3 942.1,992.6 942.9,992.0 943.7,992.5 944.5,994.9 945.2,996.1 946.0,998.3 946.8,1002.6 947.5,1005.0 948.3,1006.3 949.1,1007.7 949.9,1004.2 950.6,1009.5 951.4,1011.0 952.1,1013.5 952.9,1013.8 953.6,1017.8 954.4,1014.8 955.1,1021.4 955.9,1007.4 956.6,991.7 957.4,994.0 958.2,994.7 959.0,999.4 959.8,1001.9 960.5,1000.2 961.3,1004.7 962.1,1004.6 962.9,1012.0 963.7,1009.4 964.6,1009.0 965.4,1005.8 966.2,1006.3 967.1,1001.5 967.9,1001.9 968.7,1001.6 969.6,1002.1 970.4,997.6 971.2,996.3 972.1,1000.0 972.9,999.2 973.7,999.7 974.6,1000.6 975.4,1005.5 976.2,1003.5 977.1,1003.7 977.9,1004.3 978.7,1004.8 979.5,1002.9 980.3,1002.6 981.0,1002.1 981.8,1001.2 982.6,996.8 983.4,996.5 984.2,997.2 985.0,996.3 985.8,992.1 986.7,994.2 987.5,993.0 988.3,994.2 989.1,991.5 989.9,993.5 990.8,992.7 991.6,992.8 992.4,992.8 993.2,983.8 994.1,976.3 994.9,968.2 995.9,971.9 996.7,981.4 997.6,985.2 998.4,994.3 999.2,993.3 999.9,998.5 1000.7,997.8 1001.5,1000.0 1002.3,997.5 1003.0,996.6 1003.8,998.7 1004.6,998.0 1005.3,998.8 1006.1,1001.7 1006.9,1000.8 1007.7,999.1 1008.4,1000.5 1009.2,1004.1 1010.0,995.4 1010.8,989.6 1011.6,981.8 1012.4,969.7 1013.4,971.4 1014.2,982.5 1015.1,989.1 1015.9,998.3 1016.7,1001.1 1017.6,999.1 1018.4,998.9 1019.2,1000.8 1020.0,1003.1 1020.9,1005.3 1021.7,1002.9 1022.5,1004.5 1023.4,1009.2 1024.2,1010.6 1025.0,1009.1 1025.8,1009.0 1026.6,1006.6 1027.4,1009.3 1028.2,1003.8 1029.0,1007.5 1029.7,1006.3 1030.5,1006.1 1031.3,1006.8 1032.1,1001.8 1032.9,1001.7 1033.7,1001.9 1034.5,986.3 1035.4,974.0 1036.2,960.5 1037.2,959.5 1038.0,968.3 1038.9,970.3 1039.7,979.2 1040.5,978.3 1041.3,975.5 1042.0,978.1 1042.8,977.1 1043.6,971.3 1044.4,971.8 1045.1,972.8 1045.9,973.8 1046.7,972.4 1047.4,983.5 1048.2,995.3 1048.9,1005.6 1049.7,1006.7 1050.5,1000.0 1051.2,1002.3 1052.0,1000.2 1052.8,998.7 1053.6,995.3 1054.4,994.5 1055.1,995.0 1055.9,993.3 1056.7,991.7 1057.5,993.1 1058.2,992.9 1059.0,995.8 1059.8,999.2 1060.6,998.9 1061.4,1002.2 1062.1,997.6 1062.9,1004.8 1063.7,1002.9 1064.5,1004.2 1065.3,1006.8 1066.1,1004.0 1066.8,1007.4 1067.6,1009.1 1068.4,1011.0 1069.2,1009.3 1070.0,1006.1 1070.9,1003.7 1071.7,1000.7 1072.5,1000.3 1073.4,997.2 1074.2,1001.3 1075.0,1001.0 1075.9,1003.3 1076.7,1001.9 1077.5,1000.0 1078.4,1000.6 1079.2,1005.3 1080.0,1006.2 1080.9,1002.3 1081.7,1006.7 1082.5,1004.9 1083.4,1003.7 1084.2,1004.8 1085.0,1006.4 1085.9,1004.9 1086.7,1010.2 1087.5,1010.3 1088.4,1009.1 1089.2,1007.0 1090.0,1011.5 1090.9,1011.7 1091.7,1014.1 1092.5,1016.4 1093.4,1016.6 1094.2,1017.9 1095.0,1015.4 1095.9,1013.3 1096.7,1007.0 1097.5,1007.3 1098.4,1003.9 1099.2,999.9 1100.0,1002.0 1100.9,1002.4 1101.7,1000.8 1102.5,996.2 1103.4,996.4 1104.2,998.9 1105.0,994.4 1105.9,994.9 1106.7,993.5 1107.5,992.7 1108.4,993.0 1109.2,991.3 1110.0,993.8 1110.9,994.4 1111.7,996.7 1112.5,996.8 1113.4,1000.6 1114.2,1000.8 1115.0,1004.2 1115.9,1004.6 1116.7,1008.0 1117.5,1003.5 1118.4,1000.6 1119.2,998.1 1120.0,999.8 1120.9,998.6 1121.7,996.6 1122.5,993.4 1123.4,993.6 1124.2,992.1 1125.0,993.3 1125.8,994.8 1126.6,995.1 1127.3,1000.9 1128.1,999.5 1128.9,998.9 1129.7,1002.1 1130.5,1003.2 1131.3,1008.7 1132.1,1008.3 1132.9,1009.0 1133.7,1005.0 1134.5,1004.3 1135.2,1005.8 1136.0,1008.9 1136.8,1006.4 1137.6,1007.5 1138.4,1009.5 1139.2,1008.7 1140.0,1004.6 1140.9,1003.8 1141.7,1001.6 1142.5,1001.5 1143.4,996.6 1144.2,995.5 1145.0,993.4 1145.9,992.0 1146.7,990.8 1147.5,989.9 1148.3,991.0 1149.1,993.0 1149.8,993.5 1150.6,996.1 1151.4,997.0 1152.2,993.4 1153.0,993.8 1153.7,997.7 1154.5,997.6 1155.2,998.8 1156.0,1005.9 1156.7,1002.4 1157.5,1002.0 1158.4,1005.6 1159.2,1003.4 1160.0,1002.2 1160.9,999.7 1161.7,998.9 1162.5,998.3 1163.4,996.3 1164.2,996.5 1165.0,994.7 1165.9,992.5 1166.7,992.1 1167.5,993.0 1168.3,994.0 1169.1,995.9 1169.8,999.3 1170.6,999.6 1171.4,999.1 1172.2,1001.0 1173.0,1001.2 1173.8,1004.3 1174.7,1001.6 1175.5,1005.0 1176.3,1002.4 1177.2,1006.5 1178.0,1005.8 1178.8,1001.9 1179.7,1003.1 1180.5,1004.2 1181.3,1004.7 1182.2,1005.5 1183.0,1005.9 1183.8,1006.8 1184.7,1003.9 1185.5,1001.3 1186.3,1004.7 1187.2,999.5 1188.0,1001.2 1188.8,998.3 1189.7,1003.8 1190.5,1001.1 1191.3,998.8 1192.2,999.0 1193.0,996.2 1193.8,994.8 1194.6,994.2 1195.4,992.8 1196.2,993.7 1197.0,993.4 1197.8,993.7 1198.7,991.3 1199.5,992.5 1200.3,988.6 1201.1,987.7 1201.9,987.9 1202.7,986.9 1203.5,985.5 1204.3,984.4 1205.1,987.6 1205.8,988.2 1206.6,990.4 1207.4,994.6 1208.2,998.4 1209.0,998.0 1209.7,1000.9 1210.5,1001.3 1211.3,999.1 1212.2,1003.3 1213.0,1001.2 1213.8,999.1 1214.7,1001.2 1215.5,997.7 1216.3,996.1 1217.2,994.1 1218.0,993.0 1218.8,999.0 1219.6,1002.2 1220.4,999.3 1221.2,1001.4 1221.9,1007.9 1222.7,1005.6 1223.5,1010.9 1224.3,1015.4 1225.1,1008.0 1226.0,1006.4 1226.8,1009.1 1227.6,1003.7 1228.5,1003.3 1229.3,1003.7 1230.1,1000.2 1231.0,997.0 1231.8,998.3 1232.6,995.4 1233.5,992.6 1234.3,992.1 1235.1,993.4 1235.8,995.7 1236.6,999.8 1237.4,1001.8 1238.2,1005.2 1239.0,1005.6 1239.7,1009.9 1240.5,1006.7 1241.3,1010.6 1242.2,1010.7 1243.0,1011.3 1243.8,1014.2 1244.7,1015.4 1245.5,1011.1 1246.3,1015.4 1247.2,1014.0 1248.0,1014.2 1248.8,1014.7 1249.7,1012.7 1250.5,1016.3 1251.3,1014.5 1252.2,1014.6 1253.0,1009.7 1253.8,1010.3 1254.7,1008.8 1255.5,1010.5 1256.3,1006.1 1257.2,1007.5 1258.0,1005.1 1258.8,1002.4 1259.7,1003.1 1260.5,1000.6 1261.3,999.5 1262.2,997.0 1263.0,995.5 1263.8,996.3 1264.6,1000.0 1265.4,999.7 1266.2,1003.6 1266.9,1002.6 1267.7,1006.2 1268.5,1006.4 1269.3,1011.3 1270.1,1012.4 1270.9,1007.5 1271.7,1012.8 1272.5,1013.0 1273.3,1013.3 1274.2,1009.1 1275.0,1009.0 1275.8,1013.3 1276.6,1011.7 1277.4,1012.6 1278.2,1014.1 1279.0,1010.9 1279.8,1002.4 1280.5,989.6 1281.3,977.8 1282.1,968.8 1283.0,966.0 1283.8,961.5 1284.8,958.4 1285.7,978.3 1286.6,988.9 1287.3,995.7 1288.1,1003.2 1288.8,1004.6 1289.6,1007.1 1290.4,1008.2 1291.2,1010.0 1292.0,1007.0 1292.8,1009.5 1293.6,1004.8 1294.4,1003.8 1295.2,1007.4 1296.0,1006.5 1296.7,1003.4 1297.5,1001.5 1298.3,1003.6 1299.1,1000.3 1299.9,1002.4 1300.7,999.5 1301.5,999.4 1302.3,999.8 1303.1,998.2 1303.9,999.0 1304.7,999.7 1305.5,1002.4 1306.3,1002.1 1307.1,1003.9 1307.9,1002.8 1308.8,1006.1 1309.6,1007.3 1310.4,1005.3 1311.2,1007.9 1312.0,1010.6 1312.8,1009.1 1313.6,1005.5 1314.4,997.1 1315.2,996.1 1316.0,992.5 1316.8,984.3 1317.6,983.9 1318.6,979.4 1319.4,985.1 1320.3,993.0 1321.1,999.2 1321.9,1003.1 1322.7,1000.5 1323.5,1000.0 1324.3,1000.6 1325.1,994.5 1325.9,996.0 1326.7,994.2 1327.5,994.4 1328.3,992.8 1329.1,989.8 1329.9,989.7 1330.7,988.8 1331.5,992.1 1332.3,986.7 1333.1,988.1 1333.9,987.7 1334.7,987.5 1335.4,984.3 1336.2,985.4 1337.0,988.8 1337.8,985.0 1338.6,985.3 1339.3,985.0 1340.1,983.5 1340.9,981.2 1341.7,983.9 1342.5,985.9 1343.3,985.0 1344.0,981.1 1344.8,981.7 1345.6,979.5 1346.4,981.5 1347.2,982.8 1347.9,981.4 1348.7,978.7 1349.5,979.6 1350.3,977.6 1351.1,979.8 1351.8,979.1 1352.6,977.4 1353.4,981.3 1354.2,980.4 1355.0,979.0 1355.8,978.7 1356.5,977.2 1357.3,980.0 1358.1,979.9 1358.8,986.3 1359.6,992.7 1360.3,1002.0 1361.1,1008.4 1361.9,1008.5 1362.7,1002.0 1363.5,1005.6 1364.3,1003.5 1365.1,1002.1 1365.8,994.1 1366.6,995.0 1367.4,991.8 1368.2,989.9 1369.0,989.5 1369.8,989.1 1370.6,985.2 1371.4,986.8 1372.3,987.7 1373.1,984.5 1373.9,982.9 1374.8,985.2 1375.6,986.6 1376.4,984.2 1377.3,988.0 1378.1,987.5 1378.9,987.7 1379.8,985.3 1380.6,991.3 1381.4,982.5 1382.3,980.6 1383.1,982.5 1383.9,980.2 1384.8,976.8 1385.6,974.5 1386.4,966.5 1387.3,969.7 1388.1,966.5 1388.9,964.1 1389.6,964.4 1390.4,960.3 1391.1,961.8 1391.9,960.1 1392.7,962.8 1393.6,963.5 1394.4,968.5 1395.2,966.8 1396.1,968.2 1396.9,971.3 1397.6,979.6 1398.4,982.4 1399.1,991.7 1399.9,1001.7 1400.6,1003.8 1401.4,1004.9 1402.2,1007.3 1403.0,1005.7 1403.8,1003.7 1404.6,1003.1 1405.4,999.5 1406.2,998.4 1407.0,1004.1 1407.8,999.9 1408.6,998.2 1409.4,998.2 1410.2,1001.1 1410.9,986.7 1411.7,977.0 1412.4,961.1 1413.1,955.5 1413.9,942.6 1414.6,933.7 1415.6,934.3 1416.3,943.0 1417.0,959.2 1417.7,970.4 1418.5,975.5 1419.2,980.3 1420.0,988.8 1420.7,988.5 1421.5,992.3 1422.4,991.3 1423.2,995.3 1424.0,994.2 1424.8,997.5 1425.7,1001.5 1426.5,1002.1 1427.3,998.6 1428.1,1001.6 1429.0,1000.6 1429.8,1002.5 1430.6,1007.2 1431.4,1007.0 1432.3,1006.0 1433.1,1009.2 1433.9,1011.1 1434.8,1006.6 1435.6,1008.2 1436.4,1007.8 1437.3,1004.4 1438.1,1010.1 1438.9,1004.7 1439.8,1004.8 1440.6,1004.2 1441.4,1007.5 1442.3,1006.7 1443.1,1003.4 1443.9,1002.7 1444.8,1005.6 1445.6,1003.5 1446.4,1006.8 1447.3,1002.5 1448.1,1003.3 1448.9,1004.3 1449.8,1006.0 1450.6,1007.9 1451.4,1007.6 1452.2,1005.1 1453.1,1003.7 1453.9,1004.4 1454.7,1001.3 1455.5,1004.7 1456.3,1003.2 1457.1,1002.5 1458.0,1003.4 1458.8,1004.5 1459.6,999.5 1460.5,994.6 1461.4,985.2 1462.4,986.8 1463.2,998.5 1464.1,1015.8 1464.9,1016.1 1465.7,1011.6 1466.6,1010.3 1467.4,1011.3 1468.2,1007.8 1469.0,1001.8 1469.8,1005.8 1470.6,1003.8 1471.5,999.1 1472.3,998.8 1473.1,992.8 1473.9,996.3 1474.7,997.0 1475.5,996.2 1476.2,991.8 1477.0,993.5 1477.8,996.8 1478.6,995.1 1479.4,994.0 1480.2,993.0 1481.0,993.3 1481.8,991.7 1482.5,994.5 1483.3,991.2 1484.1,994.3 1484.9,991.7 1485.7,993.4 1486.5,991.4 1487.4,990.7 1488.2,989.9 1489.0,994.2 1489.9,990.9 1490.7,993.6 1491.5,996.5 1492.4,995.2 1493.2,996.9 1494.0,996.2 1494.9,992.5 1495.7,994.5 1496.5,996.4 1497.3,990.0 1498.1,990.3 1498.9,990.1 1499.7,988.9 1500.4,988.9 1501.2,986.9 1502.0,987.1 1502.8,986.8 1503.6,985.5 1504.4,979.5 1505.2,980.7 1506.0,980.9 1506.8,984.9 1507.6,986.9 1508.3,987.6 1509.1,988.4 1509.9,985.0 1510.7,988.8 1511.5,984.7 1512.2,987.6 1513.0,983.7 1513.8,986.3 1514.6,983.2 1515.4,983.6 1516.1,983.0 1516.9,982.0 1517.7,989.6 1518.4,990.7 1519.2,997.6 1519.9,1001.6 1520.7,1001.0 1521.6,1002.4 1522.4,1004.3 1523.2,1001.8 1524.1,1003.0 1524.9,1001.5 1525.7,1001.5 1526.5,1001.6 1527.4,1001.4 1528.2,1004.1 1529.0,1007.9 1529.9,1003.7 1530.7,1006.4 1531.5,1004.5 1532.3,1002.2 1533.1,1002.9 1533.9,1006.7 1534.7,1005.7 1535.4,1003.2 1536.2,1003.0 1537.0,999.9 1537.8,1001.7 1538.6,1005.1 1539.4,1002.0 1540.2,1005.6 1541.0,1001.9 1541.8,1003.0 1542.6,1008.2 1543.3,1005.6 1544.1,1012.8 1544.9,1013.5 1545.7,1013.2 1546.5,1012.1 1547.4,1007.1 1548.2,1004.4 1549.0,998.9 1549.9,997.8 1550.7,991.1 1551.5,993.1 1552.4,985.8 1553.2,986.8 1554.0,981.9 1554.8,981.6 1555.5,978.1 1556.3,976.1 1557.1,975.2 1557.9,972.4 1558.6,971.4 1559.4,969.6 1560.2,976.5 1560.9,983.3 1561.7,986.4 1562.4,993.7 1563.2,994.2 1564.1,994.0 1564.9,996.2 1565.7,997.9 1566.6,999.4 1567.4,1001.5 1568.2,999.7 1569.0,1001.6 1569.9,1004.6 1570.7,1002.6 1571.5,1005.0 1572.4,1006.6 1573.2,1005.9 1574.0,1008.1 1574.9,1002.5 1575.7,1004.2 1576.5,1005.1 1577.4,1005.4 1578.2,1002.1 1579.0,1006.3 1579.9,1006.3 1580.7,1001.1 1581.5,1001.5 1582.4,1003.8 1583.2,1000.2 1584.0,1004.4 1584.9,1005.5 1585.7,1004.0 1586.5,1004.2 1587.4,1007.6 1588.2,1005.7 1589.0,1008.6 1589.9,1011.1 1590.7,1011.6 1591.5,1005.5 1592.4,1009.9 1593.2,1002.7 1594.0,1006.4 1594.9,1005.8 1595.7,999.9 1596.5,999.1 1597.4,1002.0 1598.2,997.9 1599.0,997.5 1599.9,996.5 1600.7,999.9 1601.5,993.5 1602.4,998.2 1603.2,995.4 1604.0,992.3 1604.9,993.4 1605.7,994.9 1606.5,994.9 1607.4,989.8 1608.2,990.0 1609.0,996.4 1609.7,1002.0 1610.5,1004.6 1611.2,1009.8 1612.0,1014.7 1612.8,1007.0 1613.7,1010.7 1614.5,1002.6 1615.3,1003.3 1616.2,1000.5 1617.0,998.1 1617.8,997.2 1618.7,993.9 1619.5,991.6 1620.3,990.1 1621.2,987.0 1622.0,985.1 1622.8,987.0 1623.6,988.1 1624.4,990.3 1625.2,991.0 1626.0,994.4 1626.7,993.2 1627.5,993.9 1628.3,999.7 1629.1,999.2 1629.9,997.8 1630.7,1000.3 1631.5,1004.4 1632.4,1001.7 1633.2,1004.1 1634.0,1005.8 1634.9,1001.3 1635.7,1003.0 1636.5,1003.7 1637.4,1002.9 1638.2,1002.3 1639.0,1003.5 1639.9,1009.2 1640.7,1004.1 1641.5,1007.9 1642.4,1006.1 1643.2,1010.0 1644.0,1006.5 1644.9,1007.5 1645.7,1009.0 1646.5,1006.7 1647.4,999.7 1648.2,998.0 1649.0,995.2 1649.9,990.5 1650.7,990.1 1651.5,984.3 1652.4,983.4 1653.2,979.4 1654.0,976.6 1654.8,976.9 1655.5,978.1 1656.3,975.3 1657.1,974.3 1657.9,971.8 1658.6,971.3 1659.4,969.3 1660.2,967.7 1661.0,974.8 1661.8,984.2 1662.7,994.3 1663.5,1002.4 1664.3,1000.2 1665.1,1002.0 1665.9,1003.1 1666.7,1004.6 1667.5,1005.2 1668.3,1009.7 1669.2,1010.5 1670.0,1006.5 1670.8,1012.7 1671.6,1011.6 1672.4,1011.0 1673.2,1012.3 1674.0,1013.4 1674.9,1016.1 1675.7,1013.2 1676.5,1012.5 1677.4,1013.4 1678.2,1017.0 1679.0,1013.7 1679.9,1014.1 1680.7,1014.9 1681.5,1017.0 1682.3,1016.3 1683.1,1011.8 1683.8,1010.0 1684.6,1009.6 1685.4,1012.1 1686.2,1008.8 1687.0,1012.0 1687.8,1011.0 1688.6,1005.2 1689.5,1003.3 1690.3,1003.1 1691.1,1003.4 1691.9,1001.4 1692.7,1002.2 1693.5,1000.4 1694.4,998.6 1695.2,1000.1 1696.0,998.2 1696.9,987.8 1697.8,971.5 1698.8,975.9 1699.6,980.4 1700.5,993.2 1701.3,999.6 1702.1,1001.9 1702.9,1004.9 1703.7,1002.9 1704.5,1007.8 1705.3,1007.9 1706.0,1006.0 1706.8,1010.8 1707.6,1011.9 1708.4,1007.0 1709.2,1010.6 1710.0,1008.8 1710.8,1013.9 1711.6,1013.1 1712.4,1013.5 1713.2,1013.1 1714.0,1010.1 1714.8,1011.7 1715.5,1012.2 1716.3,1011.6 1717.1,1009.4 1717.9,1012.6 1718.7,1011.8 1719.5,1011.4 1720.3,1008.0 1721.1,1007.3 1721.9,1007.1 1722.7,1004.2 1723.4,1006.0 1724.2,1006.8 1725.0,1005.8 1725.8,1003.0 1726.6,999.9 1727.4,1002.4 1728.2,1006.4 1729.0,1006.6 1729.8,1009.1 1730.5,1008.3 1731.3,1006.8 1732.1,1009.5 1732.9,1013.3 1733.7,1014.4 1734.5,1015.2 1735.3,1009.4 1736.2,1011.0 1737.0,1012.9 1737.8,1014.7 1738.7,1009.6 1739.5,1013.5 1740.3,1010.9 1741.2,1012.7 1742.0,1009.9 1742.8,1012.2 1743.6,1006.2 1744.4,1005.4 1745.2,1005.7 1745.9,1006.5 1746.7,1006.1 1747.5,1002.0 1748.3,1003.2 1749.1,1004.7 1750.0,1004.4 1750.8,1007.0 1751.6,1006.9 1752.5,1003.5 1753.3,1009.0 1754.1,1010.0 1755.0,1006.3 1755.8,1006.4 1756.6,1012.0 1757.5,1008.1 1758.3,1013.6 1759.1,1010.4 1760.0,1013.6 1760.8,1015.7 1761.6,1012.1 1762.5,1015.6 1763.3,1015.9 1764.1,1015.6 1764.9,1015.7 1765.7,1016.1 1766.5,1015.3 1767.3,1009.4 1768.0,1012.9 1768.8,1010.7 1769.6,1005.3 1770.4,1008.1 1771.2,1009.6 1772.0,1005.9 1772.8,1005.0 1773.7,1006.1 1774.5,1002.8 1775.3,1000.8 1776.2,1001.8 1777.0,1002.2 1777.8,1001.9 1778.7,1004.8 1779.5,1003.8 1780.3,1000.1 1781.2,1001.6 1782.0,1002.1 1782.8,1005.9 1783.7,1007.7 1784.5,1004.0 1785.3,1005.2 1786.2,1010.5 1787.0,1011.1 1787.8,1006.9 1788.6,1006.2 1789.3,1008.5 1790.1,1008.2 1790.9,1006.3 1791.7,1004.4 1792.4,1009.0 1793.2,1006.9 1794.0,1006.7 1794.8,1005.0 1795.5,1004.3 1796.3,1006.5 1797.1,1003.9 1797.9,1004.0 1798.8,1008.1 1799.6,1004.2 1800.4,1006.2 1801.3,1004.2 1802.1,1004.1 1802.9,1004.0 1803.8,1003.8 1804.6,1005.1 1805.4,1006.9 1806.3,1004.3 1807.1,1006.7 1807.9,1003.1 1808.8,1000.2 1809.6,1003.3 1810.4,1004.8 1811.3,1003.4 1812.1,1000.7 1812.9,1000.8 1813.8,1003.1 1814.6,1003.7 1815.4,998.3 1816.3,998.3 1817.1,1003.4 1817.9,1000.9 1818.8,997.2 1819.6,998.1 1820.4,996.3 1821.3,999.2 1822.1,995.4 1822.9,997.7 1823.8,996.6 1824.6,999.6 1825.4,996.8 1826.3,996.5 1827.1,997.9 1827.9,997.2 1828.8,994.5 1829.6,997.5 1830.4,993.9 1831.3,997.5 1832.1,992.8 1832.9,995.9 1833.8,995.3 1834.6,993.0 1835.4,995.7 1836.3,997.8 1837.1,992.1 1837.9,992.5 1838.8,996.4 1839.6,997.5 1840.4,995.5 1841.3,993.6 1842.1,995.3 1842.9,996.2 1843.8,997.0 1844.6,994.3 1845.4,992.9 1846.3,994.4 1847.1,996.0 1847.9,995.0 1848.8,990.7 1849.6,989.9 1850.4,991.8 1851.3,987.3 1852.1,989.1 1852.9,989.5 1853.6,990.3 1854.4,993.3 1855.2,990.5 1856.0,995.6 1856.8,995.3 1857.5,994.1 1858.3,997.5 1859.1,999.3 1859.9,996.2 1860.7,991.6 1861.4,988.5 1862.2,987.0 1863.0,984.8 1863.8,984.2 1864.6,981.0 1865.3,985.8 1866.1,991.4 1866.8,1000.0 1867.6,1001.3 1868.3,1009.5 1869.1,1005.3 1870.0,1004.8 1870.8,1006.6 1871.6,1005.9 1872.5,1000.5 1873.3,1003.0 1874.1,997.5 1875.0,999.9 1875.8,998.9 1876.6,997.2 1877.5,990.9 1878.3,991.6 1879.1,991.0 1879.9,994.7 1880.7,995.5 1881.5,992.0 1882.3,996.5 1883.1,991.3 1883.9,998.1 1884.7,996.5 1885.5,995.0 1886.3,997.4 1887.1,995.2 1887.9,1000.1 1888.8,997.7 1889.6,999.8 1890.4,995.2 1891.3,995.6 1892.1,998.4 1892.9,998.1 1893.8,995.8 1894.6,997.8 1895.4,996.7 1896.3,997.6 1897.1,996.4 1897.9,999.1 1898.8,997.6 1899.6,999.0 1900.4,997.9 1901.3,1001.8 1902.1,1000.2 1902.9,999.9 1903.8,1003.2 1904.6,1002.2 1905.4,1003.5 1906.3,1003.1 1907.1,1002.7 1907.9,1000.1 1908.8,997.7 1909.6,1000.6 1910.4,994.3 1911.3,995.1 1912.1,992.5 1912.9,993.2 1913.8,993.1 1914.6,992.4 1915.4,994.4 1916.3,989.6 1917.1,991.9 1917.9,990.9 1918.8,992.5 1919.6,990.5 1920.4,995.7 1921.3,993.9 1922.1,994.2 1922.9,992.0 1923.8,991.7 1924.6,996.7 1925.4,993.8 1926.3,997.3 1927.1,996.3 1927.9,997.2 1928.8,999.8 1929.6,995.5 1930.4,1001.0 1931.3,1000.0 1932.1,998.9 1932.9,1001.3 1933.8,999.4 1934.6,1002.1 1935.4,999.8 1936.3,1005.7 1937.1,1006.9 1937.9,1006.2 1938.8,1006.2 1939.6,1005.7 1940.4,1007.3 1941.3,1010.1 1942.1,1007.5 1942.9,1010.4 1943.8,1010.3 1944.6,1013.4 1945.4,1009.1 1946.3,1012.8 1947.1,1008.6 1947.9,1009.6 1948.8,1013.3 1949.6,1010.2 1950.4,1009.7 1951.3,1009.9 1952.1,1007.0 1952.9,1009.6 1953.8,1005.3 1954.6,1008.0 1955.4,1009.4 1956.3,1004.3 1957.1,1008.4 1957.9,1003.4 1958.8,1003.0 1959.6,1006.2 1960.4,1005.2 1961.3,1000.7 1962.1,1004.6 1962.9,1001.0 1963.7,1003.3 1964.4,999.6 1965.2,1002.2 1966.0,1002.7 1966.8,1003.5 1967.6,1004.1 1968.3,998.9 1969.1,1001.9 1969.9,1000.1 1970.7,1004.2 1971.5,999.0 1972.3,1003.0 1973.0,1005.2 1973.8,1004.5 1974.6,1003.1 1975.4,1002.1 1976.3,1002.0 1977.1,1003.8 1977.9,1004.8 1978.8,1003.6 1979.6,1005.2 1980.4,1000.1 1981.3,1004.0 1982.1,1000.4 1982.9,1002.5 1983.8,999.0 1984.6,1004.6 1985.4,1002.2 1986.2,999.5 1987.0,995.9 1987.8,996.6 1988.5,991.5 1989.3,990.4 1990.1,988.3 1990.9,986.7 1991.7,989.8 1992.4,994.9 1993.2,998.2 1993.9,1001.5 1994.7,1006.8 1995.5,1008.4 1996.3,1003.6 1997.0,1005.4 1997.8,1007.7 1998.6,1007.1 1999.4,1005.9 2000.2,1005.7 2001.0,1005.6 2001.7,1002.6 2002.5,1005.3 2003.3,1000.6 2004.1,1003.3 2004.9,1000.1 2005.6,1001.0 2006.4,1002.1 2007.2,1004.2 2008.0,999.6 2008.9,998.3 2009.7,998.7 2010.5,999.1 2011.4,999.1 2012.2,998.1 2013.0,1002.7 2013.9,1003.0 2014.7,997.1 2015.5,999.4 2016.4,1000.3 2017.2,999.0 2018.0,998.3 2018.9,996.3 2019.7,999.6 2020.5,1000.1 2021.4,998.2 2022.2,997.9 2023.0,998.1 2023.9,995.8 2024.7,994.9 2025.5,996.5 2026.4,994.6 2027.2,998.3 2028.0,992.5 2028.9,995.2 2029.7,992.4 2030.5,996.2 2031.4,993.7 2032.2,992.9 2033.0,991.1 2033.9,994.4 2034.7,993.7 2035.5,994.5 2036.4,995.1 2037.2,993.5 2038.0,995.3 2038.9,997.5 2039.7,996.8 2040.5,1000.0 2041.4,999.9 2042.2,1003.3 2043.0,1005.6 2043.9,1004.4 2044.7,1002.7 2045.5,1005.2 2046.4,1002.7 2047.2,1004.5 2048.0,1007.9 2048.9,1009.2 2049.7,1008.0 2050.5,1010.7 2051.4,1006.6 2052.2,1008.6 2053.0,1006.9 2053.9,1005.2 2054.7,1008.2 2055.5,1006.8 2056.4,1006.9 2057.2,1007.4 2058.0,1006.6 2058.9,1000.7 2059.7,1002.2 2060.5,1005.2 2061.4,1000.8 2062.2,1004.9 2063.0,1001.3 2063.9,1007.5 2064.7,1003.7 2065.5,1005.6 2066.4,1005.8 2067.2,1008.3 2068.0,1010.1 2068.9,1010.8 2069.7,1009.3 2070.5,1010.9 2071.4,1010.2 2072.2,1006.9 2073.0,1009.4 2073.9,1010.2 2074.7,1008.9 2075.5,1008.3 2076.4,1008.7 2077.2,1003.6 2078.0,1007.6 2078.9,1004.8 2079.7,1007.9 2080.5,1008.1 2081.4,1004.4 2082.2,1004.6 2083.0,1006.8 2083.9,1002.2 2084.7,1007.1 2085.5,1002.6 2086.4,1004.9 2087.2,1006.0 2088.0,1002.7 2088.9,1002.4 2089.7,1003.2 2090.5,1004.1 2091.4,999.4 2092.2,1003.4 2093.0,997.5 2093.9,1000.3 2094.7,997.9 2095.5,995.9 2096.4,995.1 2097.2,994.6 2098.0,991.9 2098.9,991.7 2099.7,989.5 2100.5,990.7 2101.4,992.1 2102.2,992.8 2103.0,997.1 2103.9,995.3 2104.7,998.1 2105.5,999.4 2106.4,1000.7 2107.2,1004.4 2108.0,1004.3 2108.9,1005.2 2109.7,1001.5 2110.5,1005.8 2111.4,1002.3 2112.2,1002.7 2113.0,1007.1 2113.9,1004.0 2114.7,1003.1 2115.5,1005.0 2116.4,1006.4 2117.2,1008.8 2118.0,1006.1 2118.9,1005.3 2119.7,1005.3 2120.5,1005.3 2121.4,1004.8 2122.2,1002.5 2123.0,1000.9 2123.9,1005.5 2124.7,1004.1 2125.5,998.0 2126.4,1000.2 2127.2,996.0 2128.0,1000.1 2128.9,996.1 2129.7,993.7 2130.5,995.0 2131.4,993.5 2132.2,992.0 2133.0,993.1 2133.9,994.9 2134.7,996.1 2135.5,997.6 2136.4,1002.9 2137.2,1005.7 2138.0,1007.1 2138.9,1006.8 2139.7,1006.1 2140.5,1009.8 2141.4,1008.9 2142.2,1004.6 2143.0,1004.8 2143.9,1003.5 2144.7,1003.9 2145.5,1002.5 2146.4,1005.9 2147.2,1002.2 2148.0,1003.3 2148.9,1003.1 2149.7,1002.0 2150.5,997.2 2151.4,999.2 2152.2,996.6 2153.0,999.0 2153.9,995.6 2154.7,996.8" fill="none" stroke="#ece56a" stroke-width="8" stroke-linejoin="round" stroke-linecap="butt"/>
<polyline points="152.5,1168.9 153.5,1166.3 154.5,1173.0 155.5,1168.6 156.5,1173.4 157.5,1172.3 158.5,1177.1 159.5,1171.3 160.5,1180.8 161.5,1170.2 162.5,1170.0 163.5,1176.7 164.5,1180.1 165.5,1178.6 166.5,1178.1 167.5,1170.2 168.5,1170.8 169.5,1171.9 170.5,1171.2 171.5,1170.4 172.5,1172.0 173.5,1172.8 174.5,1172.2 175.5,1177.8 176.5,1178.1 177.5,1170.0 178.5,1174.9 179.5,1178.7 180.5,1172.0 181.5,1183.9 182.5,1180.9 183.5,1180.5 184.5,1180.0 185.5,1185.8 186.5,1181.0 187.5,1179.2 188.5,1184.1 189.5,1174.1 190.5,1176.3 191.5,1181.1 192.5,1179.8 193.5,1179.1 194.5,1180.0 195.5,1171.8 196.5,1177.9 197.5,1175.9 198.5,1181.7 199.5,1181.4 200.5,1174.7 201.5,1179.4 202.5,1174.3 203.5,1174.8 204.5,1178.4 205.5,1180.3 206.5,1179.1 207.5,1172.3 208.5,1170.8 209.5,1181.0 210.5,1176.1 211.5,1176.4 212.5,1177.6 213.5,1180.1 214.5,1177.2 215.5,1175.6 216.5,1173.5 217.5,1176.0 218.5,1176.4 219.5,1174.4 220.5,1179.0 221.5,1172.1 222.5,1178.2 223.5,1179.4 224.5,1176.4 225.5,1172.5 226.5,1173.9 227.5,1172.1 228.5,1177.1 229.5,1176.7 230.5,1169.9 231.5,1172.2 232.5,1176.6 233.5,1169.7 234.5,1176.5 235.5,1174.3 236.5,1169.8 237.5,1172.3 238.5,1178.7 239.5,1169.9 240.5,1174.5 241.5,1180.8 242.5,1173.1 243.5,1179.1 244.5,1174.8 245.5,1181.0 246.5,1181.1 247.5,1178.9 248.5,1173.1 249.5,1182.5 250.5,1176.5 251.5,1182.7 252.5,1181.9 253.5,1181.7 254.5,1179.0 255.5,1183.3 256.5,1185.8 257.5,1184.5 258.5,1184.1 259.5,1177.4 260.5,1177.3 261.5,1183.1 262.5,1179.8 263.5,1184.7 264.5,1179.5 265.5,1183.6 266.5,1170.7 267.5,1179.5 268.5,1170.3 269.5,1174.4 270.5,1172.0 271.5,1172.5 272.5,1170.3 273.5,1174.0 274.5,1175.1 275.5,1169.3 276.5,1173.5 277.5,1171.4 278.5,1172.9 279.5,1171.1 280.5,1173.0 281.5,1167.1 282.5,1169.9 283.5,1175.0 284.5,1167.3 285.5,1174.1 286.5,1171.3 287.5,1171.5 288.5,1168.6 289.5,1173.3 290.5,1165.3 291.5,1165.7 292.5,1160.9 293.5,1163.0 294.5,1156.2 295.5,1159.1 296.5,1156.3 297.5,1149.2 298.5,1146.3 299.5,1147.5 300.5,1152.1 301.5,1146.2 302.5,1146.9 303.5,1142.1 304.5,1148.7 305.5,1140.7 306.5,1151.1 307.5,1146.8 308.5,1144.5 309.5,1149.9 310.5,1142.0 311.5,1144.0 312.5,1149.1 313.5,1149.9 314.5,1143.3 315.5,1142.7 316.5,1150.1 317.5,1149.1 318.5,1155.9 319.5,1158.6 320.5,1159.9 321.5,1156.5 322.5,1160.6 323.5,1158.1 324.5,1152.6 325.5,1161.1 326.5,1150.7 327.5,1156.5 328.5,1152.9 329.5,1157.8 330.5,1157.0 331.5,1159.3 332.5,1163.8 333.5,1160.5 334.5,1163.2 335.5,1168.7 336.5,1162.2 337.5,1159.7 338.5,1163.1 339.5,1162.5 340.5,1163.4 341.5,1163.6 342.5,1161.4 343.5,1162.1 344.5,1167.8 345.5,1164.5 346.5,1166.9 347.5,1158.5 348.5,1164.1 349.5,1158.8 350.5,1159.5 351.5,1165.4 352.5,1167.8 353.6,1168.4 354.6,1167.3 355.6,1165.9 356.6,1174.4 357.6,1170.3 358.6,1162.3 359.6,1171.6 360.6,1161.2 361.6,1160.7 362.6,1164.8 363.6,1170.9 364.6,1163.9 365.6,1163.1 366.6,1168.0 367.6,1166.8 368.6,1169.3 369.6,1162.0 370.6,1159.3 371.6,1159.0 372.6,1151.2 373.6,1151.2 374.6,1154.6 375.6,1145.9 376.6,1150.3 377.6,1141.6 378.6,1137.1 379.6,1135.6 380.6,1133.0 381.6,1133.7 382.6,1136.0 383.6,1138.8 384.6,1132.2 385.6,1132.5 386.6,1136.2 387.6,1131.1 388.6,1130.8 389.6,1135.8 390.6,1128.4 391.6,1137.7 392.6,1129.1 393.6,1130.6 394.6,1134.4 395.6,1132.0 396.6,1133.3 397.6,1146.1 398.6,1144.7 399.6,1149.9 400.6,1158.2 401.6,1159.1 402.6,1162.6 403.6,1166.6 404.6,1172.6 405.6,1174.2 406.6,1169.0 407.6,1175.2 408.6,1170.4 409.6,1167.8 410.6,1171.8 411.6,1177.7 412.6,1170.7 413.6,1178.7 414.6,1178.1 415.6,1177.8 416.6,1174.1 417.6,1170.6 418.6,1180.5 419.6,1169.9 420.6,1179.6 421.6,1181.1 422.6,1178.1 423.6,1182.2 424.6,1180.5 425.6,1179.1 426.6,1183.3 427.6,1181.7 428.6,1185.5 429.6,1181.3 430.6,1179.7 431.6,1184.6 432.6,1182.0 433.6,1175.8 434.6,1179.5 435.6,1180.2 436.6,1178.2 437.6,1177.8 438.6,1181.3 439.6,1179.2 440.6,1174.4 441.6,1182.5 442.6,1180.9 443.6,1174.2 444.6,1181.6 445.6,1181.0 446.6,1173.8 447.6,1178.2 448.6,1170.8 449.6,1178.1 450.6,1174.8 451.6,1174.6 452.6,1176.2 453.6,1177.7 454.6,1168.3 455.6,1167.3 456.6,1173.2 457.6,1173.2 458.6,1166.2 459.6,1166.4 460.6,1163.3 461.6,1160.2 462.6,1164.2 463.6,1155.6 464.6,1155.4 465.6,1156.9 466.6,1162.2 467.6,1161.3 468.6,1158.4 469.6,1153.7 470.6,1162.2 471.6,1156.8 472.6,1159.4 473.6,1153.1 474.6,1160.8 475.6,1160.9 476.6,1156.7 477.6,1156.4 478.6,1151.6 479.6,1156.1 480.6,1150.3 481.6,1148.1 482.6,1140.3 483.6,1132.4 484.6,1138.5 485.6,1135.2 486.6,1136.0 487.6,1131.4 488.6,1130.9 489.6,1128.3 490.6,1128.0 491.6,1133.7 492.6,1133.5 493.6,1123.5 494.6,1127.7 495.6,1129.9 496.6,1131.1 497.6,1124.3 498.6,1125.3 499.6,1117.7 500.6,1120.5 501.6,1114.0 502.6,1121.3 503.6,1113.3 504.6,1117.3 505.6,1110.7 506.6,1115.6 507.6,1112.0 508.6,1109.7 509.6,1104.6 510.6,1107.4 511.6,1102.4 512.6,1105.4 513.6,1101.7 514.6,1097.6 515.6,1086.8 516.6,1090.1 517.6,1083.4 518.6,1078.9 519.6,1073.2 520.6,1068.1 521.6,1064.7 522.6,1063.6 523.6,1060.4 524.6,1052.4 525.6,1054.4 526.6,1054.8 527.6,1062.1 528.6,1055.1 529.6,1060.2 530.6,1052.7 531.6,1052.0 532.6,1057.2 533.6,1057.0 534.6,1053.5 535.6,1053.6 536.6,1056.6 537.6,1060.2 538.6,1066.7 539.6,1066.8 540.6,1065.0 541.6,1078.2 542.6,1073.7 543.6,1079.3 544.6,1078.4 545.6,1076.6 546.6,1074.0 547.6,1063.3 548.6,1067.0 549.6,1062.9 550.6,1062.2 551.6,1058.4 552.6,1060.8 553.6,1065.7 554.6,1064.8 555.6,1064.4 556.6,1062.7 557.6,1063.6 558.6,1057.0 559.6,1060.6 560.6,1062.9 561.6,1065.4 562.6,1061.4 563.6,1064.9 564.6,1070.1 565.6,1085.4 566.6,1084.4 567.6,1092.9 568.6,1099.5 569.6,1093.8 570.6,1095.9 571.6,1097.7 572.6,1101.7 573.6,1100.6 574.6,1107.6 575.6,1100.8 576.6,1107.6 577.6,1100.9 578.6,1105.5 579.6,1106.7 580.6,1113.8 581.6,1111.1 582.6,1120.6 583.6,1119.0 584.6,1131.1 585.6,1135.8 586.6,1132.3 587.6,1139.4 588.6,1139.6 589.6,1142.2 590.6,1136.3 591.6,1136.1 592.6,1138.0 593.6,1133.0 594.6,1134.5 595.6,1139.9 596.6,1146.0 597.6,1146.2 598.6,1150.9 599.6,1150.0 600.6,1148.0 601.6,1156.4 602.6,1153.4 603.6,1158.9 604.6,1153.3 605.6,1156.9 606.6,1157.7 607.6,1156.1 608.6,1159.9 609.6,1163.1 610.6,1165.6 611.6,1164.1 612.6,1165.0 613.6,1170.0 614.6,1169.1 615.6,1171.4 616.6,1171.6 617.6,1178.8 618.6,1175.5 619.6,1177.2 620.6,1184.0 621.6,1178.3 622.6,1176.5 623.6,1178.9 624.6,1177.8 625.6,1178.7 626.6,1174.8 627.6,1179.9 628.6,1184.6 629.6,1177.1 630.6,1185.3 631.6,1181.3 632.6,1178.0 633.6,1182.1 634.6,1186.7 635.6,1179.0 636.6,1184.8 637.6,1180.7 638.6,1175.9 639.6,1184.9 640.6,1185.0 641.6,1175.8 642.6,1174.7 643.6,1182.9 644.6,1176.9 645.6,1182.1 646.6,1180.2 647.6,1181.5 648.6,1180.4 649.6,1177.5 650.6,1180.4 651.6,1178.5 652.6,1173.2 653.6,1182.4 654.6,1179.8 655.6,1180.5 656.6,1173.3 657.6,1172.9 658.6,1175.2 659.6,1180.2 660.6,1183.3 661.6,1183.6 662.6,1182.8 663.6,1174.8 664.6,1176.4 665.6,1182.9 666.6,1184.1 667.6,1180.3 668.6,1178.7 669.6,1179.7 670.6,1181.1 671.6,1177.3 672.6,1179.0 673.6,1184.9 674.6,1181.3 675.6,1182.3 676.6,1183.3 677.6,1178.9 678.6,1181.1 679.6,1171.7 680.6,1176.5 681.6,1178.7 682.6,1176.6 683.6,1176.5 684.6,1168.2 685.6,1170.9 686.6,1167.1 687.6,1175.4 688.6,1175.9 689.6,1176.0 690.6,1170.6 691.6,1172.3 692.6,1176.4 693.6,1175.7 694.6,1175.0 695.6,1167.6 696.6,1173.1 697.6,1176.6 698.6,1169.2 699.6,1172.3 700.6,1175.6 701.6,1177.9 702.6,1176.8 703.6,1176.7 704.6,1173.9 705.6,1171.4 706.6,1170.7 707.6,1172.8 708.6,1175.8 709.6,1168.5 710.6,1174.7 711.6,1173.0 712.6,1167.1 713.6,1178.5 714.6,1171.8 715.6,1175.3 716.6,1169.9 717.6,1173.3 718.6,1173.2 719.6,1167.2 720.6,1171.6 721.6,1169.0 722.6,1168.4 723.6,1170.6 724.6,1167.8 725.6,1166.9 726.6,1174.5 727.6,1170.8 728.6,1168.7 729.6,1165.2 730.6,1161.3 731.6,1157.2 732.6,1153.0 733.6,1156.8 734.6,1150.5 735.6,1155.1 736.6,1157.5 737.6,1151.2 738.6,1151.4 739.6,1152.8 740.6,1154.1 741.6,1154.0 742.6,1150.4 743.6,1156.4 744.6,1149.9 745.6,1155.4 746.6,1150.6 747.6,1151.4 748.6,1154.3 749.6,1158.9 750.6,1158.7 751.6,1160.7 752.6,1160.4 753.7,1159.0 754.7,1163.9 755.7,1161.4 756.7,1166.1 757.7,1170.3 758.7,1167.0 759.7,1158.8 760.7,1163.6 761.7,1166.4 762.7,1163.8 763.7,1167.6 764.7,1166.5 765.7,1163.6 766.7,1167.7 767.7,1164.9 768.7,1160.9 769.7,1166.7 770.7,1159.0 771.7,1159.7 772.7,1162.7 773.7,1166.4 774.7,1159.6 775.7,1170.0 776.7,1164.3 777.7,1164.4 778.7,1170.6 779.7,1169.7 780.7,1176.0 781.7,1168.7 782.7,1169.4 783.7,1159.0 784.7,1156.7 785.7,1148.9 786.7,1151.6 787.7,1146.4 788.7,1149.9 789.7,1149.9 790.7,1144.2 791.7,1144.9 792.7,1148.0 793.7,1152.6 794.7,1151.5 795.7,1154.3 796.7,1146.0 797.7,1144.8 798.7,1147.4 799.7,1152.1 800.7,1152.7 801.7,1149.6 802.7,1145.5 803.7,1148.0 804.7,1144.0 805.7,1150.3 806.7,1155.7 807.7,1149.6 808.7,1148.6 809.7,1148.3 810.7,1141.2 811.7,1134.8 812.7,1130.3 813.7,1134.8 814.7,1132.5 815.7,1131.0 816.7,1126.6 817.7,1125.7 818.7,1124.6 819.7,1125.9 820.7,1130.7 821.7,1134.6 822.7,1123.8 823.7,1134.8 824.7,1129.0 825.7,1131.1 826.7,1142.0 827.7,1144.8 828.7,1154.3 829.7,1170.1 830.7,1165.3 831.7,1170.8 832.7,1166.4 833.7,1165.1 834.7,1169.9 835.7,1170.2 836.7,1174.2 837.7,1167.9 838.7,1167.8 839.7,1170.0 840.7,1164.8 841.7,1165.6 842.7,1171.2 843.7,1173.2 844.7,1168.5 845.7,1166.9 846.7,1171.1 847.7,1167.6 848.7,1170.9 849.7,1173.1 850.7,1170.9 851.7,1168.9 852.7,1167.0 853.7,1165.5 854.7,1168.9 855.7,1172.7 856.7,1166.2 857.7,1166.4 858.7,1168.2 859.7,1173.5 860.7,1172.6 861.7,1175.9 862.7,1170.9 863.7,1166.7 864.7,1171.5 865.7,1163.1 866.7,1160.4 867.7,1166.1 868.7,1163.8 869.7,1166.0 870.7,1166.7 871.7,1162.0 872.7,1163.0 873.7,1157.7 874.7,1157.9 875.7,1159.8 876.7,1153.2 877.7,1158.9 878.7,1143.1 879.7,1146.4 880.7,1134.3 881.7,1131.9 882.7,1126.0 883.7,1128.2 884.7,1126.6 885.7,1128.0 886.7,1129.0 887.7,1132.4 888.7,1127.5 889.7,1125.8 890.7,1125.1 891.7,1125.0 892.7,1134.3 893.7,1134.8 894.7,1136.6 895.7,1134.3 896.7,1137.5 897.7,1140.8 898.7,1137.9 899.7,1141.6 900.7,1144.2 901.7,1146.1 902.7,1136.1 903.7,1137.1 904.7,1146.3 905.7,1148.7 906.7,1152.3 907.7,1153.8 908.7,1159.3 909.7,1168.3 910.7,1169.0 911.7,1167.0 912.7,1167.8 913.7,1164.0 914.7,1171.8 915.7,1171.8 916.7,1171.6 917.7,1174.1 918.7,1168.4 919.7,1168.9 920.7,1165.1 921.7,1170.3 922.7,1166.4 923.7,1173.1 924.7,1170.0 925.7,1171.9 926.7,1172.6 927.7,1171.6 928.7,1171.7 929.7,1172.6 930.7,1171.5 931.7,1170.1 932.7,1167.4 933.7,1173.1 934.7,1168.4 935.7,1173.6 936.7,1174.2 937.7,1170.6 938.7,1167.6 939.7,1171.6 940.7,1175.2 941.7,1167.3 942.7,1177.6 943.7,1175.8 944.7,1166.4 945.7,1166.6 946.7,1172.9 947.7,1164.8 948.7,1172.7 949.7,1163.2 950.7,1170.6 951.7,1169.0 952.7,1166.0 953.7,1163.8 954.7,1173.0 955.7,1172.2 956.7,1171.5 957.7,1164.8 958.7,1164.5 959.7,1166.2 960.7,1172.7 961.7,1171.2 962.7,1172.0 963.7,1166.1 964.7,1168.2 965.7,1166.1 966.7,1167.2 967.7,1173.6 968.7,1174.5 969.7,1167.4 970.7,1170.1 971.7,1167.6 972.7,1170.4 973.7,1179.3 974.7,1172.1 975.7,1174.8 976.7,1177.0 977.7,1172.5 978.7,1176.5 979.7,1177.3 980.7,1175.9 981.7,1174.3 982.7,1171.6 983.7,1176.1 984.7,1172.0 985.7,1175.4 986.7,1170.0 987.7,1166.0 988.7,1166.3 989.7,1174.3 990.7,1169.1 991.7,1172.5 992.7,1165.7 993.7,1172.4 994.7,1171.2 995.7,1173.3 996.7,1167.0 997.7,1167.1 998.7,1174.8 999.7,1175.2 1000.7,1175.5 1001.7,1165.4 1002.7,1170.7 1003.7,1174.8 1004.7,1168.7 1005.7,1175.2 1006.7,1170.7 1007.7,1173.8 1008.7,1166.6 1009.7,1168.9 1010.7,1174.7 1011.7,1168.4 1012.7,1171.5 1013.7,1166.7 1014.7,1170.6 1015.7,1167.9 1016.7,1165.4 1017.7,1168.0 1018.7,1173.9 1019.7,1170.7 1020.7,1174.5 1021.7,1170.0 1022.7,1171.8 1023.7,1178.2 1024.7,1168.3 1025.7,1167.0 1026.7,1176.1 1027.7,1166.8 1028.7,1167.7 1029.7,1164.2 1030.7,1158.9 1031.7,1163.5 1032.7,1160.3 1033.7,1157.3 1034.7,1159.9 1035.7,1154.8 1036.7,1154.2 1037.7,1163.7 1038.7,1155.6 1039.7,1158.0 1040.7,1158.4 1041.7,1160.0 1042.7,1159.4 1043.7,1160.6 1044.7,1158.0 1045.7,1153.1 1046.7,1157.2 1047.7,1163.6 1048.7,1166.7 1049.7,1160.7 1050.7,1166.8 1051.7,1168.6 1052.7,1177.2 1053.7,1179.9 1054.7,1179.5 1055.7,1172.9 1056.7,1175.8 1057.7,1174.9 1058.7,1170.6 1059.7,1178.0 1060.7,1179.1 1061.7,1179.2 1062.7,1174.5 1063.7,1171.0 1064.7,1172.8 1065.7,1175.9 1066.7,1174.6 1067.7,1171.2 1068.7,1178.3 1069.7,1171.2 1070.7,1176.0 1071.7,1170.5 1072.7,1168.1 1073.7,1174.9 1074.7,1173.6 1075.7,1178.4 1076.7,1173.4 1077.7,1174.7 1078.7,1170.2 1079.7,1177.4 1080.7,1173.6 1081.7,1171.9 1082.7,1172.1 1083.7,1177.9 1084.7,1179.1 1085.7,1171.5 1086.7,1175.9 1087.7,1168.9 1088.7,1176.1 1089.7,1174.1 1090.7,1171.1 1091.7,1178.0 1092.7,1178.6 1093.7,1176.1 1094.7,1174.2 1095.7,1170.4 1096.7,1174.5 1097.7,1173.1 1098.7,1168.1 1099.7,1172.4 1100.7,1172.0 1101.7,1174.8 1102.7,1177.8 1103.7,1177.6 1104.7,1170.0 1105.7,1169.8 1106.7,1175.0 1107.7,1172.5 1108.7,1174.4 1109.7,1175.4 1110.7,1176.2 1111.7,1178.6 1112.7,1172.1 1113.7,1174.2 1114.7,1178.8 1115.7,1171.1 1116.7,1175.2 1117.7,1181.3 1118.7,1182.1 1119.7,1177.2 1120.7,1178.2 1121.7,1172.7 1122.7,1176.4 1123.7,1174.1 1124.7,1177.5 1125.7,1174.6 1126.7,1175.4 1127.7,1170.6 1128.7,1175.5 1129.7,1177.2 1130.7,1173.8 1131.7,1176.1 1132.7,1175.9 1133.7,1174.5 1134.7,1171.9 1135.7,1180.0 1136.7,1170.2 1137.7,1171.2 1138.7,1179.3 1139.7,1176.0 1140.7,1170.7 1141.7,1172.8 1142.7,1176.6 1143.7,1176.0 1144.7,1170.7 1145.7,1178.5 1146.7,1173.3 1147.7,1181.6 1148.7,1180.4 1149.7,1179.9 1150.7,1171.5 1151.7,1172.0 1152.7,1179.5 1153.7,1177.2 1154.8,1172.4 1155.8,1175.7 1156.8,1174.8 1157.8,1169.3 1158.8,1172.0 1159.8,1177.2 1160.8,1176.4 1161.8,1175.4 1162.8,1174.0 1163.8,1179.5 1164.8,1169.4 1165.8,1176.0 1166.8,1173.8 1167.8,1175.4 1168.8,1171.6 1169.8,1171.1 1170.8,1171.1 1171.8,1175.1 1172.8,1181.8 1173.8,1180.0 1174.8,1181.5 1175.8,1175.5 1176.8,1179.9 1177.8,1180.4 1178.8,1174.9 1179.8,1170.3 1180.8,1171.4 1181.8,1170.2 1182.8,1168.6 1183.8,1171.1 1184.8,1168.5 1185.8,1172.8 1186.8,1170.7 1187.8,1170.2 1188.8,1167.6 1189.8,1171.1 1190.8,1170.0 1191.8,1166.2 1192.8,1166.6 1193.8,1164.4 1194.8,1169.8 1195.8,1173.7 1196.8,1168.9 1197.8,1164.3 1198.8,1170.6 1199.8,1166.0 1200.8,1167.3 1201.8,1164.5 1202.8,1172.4 1203.8,1163.2 1204.8,1167.5 1205.8,1166.2 1206.8,1172.3 1207.8,1168.5 1208.8,1170.2 1209.8,1164.7 1210.8,1167.6 1211.8,1166.6 1212.8,1167.1 1213.8,1161.0 1214.8,1163.6 1215.8,1164.7 1216.8,1167.7 1217.8,1171.4 1218.8,1171.6 1219.8,1164.7 1220.8,1169.4 1221.8,1166.5 1222.8,1171.2 1223.8,1172.2 1224.8,1162.2 1225.8,1164.2 1226.8,1167.1 1227.8,1166.1 1228.8,1173.6 1229.8,1164.6 1230.8,1172.2 1231.8,1161.7 1232.8,1164.3 1233.8,1170.7 1234.8,1166.3 1235.8,1162.6 1236.8,1162.7 1237.8,1165.8 1238.8,1160.0 1239.8,1171.0 1240.8,1159.9 1241.8,1164.3 1242.8,1162.4 1243.8,1160.2 1244.8,1169.0 1245.8,1160.8 1246.8,1166.5 1247.8,1162.2 1248.8,1167.6 1249.8,1165.0 1250.8,1165.6 1251.8,1163.0 1252.8,1162.3 1253.8,1161.2 1254.8,1168.3 1255.8,1170.0 1256.8,1166.4 1257.8,1163.5 1258.8,1171.5 1259.8,1170.7 1260.8,1163.6 1261.8,1168.2 1262.8,1170.8 1263.8,1166.1 1264.8,1164.0 1265.8,1165.0 1266.8,1165.9 1267.8,1158.7 1268.8,1162.0 1269.8,1164.0 1270.8,1160.2 1271.8,1159.8 1272.8,1155.1 1273.8,1151.1 1274.8,1151.9 1275.8,1154.9 1276.8,1145.7 1277.8,1154.6 1278.8,1151.2 1279.8,1148.2 1280.8,1153.0 1281.8,1149.5 1282.8,1147.1 1283.8,1150.6 1284.8,1147.2 1285.8,1144.1 1286.8,1149.4 1287.8,1149.8 1288.8,1146.3 1289.8,1143.8 1290.8,1146.7 1291.8,1153.2 1292.8,1158.5 1293.8,1153.1 1294.8,1156.5 1295.8,1169.0 1296.8,1162.5 1297.8,1167.6 1298.8,1170.3 1299.8,1170.9 1300.8,1175.7 1301.8,1175.3 1302.8,1173.3 1303.8,1177.5 1304.8,1176.0 1305.8,1171.0 1306.8,1174.2 1307.8,1174.1 1308.8,1171.0 1309.8,1166.0 1310.8,1171.8 1311.8,1171.9 1312.8,1166.5 1313.8,1172.5 1314.8,1165.8 1315.8,1169.0 1316.8,1167.9 1317.8,1169.2 1318.8,1164.7 1319.8,1175.9 1320.8,1169.8 1321.8,1171.6 1322.8,1164.7 1323.8,1170.6 1324.8,1176.3 1325.8,1174.6 1326.8,1175.4 1327.8,1169.5 1328.8,1171.3 1329.8,1176.4 1330.8,1169.8 1331.8,1175.7 1332.8,1175.1 1333.8,1174.3 1334.8,1171.4 1335.8,1172.2 1336.8,1177.2 1337.8,1173.8 1338.8,1179.0 1339.8,1173.0 1340.8,1171.7 1341.8,1178.7 1342.8,1174.3 1343.8,1173.4 1344.8,1170.8 1345.8,1168.7 1346.8,1172.3 1347.8,1173.7 1348.8,1175.2 1349.8,1168.8 1350.8,1171.8 1351.8,1177.0 1352.8,1167.9 1353.8,1174.1 1354.8,1169.1 1355.8,1176.0 1356.8,1175.5 1357.8,1168.1 1358.8,1172.1 1359.8,1175.3 1360.8,1173.9 1361.8,1175.1 1362.8,1175.6 1363.8,1177.3 1364.8,1171.7 1365.8,1178.5 1366.8,1170.2 1367.8,1169.9 1368.8,1169.0 1369.8,1173.6 1370.8,1178.4 1371.8,1174.0 1372.8,1178.4 1373.8,1170.8 1374.8,1170.1 1375.8,1179.0 1376.8,1176.5 1377.8,1176.5 1378.8,1175.0 1379.8,1176.2 1380.8,1178.3 1381.8,1170.4 1382.8,1174.7 1383.8,1175.5 1384.8,1169.6 1385.8,1168.0 1386.8,1172.6 1387.8,1172.7 1388.8,1167.3 1389.8,1175.4 1390.8,1174.5 1391.8,1174.1 1392.8,1170.7 1393.8,1170.6 1394.8,1173.1 1395.8,1174.5 1396.8,1173.8 1397.8,1172.3 1398.8,1170.8 1399.8,1168.0 1400.8,1167.0 1401.8,1171.5 1402.8,1167.0 1403.8,1166.8 1404.8,1164.0 1405.8,1161.4 1406.8,1153.6 1407.8,1153.5 1408.8,1148.4 1409.8,1141.8 1410.8,1141.1 1411.8,1141.4 1412.8,1139.4 1413.8,1143.9 1414.8,1141.2 1415.8,1139.3 1416.8,1139.2 1417.8,1139.6 1418.8,1146.1 1419.8,1140.6 1420.8,1143.0 1421.8,1142.1 1422.8,1142.1 1423.8,1150.2 1424.8,1145.7 1425.8,1146.8 1426.8,1158.5 1427.8,1157.3 1428.8,1156.7 1429.8,1164.3 1430.8,1169.9 1431.8,1165.0 1432.8,1165.2 1433.8,1168.4 1434.8,1166.0 1435.8,1169.0 1436.8,1172.1 1437.8,1166.1 1438.8,1163.0 1439.8,1163.7 1440.8,1162.9 1441.8,1169.4 1442.8,1168.9 1443.8,1167.6 1444.8,1172.1 1445.8,1162.8 1446.8,1171.2 1447.8,1170.4 1448.8,1170.8 1449.8,1165.4 1450.8,1173.8 1451.8,1167.3 1452.8,1169.7 1453.8,1168.3 1454.8,1164.3 1455.8,1169.4 1456.8,1164.0 1457.8,1166.8 1458.8,1164.4 1459.8,1169.1 1460.8,1166.8 1461.8,1173.3 1462.8,1168.8 1463.8,1169.9 1464.8,1166.5 1465.8,1170.5 1466.8,1163.0 1467.8,1165.3 1468.8,1169.7 1469.8,1168.3 1470.8,1172.5 1471.8,1163.2 1472.8,1162.5 1473.8,1162.4 1474.8,1166.8 1475.8,1164.1 1476.8,1163.4 1477.8,1161.2 1478.8,1159.2 1479.8,1166.3 1480.8,1161.2 1481.8,1167.3 1482.8,1165.4 1483.8,1163.7 1484.8,1161.2 1485.8,1159.9 1486.8,1160.8 1487.8,1162.6 1488.8,1169.5 1489.8,1168.6 1490.8,1164.3 1491.8,1169.3 1492.8,1163.1 1493.8,1162.9 1494.8,1171.4 1495.8,1162.0 1496.8,1166.4 1497.8,1165.2 1498.8,1163.7 1499.8,1162.8 1500.8,1169.0 1501.8,1163.6 1502.8,1163.6 1503.8,1161.8 1504.8,1164.5 1505.8,1163.6 1506.8,1160.5 1507.8,1162.3 1508.8,1170.5 1509.8,1162.4 1510.8,1163.3 1511.8,1164.0 1512.8,1166.0 1513.8,1161.2 1514.8,1158.3 1515.8,1163.4 1516.8,1165.6 1517.8,1160.5 1518.8,1165.6 1519.8,1168.9 1520.8,1158.6 1521.8,1164.5 1522.8,1165.3 1523.8,1161.7 1524.8,1162.2 1525.8,1158.1 1526.8,1158.2 1527.8,1166.0 1528.8,1161.5 1529.8,1163.5 1530.8,1157.5 1531.8,1158.4 1532.8,1167.9 1533.8,1158.9 1534.8,1157.9 1535.8,1166.4 1536.8,1168.0 1537.8,1162.6 1538.8,1160.5 1539.8,1158.0 1540.8,1160.5 1541.8,1169.1 1542.8,1163.5 1543.8,1161.7 1544.8,1163.0 1545.8,1166.5 1546.8,1167.3 1547.8,1172.8 1548.8,1165.5 1549.8,1174.5 1550.8,1169.7 1551.8,1166.0 1552.8,1172.5 1553.8,1174.4 1554.8,1168.3 1555.9,1167.6 1556.9,1165.2 1557.9,1172.8 1558.9,1171.3 1559.9,1173.5 1560.9,1172.4 1561.9,1164.8 1562.9,1163.8 1563.9,1167.0 1564.9,1165.5 1565.9,1169.0 1566.9,1174.3 1567.9,1166.6 1568.9,1174.3 1569.9,1166.7 1570.9,1166.1 1571.9,1164.1 1572.9,1169.9 1573.9,1167.1 1574.9,1166.1 1575.9,1171.6 1576.9,1170.9 1577.9,1166.0 1578.9,1166.2 1579.9,1164.9 1580.9,1172.4 1581.9,1170.8 1582.9,1175.1 1583.9,1175.7 1584.9,1164.8 1585.9,1174.9 1586.9,1171.1 1587.9,1175.2 1588.9,1174.4 1589.9,1167.0 1590.9,1166.5 1591.9,1174.4 1592.9,1167.2 1593.9,1170.7 1594.9,1171.2 1595.9,1165.3 1596.9,1170.2 1597.9,1164.9 1598.9,1165.2 1599.9,1167.7 1600.9,1167.5 1601.9,1166.8 1602.9,1172.8 1603.9,1172.6 1604.9,1171.4 1605.9,1172.1 1606.9,1172.4 1607.9,1173.2 1608.9,1168.9 1609.9,1170.3 1610.9,1171.3 1611.9,1172.8 1612.9,1169.5 1613.9,1170.9 1614.9,1167.8 1615.9,1167.7 1616.9,1171.1 1617.9,1171.5 1618.9,1170.8 1619.9,1166.2 1620.9,1173.1 1621.9,1173.0 1622.9,1168.6 1623.9,1170.9 1624.9,1170.6 1625.9,1176.3 1626.9,1169.5 1627.9,1167.8 1628.9,1170.4 1629.9,1169.3 1630.9,1175.9 1631.9,1168.6 1632.9,1171.8 1633.9,1169.3 1634.9,1164.0 1635.9,1164.8 1636.9,1161.4 1637.9,1161.2 1638.9,1170.1 1639.9,1164.5 1640.9,1159.0 1641.9,1165.2 1642.9,1165.8 1643.9,1163.0 1644.9,1155.8 1645.9,1163.6 1646.9,1158.7 1647.9,1151.6 1648.9,1157.9 1649.9,1150.7 1650.9,1156.5 1651.9,1156.4 1652.9,1158.6 1653.9,1157.6 1654.9,1152.6 1655.9,1156.5 1656.9,1153.7 1657.9,1150.8 1658.9,1154.0 1659.9,1155.6 1660.9,1155.1 1661.9,1152.1 1662.9,1148.2 1663.9,1158.8 1664.9,1153.0 1665.9,1156.8 1666.9,1161.7 1667.9,1161.0 1668.9,1166.8 1669.9,1169.2 1670.9,1175.1 1671.9,1173.9 1672.9,1171.1 1673.9,1171.8 1674.9,1170.7 1675.9,1168.5 1676.9,1174.7 1677.9,1174.4 1678.9,1171.3 1679.9,1167.4 1680.9,1166.7 1681.9,1172.2 1682.9,1170.4 1683.9,1163.7 1684.9,1172.2 1685.9,1163.6 1686.9,1169.8 1687.9,1164.5 1688.9,1161.6 1689.9,1165.4 1690.9,1160.6 1691.9,1157.0 1692.9,1156.5 1693.9,1156.6 1694.9,1162.3 1695.9,1156.5 1696.9,1160.2 1697.9,1156.0 1698.9,1158.2 1699.9,1155.6 1700.9,1154.9 1701.9,1158.0 1702.9,1156.1 1703.9,1153.3 1704.9,1157.5 1705.9,1159.1 1706.9,1158.3 1707.9,1152.8 1708.9,1160.5 1709.9,1160.2 1710.9,1157.5 1711.9,1157.3 1712.9,1163.9 1713.9,1155.1 1714.9,1158.5 1715.9,1167.1 1716.9,1167.9 1717.9,1162.9 1718.9,1171.9 1719.9,1169.6 1720.9,1165.4 1721.9,1170.2 1722.9,1162.0 1723.9,1163.4 1724.9,1165.5 1725.9,1165.2 1726.9,1165.1 1727.9,1162.4 1728.9,1167.5 1729.9,1169.2 1730.9,1169.1 1731.9,1170.6 1732.9,1165.2 1733.9,1169.5 1734.9,1166.2 1735.9,1172.8 1736.9,1170.7 1737.9,1163.4 1738.9,1168.1 1739.9,1173.7 1740.9,1169.7 1741.9,1171.4 1742.9,1161.0 1743.9,1170.3 1744.9,1166.3 1745.9,1166.6 1746.9,1161.3 1747.9,1171.0 1748.9,1169.3 1749.9,1171.3 1750.9,1162.8 1751.9,1161.6 1752.9,1161.1 1753.9,1162.2 1754.9,1158.4 1755.9,1156.3 1756.9,1166.8 1757.9,1162.0 1758.9,1157.3 1759.9,1156.7 1760.9,1164.0 1761.9,1158.8 1762.9,1162.8 1763.9,1165.1 1764.9,1157.4 1765.9,1162.7 1766.9,1161.1 1767.9,1159.3 1768.9,1165.2 1769.9,1163.8 1770.9,1165.3 1771.9,1161.3 1772.9,1161.5 1773.9,1165.8 1774.9,1162.6 1775.9,1161.8 1776.9,1156.6 1777.9,1158.4 1778.9,1158.2 1779.9,1155.2 1780.9,1155.6 1781.9,1160.5 1782.9,1166.2 1783.9,1158.2 1784.9,1155.7 1785.9,1163.4 1786.9,1167.0 1787.9,1159.6 1788.9,1162.8 1789.9,1166.8 1790.9,1163.9 1791.9,1163.7 1792.9,1163.6 1793.9,1172.0 1794.9,1166.2 1795.9,1167.8 1796.9,1166.3 1797.9,1167.9 1798.9,1173.7 1799.9,1164.9 1800.9,1168.2 1801.9,1167.6 1802.9,1165.6 1803.9,1169.2 1804.9,1171.0 1805.9,1166.8 1806.9,1166.7 1807.9,1165.8 1808.9,1168.0 1809.9,1165.1 1810.9,1169.0 1811.9,1167.5 1812.9,1167.1 1813.9,1173.5 1814.9,1166.1 1815.9,1170.9 1816.9,1174.2 1817.9,1167.8 1818.9,1164.9 1819.9,1175.8 1820.9,1171.7 1821.9,1166.3 1822.9,1172.9 1823.9,1175.1 1824.9,1167.9 1825.9,1169.9 1826.9,1171.2 1827.9,1172.4 1828.9,1176.6 1829.9,1174.5 1830.9,1175.4 1831.9,1172.0 1832.9,1178.5 1833.9,1173.0 1834.9,1173.4 1835.9,1169.4 1836.9,1170.7 1837.9,1176.4 1838.9,1169.9 1839.9,1175.3 1840.9,1170.1 1841.9,1169.0 1842.9,1169.3 1843.9,1178.1 1844.9,1169.9 1845.9,1168.8 1846.9,1170.5 1847.9,1170.0 1848.9,1177.8 1849.9,1173.7 1850.9,1174.4 1851.9,1172.9 1852.9,1168.3 1853.9,1177.9 1854.9,1175.9 1855.9,1170.8 1856.9,1177.5 1857.9,1173.6 1858.9,1174.0 1859.9,1168.8 1860.9,1168.4 1861.9,1175.8 1862.9,1169.5 1863.9,1167.7 1864.9,1174.4 1865.9,1170.5 1866.9,1171.8 1867.9,1168.9 1868.9,1168.9 1869.9,1170.7 1870.9,1172.1 1871.9,1168.2 1872.9,1177.9 1873.9,1173.9 1874.9,1177.0 1875.9,1176.9 1876.9,1180.1 1877.9,1180.6 1878.9,1179.0 1879.9,1183.0 1880.9,1177.8 1881.9,1174.0 1882.9,1178.5 1883.9,1179.2 1884.9,1181.9 1885.9,1175.2 1886.9,1179.6 1887.9,1174.2 1888.9,1175.7 1889.9,1176.7 1890.9,1170.2 1891.9,1173.7 1892.9,1169.5 1893.9,1174.5 1894.9,1177.7 1895.9,1169.5 1896.9,1176.9 1897.9,1173.4 1898.9,1173.1 1899.9,1176.6 1900.9,1171.9 1901.9,1168.2 1902.9,1176.9 1903.9,1169.4 1904.9,1167.5 1905.9,1166.9 1906.9,1168.8 1907.9,1177.0 1908.9,1176.5 1909.9,1177.4 1910.9,1167.4 1911.9,1165.5 1912.9,1175.2 1913.9,1164.8 1914.9,1165.4 1915.9,1166.7 1916.9,1164.9 1917.9,1171.6 1918.9,1170.9 1919.9,1164.0 1920.9,1167.3 1921.9,1161.0 1922.9,1161.4 1923.9,1161.6 1924.9,1167.6 1925.9,1169.2 1926.9,1161.0 1927.9,1165.5 1928.9,1162.6 1929.9,1162.1 1930.9,1170.5 1931.9,1168.9 1932.9,1163.1 1933.9,1167.5 1934.9,1169.4 1935.9,1169.8 1936.9,1162.3 1937.9,1166.8 1938.9,1169.6 1939.9,1164.7 1940.9,1163.6 1941.9,1171.4 1942.9,1166.7 1943.9,1166.1 1944.9,1169.8 1945.9,1172.6 1946.9,1163.2 1947.9,1165.8 1948.9,1164.2 1949.9,1172.5 1950.9,1166.6 1951.9,1169.3 1952.9,1165.1 1953.9,1173.6 1954.9,1164.4 1956.0,1170.4 1957.0,1166.1 1958.0,1166.0 1959.0,1161.1 1960.0,1169.3 1961.0,1164.3 1962.0,1169.8 1963.0,1165.0 1964.0,1164.1 1965.0,1167.3 1966.0,1170.3 1967.0,1168.2 1968.0,1169.1 1969.0,1169.9 1970.0,1166.7 1971.0,1163.7 1972.0,1170.5 1973.0,1159.0 1974.0,1159.3 1975.0,1167.6 1976.0,1168.0 1977.0,1167.8 1978.0,1158.2 1979.0,1158.5 1980.0,1160.4 1981.0,1163.6 1982.0,1158.4 1983.0,1156.6 1984.0,1159.7 1985.0,1157.4 1986.0,1164.8 1987.0,1158.7 1988.0,1164.5 1989.0,1156.2 1990.0,1163.8 1991.0,1157.9 1992.0,1156.5 1993.0,1162.1 1994.0,1161.2 1995.0,1160.4 1996.0,1156.1 1997.0,1163.9 1998.0,1161.8 1999.0,1162.4 2000.0,1167.8 2001.0,1163.2 2002.0,1167.8 2003.0,1172.7 2004.0,1169.4 2005.0,1169.6 2006.0,1170.4 2007.0,1167.5 2008.0,1162.4 2009.0,1169.1 2010.0,1168.6 2011.0,1164.2 2012.0,1162.2 2013.0,1160.7 2014.0,1159.2 2015.0,1162.6 2016.0,1164.2 2017.0,1161.9 2018.0,1167.3 2019.0,1166.4 2020.0,1165.9 2021.0,1160.1 2022.0,1167.0 2023.0,1164.2 2024.0,1163.6 2025.0,1162.5 2026.0,1158.9 2027.0,1165.7 2028.0,1164.8 2029.0,1160.9 2030.0,1164.8 2031.0,1167.5 2032.0,1160.7 2033.0,1169.4 2034.0,1163.8 2035.0,1169.8 2036.0,1161.8 2037.0,1163.1 2038.0,1166.5 2039.0,1162.0 2040.0,1165.1 2041.0,1171.2 2042.0,1164.7 2043.0,1168.9 2044.0,1174.2 2045.0,1174.6 2046.0,1168.7 2047.0,1168.5 2048.0,1168.3 2049.0,1175.6 2050.0,1166.4 2051.0,1175.2 2052.0,1166.4 2053.0,1166.9 2054.0,1166.8 2055.0,1168.1 2056.0,1174.8 2057.0,1168.2 2058.0,1175.5 2059.0,1167.6 2060.0,1165.6 2061.0,1169.8 2062.0,1170.2 2063.0,1172.4 2064.0,1170.1 2065.0,1165.4 2066.0,1166.0 2067.0,1171.7 2068.0,1173.2 2069.0,1164.2 2070.0,1169.9 2071.0,1165.9 2072.0,1166.6 2073.0,1170.9 2074.0,1171.9 2075.0,1173.3 2076.0,1165.2 2077.0,1173.1 2078.0,1165.8 2079.0,1164.9 2080.0,1164.6 2081.0,1172.4 2082.0,1167.5 2083.0,1163.7 2084.0,1171.9 2085.0,1165.7 2086.0,1163.1 2087.0,1172.0 2088.0,1172.4 2089.0,1165.8 2090.0,1171.9 2091.0,1173.3 2092.0,1165.2 2093.0,1163.0 2094.0,1166.0 2095.0,1162.5 2096.0,1170.3 2097.0,1165.0 2098.0,1164.1 2099.0,1162.6 2100.0,1166.5 2101.0,1171.2 2102.0,1164.4 2103.0,1168.2 2104.0,1169.9 2105.0,1166.2 2106.0,1167.0 2107.0,1163.1 2108.0,1165.8 2109.0,1167.7 2110.0,1171.0 2111.0,1167.6 2112.0,1168.7 2113.0,1168.1 2114.0,1174.1 2115.0,1165.7 2116.0,1173.6 2117.0,1164.7 2118.0,1170.3 2119.0,1162.2 2120.0,1163.5 2121.0,1171.7 2122.0,1160.4 2123.0,1162.4 2124.0,1162.3 2125.0,1163.2 2126.0,1163.2 2127.0,1163.6 2128.0,1164.6 2129.0,1162.0 2130.0,1166.4 2131.0,1161.8 2132.0,1166.2 2133.0,1166.5 2134.0,1164.6 2135.0,1163.0 2136.0,1161.4 2137.0,1164.3 2138.0,1157.1 2139.0,1159.6 2140.0,1161.3 2141.0,1160.3 2142.0,1159.0 2143.0,1165.9 2144.0,1162.6 2145.0,1163.6 2146.0,1167.8 2147.0,1162.9 2148.0,1166.9 2149.0,1167.7 2150.0,1165.2 2151.0,1163.3 2152.0,1159.1 2153.0,1164.1 2154.0,1160.8 2155.0,1163.8 2156.0,1169.5" fill="none" stroke="#f4a662" stroke-width="9.0" stroke-linejoin="round" stroke-linecap="butt"/>
<polyline points="152.5,1172.3 153.3,1172.4 154.2,1172.3 155.0,1170.5 155.8,1171.5 156.7,1173.9 157.5,1174.9 158.3,1171.7 159.2,1172.9 160.0,1177.0 160.8,1173.1 161.6,1175.5 162.4,1173.7 163.2,1175.0 164.0,1175.9 164.8,1174.3 165.7,1173.2 166.5,1172.7 167.3,1174.0 168.1,1173.8 168.9,1172.6 169.7,1172.6 170.5,1172.8 171.3,1167.3 172.0,1162.7 172.8,1160.4 173.7,1148.2 174.5,1140.6 175.5,1141.5 176.4,1154.2 177.3,1163.9 178.1,1172.2 178.8,1182.1 179.6,1179.4 180.4,1182.5 181.2,1178.7 182.0,1181.7 182.8,1177.9 183.5,1180.9 184.3,1181.6 185.1,1180.3 185.9,1180.7 186.7,1182.1 187.5,1182.5 188.3,1176.9 189.2,1176.9 190.0,1172.9 190.8,1172.9 191.7,1170.1 192.5,1168.5 193.3,1171.3 194.1,1169.4 194.9,1170.3 195.7,1170.2 196.4,1174.7 197.2,1172.6 198.0,1172.4 198.8,1175.7 199.6,1174.9 200.5,1173.2 201.3,1171.5 202.1,1170.2 203.0,1169.2 203.8,1167.5 204.6,1169.0 205.4,1169.9 206.1,1171.5 206.9,1172.8 207.7,1173.8 208.4,1173.3 209.2,1174.3 210.0,1176.2 210.8,1175.2 211.7,1172.3 212.5,1176.3 213.3,1172.5 214.2,1173.6 215.0,1173.2 215.8,1171.2 216.7,1173.3 217.5,1173.0 218.3,1173.8 219.1,1172.5 219.9,1170.7 220.8,1171.7 221.6,1173.2 222.4,1171.4 223.2,1172.1 224.0,1167.8 224.9,1164.8 225.8,1156.2 226.8,1156.0 227.7,1164.3 228.5,1171.1 229.3,1170.6 230.1,1171.2 231.0,1171.3 231.8,1171.4 232.6,1174.0 233.4,1170.6 234.2,1171.2 235.0,1170.5 235.9,1172.6 236.7,1171.3 237.5,1172.7 238.3,1171.7 239.1,1171.8 239.9,1173.5 240.7,1171.8 241.4,1176.0 242.2,1174.8 243.0,1174.3 243.8,1175.3 244.6,1175.7 245.3,1172.1 246.1,1170.3 246.8,1168.6 247.6,1167.5 248.3,1172.5 249.1,1176.5 249.8,1179.0 250.6,1181.4 251.4,1177.2 252.2,1177.7 253.0,1179.1 253.8,1179.0 254.6,1176.5 255.3,1174.4 256.1,1175.7 256.9,1174.7 257.7,1173.4 258.5,1173.5 259.3,1173.6 260.1,1172.3 260.9,1173.3 261.8,1174.2 262.6,1177.4 263.4,1176.7 264.3,1179.7 265.1,1180.9 265.9,1175.3 266.8,1174.8 267.6,1170.8 268.4,1171.5 269.3,1167.5 270.1,1164.5 270.9,1167.2 271.7,1167.9 272.4,1164.9 273.2,1165.7 274.0,1167.4 274.8,1168.0 275.5,1169.2 276.3,1169.8 277.1,1171.8 278.0,1169.8 278.8,1170.6 279.6,1168.4 280.5,1166.0 281.3,1167.1 282.1,1164.6 283.0,1166.1 283.8,1163.4 284.6,1168.7 285.3,1167.2 286.1,1171.5 286.8,1169.8 287.6,1171.2 288.4,1170.1 289.3,1171.7 290.1,1170.4 290.9,1168.8 291.8,1166.7 292.6,1163.4 293.4,1161.8 294.3,1158.7 295.1,1160.9 295.9,1155.0 296.8,1155.7 297.6,1150.2 298.4,1149.4 299.2,1148.7 299.9,1144.7 300.7,1142.3 301.5,1142.8 302.2,1139.0 303.0,1136.6 303.8,1135.2 304.6,1137.6 305.5,1138.6 306.3,1138.4 307.1,1141.4 308.0,1144.0 308.8,1143.9 309.6,1144.1 310.4,1145.0 311.2,1144.0 312.0,1144.2 312.7,1144.1 313.5,1141.4 314.3,1143.0 315.1,1138.3 315.8,1144.4 316.6,1149.3 317.3,1154.7 318.1,1152.7 318.9,1152.8 319.6,1155.2 320.4,1153.5 321.2,1151.7 322.0,1153.9 322.8,1153.2 323.5,1155.3 324.3,1156.4 325.1,1152.9 325.9,1153.7 326.7,1156.1 327.4,1155.2 328.2,1154.6 329.0,1152.2 329.8,1154.4 330.5,1153.4 331.3,1152.8 332.1,1158.4 332.8,1165.8 333.6,1162.5 334.4,1161.2 335.2,1160.3 336.0,1159.6 336.9,1161.0 337.7,1162.2 338.5,1159.6 339.3,1159.8 340.1,1158.8 340.9,1160.6 341.8,1158.2 342.6,1160.1 343.4,1163.0 344.3,1161.0 345.1,1163.6 345.9,1160.9 346.7,1158.4 347.5,1157.6 348.2,1157.1 349.0,1155.0 349.8,1155.9 350.6,1153.6 351.4,1152.4 352.1,1160.1 352.9,1163.7 353.6,1173.9 354.4,1171.1 355.2,1168.1 355.9,1168.4 356.7,1169.9 357.5,1164.1 358.3,1164.1 359.1,1162.3 359.8,1163.0 360.6,1159.9 361.4,1161.8 362.2,1160.1 362.9,1163.5 363.7,1160.2 364.5,1161.3 365.3,1161.0 366.1,1161.7 366.8,1163.0 367.6,1165.5 368.4,1163.8 369.2,1163.1 370.0,1159.1 370.8,1159.3 371.5,1159.6 372.3,1154.9 373.1,1152.9 373.9,1151.1 374.7,1152.6 375.4,1148.9 376.2,1146.0 377.0,1143.8 377.8,1139.6 378.6,1138.2 379.3,1138.2 380.1,1133.9 380.9,1133.6 381.7,1133.9 382.5,1128.9 383.2,1128.7 384.0,1128.5 384.8,1126.9 385.6,1125.7 386.4,1124.6 387.2,1121.7 387.9,1118.8 388.7,1118.9 389.5,1119.1 390.3,1115.4 391.1,1114.6 391.8,1113.3 392.6,1112.8 393.4,1119.0 394.1,1126.0 394.9,1135.6 395.6,1141.2 396.4,1144.7 397.1,1151.3 397.9,1156.1 398.6,1158.9 399.4,1161.8 400.1,1169.1 400.9,1173.2 401.7,1174.6 402.5,1173.3 403.3,1170.0 404.1,1170.5 405.0,1170.9 405.8,1172.7 406.6,1170.6 407.4,1170.1 408.2,1169.7 409.0,1169.9 409.8,1170.9 410.6,1171.7 411.5,1172.2 412.3,1168.5 413.1,1170.5 413.9,1172.4 414.7,1170.2 415.4,1169.5 416.2,1172.7 417.0,1174.2 417.8,1171.0 418.6,1171.9 419.3,1173.5 420.1,1174.4 420.9,1173.8 421.8,1174.2 422.6,1176.4 423.4,1179.5 424.3,1178.2 425.1,1177.4 425.9,1181.2 426.8,1178.5 427.6,1178.4 428.4,1178.1 429.2,1177.4 430.0,1181.4 430.8,1179.3 431.6,1181.3 432.4,1178.9 433.2,1176.4 434.0,1177.7 434.8,1177.3 435.6,1176.2 436.4,1175.6 437.2,1178.5 438.0,1179.4 438.8,1179.7 439.6,1176.3 440.4,1178.2 441.1,1176.4 441.9,1179.3 442.7,1179.6 443.5,1175.3 444.3,1176.1 445.1,1179.4 445.9,1179.4 446.8,1178.2 447.6,1173.8 448.5,1175.9 449.3,1176.1 450.2,1174.6 451.0,1173.9 451.9,1174.5 452.7,1170.5 453.5,1172.1 454.4,1173.2 455.2,1170.3 456.0,1168.6 456.9,1166.7 457.7,1169.5 458.5,1167.6 459.4,1168.1 460.2,1167.3 461.0,1164.4 461.9,1163.5 462.7,1161.6 463.5,1159.6 464.4,1156.4 465.2,1155.9 466.0,1156.7 466.9,1154.5 467.7,1157.3 468.5,1156.7 469.4,1155.9 470.2,1156.4 471.0,1159.1 471.9,1155.2 472.7,1155.4 473.5,1157.6 474.2,1155.7 475.0,1159.3 475.8,1159.6 476.6,1156.9 477.3,1156.9 478.1,1158.4 478.9,1159.4 479.7,1153.7 480.6,1150.3 481.4,1143.1 482.2,1139.1 483.1,1135.6 483.9,1131.3 484.7,1129.5 485.5,1129.4 486.3,1131.8 487.0,1130.9 487.8,1130.3 488.6,1128.9 489.4,1129.5 490.2,1128.1 491.0,1128.5 491.9,1127.3 492.7,1127.5 493.5,1129.0 494.4,1128.3 495.2,1129.3 496.0,1126.2 496.9,1123.5 497.7,1121.9 498.5,1122.5 499.4,1117.0 500.2,1116.0 501.0,1116.7 501.8,1114.6 502.5,1115.2 503.3,1113.4 504.1,1115.0 504.8,1115.5 505.6,1112.6 506.4,1113.8 507.2,1108.5 508.0,1107.5 508.8,1106.1 509.6,1107.6 510.3,1103.6 511.1,1103.5 511.9,1103.3 512.7,1100.3 513.5,1097.0 514.4,1095.2 515.2,1093.3 516.0,1090.5 516.9,1087.7 517.7,1083.3 518.5,1081.8 519.4,1075.3 520.2,1070.6 521.0,1064.7 521.9,1056.6 522.7,1052.2 523.5,1050.8 524.3,1046.7 525.1,1047.4 525.8,1043.9 526.6,1042.0 527.4,1040.3 528.2,1037.4 529.0,1039.0 529.8,1041.3 530.6,1041.6 531.5,1043.6 532.3,1045.0 533.1,1050.5 533.9,1050.7 534.7,1053.1 535.6,1054.0 536.4,1054.1 537.2,1056.0 538.1,1060.5 538.9,1060.5 539.7,1064.3 540.6,1067.2 541.4,1073.2 542.2,1073.7 543.1,1080.6 543.9,1083.5 544.7,1079.9 545.6,1077.4 546.4,1071.2 547.2,1067.7 548.1,1063.4 548.9,1060.8 549.7,1060.1 550.5,1058.1 551.4,1054.0 552.2,1055.2 553.0,1049.9 553.9,1051.3 554.7,1047.5 555.5,1046.6 556.4,1040.3 557.2,1030.8 558.2,1033.6 559.0,1039.9 559.9,1047.2 560.7,1052.4 561.5,1067.5 562.2,1080.3 563.0,1092.7 563.8,1093.9 564.6,1092.6 565.4,1094.8 566.2,1094.0 567.0,1093.9 567.9,1096.8 568.7,1098.9 569.5,1097.4 570.3,1096.5 571.1,1099.4 571.9,1097.9 572.7,1100.7 573.5,1101.8 574.3,1099.9 575.1,1100.9 575.9,1102.2 576.6,1103.9 577.4,1104.7 578.2,1106.6 579.0,1105.5 579.8,1110.4 580.7,1110.3 581.5,1113.9 582.3,1120.7 583.2,1123.1 584.0,1124.6 584.8,1125.1 585.7,1128.1 586.5,1130.9 587.3,1131.1 588.2,1136.0 589.0,1139.6 589.8,1136.0 590.7,1135.2 591.5,1134.0 592.3,1133.8 593.2,1133.9 594.0,1131.6 594.7,1136.3 595.5,1142.2 596.2,1152.1 597.0,1151.1 597.8,1148.8 598.5,1150.4 599.3,1152.3 600.1,1150.8 600.9,1152.4 601.7,1154.2 602.4,1151.4 603.2,1152.1 604.0,1150.9 604.8,1155.1 605.5,1155.6 606.3,1157.5 607.1,1157.9 607.9,1161.0 608.7,1162.5 609.4,1165.5 610.2,1166.4 611.0,1164.0 611.8,1165.2 612.6,1167.4 613.4,1167.4 614.1,1168.3 614.9,1169.2 615.7,1173.3 616.5,1170.7 617.3,1174.8 618.2,1174.1 619.0,1176.2 619.8,1175.7 620.7,1175.5 621.5,1177.1 622.3,1180.4 623.2,1180.6 624.0,1180.8 624.7,1160.5 625.5,1142.9 626.2,1120.9 627.2,1074.8 628.2,1074.3 628.9,1098.4 629.5,1124.1 630.1,1151.0 630.7,1181.6 631.5,1182.7 632.3,1181.2 633.1,1183.9 633.9,1181.5 634.7,1179.2 635.5,1180.3 636.2,1180.1 637.0,1180.5 637.8,1178.3 638.6,1182.6 639.4,1179.9 640.2,1181.1 641.0,1179.5 641.8,1179.0 642.6,1177.8 643.4,1180.2 644.2,1176.1 645.0,1177.5 645.8,1175.8 646.6,1175.5 647.4,1174.1 648.2,1177.7 649.0,1174.2 649.8,1176.5 650.7,1177.1 651.5,1178.3 652.3,1176.5 653.2,1177.1 654.0,1179.2 654.8,1177.2 655.6,1175.1 656.4,1175.1 657.1,1177.1 657.9,1173.6 658.7,1174.3 659.5,1174.5 660.3,1174.0 661.1,1174.1 661.8,1175.8 662.6,1177.7 663.4,1176.3 664.2,1176.5 665.0,1177.7 665.7,1180.3 666.5,1178.6 667.3,1181.6 668.2,1178.5 669.0,1177.8 669.8,1180.4 670.7,1178.2 671.5,1180.1 672.3,1177.2 673.2,1177.3 674.0,1178.1 674.8,1179.0 675.7,1178.0 676.5,1179.8 677.3,1178.8 678.2,1174.1 679.0,1176.7 679.8,1176.7 680.7,1172.4 681.5,1172.2 682.3,1172.0 683.2,1173.3 684.0,1168.9 684.8,1168.0 685.7,1169.6 686.5,1165.8 687.3,1167.3 688.2,1164.4 689.0,1164.8 689.8,1161.9 690.7,1161.0 691.5,1160.3 692.3,1161.9 693.2,1163.3 694.0,1163.6 694.8,1165.8 695.7,1168.0 696.5,1169.5 697.3,1172.1 698.2,1172.5 699.0,1173.4 699.8,1171.9 700.7,1170.0 701.5,1169.1 702.3,1165.7 703.2,1164.8 704.0,1162.7 704.8,1160.1 705.7,1159.2 706.5,1157.5 707.3,1159.1 708.2,1160.0 709.0,1163.5 709.8,1163.7 710.7,1166.0 711.5,1166.2 712.3,1169.2 713.2,1172.2 714.0,1173.3 714.8,1172.3 715.6,1170.2 716.4,1170.0 717.1,1166.7 717.9,1163.8 718.7,1162.3 719.5,1162.3 720.3,1160.2 721.1,1161.3 721.8,1162.6 722.6,1163.8 723.4,1163.9 724.1,1164.5 724.9,1166.5 725.7,1166.7 726.4,1168.6 727.2,1168.9 728.0,1172.8 728.7,1173.7 729.5,1173.5 730.3,1170.3 731.0,1164.7 731.8,1159.5 732.5,1154.3 733.3,1149.7 734.0,1145.1 734.8,1145.5 735.6,1146.2 736.5,1148.9 737.3,1147.8 738.1,1148.6 738.9,1151.3 739.7,1151.4 740.5,1153.5 741.4,1151.0 742.2,1151.9 743.0,1154.4 743.7,1151.5 744.5,1143.8 745.2,1139.9 746.1,1136.2 747.0,1130.3 747.9,1140.0 748.8,1148.3 749.7,1158.4 750.6,1159.5 751.4,1161.6 752.2,1165.2 753.1,1162.5 754.0,1165.7 754.8,1166.9 755.6,1166.2 756.5,1169.0 757.3,1164.6 758.1,1167.4 758.9,1161.8 759.6,1161.9 760.4,1159.2 761.2,1158.8 762.0,1156.7 762.8,1157.8 763.6,1156.6 764.5,1159.9 765.3,1157.7 766.1,1155.7 767.0,1159.5 767.8,1155.4 768.6,1157.9 769.5,1156.8 770.3,1156.4 771.1,1158.6 771.9,1157.5 772.7,1160.4 773.5,1161.6 774.2,1163.0 775.0,1164.4 775.8,1162.0 776.6,1166.6 777.4,1165.9 778.2,1167.4 779.0,1166.7 779.9,1169.4 780.7,1170.4 781.5,1174.0 782.3,1174.4 783.1,1176.8 783.8,1164.0 784.6,1153.7 785.3,1144.9 786.1,1143.8 787.0,1144.9 787.8,1147.1 788.6,1150.8 789.5,1150.8 790.3,1148.8 791.1,1146.1 791.8,1145.0 792.6,1143.2 793.3,1145.5 794.1,1140.8 794.8,1138.9 795.6,1140.3 796.3,1136.8 797.1,1135.5 797.8,1127.1 798.6,1121.3 799.3,1116.3 800.3,1116.7 801.0,1126.5 801.7,1136.5 802.4,1145.5 803.2,1145.2 804.0,1144.3 804.9,1145.9 805.7,1150.5 806.5,1147.9 807.3,1151.1 808.2,1149.8 809.0,1151.7 809.8,1150.1 810.6,1154.0 811.5,1152.9 812.3,1155.8 813.1,1156.8 813.8,1138.9 814.6,1126.1 815.3,1112.3 816.1,1097.2 816.8,1082.9 817.6,1072.7 818.6,1051.5 819.6,1051.3 820.5,1071.1 821.3,1083.1 822.3,1108.8 823.3,1134.7 824.1,1147.2 825.0,1160.2 825.8,1174.0 826.6,1173.9 827.4,1173.5 828.2,1173.6 829.0,1169.7 829.8,1166.7 830.5,1169.4 831.3,1167.0 832.1,1167.3 832.9,1165.4 833.7,1160.4 834.5,1162.1 835.3,1159.5 836.1,1160.2 837.0,1157.2 837.8,1156.6 838.6,1158.5 839.5,1157.9 840.3,1159.6 841.1,1158.0 842.0,1161.3 842.8,1162.9 843.6,1164.0 844.5,1166.5 845.3,1168.4 846.1,1167.4 847.0,1166.3 847.8,1164.9 848.6,1164.4 849.5,1166.5 850.3,1165.7 851.1,1165.2 852.0,1166.6 852.8,1164.3 853.6,1165.1 854.5,1166.6 855.3,1169.6 856.1,1168.0 857.0,1167.6 857.8,1170.9 858.6,1173.1 859.5,1173.2 860.3,1173.8 861.1,1175.9 861.9,1175.9 862.8,1177.8 863.6,1175.6 864.4,1173.7 865.1,1167.6 865.9,1163.8 866.6,1159.7 867.4,1160.4 868.3,1158.7 869.1,1160.3 869.9,1159.3 870.8,1162.0 871.6,1160.2 872.4,1160.2 873.3,1164.2 874.1,1162.3 874.9,1160.1 875.7,1159.8 876.5,1161.5 877.3,1159.8 878.1,1158.5 879.0,1154.8 879.8,1154.3 880.6,1153.1 881.4,1153.1 882.2,1152.8 883.0,1151.4 883.8,1151.6 884.6,1135.8 885.3,1122.5 886.1,1111.9 886.8,1102.5 887.6,1093.9 888.3,1083.9 889.0,1079.3 889.7,1073.1 890.4,1070.6 891.4,1067.1 892.1,1089.7 892.8,1110.0 893.5,1125.5 894.3,1137.8 895.1,1140.2 895.9,1140.7 896.6,1139.2 897.4,1135.5 898.2,1137.3 899.0,1135.4 899.8,1135.7 900.6,1134.6 901.3,1134.7 902.1,1132.8 902.9,1132.9 903.6,1134.6 904.4,1138.0 905.1,1139.3 905.9,1142.9 906.6,1140.8 907.4,1148.9 908.3,1156.2 909.1,1165.2 909.9,1166.2 910.7,1163.9 911.5,1166.7 912.2,1167.0 913.0,1167.8 913.8,1165.3 914.6,1166.1 915.4,1167.8 916.2,1164.7 917.1,1164.3 917.9,1163.3 918.7,1165.9 919.6,1165.6 920.4,1163.5 921.2,1165.1 922.0,1165.9 922.7,1164.5 923.5,1167.8 924.3,1167.3 925.0,1169.7 925.8,1169.7 926.6,1168.1 927.4,1169.3 928.3,1167.6 929.1,1165.7 929.9,1159.9 930.8,1160.6 931.6,1157.6 932.4,1155.4 933.3,1158.4 934.1,1157.6 934.9,1155.8 935.8,1156.7 936.6,1156.0 937.4,1153.8 938.3,1155.5 939.1,1156.7 939.9,1165.4 940.6,1175.1 941.4,1171.3 942.2,1170.7 943.0,1168.9 943.8,1168.7 944.7,1165.5 945.5,1165.6 946.3,1161.5 947.1,1161.2 947.9,1159.7 948.7,1159.0 949.5,1162.3 950.3,1161.5 951.1,1157.7 951.9,1157.7 952.6,1160.1 953.4,1160.7 954.2,1161.2 955.0,1159.7 955.8,1162.2 956.6,1158.2 957.4,1159.5 958.3,1163.1 959.1,1163.7 959.9,1168.9 960.8,1169.7 961.6,1171.8 962.4,1167.2 963.1,1166.7 963.9,1167.2 964.6,1166.2 965.4,1167.0 966.2,1165.1 966.9,1167.2 967.7,1166.5 968.4,1164.1 969.2,1164.1 970.0,1165.1 970.9,1170.9 971.7,1170.1 972.5,1175.1 973.4,1176.1 974.2,1177.6 975.0,1177.8 975.9,1173.9 976.7,1175.6 977.5,1173.3 978.4,1172.0 979.2,1172.6 980.0,1171.4 980.9,1168.8 981.7,1167.3 982.5,1169.9 983.2,1167.0 984.0,1166.7 984.8,1168.5 985.6,1168.4 986.4,1169.9 987.1,1170.5 987.9,1171.8 988.7,1166.1 989.6,1164.7 990.4,1163.7 991.2,1158.2 992.1,1159.4 992.9,1154.1 993.7,1154.7 994.6,1150.9 995.4,1151.9 996.2,1148.1 997.1,1147.2 997.9,1145.4 998.6,1150.5 999.4,1158.0 1000.1,1162.8 1000.9,1170.4 1001.7,1171.6 1002.6,1168.2 1003.4,1167.9 1004.2,1170.3 1005.0,1168.6 1005.9,1171.1 1006.7,1168.7 1007.5,1168.7 1008.4,1168.1 1009.2,1170.9 1010.0,1171.8 1010.8,1170.2 1011.5,1167.9 1012.3,1168.2 1013.1,1169.2 1013.9,1166.7 1014.6,1167.0 1015.4,1165.0 1016.2,1162.2 1017.1,1164.3 1017.9,1161.6 1018.7,1161.4 1019.6,1158.9 1020.4,1157.5 1021.2,1163.1 1021.9,1168.9 1022.7,1175.1 1023.5,1175.8 1024.3,1172.2 1025.1,1170.1 1026.0,1172.3 1026.8,1166.8 1027.6,1167.5 1028.4,1168.1 1029.2,1166.9 1030.0,1161.1 1030.9,1160.2 1031.8,1159.3 1032.6,1156.9 1033.5,1155.5 1034.3,1154.2 1035.2,1150.4 1036.0,1152.4 1036.7,1142.8 1037.5,1141.4 1038.2,1134.1 1039.2,1137.0 1040.2,1145.0 1041.2,1156.7 1042.0,1156.9 1042.9,1159.2 1043.7,1159.0 1044.6,1155.6 1045.4,1155.5 1046.2,1156.0 1047.1,1154.6 1047.9,1156.3 1048.7,1159.7 1049.4,1166.5 1050.2,1175.3 1051.0,1172.2 1051.8,1175.0 1052.6,1171.5 1053.5,1171.6 1054.3,1169.2 1055.1,1169.1 1055.9,1165.6 1056.7,1166.5 1057.5,1163.5 1058.4,1163.6 1059.2,1158.3 1060.0,1159.3 1060.9,1156.3 1061.7,1155.3 1062.5,1161.8 1063.2,1165.9 1064.0,1172.2 1064.7,1178.6 1065.5,1176.7 1066.3,1175.4 1067.1,1173.6 1067.9,1176.8 1068.7,1172.4 1069.5,1174.3 1070.2,1174.1 1071.0,1173.9 1071.8,1174.1 1072.6,1170.6 1073.4,1172.3 1074.2,1170.0 1075.0,1170.8 1075.9,1173.1 1076.7,1169.8 1077.5,1173.6 1078.4,1173.5 1079.2,1172.7 1080.0,1171.9 1080.9,1171.0 1081.7,1167.6 1082.5,1166.2 1083.4,1164.6 1084.2,1162.6 1085.0,1163.9 1085.8,1165.0 1086.6,1166.5 1087.3,1167.9 1088.1,1169.5 1088.9,1172.2 1089.7,1174.1 1090.5,1175.3 1091.3,1174.9 1092.0,1171.6 1092.8,1170.1 1093.6,1171.8 1094.4,1168.6 1095.2,1166.6 1095.9,1165.7 1096.7,1165.4 1097.5,1166.0 1098.4,1166.4 1099.2,1167.6 1100.0,1169.6 1100.9,1171.0 1101.7,1170.6 1102.5,1172.6 1103.4,1171.6 1104.2,1172.6 1105.0,1170.6 1105.9,1173.3 1106.7,1172.8 1107.5,1172.7 1108.4,1170.3 1109.2,1170.3 1110.0,1171.5 1110.9,1173.2 1111.7,1170.8 1112.5,1174.7 1113.3,1173.6 1114.1,1172.3 1114.9,1174.3 1115.7,1172.6 1116.5,1172.9 1117.2,1175.5 1118.0,1175.4 1118.8,1175.3 1119.6,1179.0 1120.4,1177.6 1121.2,1175.4 1122.0,1170.8 1122.9,1165.1 1123.7,1157.7 1124.7,1160.0 1125.5,1164.8 1126.4,1171.4 1127.2,1172.9 1128.0,1175.5 1128.9,1173.3 1129.7,1172.6 1130.5,1173.1 1131.3,1171.8 1132.2,1175.1 1133.0,1173.5 1133.8,1173.3 1134.7,1172.6 1135.5,1173.9 1136.3,1173.1 1137.2,1170.3 1138.0,1167.9 1138.8,1168.8 1139.7,1166.6 1140.5,1165.2 1141.3,1166.7 1142.2,1167.6 1143.0,1170.1 1143.8,1169.1 1144.7,1171.2 1145.5,1175.7 1146.3,1177.1 1147.2,1175.3 1148.0,1175.7 1148.8,1175.4 1149.5,1177.7 1150.3,1175.8 1151.1,1171.6 1151.9,1171.7 1152.7,1173.6 1153.4,1171.0 1154.2,1168.3 1155.0,1168.5 1155.9,1172.4 1156.7,1170.4 1157.5,1170.8 1158.4,1169.0 1159.2,1169.7 1160.0,1169.8 1160.9,1171.9 1161.7,1169.6 1162.5,1168.9 1163.3,1172.0 1164.1,1173.2 1164.8,1173.8 1165.6,1175.4 1166.4,1176.1 1167.2,1175.5 1168.0,1174.3 1168.8,1175.5 1169.7,1175.6 1170.5,1175.5 1171.3,1176.1 1172.2,1176.4 1173.0,1175.3 1173.8,1175.3 1174.7,1177.4 1175.5,1174.6 1176.3,1175.7 1177.2,1174.9 1178.0,1173.1 1178.8,1176.7 1179.7,1173.2 1180.5,1172.1 1181.3,1172.3 1182.2,1173.5 1183.0,1172.8 1183.8,1171.0 1184.7,1172.2 1185.5,1170.5 1186.3,1170.8 1187.2,1172.2 1188.0,1171.8 1188.8,1169.9 1189.7,1169.7 1190.5,1171.0 1191.3,1169.5 1192.2,1166.9 1193.0,1166.6 1193.8,1169.0 1194.7,1167.6 1195.5,1168.5 1196.3,1169.4 1197.2,1166.3 1198.0,1165.9 1198.8,1165.1 1199.7,1164.9 1200.5,1167.8 1201.3,1167.3 1202.2,1168.6 1203.0,1164.4 1203.8,1168.3 1204.7,1167.7 1205.5,1163.7 1206.3,1164.5 1207.2,1163.4 1208.0,1164.7 1208.8,1163.1 1209.7,1164.3 1210.5,1167.2 1211.3,1166.2 1212.2,1165.0 1213.0,1167.4 1213.8,1163.2 1214.7,1163.1 1215.5,1165.9 1216.3,1164.4 1217.2,1165.0 1218.0,1163.6 1218.8,1166.8 1219.7,1163.4 1220.5,1167.0 1221.3,1165.5 1222.2,1167.0 1223.0,1165.9 1223.8,1166.6 1224.7,1165.7 1225.5,1166.1 1226.3,1168.2 1227.2,1167.6 1228.0,1168.7 1228.8,1168.1 1229.7,1168.1 1230.5,1167.7 1231.3,1164.8 1232.2,1167.4 1233.0,1168.0 1233.8,1165.0 1234.7,1166.4 1235.5,1163.5 1236.3,1162.9 1237.2,1166.1 1238.0,1164.1 1238.8,1163.7 1239.7,1161.0 1240.5,1164.9 1241.3,1159.7 1242.2,1163.6 1243.0,1161.8 1243.8,1160.0 1244.7,1162.1 1245.5,1161.5 1246.3,1163.8 1247.2,1164.5 1248.0,1164.9 1248.8,1164.8 1249.7,1161.5 1250.5,1163.2 1251.3,1163.1 1252.2,1165.8 1253.0,1165.9 1253.8,1163.9 1254.7,1167.4 1255.5,1163.2 1256.3,1164.0 1257.2,1165.2 1258.0,1167.4 1258.8,1164.2 1259.7,1162.9 1260.5,1163.3 1261.3,1166.8 1262.2,1165.4 1263.0,1163.5 1263.8,1165.1 1264.7,1166.2 1265.5,1163.7 1266.3,1162.6 1267.2,1160.0 1268.0,1162.6 1268.8,1158.9 1269.7,1158.7 1270.5,1161.6 1271.3,1160.2 1272.1,1157.1 1272.9,1156.5 1273.7,1153.4 1274.4,1154.3 1275.2,1152.2 1276.0,1152.8 1276.8,1149.9 1277.6,1147.1 1278.3,1146.0 1279.1,1139.9 1279.8,1136.8 1280.6,1135.7 1281.3,1133.1 1282.1,1129.5 1282.8,1128.9 1283.6,1127.0 1284.3,1125.2 1285.1,1126.5 1285.8,1129.4 1286.6,1131.4 1287.3,1132.9 1288.1,1134.2 1288.9,1136.2 1289.8,1142.1 1290.6,1142.0 1291.4,1146.8 1292.3,1149.0 1293.1,1153.9 1293.9,1157.2 1294.8,1159.6 1295.6,1161.2 1296.4,1165.4 1297.3,1167.3 1298.1,1172.7 1298.9,1172.4 1299.8,1172.8 1300.6,1171.6 1301.4,1170.5 1302.3,1170.6 1303.1,1170.1 1303.9,1173.0 1304.8,1170.9 1305.6,1172.1 1306.4,1168.8 1307.3,1170.1 1308.1,1169.8 1308.9,1169.9 1309.8,1169.6 1310.6,1171.7 1311.4,1168.3 1312.3,1171.0 1313.1,1171.2 1313.9,1170.3 1314.8,1168.9 1315.6,1169.8 1316.4,1168.1 1317.3,1169.7 1318.1,1168.8 1318.9,1169.5 1319.8,1166.7 1320.6,1168.7 1321.4,1168.2 1322.3,1169.1 1323.1,1167.8 1323.9,1168.2 1324.8,1168.4 1325.6,1168.2 1326.4,1169.0 1327.3,1172.3 1328.1,1168.9 1328.9,1170.6 1329.8,1172.3 1330.6,1172.2 1331.4,1171.4 1332.3,1173.5 1333.1,1171.5 1333.9,1175.0 1334.8,1173.6 1335.6,1174.2 1336.4,1175.1 1337.3,1172.6 1338.1,1174.3 1338.9,1176.3 1339.8,1172.4 1340.6,1174.6 1341.4,1175.6 1342.3,1172.9 1343.1,1173.8 1343.9,1172.1 1344.8,1175.8 1345.6,1174.1 1346.4,1174.4 1347.3,1175.1 1348.1,1174.5 1348.9,1173.0 1349.8,1170.4 1350.6,1169.6 1351.4,1172.5 1352.3,1169.5 1353.1,1173.3 1353.9,1170.4 1354.8,1172.3 1355.6,1170.7 1356.4,1172.2 1357.3,1168.2 1358.1,1168.7 1358.9,1172.5 1359.8,1170.8 1360.6,1170.0 1361.4,1172.5 1362.3,1170.7 1363.1,1173.7 1363.9,1169.3 1364.8,1173.4 1365.6,1170.2 1366.4,1172.5 1367.3,1170.4 1368.1,1170.6 1368.9,1174.6 1369.8,1173.4 1370.6,1172.9 1371.4,1173.0 1372.3,1170.7 1373.1,1171.9 1373.9,1174.6 1374.8,1173.7 1375.6,1173.7 1376.4,1171.8 1377.3,1174.5 1378.1,1172.2 1378.9,1173.9 1379.8,1170.0 1380.6,1169.5 1381.4,1170.6 1382.3,1169.9 1383.1,1170.3 1383.9,1166.7 1384.8,1167.2 1385.6,1167.9 1386.4,1165.7 1387.3,1166.2 1388.1,1164.8 1388.9,1165.9 1389.8,1166.3 1390.6,1166.3 1391.4,1169.4 1392.3,1167.9 1393.1,1170.4 1393.9,1169.0 1394.8,1173.5 1395.6,1174.7 1396.4,1173.9 1397.2,1172.3 1398.0,1172.9 1398.8,1172.2 1399.6,1172.7 1400.4,1167.9 1401.2,1167.5 1402.0,1170.5 1402.8,1169.8 1403.6,1170.2 1404.4,1167.9 1405.2,1165.9 1406.1,1159.4 1406.9,1155.3 1407.7,1152.1 1408.6,1148.6 1409.4,1146.2 1410.1,1144.1 1410.9,1137.1 1411.6,1135.7 1412.4,1131.5 1413.1,1128.8 1413.9,1126.4 1414.6,1126.7 1415.4,1125.7 1416.1,1123.4 1416.9,1122.9 1417.6,1123.7 1418.4,1127.1 1419.1,1129.1 1419.9,1129.4 1420.6,1132.0 1421.4,1134.9 1422.3,1136.5 1423.1,1140.6 1423.9,1142.7 1424.8,1148.6 1425.6,1152.3 1426.4,1151.2 1427.3,1153.4 1428.1,1159.4 1428.9,1157.8 1429.8,1163.4 1430.6,1166.9 1431.4,1163.9 1432.3,1167.5 1433.1,1165.4 1433.9,1167.2 1434.8,1164.5 1435.6,1166.9 1436.4,1169.2 1437.3,1165.0 1438.1,1167.3 1438.9,1167.4 1439.8,1164.7 1440.6,1164.0 1441.4,1165.5 1442.3,1164.8 1443.1,1162.9 1443.9,1161.4 1444.8,1160.9 1445.6,1159.8 1446.4,1161.0 1447.2,1162.3 1448.0,1165.2 1448.8,1167.5 1449.5,1169.0 1450.3,1171.2 1451.1,1170.1 1451.9,1171.7 1452.7,1170.8 1453.5,1169.7 1454.2,1168.1 1455.0,1168.1 1455.8,1164.4 1456.5,1164.4 1457.3,1164.1 1458.1,1164.7 1458.9,1163.3 1459.8,1161.4 1460.6,1159.6 1461.4,1158.8 1462.3,1155.7 1463.1,1154.9 1463.9,1157.2 1464.7,1157.7 1465.5,1160.4 1466.2,1159.8 1467.0,1163.4 1467.8,1162.8 1468.6,1163.9 1469.4,1165.9 1470.2,1166.9 1471.0,1165.1 1471.8,1167.1 1472.6,1167.8 1473.4,1166.2 1474.2,1164.8 1475.0,1162.8 1475.8,1162.9 1476.6,1163.3 1477.4,1165.1 1478.2,1163.1 1479.0,1161.1 1479.9,1159.1 1480.7,1160.5 1481.5,1159.6 1482.4,1161.1 1483.2,1160.9 1484.0,1158.2 1484.9,1158.5 1485.7,1158.1 1486.5,1156.9 1487.4,1161.3 1488.2,1163.1 1489.0,1163.3 1489.9,1160.9 1490.7,1162.4 1491.5,1165.1 1492.4,1167.0 1493.2,1168.0 1494.0,1165.5 1494.9,1166.3 1495.7,1163.8 1496.5,1162.1 1497.4,1162.6 1498.2,1162.1 1499.0,1161.8 1499.9,1160.4 1500.7,1159.6 1501.5,1158.8 1502.4,1158.5 1503.2,1157.9 1504.0,1158.7 1504.8,1159.7 1505.5,1160.1 1506.3,1161.1 1507.1,1164.1 1507.9,1162.8 1508.6,1164.3 1509.4,1165.9 1510.2,1161.9 1511.0,1160.0 1511.8,1161.1 1512.6,1158.5 1513.3,1158.4 1514.1,1155.3 1514.9,1153.4 1515.7,1152.3 1516.5,1154.1 1517.4,1154.6 1518.2,1155.7 1519.0,1158.2 1519.9,1156.9 1520.7,1158.6 1521.5,1160.1 1522.4,1162.1 1523.2,1161.7 1524.0,1164.1 1524.9,1160.6 1525.7,1159.8 1526.5,1160.5 1527.4,1162.4 1528.2,1161.5 1529.0,1160.2 1529.9,1158.7 1530.7,1163.0 1531.5,1160.7 1532.4,1159.3 1533.2,1158.9 1534.0,1162.0 1534.9,1160.7 1535.7,1162.9 1536.5,1162.9 1537.4,1161.3 1538.2,1160.9 1539.0,1161.3 1539.9,1160.5 1540.7,1163.5 1541.5,1164.3 1542.4,1163.9 1543.2,1164.2 1544.0,1165.5 1544.9,1162.9 1545.7,1167.1 1546.5,1169.9 1547.4,1167.4 1548.2,1168.6 1549.0,1167.0 1549.8,1168.8 1550.5,1165.9 1551.3,1162.5 1552.1,1162.9 1552.9,1159.8 1553.6,1159.6 1554.4,1157.3 1555.2,1159.1 1556.0,1159.9 1556.8,1160.9 1557.6,1161.1 1558.4,1161.1 1559.2,1163.2 1560.0,1165.9 1560.8,1162.7 1561.6,1167.2 1562.4,1166.6 1563.2,1167.9 1564.0,1166.1 1564.9,1166.5 1565.7,1166.6 1566.5,1169.4 1567.4,1168.9 1568.2,1168.5 1569.0,1168.5 1569.9,1166.7 1570.7,1169.2 1571.5,1168.8 1572.4,1165.8 1573.2,1166.4 1574.0,1167.9 1574.9,1168.4 1575.7,1167.6 1576.5,1169.3 1577.4,1169.1 1578.2,1168.0 1579.0,1167.6 1579.9,1169.9 1580.7,1168.3 1581.5,1171.2 1582.4,1171.7 1583.2,1171.6 1584.0,1170.6 1584.9,1168.0 1585.7,1167.6 1586.5,1168.9 1587.4,1165.0 1588.2,1168.6 1589.0,1164.0 1589.9,1165.4 1590.7,1163.3 1591.5,1163.2 1592.4,1164.6 1593.2,1167.4 1594.0,1166.6 1594.9,1167.5 1595.7,1167.4 1596.5,1170.0 1597.4,1169.9 1598.2,1166.6 1599.0,1171.5 1599.9,1171.1 1600.7,1170.5 1601.5,1169.2 1602.4,1167.8 1603.2,1170.7 1604.0,1168.1 1604.9,1166.7 1605.7,1170.6 1606.5,1167.7 1607.4,1166.4 1608.2,1168.4 1609.0,1169.3 1609.9,1167.1 1610.7,1166.0 1611.5,1166.4 1612.4,1169.7 1613.2,1166.8 1614.0,1168.1 1614.9,1166.3 1615.7,1168.0 1616.5,1168.9 1617.4,1166.0 1618.2,1169.1 1619.0,1166.2 1619.9,1168.4 1620.7,1171.0 1621.5,1170.6 1622.4,1170.6 1623.2,1169.4 1624.0,1173.7 1624.9,1171.9 1625.7,1172.8 1626.5,1174.3 1627.4,1173.6 1628.2,1171.7 1629.0,1171.1 1629.9,1170.9 1630.7,1171.1 1631.5,1167.0 1632.4,1168.6 1633.2,1167.7 1634.0,1168.7 1634.9,1165.3 1635.7,1165.0 1636.5,1167.5 1637.4,1165.9 1638.2,1167.3 1639.0,1163.5 1639.9,1165.9 1640.7,1162.2 1641.5,1164.9 1642.4,1164.6 1643.2,1164.0 1644.0,1161.9 1644.9,1162.5 1645.7,1157.5 1646.5,1156.1 1647.4,1154.9 1648.2,1157.4 1649.0,1157.0 1649.9,1155.0 1650.7,1150.6 1651.5,1149.6 1652.3,1147.5 1653.1,1146.1 1653.8,1147.4 1654.6,1144.0 1655.4,1144.5 1656.2,1143.7 1657.0,1140.1 1657.8,1137.2 1658.7,1134.9 1659.5,1134.7 1660.4,1133.0 1661.2,1130.4 1662.1,1137.7 1663.0,1148.1 1663.9,1157.2 1664.8,1156.3 1665.6,1159.3 1666.5,1160.2 1667.3,1160.8 1668.2,1164.3 1669.0,1166.6 1669.9,1169.2 1670.7,1168.0 1671.5,1167.8 1672.4,1171.4 1673.2,1171.8 1674.0,1168.6 1674.9,1168.0 1675.7,1168.9 1676.5,1168.3 1677.4,1172.0 1678.2,1170.8 1679.0,1168.8 1679.7,1171.3 1680.5,1166.9 1681.2,1168.9 1682.0,1168.0 1682.8,1165.7 1683.7,1165.9 1684.5,1168.6 1685.3,1167.8 1686.2,1166.4 1687.0,1166.4 1687.8,1164.1 1688.7,1167.5 1689.5,1165.3 1690.3,1162.4 1691.1,1161.5 1691.9,1157.5 1692.7,1155.9 1693.4,1156.9 1694.2,1152.2 1695.0,1153.2 1695.8,1150.4 1696.6,1150.4 1697.3,1146.9 1698.1,1147.8 1698.9,1146.8 1699.7,1144.0 1700.5,1141.6 1701.2,1140.9 1702.0,1140.2 1702.8,1142.5 1703.7,1145.6 1704.5,1149.3 1705.3,1150.2 1706.2,1151.6 1707.0,1153.0 1707.8,1155.7 1708.6,1154.6 1709.4,1154.5 1710.2,1156.8 1710.9,1155.0 1711.7,1158.1 1712.5,1156.4 1713.3,1155.9 1714.1,1157.7 1715.0,1160.5 1715.8,1162.0 1716.6,1168.3 1717.5,1167.1 1718.3,1168.8 1719.1,1170.7 1720.0,1166.6 1720.8,1167.1 1721.6,1164.9 1722.5,1164.9 1723.3,1163.4 1724.1,1164.5 1725.0,1163.2 1725.8,1159.5 1726.6,1160.2 1727.3,1157.8 1728.1,1161.8 1728.9,1158.6 1729.7,1162.2 1730.5,1161.3 1731.2,1162.5 1732.0,1160.4 1732.8,1162.6 1733.6,1162.8 1734.4,1164.0 1735.2,1165.6 1735.9,1164.4 1736.7,1169.0 1737.5,1167.7 1738.3,1171.5 1739.1,1168.7 1739.9,1168.1 1740.7,1166.3 1741.5,1166.3 1742.4,1163.6 1743.2,1165.3 1744.0,1163.9 1744.8,1164.7 1745.7,1149.1 1746.5,1138.8 1747.5,1140.4 1748.4,1154.2 1749.3,1163.9 1750.1,1166.2 1750.9,1161.8 1751.7,1161.9 1752.5,1162.1 1753.4,1163.1 1754.2,1162.6 1755.0,1161.6 1755.8,1157.7 1756.6,1159.9 1757.5,1154.8 1758.3,1153.4 1759.1,1153.9 1760.0,1151.3 1760.8,1149.8 1761.6,1151.0 1762.5,1152.8 1763.3,1154.9 1764.1,1158.9 1765.0,1156.4 1765.8,1158.3 1766.6,1159.8 1767.5,1160.9 1768.3,1157.4 1769.1,1160.5 1770.0,1156.6 1770.8,1159.1 1771.6,1158.7 1772.5,1159.5 1773.3,1158.0 1774.1,1156.8 1775.0,1159.3 1775.8,1157.4 1776.6,1159.6 1777.5,1161.0 1778.3,1157.8 1779.0,1160.3 1779.8,1157.6 1780.5,1155.2 1781.3,1153.4 1782.0,1152.6 1782.8,1154.4 1783.7,1154.7 1784.5,1158.3 1785.4,1160.7 1786.2,1162.3 1787.1,1161.1 1787.9,1165.5 1788.8,1166.1 1789.6,1165.9 1790.4,1165.3 1791.3,1163.3 1792.1,1165.5 1792.9,1166.8 1793.8,1165.6 1794.6,1165.6 1795.4,1166.0 1796.3,1169.4 1797.1,1166.9 1797.9,1167.5 1798.8,1169.9 1799.6,1168.9 1800.4,1168.0 1801.3,1170.6 1802.1,1170.8 1802.9,1167.3 1803.8,1171.0 1804.6,1170.6 1805.4,1169.8 1806.3,1171.0 1807.1,1170.0 1807.9,1166.8 1808.8,1167.9 1809.6,1165.9 1810.4,1167.2 1811.3,1164.5 1812.1,1167.3 1812.9,1166.2 1813.8,1165.2 1814.6,1164.6 1815.4,1168.4 1816.3,1165.6 1817.1,1168.8 1817.9,1168.1 1818.8,1169.1 1819.6,1169.8 1820.4,1169.3 1821.3,1170.3 1822.1,1167.8 1822.9,1168.0 1823.8,1169.4 1824.6,1170.4 1825.4,1171.3 1826.3,1170.4 1827.1,1169.1 1827.9,1173.6 1828.8,1172.1 1829.6,1172.7 1830.4,1172.3 1831.3,1173.4 1832.1,1171.6 1832.9,1174.3 1833.8,1172.5 1834.6,1173.1 1835.4,1173.2 1836.3,1172.4 1837.1,1173.7 1837.9,1171.8 1838.8,1173.7 1839.6,1170.4 1840.4,1173.2 1841.3,1171.4 1842.1,1172.7 1842.9,1171.1 1843.8,1173.4 1844.6,1172.7 1845.4,1171.2 1846.3,1171.5 1847.1,1170.4 1847.9,1173.8 1848.8,1172.8 1849.6,1173.3 1850.4,1171.3 1851.3,1172.5 1852.1,1172.2 1852.9,1170.3 1853.8,1172.1 1854.6,1171.2 1855.4,1170.3 1856.3,1173.3 1857.1,1170.7 1857.9,1170.4 1858.8,1171.2 1859.6,1172.1 1860.4,1172.0 1861.3,1171.8 1862.1,1171.1 1862.9,1173.6 1863.8,1170.7 1864.6,1169.5 1865.4,1173.1 1866.3,1172.9 1867.1,1173.6 1867.9,1172.6 1868.8,1174.3 1869.6,1171.6 1870.4,1171.9 1871.3,1173.9 1872.1,1171.8 1872.9,1171.4 1873.8,1175.4 1874.6,1172.0 1875.4,1174.7 1876.3,1177.0 1877.1,1175.0 1877.9,1173.4 1878.8,1177.9 1879.6,1178.2 1880.4,1176.9 1881.3,1175.5 1882.1,1177.5 1882.9,1178.9 1883.8,1176.1 1884.6,1176.9 1885.4,1175.5 1886.3,1174.2 1887.1,1176.4 1887.9,1175.9 1888.8,1173.3 1889.6,1172.5 1890.4,1172.2 1891.3,1172.3 1892.1,1172.2 1892.9,1174.9 1893.8,1176.0 1894.6,1172.4 1895.4,1175.6 1896.3,1173.0 1897.1,1172.2 1897.9,1173.3 1898.8,1174.7 1899.6,1174.4 1900.4,1171.9 1901.3,1170.5 1902.1,1172.4 1902.9,1170.5 1903.8,1172.4 1904.6,1173.1 1905.4,1170.6 1906.3,1173.8 1907.1,1172.9 1907.9,1170.2 1908.8,1172.9 1909.6,1170.3 1910.4,1172.3 1911.3,1171.6 1912.1,1172.3 1912.9,1170.9 1913.8,1169.9 1914.6,1168.8 1915.4,1168.3 1916.3,1165.5 1917.1,1168.8 1917.9,1168.2 1918.8,1163.3 1919.6,1164.3 1920.4,1164.4 1921.3,1162.2 1922.1,1161.1 1922.9,1163.4 1923.8,1161.6 1924.6,1158.6 1925.4,1160.0 1926.3,1162.2 1927.1,1163.6 1927.9,1160.3 1928.8,1163.5 1929.6,1162.7 1930.4,1165.5 1931.3,1163.8 1932.1,1167.3 1932.9,1162.8 1933.8,1164.5 1934.6,1165.2 1935.4,1167.2 1936.3,1163.7 1937.1,1164.2 1937.9,1166.7 1938.8,1163.9 1939.6,1166.9 1940.4,1163.8 1941.3,1164.8 1942.1,1167.1 1942.9,1164.8 1943.8,1167.5 1944.6,1166.6 1945.4,1166.0 1946.3,1165.4 1947.1,1165.5 1947.9,1169.6 1948.8,1169.0 1949.6,1169.2 1950.4,1171.5 1951.3,1170.6 1952.1,1172.5 1952.9,1168.0 1953.8,1169.2 1954.6,1168.7 1955.4,1168.5 1956.3,1166.1 1957.1,1167.7 1957.9,1166.6 1958.8,1165.5 1959.6,1164.8 1960.4,1164.9 1961.3,1165.9 1962.1,1166.0 1962.9,1163.5 1963.8,1165.4 1964.6,1163.0 1965.4,1162.9 1966.3,1165.1 1967.1,1165.4 1967.9,1163.4 1968.8,1166.3 1969.6,1166.1 1970.4,1166.6 1971.3,1164.7 1972.1,1162.8 1972.9,1164.9 1973.8,1164.6 1974.6,1164.3 1975.4,1159.8 1976.3,1163.5 1977.1,1161.9 1977.9,1160.6 1978.8,1162.6 1979.6,1158.5 1980.4,1159.9 1981.3,1162.4 1982.1,1160.1 1982.9,1160.5 1983.8,1160.6 1984.6,1159.2 1985.4,1157.8 1986.3,1159.3 1987.1,1158.8 1987.9,1158.4 1988.8,1161.5 1989.6,1161.3 1990.4,1159.3 1991.1,1161.7 1991.9,1160.3 1992.6,1157.6 1993.4,1156.7 1994.2,1160.8 1994.9,1157.4 1995.7,1157.8 1996.4,1159.9 1997.2,1159.3 1998.0,1161.3 1998.9,1159.9 1999.7,1160.6 2000.5,1162.3 2001.4,1163.4 2002.2,1164.3 2003.0,1166.5 2003.9,1167.4 2004.7,1172.4 2005.5,1168.1 2006.4,1166.4 2007.2,1169.0 2008.0,1167.0 2008.9,1166.6 2009.7,1163.7 2010.5,1166.0 2011.4,1161.1 2012.2,1162.3 2013.0,1164.4 2013.9,1162.9 2014.7,1161.7 2015.5,1162.3 2016.4,1162.9 2017.2,1163.8 2018.0,1162.6 2018.9,1161.3 2019.7,1163.9 2020.5,1160.4 2021.3,1162.0 2022.1,1160.5 2022.9,1159.1 2023.7,1158.0 2024.4,1158.9 2025.2,1158.0 2026.0,1157.9 2026.8,1156.4 2027.6,1155.6 2028.4,1154.8 2029.2,1156.9 2030.0,1158.2 2030.8,1157.8 2031.6,1161.0 2032.3,1161.1 2033.1,1161.7 2033.9,1162.8 2034.7,1165.3 2035.5,1164.1 2036.4,1164.7 2037.2,1163.0 2038.0,1159.7 2038.9,1163.1 2039.7,1158.0 2040.5,1160.4 2041.2,1162.8 2042.0,1166.0 2042.8,1168.3 2043.6,1167.0 2044.4,1169.4 2045.1,1170.4 2045.9,1171.4 2046.7,1169.4 2047.5,1169.8 2048.3,1170.8 2049.1,1167.9 2049.8,1168.5 2050.6,1166.4 2051.4,1164.2 2052.2,1165.2 2053.0,1164.5 2053.9,1164.6 2054.7,1168.2 2055.5,1167.4 2056.4,1166.7 2057.2,1165.9 2058.0,1165.7 2058.9,1167.3 2059.7,1167.7 2060.5,1167.8 2061.4,1170.1 2062.2,1171.7 2063.0,1169.7 2063.9,1167.3 2064.7,1171.6 2065.5,1166.6 2066.4,1170.4 2067.2,1169.5 2068.0,1166.3 2068.9,1168.2 2069.7,1169.5 2070.5,1165.4 2071.4,1166.6 2072.2,1168.7 2073.0,1166.8 2073.9,1164.2 2074.7,1163.7 2075.5,1165.5 2076.4,1166.0 2077.2,1165.1 2078.0,1161.1 2078.9,1162.1 2079.7,1163.2 2080.5,1162.5 2081.4,1161.3 2082.2,1164.5 2083.0,1167.1 2083.9,1164.9 2084.7,1167.6 2085.5,1164.3 2086.4,1165.7 2087.2,1166.4 2088.0,1166.3 2088.8,1167.5 2089.6,1166.2 2090.4,1163.0 2091.2,1163.4 2092.0,1161.9 2092.8,1160.6 2093.6,1160.9 2094.4,1158.6 2095.2,1158.1 2096.0,1157.6 2096.8,1159.1 2097.6,1159.7 2098.3,1161.9 2099.1,1162.4 2099.9,1164.6 2100.6,1166.0 2101.4,1168.4 2102.2,1167.7 2103.0,1166.3 2103.9,1167.7 2104.7,1167.5 2105.5,1168.3 2106.4,1165.5 2107.2,1164.5 2108.0,1166.3 2108.9,1163.3 2109.7,1165.9 2110.5,1166.6 2111.4,1164.1 2112.2,1167.0 2113.0,1163.9 2113.9,1165.3 2114.7,1167.7 2115.5,1167.5 2116.4,1168.8 2117.2,1169.7 2118.0,1169.2 2118.9,1167.7 2119.7,1167.3 2120.5,1165.1 2121.4,1165.4 2122.2,1164.9 2123.0,1162.5 2123.9,1163.2 2124.7,1163.7 2125.5,1165.0 2126.4,1162.1 2127.2,1161.2 2128.0,1162.4 2128.9,1161.3 2129.7,1163.6 2130.5,1161.8 2131.4,1159.7 2132.2,1159.0 2133.0,1161.8 2133.9,1160.6 2134.7,1159.3 2135.5,1158.5 2136.4,1160.3 2137.2,1158.2 2138.0,1162.4 2138.9,1159.7 2139.7,1162.1 2140.5,1161.6 2141.4,1162.4 2142.2,1163.0 2143.0,1159.7 2143.9,1160.3 2144.7,1161.8 2145.5,1163.8 2146.4,1163.9 2147.2,1160.9 2148.0,1163.1 2148.8,1165.0 2149.6,1165.1 2150.4,1160.9 2151.2,1163.2 2152.0,1164.3 2152.8,1164.5 2153.6,1163.0 2154.4,1165.5 2155.2,1163.7 2156.0,1163.8" fill="none" stroke="#f4a662" stroke-width="8" stroke-linejoin="round" stroke-linecap="butt"/>
<polyline points="146.3,1397.9 147.1,1397.3 147.9,1397.5 148.7,1397.4 149.5,1396.7 150.3,1396.9 151.1,1396.4 151.9,1396.1 152.7,1396.1 153.5,1396.2 154.3,1395.5 155.1,1395.8 155.9,1395.3 156.7,1395.0 157.5,1395.0 158.3,1394.5 159.2,1394.0 160.0,1393.8 160.8,1393.3 161.6,1392.2 162.5,1392.3 163.3,1391.4 164.1,1391.2 165.0,1390.5 165.8,1389.8 166.6,1389.0 167.4,1389.0 168.3,1388.5 169.1,1387.7 169.7,1371.0 170.3,1355.4 171.1,1309.0 171.8,1309.1 172.5,1309.2 173.2,1309.2 173.9,1309.0 174.7,1355.0 175.0,1395.1 175.8,1395.2 176.6,1395.4 177.4,1395.4 178.2,1395.6 178.9,1395.5 179.7,1395.6 180.5,1395.9 181.3,1395.9 182.1,1396.1 182.9,1395.9 183.7,1395.6 184.5,1395.9 185.3,1395.8 186.1,1395.9 186.8,1395.8 187.6,1395.9 188.4,1396.2 189.2,1396.6 190.0,1396.7 190.8,1396.8 191.6,1396.5 192.4,1396.0 193.2,1396.2 194.0,1396.0 194.8,1396.7 195.6,1396.3 196.5,1396.6 197.3,1396.4 198.1,1396.5 198.9,1396.7 199.7,1396.5 200.5,1396.1 201.3,1396.5 202.1,1396.3 202.9,1396.8 203.7,1396.2 204.5,1396.2 205.3,1396.7 206.1,1396.3 206.9,1396.1 207.7,1396.6 208.5,1396.7 209.4,1396.4 210.2,1396.1 211.0,1396.7 211.8,1396.3 212.6,1396.2 213.4,1396.0 214.2,1396.7 215.0,1396.2 215.8,1396.0 216.7,1396.1 217.5,1396.2 218.3,1396.4 219.2,1395.6 220.0,1395.8 220.8,1395.5 221.7,1395.8 222.5,1395.4 223.3,1395.5 224.2,1395.5 225.0,1395.1 225.8,1394.5 226.5,1393.5 227.2,1393.0 228.0,1392.7 228.8,1392.1 229.5,1391.4 230.4,1393.6 231.4,1396.6 232.2,1396.3 233.1,1396.0 233.9,1395.6 234.7,1395.1 235.6,1394.6 236.4,1394.2 237.3,1393.7 238.1,1393.8 238.9,1393.2 239.8,1393.2 240.6,1392.4 241.3,1388.7 242.0,1385.1 242.9,1390.0 243.9,1395.3 244.7,1395.4 245.5,1395.6 246.3,1395.0 247.1,1395.6 247.9,1395.5 248.7,1395.4 249.5,1396.0 250.3,1395.9 251.2,1395.6 252.0,1396.1 252.8,1395.9 253.6,1396.0 254.4,1396.1 255.2,1396.2 256.0,1395.9 256.8,1396.6 257.6,1396.2 258.4,1396.2 259.3,1395.9 260.1,1396.0 260.9,1395.5 261.8,1395.3 262.6,1395.3 263.4,1395.7 264.3,1395.4 265.1,1395.3 265.9,1393.9 266.8,1393.4 267.6,1392.7 268.4,1391.9 269.3,1390.9 270.1,1390.0 270.9,1390.9 271.8,1392.0 272.6,1392.8 273.4,1393.5 274.3,1394.1 275.1,1395.2 275.9,1395.2 276.7,1395.2 277.5,1395.5 278.3,1395.4 279.0,1395.0 279.8,1395.6 280.6,1395.6 281.4,1395.2 282.2,1395.6 283.0,1396.0 283.8,1395.8 284.6,1395.9 285.3,1395.8 286.1,1395.8 286.9,1396.3 287.7,1395.8 288.5,1396.0 289.3,1395.7 290.1,1396.1 290.9,1396.3 291.6,1396.3 292.4,1396.6 293.2,1396.1 294.0,1396.1 294.8,1396.3 295.7,1394.2 296.6,1392.5 297.5,1389.9 298.2,1378.8 299.0,1368.0 299.8,1363.8 300.6,1360.1 301.3,1370.1 302.0,1380.0 303.2,1395.5 304.0,1395.7 304.8,1394.9 305.6,1394.8 306.3,1395.3 307.1,1395.0 307.9,1394.7 308.7,1394.6 309.5,1394.5 310.2,1394.2 311.0,1394.2 311.8,1394.0 312.6,1393.9 313.4,1394.1 314.3,1394.5 315.1,1394.5 315.9,1395.3 316.8,1395.0 317.6,1395.5 318.4,1395.7 319.3,1395.8 320.1,1396.8 320.9,1395.9 321.7,1395.2 322.4,1394.8 323.2,1394.3 324.0,1394.0 324.8,1393.7 325.5,1393.2 326.3,1392.6 327.1,1393.1 327.9,1393.6 328.7,1394.2 329.5,1394.3 330.2,1394.6 331.0,1395.1 331.8,1396.3 332.6,1396.0 333.4,1396.0 334.2,1396.4 335.0,1396.0 335.8,1396.1 336.6,1396.8 337.4,1396.1 338.2,1396.6 339.0,1396.7 339.8,1396.4 340.6,1396.4 341.4,1396.2 342.2,1396.3 343.0,1396.4 343.8,1396.5 344.6,1396.4 345.4,1396.3 346.2,1396.7 347.0,1396.4 347.8,1396.3 348.6,1396.4 349.4,1396.7 350.2,1396.5 351.0,1396.6 351.8,1396.7 352.6,1396.3 353.4,1396.5 354.2,1396.0 355.0,1396.3 355.8,1396.2 356.6,1396.1 357.4,1395.9 358.2,1396.4 359.0,1396.0 359.8,1396.0 360.6,1395.7 361.4,1396.3 362.1,1396.3 362.9,1395.7 363.7,1395.8 364.5,1395.7 365.3,1395.6 366.1,1396.0 366.9,1395.8 367.7,1396.0 368.5,1395.8 369.3,1395.5 370.1,1395.8 370.9,1395.1 371.8,1395.4 372.6,1395.2 373.4,1394.7 374.3,1394.7 375.1,1394.8 375.9,1394.3 376.8,1394.1 377.6,1394.4 378.4,1394.6 379.3,1394.1 380.1,1394.3 380.9,1393.6 381.8,1392.9 382.6,1392.7 383.4,1392.6 384.3,1392.6 385.1,1392.3 385.9,1392.1 386.8,1391.4 387.6,1391.3 388.4,1390.8 389.3,1390.1 390.1,1390.1 390.9,1389.6 391.7,1389.8 392.5,1389.5 393.3,1388.8 394.0,1388.4 394.8,1388.3 395.6,1387.8 396.4,1387.6 397.2,1388.0 398.0,1383.5 398.9,1378.8 399.8,1385.9 400.6,1392.4 401.4,1393.4 402.2,1393.5 402.9,1394.0 403.7,1394.1 404.5,1394.3 405.3,1395.2 406.0,1395.7 406.8,1396.1 407.6,1396.6 408.4,1396.7 409.2,1396.0 410.0,1396.5 410.8,1396.1 411.6,1396.7 412.4,1396.4 413.2,1396.0 414.0,1396.3 414.8,1396.7 415.6,1396.7 416.4,1396.7 417.2,1396.4 418.0,1396.5 418.8,1396.5 419.6,1396.4 420.4,1396.6 421.2,1396.1 422.0,1396.2 422.8,1396.5 423.6,1396.6 424.4,1396.8 425.2,1396.1 426.0,1396.8 426.8,1396.2 427.6,1396.3 428.4,1396.4 429.3,1396.4 430.1,1395.6 430.9,1395.5 431.8,1395.6 432.6,1395.4 433.4,1395.0 434.3,1394.7 435.1,1394.6 435.9,1394.7 436.8,1395.0 437.6,1395.0 438.4,1395.2 439.3,1395.6 440.1,1395.8 440.9,1396.2 441.8,1396.3 442.6,1396.2 443.4,1396.3 444.2,1396.2 445.0,1396.1 445.8,1396.1 446.6,1396.8 447.4,1396.6 448.2,1396.7 449.0,1396.6 449.8,1396.2 450.6,1396.6 451.4,1396.4 452.2,1396.6 453.1,1396.5 453.9,1396.5 454.7,1396.1 455.5,1396.7 456.3,1396.6 457.1,1396.5 457.9,1396.2 458.7,1396.5 459.5,1396.3 460.3,1396.2 461.1,1396.6 461.9,1396.6 462.7,1396.6 463.5,1396.6 464.3,1395.9 465.1,1395.9 465.9,1395.3 466.7,1395.5 467.5,1395.5 468.3,1394.9 469.1,1394.4 469.9,1394.8 470.7,1394.3 471.5,1394.0 472.3,1394.2 473.1,1393.7 473.9,1393.6 474.7,1393.5 475.5,1393.2 476.3,1393.1 477.1,1392.6 477.9,1392.4 478.6,1384.2 479.3,1376.2 480.0,1367.5 480.8,1337.4 481.5,1337.4 482.2,1337.5 482.9,1337.3 483.6,1337.6 484.4,1367.7 485.2,1395.5 486.0,1394.6 486.9,1394.5 487.7,1394.2 488.5,1394.2 489.4,1394.3 490.2,1393.6 491.0,1393.6 491.9,1393.4 492.7,1393.3 493.5,1393.0 494.4,1392.9 495.2,1392.6 496.0,1393.4 496.9,1394.0 497.7,1394.3 498.5,1394.8 499.4,1396.1 500.2,1396.1 501.0,1396.0 501.8,1396.4 502.6,1396.4 503.4,1396.0 504.2,1396.2 505.0,1396.1 505.8,1396.1 506.6,1396.0 507.4,1395.8 508.2,1396.2 509.0,1395.9 509.7,1396.3 510.5,1396.3 511.3,1395.5 512.1,1396.1 512.9,1396.0 513.7,1395.6 514.5,1395.8 515.3,1395.6 516.1,1396.0 516.9,1395.5 517.7,1395.8 518.5,1395.4 519.4,1393.2 520.4,1390.0 521.3,1388.0 522.2,1381.7 523.2,1376.3 524.1,1384.6 525.0,1392.5 525.7,1394.7 526.4,1396.1 527.2,1396.7 528.0,1396.3 528.8,1396.6 529.6,1395.9 530.5,1396.1 531.3,1396.1 532.1,1396.4 532.9,1396.4 533.7,1395.9 534.5,1395.8 535.3,1395.8 536.1,1395.5 537.0,1395.5 537.8,1396.0 538.6,1395.4 539.4,1395.9 540.2,1395.5 541.0,1395.0 541.9,1394.7 542.7,1394.1 543.5,1394.1 544.3,1393.4 545.2,1393.3 546.0,1392.8 546.8,1392.6 547.7,1391.7 548.5,1391.9 549.3,1391.0 550.1,1390.8 551.0,1390.9 551.8,1390.5 552.5,1385.1 553.2,1380.1 553.9,1375.1 554.5,1372.0 555.2,1368.9 556.0,1374.1 556.7,1379.3 557.5,1385.1 558.4,1390.0 559.2,1395.1 560.0,1394.2 560.8,1392.9 561.7,1392.2 562.5,1391.6 563.3,1390.4 564.1,1389.6 564.9,1388.6 565.7,1387.5 566.5,1386.5 567.4,1385.7 568.2,1384.7 569.0,1383.8 569.8,1384.4 570.5,1384.6 571.3,1385.4 572.1,1385.8 572.9,1386.5 573.7,1386.5 574.4,1387.0 575.2,1387.4 576.0,1387.3 576.8,1386.1 577.5,1385.7 578.3,1385.2 579.1,1385.1 579.9,1384.5 580.6,1383.8 581.4,1383.2 582.2,1382.6 583.0,1386.4 583.9,1390.5 584.7,1393.8 585.5,1393.7 586.2,1393.8 587.0,1394.0 587.8,1394.0 588.6,1394.0 589.4,1394.3 590.1,1394.7 590.9,1394.5 591.7,1394.3 592.5,1394.5 593.2,1394.3 594.0,1394.9 594.8,1393.4 595.6,1393.0 596.4,1392.3 597.3,1391.4 598.1,1390.3 598.9,1389.8 599.7,1388.9 600.5,1391.1 601.4,1392.7 602.2,1395.1 603.0,1395.3 603.8,1394.6 604.6,1395.0 605.3,1394.6 606.1,1394.4 606.9,1394.1 607.7,1394.2 608.5,1393.8 609.3,1393.7 610.0,1393.5 610.8,1393.4 611.6,1393.7 612.4,1393.4 613.2,1393.6 614.0,1393.0 614.8,1392.9 615.5,1393.2 616.3,1392.9 617.1,1392.4 617.9,1392.6 618.8,1373.7 619.6,1355.4 620.0,1280.1 620.8,1182.6 621.5,1182.3 622.2,1182.8 622.9,1182.7 623.6,1182.6 624.4,1279.9 624.9,1355.3 626.0,1390.0 626.8,1390.2 627.6,1390.7 628.3,1391.1 629.1,1391.7 629.9,1391.6 630.7,1392.5 631.5,1392.4 632.2,1393.1 633.0,1393.3 633.8,1394.2 634.6,1394.2 635.4,1394.3 636.1,1394.7 636.9,1395.1 637.7,1395.7 638.5,1395.4 639.4,1395.9 640.2,1395.7 641.0,1395.2 641.9,1395.0 642.7,1395.0 643.5,1395.3 644.4,1395.1 645.2,1395.1 646.0,1395.1 646.9,1395.5 647.7,1394.9 648.5,1395.5 649.3,1395.4 650.1,1395.4 650.9,1395.1 651.6,1395.1 652.4,1395.1 653.2,1395.4 654.0,1395.1 654.8,1394.7 655.6,1394.9 656.4,1395.5 657.2,1394.7 658.0,1395.2 658.8,1395.4 659.6,1395.0 660.4,1395.1 661.2,1395.1 662.0,1394.8 662.8,1395.0 663.6,1395.4 664.4,1395.0 665.2,1394.9 666.0,1395.4 666.8,1395.3 667.5,1395.2 668.3,1395.2 669.1,1394.9 669.9,1395.2 670.7,1395.3 671.5,1394.8 672.3,1395.0 673.1,1394.9 673.9,1394.9 674.7,1395.2 675.5,1394.8 676.3,1394.8 677.1,1395.1 677.9,1395.0 678.7,1395.1 679.5,1394.9 680.4,1392.5 681.4,1390.4 682.3,1387.6 683.1,1384.8 684.0,1382.7 684.7,1386.0 685.5,1389.4 686.2,1392.8 687.0,1393.2 687.8,1393.5 688.5,1393.4 689.3,1393.7 690.1,1394.1 690.9,1395.2 691.7,1394.9 692.4,1395.4 693.2,1396.3 694.0,1396.2 694.8,1396.0 695.7,1395.0 696.5,1394.4 697.3,1394.2 698.2,1393.7 699.0,1392.9 699.8,1392.6 700.7,1392.0 701.5,1391.4 702.3,1391.9 703.1,1392.3 703.9,1393.0 704.6,1393.7 705.4,1393.9 706.2,1394.4 707.0,1395.2 707.8,1395.3 708.6,1395.2 709.4,1395.6 710.2,1395.7 710.9,1395.6 711.7,1395.3 712.5,1395.6 713.3,1395.9 714.1,1395.3 714.9,1395.9 715.7,1395.7 716.4,1396.0 717.2,1395.3 718.0,1395.5 718.8,1395.4 719.6,1395.6 720.4,1395.8 721.1,1395.4 721.9,1395.7 722.7,1395.9 723.5,1395.7 724.3,1395.6 725.1,1395.4 725.9,1395.9 726.6,1396.0 727.4,1395.4 728.2,1395.4 729.0,1395.9 729.8,1395.0 730.7,1394.5 731.5,1394.3 732.3,1394.0 733.2,1393.0 734.0,1392.9 734.8,1392.1 735.7,1392.1 736.5,1391.2 737.3,1391.1 738.2,1390.5 739.0,1390.1 739.8,1355.4 740.6,1335.9 741.5,1336.6 742.5,1336.1 743.4,1336.4 744.2,1359.9 744.4,1393.7 745.2,1393.8 746.0,1394.2 746.8,1394.0 747.6,1394.6 748.4,1394.8 749.2,1394.9 750.0,1394.6 750.8,1395.2 751.6,1395.3 752.4,1395.5 753.2,1395.2 754.0,1395.6 754.8,1395.4 755.6,1395.9 756.3,1395.8 757.1,1395.2 757.9,1395.2 758.7,1395.2 759.4,1395.6 760.2,1395.4 761.0,1395.6 761.8,1395.0 762.5,1394.9 763.3,1394.9 764.1,1395.1 764.9,1394.5 765.8,1394.0 766.6,1393.7 767.4,1392.9 768.3,1392.2 769.1,1391.7 769.9,1391.1 770.8,1390.6 771.6,1390.1 772.4,1390.7 773.1,1391.5 773.9,1392.0 774.7,1392.8 775.5,1393.8 776.2,1394.3 777.0,1394.5 777.8,1395.3 778.6,1396.1 779.4,1395.5 780.2,1396.1 781.0,1395.8 781.8,1395.9 782.6,1395.7 783.4,1396.2 784.2,1396.0 785.0,1395.9 785.8,1396.0 786.6,1396.2 787.4,1395.6 788.2,1395.4 789.0,1394.8 789.7,1393.5 790.5,1393.2 791.3,1392.8 792.1,1391.6 792.9,1391.6 793.7,1391.1 794.5,1389.9 795.2,1389.4 796.0,1388.6 796.8,1388.1 797.6,1387.3 798.5,1371.4 799.4,1355.1 799.6,1305.0 800.2,1277.9 801.1,1277.5 802.1,1277.9 803.0,1277.8 803.8,1317.6 804.0,1392.4 804.8,1392.7 805.6,1392.7 806.3,1393.5 807.1,1393.7 807.9,1393.8 808.7,1393.8 809.4,1393.9 810.2,1394.0 811.0,1394.5 811.8,1394.4 812.5,1394.7 813.3,1394.6 814.1,1395.2 814.9,1394.1 815.6,1393.6 816.4,1393.1 817.1,1392.7 817.9,1392.0 818.6,1391.4 819.4,1391.9 820.2,1392.6 821.0,1392.9 821.7,1393.3 822.5,1394.2 823.3,1395.0 824.1,1395.0 824.9,1395.1 825.8,1394.7 826.6,1394.6 827.4,1394.5 828.3,1394.1 829.1,1393.8 829.9,1393.8 830.8,1394.1 831.6,1395.0 832.4,1395.3 833.3,1395.3 834.1,1395.6 834.9,1395.9 835.8,1395.9 836.6,1396.3 837.4,1395.4 838.1,1394.6 838.9,1394.4 839.7,1393.2 840.5,1392.8 841.2,1391.7 842.0,1390.9 842.8,1389.9 843.6,1390.3 844.5,1389.6 845.3,1390.2 846.1,1389.6 847.0,1390.0 847.8,1390.0 848.5,1391.4 849.3,1393.4 850.0,1395.4 850.8,1395.2 851.6,1395.9 852.4,1395.3 853.2,1395.2 854.0,1395.6 854.8,1395.9 855.6,1395.4 856.4,1395.3 857.2,1395.7 858.0,1395.8 858.8,1395.3 859.5,1395.7 860.3,1395.6 861.1,1395.7 861.9,1395.8 862.7,1395.4 863.5,1395.9 864.3,1395.8 865.1,1395.9 865.9,1395.7 866.7,1395.4 867.5,1396.0 868.3,1395.4 869.1,1395.8 869.9,1395.7 870.8,1395.5 871.6,1395.5 872.4,1395.0 873.3,1394.8 874.1,1395.1 874.9,1394.9 875.8,1394.8 876.6,1394.9 877.4,1394.9 878.3,1394.8 879.1,1394.8 879.9,1394.8 880.7,1394.6 881.6,1394.6 882.4,1393.9 883.2,1394.0 884.0,1393.6 884.9,1394.2 885.7,1394.0 886.5,1393.4 887.3,1393.4 888.1,1393.7 889.0,1393.5 889.8,1393.4 890.6,1393.0 891.4,1393.1 892.3,1392.6 893.1,1392.9 893.9,1392.3 894.8,1379.9 895.7,1367.7 896.5,1339.9 897.4,1340.4 898.4,1340.0 899.3,1339.8 900.1,1375.0 900.7,1392.8 901.5,1392.8 902.3,1393.0 903.1,1393.1 903.9,1393.7 904.6,1393.8 905.4,1393.4 906.2,1394.2 907.0,1393.6 907.8,1393.9 908.6,1394.0 909.4,1394.4 910.2,1394.6 910.9,1394.5 911.7,1395.2 912.5,1395.1 913.3,1395.4 914.1,1395.6 914.9,1395.9 915.7,1395.6 916.5,1395.8 917.3,1395.2 918.0,1395.0 918.8,1395.5 919.6,1395.4 920.4,1395.6 921.2,1394.8 922.0,1395.4 922.8,1394.9 923.6,1394.6 924.4,1395.0 925.2,1394.5 925.9,1395.0 926.7,1394.7 927.5,1394.6 928.3,1395.0 929.1,1394.8 929.9,1394.4 930.8,1394.5 931.6,1394.3 932.4,1394.3 933.3,1393.9 934.1,1394.1 934.9,1394.2 935.8,1394.0 936.6,1394.4 937.4,1393.7 938.3,1394.1 939.1,1394.0 939.9,1393.8 940.8,1394.0 941.6,1394.7 942.4,1394.8 943.3,1394.5 944.1,1394.9 944.9,1394.8 945.8,1395.1 946.6,1395.5 947.4,1395.6 948.3,1396.0 949.1,1395.8 949.9,1396.2 950.7,1395.8 951.5,1395.6 952.3,1396.1 953.1,1395.6 953.9,1395.6 954.7,1396.0 955.5,1396.2 956.3,1395.7 957.1,1395.5 957.9,1395.5 958.7,1395.4 959.6,1396.0 960.4,1396.0 961.2,1396.0 962.0,1395.5 962.8,1395.7 963.6,1395.5 964.4,1395.3 965.2,1395.3 966.0,1395.9 966.8,1396.0 967.6,1395.3 968.4,1395.6 969.2,1395.6 970.0,1395.4 970.8,1395.2 971.6,1395.9 972.4,1395.4 973.2,1395.8 974.0,1395.6 974.8,1395.7 975.6,1395.1 976.4,1395.0 977.2,1395.1 978.0,1395.6 978.9,1395.4 979.7,1395.3 980.5,1395.3 981.3,1395.4 982.1,1394.9 982.9,1395.0 983.7,1395.2 984.5,1395.4 985.3,1394.8 986.1,1395.2 986.9,1395.0 987.6,1390.0 988.3,1385.2 989.0,1380.1 989.8,1363.6 990.5,1363.9 991.2,1363.4 991.9,1363.5 992.6,1363.8 993.4,1379.7 994.0,1388.0 994.6,1395.0 995.4,1394.9 996.2,1395.4 997.0,1395.3 997.8,1394.8 998.6,1395.5 999.4,1395.2 1000.2,1395.2 1001.1,1394.8 1001.9,1395.3 1002.7,1395.1 1003.5,1395.4 1004.3,1395.1 1005.1,1394.8 1005.9,1395.1 1006.7,1395.0 1007.5,1394.5 1008.4,1394.2 1009.2,1393.6 1010.0,1393.1 1010.9,1392.4 1011.7,1391.5 1012.5,1391.2 1013.4,1390.9 1014.2,1390.1 1015.0,1389.9 1015.7,1389.1 1016.5,1389.3 1017.2,1388.5 1018.0,1388.3 1018.7,1388.1 1019.5,1390.6 1020.4,1392.6 1021.2,1395.2 1022.0,1394.9 1022.8,1395.0 1023.7,1394.9 1024.5,1394.9 1025.3,1395.2 1026.1,1395.2 1026.9,1395.5 1027.7,1395.1 1028.6,1394.9 1029.4,1395.4 1030.2,1395.7 1031.0,1395.2 1031.8,1395.2 1032.7,1395.5 1033.5,1395.3 1034.3,1395.4 1035.1,1395.3 1035.9,1395.9 1036.7,1395.7 1037.6,1395.6 1038.4,1395.4 1039.2,1395.4 1040.0,1395.4 1040.9,1395.4 1041.7,1395.5 1042.5,1395.5 1043.4,1395.3 1044.2,1395.0 1045.0,1395.4 1045.9,1395.0 1046.7,1395.5 1047.5,1395.1 1048.4,1395.3 1049.2,1395.1 1050.0,1394.4 1050.8,1394.2 1051.5,1394.5 1052.3,1393.8 1053.1,1393.2 1053.9,1393.3 1054.6,1392.9 1055.4,1392.5 1056.2,1392.1 1057.0,1392.6 1057.8,1393.0 1058.6,1393.2 1059.4,1393.7 1060.2,1394.4 1061.0,1394.7 1061.8,1395.1 1062.6,1395.2 1063.4,1396.1 1064.2,1396.4 1065.0,1395.9 1065.9,1395.5 1066.7,1395.8 1067.5,1395.2 1068.4,1395.3 1069.2,1394.4 1070.0,1394.3 1070.9,1394.4 1071.7,1394.2 1072.5,1393.1 1073.3,1392.8 1074.1,1391.8 1074.8,1391.4 1075.6,1390.9 1076.4,1390.2 1077.2,1389.6 1078.0,1388.9 1078.8,1389.6 1079.5,1390.6 1080.3,1391.0 1081.1,1392.3 1081.9,1392.4 1082.7,1393.4 1083.4,1394.3 1084.2,1395.2 1085.0,1395.0 1085.8,1394.8 1086.6,1395.0 1087.4,1394.9 1088.1,1395.1 1088.9,1395.5 1089.7,1395.3 1090.5,1395.3 1091.3,1395.2 1092.1,1395.4 1092.9,1395.2 1093.7,1395.1 1094.5,1395.3 1095.3,1395.7 1096.0,1395.1 1096.8,1395.6 1097.6,1395.5 1098.4,1395.5 1099.2,1395.7 1100.0,1395.4 1100.8,1395.2 1101.6,1395.4 1102.4,1395.7 1103.2,1395.3 1104.0,1395.3 1104.8,1395.7 1105.6,1395.8 1106.4,1395.5 1107.2,1395.3 1108.1,1395.0 1108.9,1395.1 1109.7,1395.6 1110.5,1395.0 1111.3,1395.6 1112.1,1395.3 1112.9,1394.9 1113.7,1395.0 1114.5,1395.2 1115.3,1394.9 1116.1,1395.1 1117.1,1387.7 1118.1,1379.7 1118.9,1376.0 1119.7,1371.3 1120.6,1378.0 1121.5,1385.4 1122.2,1390.7 1122.9,1395.7 1123.7,1395.6 1124.5,1395.3 1125.3,1395.3 1126.1,1395.6 1127.0,1395.3 1127.8,1395.6 1128.6,1395.5 1129.4,1395.0 1130.2,1395.1 1131.0,1395.1 1131.8,1395.2 1132.6,1395.0 1133.5,1395.5 1134.3,1395.5 1135.1,1395.2 1135.9,1394.9 1136.7,1394.7 1137.5,1394.6 1138.4,1394.4 1139.2,1394.3 1140.0,1393.8 1140.9,1393.2 1141.7,1393.4 1142.5,1392.9 1143.4,1392.2 1144.2,1392.2 1145.0,1391.9 1145.8,1391.1 1146.6,1390.8 1147.3,1390.5 1148.1,1390.1 1148.9,1389.7 1149.7,1389.2 1150.5,1388.9 1151.3,1391.1 1152.0,1393.3 1152.8,1394.9 1153.6,1394.8 1154.4,1395.4 1155.2,1394.6 1156.0,1394.7 1156.8,1394.8 1157.6,1395.0 1158.4,1394.7 1159.2,1394.7 1160.0,1395.1 1160.8,1395.0 1161.6,1394.5 1162.4,1394.9 1163.2,1394.5 1164.0,1395.1 1164.8,1394.5 1165.6,1395.1 1166.4,1394.8 1167.2,1394.9 1168.0,1394.9 1168.8,1394.4 1169.6,1394.6 1170.3,1394.5 1171.1,1394.5 1171.9,1394.7 1172.7,1394.9 1173.5,1394.7 1174.2,1395.0 1175.0,1394.9 1175.8,1394.9 1176.6,1394.9 1177.4,1394.8 1178.2,1395.2 1178.9,1395.2 1179.7,1394.8 1180.5,1395.0 1181.3,1394.5 1182.1,1394.6 1182.9,1393.7 1183.7,1393.6 1184.4,1393.4 1185.2,1393.0 1186.0,1392.5 1186.8,1392.1 1187.6,1392.3 1188.4,1392.7 1189.1,1392.9 1189.9,1393.1 1190.7,1393.6 1191.5,1393.7 1192.3,1393.9 1193.0,1394.0 1193.8,1394.4 1194.6,1395.1 1195.4,1395.0 1196.2,1395.6 1197.0,1395.7 1197.7,1396.0 1198.5,1395.8 1199.3,1396.2 1200.1,1393.2 1200.8,1390.6 1201.6,1387.6 1202.4,1385.0 1203.2,1382.6 1204.0,1379.6 1204.7,1376.7 1205.5,1373.8 1206.3,1374.7 1207.0,1375.3 1207.8,1376.4 1208.5,1376.5 1209.3,1377.8 1210.1,1383.6 1211.0,1388.9 1211.8,1394.8 1212.6,1395.4 1213.4,1394.9 1214.2,1395.1 1215.0,1395.5 1215.8,1394.9 1216.6,1395.0 1217.4,1395.0 1218.2,1395.5 1219.0,1395.7 1219.8,1395.2 1220.6,1395.5 1221.4,1395.8 1222.2,1395.2 1223.0,1395.9 1223.8,1395.6 1224.6,1395.5 1225.4,1395.2 1226.2,1395.4 1227.0,1395.6 1227.8,1395.5 1228.6,1395.0 1229.5,1395.0 1230.3,1395.6 1231.1,1395.1 1231.9,1395.4 1232.7,1394.9 1233.5,1395.0 1234.3,1395.3 1235.1,1395.0 1235.9,1394.8 1237.1,1379.7 1237.9,1367.5 1238.8,1368.0 1239.8,1367.4 1240.7,1367.3 1241.5,1380.4 1242.1,1394.7 1242.9,1395.4 1243.7,1395.3 1244.5,1394.9 1245.3,1395.2 1246.1,1395.4 1246.9,1395.3 1247.7,1395.5 1248.5,1395.4 1249.3,1395.5 1250.1,1395.4 1250.9,1395.2 1251.7,1395.0 1252.5,1395.3 1253.4,1395.0 1254.2,1395.6 1255.0,1395.6 1255.8,1395.2 1256.6,1395.4 1257.4,1395.7 1258.2,1395.3 1259.0,1395.7 1259.8,1395.8 1260.6,1395.3 1261.4,1395.9 1262.2,1395.9 1263.0,1395.3 1263.8,1395.7 1264.6,1395.4 1265.4,1394.7 1266.2,1394.9 1267.0,1394.2 1267.8,1394.4 1268.6,1394.2 1269.4,1393.7 1270.2,1393.9 1271.0,1393.7 1271.8,1393.6 1272.6,1393.1 1273.4,1393.1 1274.2,1392.7 1275.0,1392.5 1275.9,1390.6 1276.7,1388.5 1277.6,1386.4 1278.3,1389.0 1279.1,1391.6 1279.8,1393.7 1280.6,1394.4 1281.5,1394.1 1282.3,1394.5 1283.1,1394.4 1284.0,1394.8 1284.8,1394.8 1285.6,1394.6 1286.4,1395.3 1287.3,1394.8 1288.1,1395.3 1288.9,1395.3 1289.8,1395.8 1290.6,1395.9 1291.4,1394.6 1292.3,1393.9 1293.1,1393.7 1293.9,1392.6 1294.8,1392.0 1295.6,1391.4 1296.4,1392.2 1297.3,1392.7 1298.1,1393.7 1298.9,1394.2 1299.8,1394.6 1300.6,1395.6 1301.4,1395.5 1302.2,1394.8 1303.0,1395.3 1303.8,1394.5 1304.6,1394.1 1305.4,1393.9 1306.1,1394.3 1306.9,1393.7 1307.7,1393.7 1308.5,1393.5 1309.3,1393.3 1310.1,1393.0 1310.9,1392.3 1311.8,1386.6 1312.6,1380.3 1313.4,1377.5 1314.3,1375.1 1315.2,1378.7 1316.0,1382.5 1316.7,1388.8 1317.4,1395.3 1318.2,1394.9 1319.0,1394.8 1319.8,1395.2 1320.6,1395.1 1321.4,1395.2 1322.2,1395.3 1323.0,1395.2 1323.8,1395.3 1324.6,1395.5 1325.4,1395.2 1326.2,1395.5 1327.0,1395.7 1327.8,1395.4 1328.5,1395.2 1329.3,1395.4 1330.1,1395.6 1330.9,1395.5 1331.7,1395.2 1332.5,1395.1 1333.3,1395.5 1334.1,1395.5 1334.9,1395.3 1335.7,1395.4 1336.5,1395.9 1337.3,1395.2 1338.1,1396.0 1338.9,1395.3 1339.6,1395.2 1340.4,1394.2 1341.2,1393.7 1342.0,1393.6 1342.8,1393.1 1343.5,1393.3 1344.3,1392.6 1345.1,1389.6 1345.9,1386.3 1346.8,1382.9 1347.6,1379.9 1348.3,1379.7 1349.1,1378.7 1349.8,1378.0 1350.6,1377.6 1351.4,1381.2 1352.3,1385.2 1353.2,1390.3 1354.0,1394.7 1354.8,1394.9 1355.6,1395.1 1356.3,1395.4 1357.1,1395.2 1357.9,1394.9 1358.7,1394.7 1359.5,1394.8 1360.3,1394.5 1361.0,1395.2 1361.8,1394.5 1362.6,1395.0 1363.4,1394.4 1364.2,1395.0 1365.0,1394.8 1365.8,1395.0 1366.5,1394.5 1367.3,1394.6 1368.1,1394.5 1368.9,1392.5 1369.8,1390.9 1370.6,1388.7 1371.4,1386.4 1372.3,1384.8 1373.1,1382.7 1373.9,1381.7 1374.6,1381.5 1375.4,1381.3 1376.1,1380.6 1376.9,1380.1 1377.8,1383.7 1378.6,1387.4 1379.4,1391.8 1380.3,1395.8 1381.1,1395.2 1381.9,1396.0 1382.7,1395.8 1383.5,1395.6 1384.3,1395.4 1385.0,1395.3 1385.8,1396.0 1386.6,1395.9 1387.4,1395.3 1388.2,1395.3 1389.0,1395.3 1389.8,1395.9 1390.6,1395.7 1391.4,1395.5 1392.2,1395.6 1392.9,1395.5 1393.7,1395.6 1394.5,1395.6 1395.3,1395.7 1396.1,1395.2 1396.9,1395.8 1397.7,1395.8 1398.5,1395.5 1399.3,1395.6 1400.1,1395.4 1400.9,1396.0 1401.6,1395.8 1402.4,1395.7 1403.2,1395.2 1404.0,1395.7 1404.8,1395.4 1405.6,1395.9 1406.4,1395.1 1407.2,1395.4 1408.0,1395.0 1408.8,1395.0 1409.6,1394.4 1410.4,1394.4 1411.2,1394.7 1412.0,1394.4 1412.7,1394.4 1413.5,1393.9 1414.3,1394.0 1415.1,1393.8 1415.9,1393.6 1416.7,1392.9 1417.5,1392.8 1418.3,1392.7 1419.1,1392.4 1419.8,1390.4 1420.5,1389.1 1421.2,1386.9 1421.9,1385.1 1422.7,1388.2 1423.4,1390.6 1424.2,1393.9 1425.0,1394.2 1425.8,1394.1 1426.6,1394.6 1427.4,1394.5 1428.2,1394.6 1429.1,1394.4 1429.9,1395.4 1430.7,1394.9 1431.5,1395.4 1432.3,1395.2 1433.1,1395.2 1433.9,1395.4 1434.7,1395.1 1435.5,1394.7 1436.2,1394.3 1437.0,1393.9 1437.8,1393.4 1438.6,1392.9 1439.4,1392.7 1440.2,1392.8 1441.0,1392.9 1441.8,1392.9 1442.6,1393.3 1443.4,1393.3 1444.2,1393.7 1445.0,1393.8 1445.8,1394.0 1446.5,1394.2 1447.3,1393.9 1448.1,1394.1 1448.9,1394.8 1449.7,1394.4 1450.5,1394.8 1451.3,1394.7 1452.1,1395.1 1452.8,1392.5 1453.6,1390.0 1454.3,1387.6 1455.2,1373.7 1456.1,1359.9 1456.8,1354.9 1457.4,1350.1 1458.1,1359.0 1458.8,1367.5 1459.5,1380.1 1460.2,1392.8 1461.0,1392.5 1461.8,1392.8 1462.5,1392.4 1463.3,1392.3 1464.1,1392.0 1464.9,1392.1 1465.7,1392.0 1466.4,1391.9 1467.2,1391.7 1468.0,1391.5 1468.8,1391.8 1469.6,1391.9 1470.3,1391.5 1471.1,1391.6 1471.9,1391.2 1472.7,1392.1 1473.5,1392.1 1474.3,1392.7 1475.1,1392.8 1475.9,1393.2 1476.7,1393.2 1477.5,1393.4 1478.3,1394.3 1479.1,1394.4 1479.9,1394.9 1480.7,1395.0 1481.5,1394.8 1482.4,1395.0 1483.2,1394.4 1484.0,1394.7 1484.9,1394.5 1485.7,1394.3 1486.5,1394.1 1487.4,1393.8 1488.2,1393.4 1489.0,1393.3 1489.9,1393.3 1490.7,1393.1 1491.5,1393.3 1492.4,1393.2 1493.2,1393.6 1494.0,1393.8 1494.9,1393.9 1495.7,1393.7 1496.5,1393.8 1497.4,1393.9 1498.2,1394.6 1499.0,1394.2 1499.9,1394.4 1500.7,1395.0 1501.5,1394.6 1502.3,1394.6 1503.1,1395.0 1503.9,1395.2 1504.6,1394.7 1505.4,1394.6 1506.2,1395.0 1507.0,1395.1 1507.8,1395.3 1508.6,1395.0 1509.4,1395.0 1510.2,1395.0 1511.0,1394.9 1511.8,1395.6 1512.5,1395.6 1513.3,1395.1 1514.1,1395.4 1514.9,1395.7 1515.7,1395.3 1516.5,1394.5 1517.4,1392.8 1518.2,1391.9 1519.0,1389.9 1519.9,1389.2 1520.7,1387.6 1521.5,1387.0 1522.3,1386.7 1523.1,1386.6 1523.9,1386.3 1524.7,1385.5 1525.5,1385.7 1526.2,1384.6 1527.0,1384.4 1527.8,1384.1 1528.6,1384.1 1529.4,1383.7 1530.2,1383.3 1531.0,1382.9 1531.8,1375.1 1532.7,1367.8 1533.6,1363.0 1534.4,1358.9 1535.2,1367.9 1536.1,1377.9 1536.8,1386.1 1537.5,1394.0 1538.3,1393.6 1539.1,1393.8 1539.9,1394.3 1540.6,1394.4 1541.4,1393.8 1542.2,1394.4 1543.0,1394.4 1543.8,1394.7 1544.6,1394.2 1545.3,1394.2 1546.1,1394.9 1546.9,1394.6 1547.7,1394.9 1548.5,1394.5 1549.3,1395.1 1550.1,1395.0 1550.8,1395.1 1551.6,1394.7 1552.4,1394.8 1553.2,1395.0 1554.0,1394.9 1554.8,1393.9 1555.6,1393.3 1556.3,1393.1 1557.1,1392.4 1557.9,1392.0 1558.7,1391.4 1559.5,1392.1 1560.3,1392.7 1561.1,1393.2 1562.0,1393.5 1562.8,1394.3 1563.6,1394.8 1564.4,1395.8 1565.2,1395.6 1566.0,1395.6 1566.9,1395.3 1567.7,1395.4 1568.5,1395.3 1569.3,1395.4 1570.1,1396.0 1570.9,1395.6 1571.8,1395.8 1572.6,1395.7 1573.4,1395.8 1574.2,1396.0 1575.0,1395.2 1575.8,1395.8 1576.7,1395.7 1577.5,1395.4 1578.3,1395.8 1579.1,1395.4 1579.9,1395.9 1580.7,1395.7 1581.6,1395.3 1582.4,1395.7 1583.2,1395.8 1584.0,1395.3 1584.9,1394.5 1585.7,1394.4 1586.5,1394.1 1587.4,1393.2 1588.2,1392.9 1589.0,1392.3 1589.9,1391.8 1590.7,1391.4 1591.5,1392.0 1592.3,1392.3 1593.1,1392.8 1593.8,1393.3 1594.6,1394.0 1595.4,1394.9 1596.2,1395.4 1597.0,1395.7 1597.8,1395.6 1598.6,1395.8 1599.4,1395.5 1600.1,1396.0 1600.9,1395.6 1601.7,1395.7 1602.5,1395.6 1603.3,1395.9 1604.1,1395.5 1604.9,1395.9 1605.6,1395.4 1606.4,1395.5 1607.2,1395.5 1608.0,1395.9 1608.8,1395.5 1609.6,1395.8 1610.3,1395.7 1611.1,1395.6 1611.9,1395.3 1612.7,1395.4 1613.5,1395.6 1614.3,1395.9 1615.1,1395.3 1615.8,1395.6 1616.6,1395.6 1617.4,1395.8 1618.2,1395.9 1619.0,1395.0 1619.9,1395.2 1620.7,1395.4 1621.5,1394.8 1622.4,1394.6 1623.2,1394.3 1624.0,1394.6 1624.9,1393.7 1625.7,1393.7 1626.5,1394.1 1627.4,1393.8 1628.2,1394.5 1629.0,1394.1 1629.9,1394.8 1630.7,1394.1 1631.5,1394.9 1632.4,1394.8 1633.2,1394.9 1634.0,1395.0 1634.9,1395.2 1635.7,1394.7 1636.5,1395.2 1637.3,1394.7 1638.1,1394.9 1638.9,1394.6 1639.7,1394.6 1640.4,1395.0 1641.2,1394.7 1642.0,1395.0 1642.8,1394.9 1643.6,1394.5 1644.4,1394.8 1645.2,1394.1 1646.0,1394.7 1646.8,1394.7 1647.6,1393.9 1648.3,1394.4 1649.1,1394.4 1649.9,1393.7 1650.7,1394.1 1651.5,1394.3 1652.3,1394.2 1653.2,1384.7 1654.0,1375.3 1654.8,1366.4 1655.7,1357.6 1656.3,1361.5 1657.0,1364.7 1657.8,1378.5 1658.5,1392.2 1659.3,1392.6 1660.1,1392.8 1660.9,1393.3 1661.8,1393.5 1662.6,1393.2 1663.4,1393.4 1664.2,1394.1 1665.0,1394.6 1665.8,1394.7 1666.6,1394.8 1667.4,1394.9 1668.3,1395.4 1669.1,1395.5 1669.9,1395.4 1670.7,1395.7 1671.5,1395.9 1672.3,1395.6 1673.1,1395.5 1673.9,1395.7 1674.7,1395.8 1675.5,1395.3 1676.3,1396.0 1677.2,1395.4 1678.0,1395.8 1678.8,1395.5 1679.6,1395.7 1680.4,1395.3 1681.2,1395.2 1682.0,1395.7 1682.8,1395.7 1683.6,1395.8 1684.4,1395.8 1685.2,1395.4 1686.0,1395.2 1686.8,1395.9 1687.6,1395.7 1688.4,1395.8 1689.2,1395.5 1690.0,1395.2 1690.8,1395.4 1691.6,1395.5 1692.4,1395.1 1693.2,1395.5 1694.0,1395.6 1694.8,1395.2 1695.6,1395.7 1696.4,1395.5 1697.2,1395.3 1698.0,1395.3 1698.8,1395.6 1699.6,1395.3 1700.4,1395.6 1701.2,1395.2 1702.0,1395.4 1702.8,1395.2 1703.6,1394.9 1704.4,1394.9 1705.2,1395.0 1706.0,1395.2 1706.8,1394.9 1707.6,1394.9 1708.4,1395.5 1709.2,1395.0 1710.0,1394.9 1710.8,1395.5 1711.6,1395.2 1712.4,1394.8 1713.2,1395.1 1714.0,1395.0 1714.8,1395.1 1715.6,1395.0 1716.4,1394.7 1717.2,1391.6 1717.9,1388.3 1718.7,1385.2 1719.3,1380.0 1720.0,1375.1 1720.8,1381.6 1721.5,1387.7 1722.6,1395.2 1723.4,1395.3 1724.2,1395.6 1725.0,1395.6 1725.8,1395.4 1726.7,1395.6 1727.5,1395.3 1728.3,1395.6 1729.1,1395.6 1729.9,1395.5 1730.7,1395.4 1731.5,1395.7 1732.3,1395.7 1733.1,1395.7 1734.0,1395.3 1734.8,1395.4 1735.6,1395.5 1736.4,1395.3 1737.2,1395.5 1738.0,1396.0 1738.8,1395.6 1739.6,1395.6 1740.4,1395.5 1741.3,1395.6 1742.1,1395.4 1742.9,1395.4 1743.7,1395.8 1744.5,1395.5 1745.3,1394.8 1746.1,1394.6 1746.9,1394.4 1747.7,1394.3 1748.4,1393.7 1749.2,1393.5 1750.0,1393.0 1750.8,1392.6 1751.6,1393.0 1752.5,1393.6 1753.3,1394.3 1754.1,1394.4 1755.0,1394.8 1755.8,1395.6 1756.6,1395.5 1757.4,1396.0 1758.2,1396.0 1758.9,1395.4 1759.7,1395.8 1760.5,1395.6 1761.3,1395.5 1762.1,1395.6 1762.9,1395.5 1763.7,1395.2 1764.4,1395.9 1765.2,1395.3 1766.0,1395.4 1766.8,1395.7 1767.6,1395.4 1768.4,1395.7 1769.1,1395.4 1769.9,1396.0 1770.7,1396.0 1771.5,1395.3 1772.3,1395.9 1773.1,1395.8 1773.9,1395.3 1774.6,1395.6 1775.4,1395.7 1776.2,1395.4 1777.0,1395.2 1777.8,1394.8 1778.7,1394.7 1779.5,1393.9 1780.3,1393.4 1781.2,1393.2 1782.0,1392.6 1782.8,1393.1 1783.7,1393.7 1784.5,1394.3 1785.4,1394.9 1786.2,1395.3 1787.1,1395.7 1787.9,1395.4 1788.7,1395.9 1789.5,1395.6 1790.3,1395.3 1791.1,1395.2 1791.9,1395.4 1792.7,1395.2 1793.5,1395.4 1794.3,1395.2 1795.1,1395.5 1795.9,1395.5 1796.7,1395.5 1797.5,1395.3 1798.3,1395.5 1799.1,1395.6 1799.9,1394.9 1800.7,1395.3 1801.5,1394.9 1802.3,1395.5 1803.1,1395.0 1803.9,1395.2 1804.7,1395.5 1805.5,1395.4 1806.3,1395.0 1807.1,1394.9 1807.9,1394.5 1808.6,1393.6 1809.4,1393.1 1810.2,1392.3 1811.0,1391.8 1811.8,1391.3 1812.5,1390.8 1813.3,1390.0 1814.1,1390.5 1815.0,1390.8 1815.8,1391.6 1816.6,1391.7 1817.5,1392.0 1818.3,1392.4 1819.1,1392.0 1820.0,1391.1 1820.8,1391.0 1821.6,1390.0 1822.5,1389.5 1823.3,1389.0 1824.1,1389.7 1824.9,1390.3 1825.7,1391.1 1826.4,1392.3 1827.2,1393.1 1828.0,1393.9 1828.8,1394.2 1829.6,1395.0 1830.4,1394.9 1831.2,1395.4 1832.0,1395.6 1832.8,1395.1 1833.6,1395.5 1834.3,1395.4 1835.1,1395.7 1835.9,1395.5 1836.7,1395.3 1837.5,1395.4 1838.3,1395.9 1839.1,1394.8 1839.9,1394.6 1840.7,1394.4 1841.4,1393.7 1842.2,1393.5 1843.0,1392.9 1843.8,1392.5 1844.6,1392.1 1845.4,1392.8 1846.3,1393.3 1847.1,1393.9 1847.9,1394.1 1848.8,1394.9 1849.6,1395.8 1850.4,1395.8 1851.2,1395.3 1852.0,1395.5 1852.8,1395.5 1853.5,1395.7 1854.3,1395.4 1855.1,1395.3 1855.9,1395.7 1856.7,1395.8 1857.5,1396.0 1858.3,1395.7 1859.1,1395.3 1859.9,1395.9 1860.7,1395.3 1861.4,1395.2 1862.2,1395.8 1863.0,1395.9 1863.8,1395.4 1864.6,1395.9 1865.4,1395.9 1866.2,1395.7 1867.0,1396.0 1867.8,1395.8 1868.5,1395.3 1869.3,1395.4 1870.1,1395.7 1870.9,1395.5 1871.7,1395.7 1872.5,1395.4 1873.3,1395.6 1874.1,1395.6 1874.9,1395.8 1875.7,1395.9 1876.4,1395.6 1877.2,1395.7 1878.0,1395.5 1878.8,1395.4 1879.6,1395.9 1880.4,1395.3 1881.2,1395.0 1881.9,1394.2 1882.7,1393.4 1883.5,1393.0 1884.3,1392.3 1885.1,1392.5 1885.9,1391.2 1886.6,1391.4 1887.4,1390.7 1888.2,1389.7 1888.4,1367.9 1888.7,1347.4 1889.6,1348.0 1890.6,1347.4 1891.5,1347.4 1892.3,1370.3 1892.5,1394.2 1893.3,1394.2 1894.1,1394.1 1894.9,1394.1 1895.7,1393.9 1896.6,1394.6 1897.4,1394.2 1898.2,1394.4 1899.0,1394.9 1899.8,1394.4 1900.6,1394.7 1901.4,1394.8 1902.2,1395.2 1903.0,1394.9 1903.9,1394.9 1904.7,1395.4 1905.5,1395.2 1906.3,1395.3 1907.1,1395.4 1907.9,1395.6 1908.7,1395.7 1909.5,1395.6 1910.3,1396.0 1911.1,1395.2 1911.9,1395.2 1912.7,1395.8 1913.5,1395.4 1914.3,1395.8 1915.1,1395.8 1915.9,1395.6 1916.7,1395.3 1917.5,1395.4 1918.3,1395.7 1919.2,1395.3 1920.0,1395.7 1920.8,1395.6 1921.6,1395.3 1922.4,1395.3 1923.2,1396.0 1924.0,1395.5 1924.8,1395.2 1925.6,1395.4 1926.4,1396.0 1927.2,1395.3 1928.0,1395.4 1928.8,1395.5 1929.6,1395.3 1930.4,1395.2 1931.2,1395.5 1932.0,1395.7 1932.8,1395.7 1933.6,1395.8 1934.4,1396.0 1935.2,1395.2 1936.0,1395.4 1936.8,1395.7 1937.6,1395.9 1938.4,1395.6 1939.2,1395.8 1940.0,1395.6 1940.8,1395.9 1941.7,1395.5 1942.5,1395.4 1943.3,1395.9 1944.1,1395.9 1944.9,1395.4 1945.7,1395.8 1946.5,1395.2 1947.3,1395.6 1948.1,1396.0 1948.9,1395.5 1949.7,1395.9 1950.5,1395.6 1951.3,1395.5 1952.1,1395.3 1952.9,1395.4 1953.8,1395.2 1954.6,1394.3 1955.4,1394.2 1956.3,1393.8 1957.1,1393.8 1957.9,1393.4 1958.8,1392.8 1959.6,1392.4 1960.6,1390.0 1961.6,1387.6 1962.5,1390.5 1963.5,1393.6 1964.3,1394.4 1965.1,1394.2 1965.8,1394.4 1966.6,1394.7 1967.4,1394.8 1968.2,1394.8 1969.0,1394.8 1969.8,1395.5 1970.5,1395.0 1971.3,1395.2 1972.1,1395.4 1972.9,1395.6 1973.7,1395.9 1974.5,1395.8 1975.3,1395.9 1976.1,1396.0 1976.9,1395.8 1977.7,1395.5 1978.5,1395.8 1979.3,1395.8 1980.1,1395.5 1980.9,1395.5 1981.7,1395.3 1982.5,1395.5 1983.4,1395.7 1984.2,1395.7 1985.0,1395.6 1985.8,1395.6 1986.6,1396.0 1987.4,1395.6 1988.2,1395.4 1989.0,1395.3 1989.8,1395.6 1990.6,1396.0 1991.4,1395.7 1992.2,1395.5 1993.0,1395.9 1993.8,1395.6 1994.6,1395.9 1995.4,1396.0 1996.2,1395.9 1997.0,1395.8 1997.8,1395.4 1998.6,1395.5 1999.4,1395.3 2000.2,1395.2 2001.0,1395.4 2001.8,1395.6 2002.6,1395.2 2003.4,1395.5 2004.3,1395.5 2005.1,1395.6 2005.9,1395.4 2006.7,1396.0 2007.5,1395.2 2008.3,1395.6 2009.1,1395.5 2009.9,1395.3 2010.7,1395.9 2011.5,1395.4 2012.3,1395.8 2013.1,1395.2 2013.9,1395.3 2014.7,1395.4 2015.5,1395.7 2016.4,1394.8 2017.2,1395.0 2018.0,1394.3 2018.9,1394.5 2019.7,1393.9 2020.4,1393.0 2021.2,1392.8 2021.9,1392.4 2022.7,1392.0 2023.4,1391.4 2024.2,1392.1 2025.1,1392.8 2025.9,1393.6 2026.7,1394.1 2027.6,1395.1 2028.4,1395.5 2029.2,1395.2 2030.0,1395.9 2030.8,1395.8 2031.6,1395.7 2032.4,1395.9 2033.2,1395.4 2034.1,1395.8 2034.9,1396.0 2035.7,1395.7 2036.5,1395.2 2037.3,1395.8 2038.1,1395.3 2038.9,1395.4 2039.7,1395.2 2040.5,1395.8 2041.3,1395.3 2042.1,1395.6 2043.0,1395.5 2043.8,1395.9 2044.6,1395.7 2045.4,1395.3 2046.2,1395.5 2047.0,1395.7 2047.8,1396.0 2048.6,1395.5 2049.4,1395.8 2050.2,1395.5 2051.0,1395.3 2051.8,1395.6 2052.7,1395.6 2053.5,1396.0 2054.3,1396.0 2055.1,1395.4 2055.9,1395.3 2056.7,1395.7 2057.5,1396.0 2058.3,1395.4 2059.1,1395.9 2059.9,1395.4 2060.7,1395.3 2061.5,1395.8 2062.3,1395.7 2063.2,1395.3 2064.0,1395.7 2064.8,1395.3 2065.6,1395.9 2066.4,1395.8 2067.2,1395.8 2068.0,1395.5 2068.8,1395.3 2069.6,1395.5 2070.4,1395.6 2071.1,1395.4 2071.9,1395.1 2072.7,1395.3 2073.5,1395.6 2074.3,1395.1 2075.1,1395.0 2075.9,1395.6 2076.7,1395.5 2077.5,1394.9 2078.3,1395.0 2079.0,1394.9 2079.8,1394.8 2080.6,1395.3 2081.4,1395.0 2082.2,1395.1 2083.0,1394.7 2083.9,1394.7 2084.7,1394.4 2085.5,1393.7 2086.4,1394.0 2087.2,1393.2 2088.0,1392.8 2088.9,1392.8 2089.7,1392.3 2090.5,1392.0 2091.3,1391.7 2092.1,1390.7 2092.8,1389.8 2093.6,1389.6 2094.4,1388.7 2095.2,1388.1 2096.2,1391.3 2097.2,1394.7 2098.0,1394.9 2098.8,1394.9 2099.6,1395.1 2100.4,1395.5 2101.1,1395.0 2101.9,1395.2 2102.7,1394.8 2103.5,1394.9 2104.3,1395.2 2105.1,1395.1 2105.9,1395.3 2106.7,1395.1 2107.5,1395.1 2108.3,1395.4 2109.0,1395.5 2109.8,1394.9 2110.6,1395.1 2111.4,1395.6 2112.2,1395.0 2113.0,1395.3 2113.8,1395.5 2114.6,1395.2 2115.4,1395.5 2116.1,1395.4 2116.9,1395.3 2117.7,1395.6 2118.5,1395.7 2119.3,1395.8 2120.1,1395.1 2120.9,1395.3 2121.7,1395.4 2122.5,1395.7 2123.3,1395.8 2124.0,1395.7 2124.8,1395.5 2125.6,1395.5 2126.4,1395.4 2127.2,1395.8 2128.0,1395.2 2128.9,1395.2 2129.7,1394.6 2130.5,1394.0 2131.4,1393.7 2132.2,1393.5 2133.0,1393.2 2133.9,1392.6 2134.7,1392.7 2135.5,1392.0 2136.3,1391.0 2137.1,1390.2 2137.8,1389.9 2138.6,1389.0 2139.4,1388.3 2140.2,1387.6 2141.2,1390.7 2142.2,1393.8 2143.0,1394.1 2143.9,1393.9 2144.7,1394.2 2145.5,1394.4 2146.4,1394.9 2147.2,1395.1 2148.0,1394.5 2148.9,1395.4 2149.7,1394.9 2150.5,1395.1 2151.4,1395.2 2152.2,1395.6" fill="none" stroke="#ff3daa" stroke-width="7.5" stroke-linejoin="round" stroke-linecap="butt"/>
<text id="lab0" font-size="86"><tspan x="1443.3" y="164.6" letter-spacing="-0.9">Fe</tspan><tspan x="1531.3" y="186.0" font-size="58" class="s">2</tspan><tspan x="1559.4" y="164.6">O</tspan><tspan x="1624.8" y="186.0" font-size="58" class="s">3</tspan><tspan x="1653.4" y="164.6" font-weight="normal">/</tspan><tspan x="1676.3" y="164.6">P</tspan><tspan x="1728.0" y="186.0" font-size="58" class="s">2</tspan><tspan x="1756.5" y="164.6" letter-spacing="-1.9">Mo</tspan><tspan x="1877.3" y="186.0" font-size="58" class="s" letter-spacing="-1.0">18</tspan><tspan x="1931.5" y="164.6" letter-spacing="-0.60" xml:space="preserve"> -10%</tspan></text>
<text id="lab1" font-size="86"><tspan x="1487.2" y="405.8" letter-spacing="-0.9">Fe</tspan><tspan x="1575.2" y="427.2" font-size="58" class="s">2</tspan><tspan x="1603.3" y="405.8">O</tspan><tspan x="1668.7" y="427.2" font-size="58" class="s">3</tspan><tspan x="1697.3" y="405.8" font-weight="normal">/</tspan><tspan x="1720.2" y="405.8">P</tspan><tspan x="1771.9" y="427.2" font-size="58" class="s">2</tspan><tspan x="1800.4" y="405.8" letter-spacing="-1.9">Mo</tspan><tspan x="1921.2" y="427.2" font-size="58" class="s" letter-spacing="-1.0">18</tspan><tspan x="1975.4" y="405.8" letter-spacing="-0.46" xml:space="preserve"> -8%</tspan></text>
<text id="lab2" font-size="86"><tspan x="1487.3" y="672.9" letter-spacing="-0.9">Fe</tspan><tspan x="1575.3" y="694.3" font-size="58" class="s">2</tspan><tspan x="1603.4" y="672.9">O</tspan><tspan x="1668.8" y="694.3" font-size="58" class="s">3</tspan><tspan x="1697.4" y="672.9" font-weight="normal">/</tspan><tspan x="1720.3" y="672.9">P</tspan><tspan x="1772.0" y="694.3" font-size="58" class="s">2</tspan><tspan x="1800.5" y="672.9" letter-spacing="-1.9">Mo</tspan><tspan x="1921.3" y="694.3" font-size="58" class="s" letter-spacing="-1.0">18</tspan><tspan x="1975.5" y="672.9" letter-spacing="-0.46" xml:space="preserve"> -5%</tspan></text>
<text id="lab3" font-size="86"><tspan x="1485.3" y="936.0" letter-spacing="-0.9">Fe</tspan><tspan x="1573.3" y="957.4" font-size="58" class="s">2</tspan><tspan x="1601.4" y="936.0">O</tspan><tspan x="1666.8" y="957.4" font-size="58" class="s">3</tspan><tspan x="1695.4" y="936.0" font-weight="normal">/</tspan><tspan x="1718.3" y="936.0">P</tspan><tspan x="1770.0" y="957.4" font-size="58" class="s">2</tspan><tspan x="1798.5" y="936.0" letter-spacing="-1.9">Mo</tspan><tspan x="1919.3" y="957.4" font-size="58" class="s" letter-spacing="-1.0">18</tspan><tspan x="1973.5" y="936.0" letter-spacing="-0.46" xml:space="preserve"> -3%</tspan></text>
<text id="lab4" font-size="86"><tspan x="1485.3" y="1099.7" letter-spacing="-0.9">Fe</tspan><tspan x="1573.3" y="1121.1" font-size="58" class="s">2</tspan><tspan x="1601.4" y="1099.7">O</tspan><tspan x="1666.8" y="1121.1" font-size="58" class="s">3</tspan><tspan x="1695.4" y="1099.7" font-weight="normal">/</tspan><tspan x="1718.3" y="1099.7">P</tspan><tspan x="1770.0" y="1121.1" font-size="58" class="s">2</tspan><tspan x="1798.5" y="1099.7" letter-spacing="-1.9">Mo</tspan><tspan x="1919.3" y="1121.1" font-size="58" class="s" letter-spacing="-1.0">18</tspan><tspan x="1973.5" y="1099.7" letter-spacing="-0.46" xml:space="preserve"> -1%</tspan></text>
<text id="lab5" font-size="86"><tspan x="1871.7" y="1345.0">P</tspan><tspan x="1923.4" y="1366.4" font-size="58" class="s">2</tspan><tspan x="1951.9" y="1345.0" letter-spacing="-1.9">Mo</tspan><tspan x="2072.7" y="1366.4" font-size="58" class="s" letter-spacing="-1.0">18</tspan></text>
<text id="pdf" x="156.6" y="1536.3" font-size="86" textLength="463.6" lengthAdjust="spacingAndGlyphs">PDF 99-0060</text>
<text class="tk" x="150.6" y="1744.6" font-size="86" text-anchor="middle">10</text>
<text class="tk" x="437.1" y="1744.6" font-size="86" text-anchor="middle">20</text>
<text class="tk" x="723.5" y="1744.6" font-size="86" text-anchor="middle">30</text>
<text class="tk" x="1010.0" y="1744.6" font-size="86" text-anchor="middle">40</text>
<text class="tk" x="1296.4" y="1744.6" font-size="86" text-anchor="middle">50</text>
<text class="tk" x="1582.9" y="1744.6" font-size="86" text-anchor="middle">60</text>
<text class="tk" x="1869.3" y="1744.6" font-size="86" text-anchor="middle">70</text>
<text class="tk" x="2155.8" y="1744.6" font-size="86" text-anchor="middle">80</text>
<text id="xt" x="1153.9" y="1883.2" font-size="86" text-anchor="middle" textLength="402" lengthAdjust="spacingAndGlyphs">2θ (degree)</text>
<text id="yt" transform="translate(88.6 738) rotate(-90)" font-size="86" text-anchor="middle" textLength="529.5" lengthAdjust="spacingAndGlyphs">Intensity (a.u.)</text>
</svg></body></html>
